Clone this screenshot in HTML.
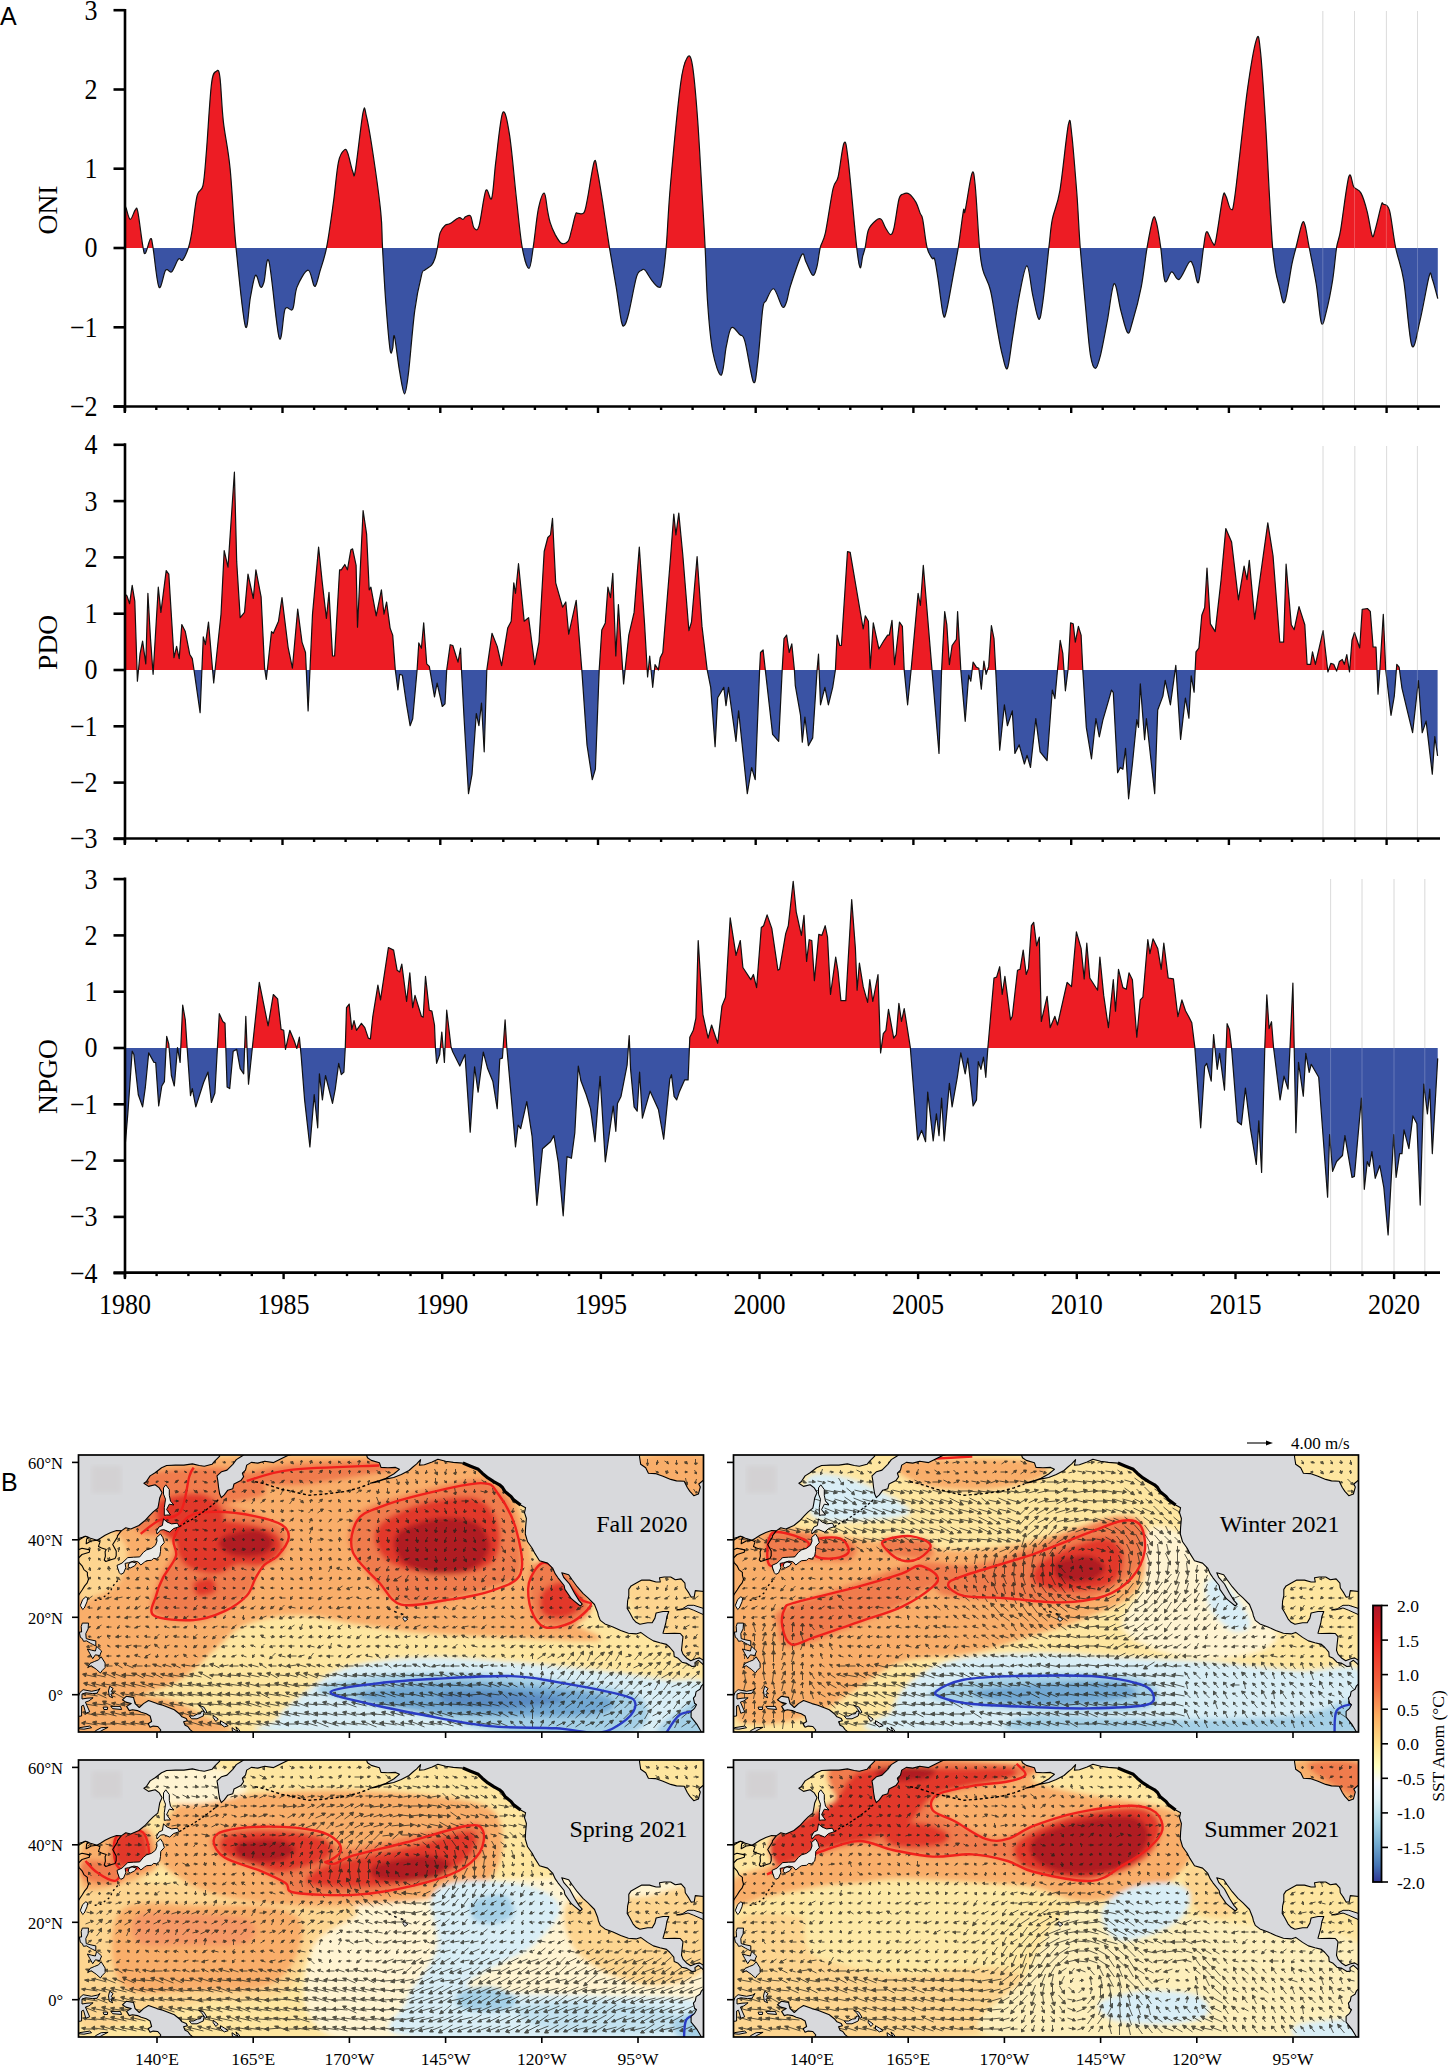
<!DOCTYPE html>
<html><head><meta charset="utf-8"><style>
html,body{margin:0;padding:0;background:#fff;}
body{width:1449px;height:2067px;position:relative;overflow:hidden;}
svg{position:absolute;left:0;top:0;}
.tk{font-family:"Liberation Serif",serif;font-size:26px;fill:#000;}
.lb{font-family:"Liberation Sans",sans-serif;font-size:25px;fill:#000;}
.mp{font-family:"Liberation Serif",serif;font-size:16.5px;fill:#000;}
.mpb{font-family:"Liberation Serif",serif;font-size:17.5px;fill:#000;}
.cb{font-family:"Liberation Serif",serif;font-size:17.5px;fill:#000;}
.pl{font-family:"Liberation Serif",serif;font-size:24px;fill:#000;}
</style></head><body>
<svg width="1449" height="2067" viewBox="0 0 1449 2067">
<text x="0" y="25" class="lb">A</text>
<text x="1" y="1491" class="lb">B</text>
<clipPath id="c_ONI_up"><rect x="0" y="0" width="1449" height="248"/></clipPath>
<clipPath id="c_ONI_dn"><rect x="0" y="248" width="1449" height="1000"/></clipPath>
<line x1="1322.8" y1="11" x2="1322.8" y2="406.5" stroke="#d4d4d4" stroke-width="1"/>
<line x1="1354.5" y1="11" x2="1354.5" y2="406.5" stroke="#d4d4d4" stroke-width="1"/>
<line x1="1386.4" y1="11" x2="1386.4" y2="406.5" stroke="#d4d4d4" stroke-width="1"/>
<line x1="1417.5" y1="11" x2="1417.5" y2="406.5" stroke="#d4d4d4" stroke-width="1"/>
<path d="M125,248 L125,207.5 C125.2,207.5 125.1,205.5 125.9,207.5 C126.8,209.5 128.6,218.9 130.2,219.4 C131.7,219.8 134,211.3 135.2,210 C136.5,208.8 136.5,205.7 137.8,211.7 C139.1,217.8 141.6,239.5 142.9,246.5 C144.1,253.4 144.1,254.5 145.4,253.2 C146.7,252 149.2,239.8 150.5,238.8 C151.8,237.9 151.6,239.3 153,247.3 C154.4,255.4 156.8,283.3 159,287.1 C161.1,290.9 163.6,272.7 165.7,270.2 C167.8,267.6 169.5,273.7 171.7,271.9 C173.8,270 176.6,261.1 178.4,259.2 C180.3,257.2 181,262 182.7,260 C184.4,258 187,252.1 188.6,247.3 C190.1,242.5 190.6,239.8 192,231.2 C193.4,222.6 195.2,203.3 197.1,195.7 C198.9,188 201.4,192.8 203,185.5 C204.5,178.2 205,168.6 206.4,151.6 C207.8,134.7 209.8,97.3 211.5,83.9 C213.1,70.5 215.1,72.3 216.5,71.2 C217.9,70 218.8,68.8 219.9,77.1 C221.1,85.4 221.6,105.9 223.3,121.1 C225,136.4 228,147.5 230.1,168.6 C232.2,189.6 233.5,221.1 236,247.3 C238.6,273.6 242.9,317.7 245.3,326.1 C247.7,334.4 248.7,305.7 250.4,297.3 C252.1,288.8 253.8,276.9 255.5,275.3 C257.2,273.6 259.2,286 260.6,287.1 C262,288.2 262.5,286.3 264,282 C265.4,277.8 266.5,252.4 269,261.7 C271.6,271 276.5,330 279.2,337.9 C281.9,345.8 282.9,313.9 285.1,309.1 C287.4,304.3 290.8,312.8 292.7,309.1 C294.7,305.5 294.4,293.6 297,287.1 C299.5,280.6 305.2,270.5 308,270.2 C310.8,269.9 312.5,283.2 313.9,285.4 C315.3,287.7 315.5,286 316.5,283.7 C317.4,281.5 318.2,277.9 319.8,271.9 C321.5,265.8 324.4,258.9 326.6,247.3 C328.9,235.7 331.4,216.7 333.4,202.4 C335.4,188.2 336.6,170.5 338.5,161.8 C340.3,153 342.8,151.3 344.4,149.9 C345.9,148.5 346.4,149.6 347.8,153.3 C349.2,157 351.6,169.1 352.9,171.9 C354.1,174.8 353.7,180.1 355.4,170.2 C357.1,160.4 361.2,121.7 363,112.7 C364.9,103.6 364.7,109 366.4,116.1 C368.1,123.1 370.8,138.9 373.2,155 C375.6,171.1 379.3,197.2 380.8,212.6 C382.4,228 381.7,232.1 382.5,247.3 C383.3,262.5 384.6,287 385.9,304 C387.2,321.1 389,342.4 390.1,349.8 C391.3,357.1 392,350.3 392.7,348.1 C393.4,345.8 393.2,332.6 394.4,336.2 C395.5,339.9 397.7,360.5 399.4,370.1 C401.1,379.7 403,393.8 404.5,393.8 C406.1,393.8 407.1,383.9 408.8,370.1 C410.4,356.3 412.6,326.6 414.7,310.8 C416.8,295 419.8,282 421.5,275.3 C423.1,268.5 423.1,271.9 424.8,270.2 C426.5,268.5 429.9,267.1 431.6,265.1 C433.3,263.1 434,261.3 435,258.3 C436,255.4 436.7,251.5 437.5,247.3 C438.4,243.1 438.8,236.6 440.1,232.9 C441.4,229.2 443.5,226.8 445.2,225.3 C446.9,223.7 448,224.9 450.2,223.6 C452.5,222.3 456.6,218.4 458.7,217.7 C460.8,217 461.8,219.5 462.9,219.4 C464.1,219.2 464.2,217.4 465.5,216.8 C466.8,216.3 469.2,214.1 470.6,216 C472,217.8 472.5,226.1 474,227.8 C475.4,229.5 477.1,232.3 479,226.1 C481,219.9 483.7,195.2 485.8,190.6 C487.9,185.9 490,203.3 491.7,198.2 C493.4,193.1 494.1,174.3 496,160.1 C497.8,145.8 500.5,116.9 502.7,112.7 C505,108.4 507.3,120.6 509.5,134.7 C511.8,148.8 514.2,178.6 516.3,197.3 C518.4,216.1 520.1,235.5 522.2,247.3 C524.3,259.2 527.2,268.5 529,268.5 C530.8,268.5 531.7,257.2 533.2,247.3 C534.8,237.4 536.5,218.2 538.3,209.2 C540.2,200.2 542.7,192.8 544.2,193.1 C545.8,193.4 546.6,206 547.6,210.9 C548.6,215.8 548.9,218.8 550.2,222.7 C551.4,226.7 553.4,231.2 555.2,234.6 C557.1,238 559.1,241.9 561.2,243.1 C563.3,244.2 566.3,243.4 567.9,241.4 C569.6,239.4 570.1,235.7 571.3,231.2 C572.6,226.7 574.4,217.2 575.6,214.3 C576.7,211.3 576.7,213.7 578.1,213.4 C579.5,213.2 582.5,215 584,212.6 C585.6,210.2 585.7,207.5 587.4,199 C589.1,190.6 592.5,166.3 594.2,161.8 C595.9,157.3 596.2,165.2 597.6,171.9 C599,178.7 600.7,189.9 602.7,202.4 C604.6,215 607.2,233.2 609.4,247.3 C611.7,261.4 614.2,274.8 616.2,287.1 C618.2,299.4 619.9,314.6 621.3,321 C622.7,327.3 623.4,326.6 624.7,325.2 C626,323.8 626.9,320.6 628.9,312.5 C630.9,304.5 634.4,284 636.5,276.9 C638.7,269.9 640.2,271.3 641.6,270.2 C643,269 643.3,268.5 645,270.2 C646.7,271.9 649.5,277.5 651.8,280.3 C654,283.2 656.9,286.8 658.6,287.1 C660.2,287.4 660.7,288.7 661.9,282 C663.2,275.4 664.8,263.4 666.2,247.3 C667.6,231.2 668,212.7 670.4,185.5 C672.8,158.3 677.7,105.2 680.6,83.9 C683.4,62.6 685.4,60.7 687.3,57.6 C689.3,54.5 690.7,55.2 692.4,65.2 C694.1,75.3 695.8,94.9 697.5,117.7 C699.2,140.6 701.3,180.8 702.6,202.4 C703.9,224 704.3,230.4 705.1,247.3 C706,264.2 706.4,286.7 707.7,304 C708.9,321.4 710.5,339.6 712.7,351.5 C715,363.3 719,376 721.2,375.2 C723.5,374.3 724.6,354.3 726.3,346.4 C728,338.5 729.1,329.7 731.4,327.8 C733.6,325.8 737.6,332.3 739.8,334.5 C742.1,336.8 742.7,333.4 744.9,341.3 C747.2,349.2 751.3,378.3 753.4,382 C755.5,385.6 756.1,375.5 757.6,363.3 C759.2,351.2 761.3,319.6 762.7,309.1 C764.1,298.7 764.3,304 766.1,300.7 C767.9,297.3 771,287.8 773.7,288.8 C776.4,289.8 780.1,304.3 782.2,306.6 C784.3,308.8 785,305.9 786.4,302.3 C787.8,298.8 788.1,293.3 790.6,285.4 C793.2,277.5 799.1,258.9 801.7,254.9 C804.2,251 804.1,258.3 805.9,261.7 C807.7,265.1 810.8,274.4 812.7,275.3 C814.5,276.1 815.6,271.4 816.9,266.8 C818.2,262.1 818.9,253 820.3,247.3 C821.7,241.7 823.2,242.6 825.4,232.9 C827.5,223.2 830.9,198.2 833,188.9 C835.1,179.6 836.2,184.6 838.1,177 C839.9,169.4 842.3,146 844,143.1 C845.7,140.3 846.1,142.7 848.2,160.1 C850.3,177.4 854.7,229.4 856.7,247.3 C858.7,265.2 859.1,266.1 860.1,267.6 C861.1,269.2 861.8,260 862.6,256.6 C863.5,253.2 864.2,251.8 865.2,247.3 C866.2,242.8 866.7,234 868.6,229.5 C870.4,225 874.1,221.9 876.2,220.2 C878.3,218.5 879.7,218.1 881.3,219.4 C882.8,220.6 883.9,225.3 885.5,227.8 C887,230.4 889.2,234.6 890.6,234.6 C892,234.6 892.5,233.8 894,227.8 C895.4,221.9 897.5,204.7 899,199 C900.6,193.4 901.6,194.8 903.3,194 C905,193.1 907.1,192.5 909.2,194 C911.3,195.4 914.1,199.2 916,202.4 C917.8,205.7 919.1,210.6 920.2,213.4 C921.3,216.3 921.6,213.7 922.7,219.4 C923.9,225 925.4,240.8 927,247.3 C928.5,253.8 930.8,256.3 932.1,258.3 C933.3,260.3 933.6,255.8 934.6,259.2 C935.6,262.5 936.6,269.5 938,278.6 C939.4,287.8 941.7,308.8 943.1,314.2 C944.5,319.6 944.8,317.3 946.5,310.8 C948.2,304.3 951.3,285.8 953.2,275.3 C955.2,264.7 956.6,258 958.3,247.3 C960,236.6 962.3,217 963.4,210.9 C964.5,204.8 963.7,217.1 965.1,210.9 C966.5,204.7 970.2,177.9 971.9,173.6 C973.5,169.4 974,173.2 975.2,185.5 C976.5,197.8 978.2,233.2 979.5,247.3 C980.7,261.4 981,263 982.9,270.2 C984.7,277.4 988.1,280.6 990.5,290.5 C992.9,300.4 995.3,318.7 997.3,329.4 C999.2,340.2 1000.6,348.4 1002.3,354.9 C1004,361.3 1005.7,371.2 1007.4,368.4 C1009.1,365.6 1010.5,350.1 1012.5,337.9 C1014.5,325.8 1016.9,307.6 1019.3,295.6 C1021.7,283.6 1024.6,265.9 1026.9,265.9 C1029.2,265.9 1030.8,286.7 1032.8,295.6 C1034.8,304.5 1037.1,318.4 1038.8,319.3 C1040.4,320.1 1041.3,312.7 1043,300.7 C1044.7,288.7 1047.4,260.9 1048.9,247.3 C1050.5,233.8 1050.5,228.8 1052.3,219.4 C1054.1,209.9 1057.2,206.4 1059.9,190.6 C1062.6,174.8 1066.4,133.8 1068.4,124.5 C1070.4,115.2 1070.4,123.1 1071.8,134.7 C1073.2,146.3 1075.4,175.2 1076.9,194 C1078.3,212.7 1078.8,229 1080.2,247.3 C1081.7,265.7 1083.6,286.1 1085.3,304 C1087,322 1088.7,344.1 1090.4,354.9 C1092.1,365.6 1093.8,368.4 1095.5,368.4 C1097.2,368.4 1098.6,362.8 1100.6,354.9 C1102.5,346.9 1105.1,332.8 1107.3,321 C1109.6,309.1 1111.9,285.4 1114.1,283.7 C1116.4,282 1118.6,302.6 1120.9,310.8 C1123.2,319 1125.7,331.1 1127.7,332.8 C1129.6,334.5 1130.5,328.6 1132.7,321 C1135,313.4 1138.8,299.4 1141.2,287.1 C1143.6,274.8 1145.2,258.7 1147.1,247.3 C1149.1,235.9 1151.5,222.6 1153.1,218.5 C1154.6,214.4 1155.2,218 1156.5,222.7 C1157.7,227.5 1159.3,237.6 1160.7,247.3 C1162.1,257 1163.1,277.1 1164.9,281.2 C1166.8,285.3 1169.3,272.2 1171.7,271.9 C1174.1,271.6 1176.2,281 1179.1,279.4 C1182.1,277.8 1186.9,264.3 1189.3,262.1 C1191.7,259.9 1191.8,262.8 1193.4,266.2 C1194.9,269.6 1196.8,285.6 1198.4,282.5 C1200.1,279.3 1202.2,256 1203.5,247.5 C1204.9,239 1205.1,232.4 1206.6,231.7 C1208.1,230.9 1211.2,241.3 1212.7,242.8 C1214.2,244.4 1214,248.4 1215.7,240.8 C1217.4,233.2 1221.1,204.6 1222.8,197.1 C1224.5,189.7 1224.5,194.1 1225.9,196.1 C1227.2,198.1 1229.4,209.5 1231,209.3 C1232.5,209.1 1232.3,214.7 1235,195.1 C1237.7,175.4 1243.7,117.4 1247.2,91.4 C1250.8,65.5 1254.2,46.4 1256.4,39.6 C1258.6,32.9 1258.9,37.1 1260.4,50.8 C1262,64.5 1263.5,89.1 1265.5,121.9 C1267.5,154.7 1270.3,219.7 1272.6,247.5 C1275,275.3 1277.7,279.5 1279.7,288.6 C1281.8,297.6 1282.8,305.8 1284.8,301.8 C1286.8,297.7 1290.1,273.2 1291.9,264.2 C1293.8,255.1 1294.3,254.3 1296,247.5 C1297.7,240.7 1300.6,227.2 1302.1,223.5 C1303.6,219.9 1303.9,221.6 1305.1,225.6 C1306.3,229.6 1307.3,237.7 1309.2,247.5 C1311.1,257.3 1314.3,271.9 1316.3,284.5 C1318.3,297.1 1319.7,318.7 1321.4,323.1 C1323.1,327.5 1324.6,318 1326.5,310.9 C1328.3,303.8 1330.9,291 1332.6,280.4 C1334.3,269.9 1335.3,256 1336.6,247.5 C1338,239 1338.7,241.4 1340.7,229.6 C1342.7,217.8 1346.6,183.9 1348.8,176.8 C1351,169.7 1351.9,184.2 1353.9,187 C1355.9,189.7 1358.8,189 1361,193.1 C1363.2,197.1 1365.3,204.2 1367.1,211.3 C1369,218.5 1370.8,232.7 1372.2,235.7 C1373.5,238.8 1373.7,234.7 1375.2,229.6 C1376.8,224.5 1380,209.5 1381.3,205.2 C1382.7,201 1382,203.4 1383.4,204.2 C1384.7,205.1 1387.4,203.1 1389.5,210.3 C1391.5,217.5 1393.2,235.8 1395.6,247.5 C1397.9,259.2 1401,264.1 1403.7,280.4 C1406.4,296.8 1409.1,338.7 1411.8,345.5 C1414.5,352.2 1417.1,332.6 1419.9,321.1 C1422.8,309.6 1427.1,283.5 1429.1,276.4 C1431.1,269.3 1430.7,274.7 1432.1,278.4 C1433.6,282.1 1436.9,295.3 1437.8,298.7 L1437.8,248 Z" fill="#ed1c24" clip-path="url(#c_ONI_up)"/>
<path d="M125,248 L125,207.5 C125.2,207.5 125.1,205.5 125.9,207.5 C126.8,209.5 128.6,218.9 130.2,219.4 C131.7,219.8 134,211.3 135.2,210 C136.5,208.8 136.5,205.7 137.8,211.7 C139.1,217.8 141.6,239.5 142.9,246.5 C144.1,253.4 144.1,254.5 145.4,253.2 C146.7,252 149.2,239.8 150.5,238.8 C151.8,237.9 151.6,239.3 153,247.3 C154.4,255.4 156.8,283.3 159,287.1 C161.1,290.9 163.6,272.7 165.7,270.2 C167.8,267.6 169.5,273.7 171.7,271.9 C173.8,270 176.6,261.1 178.4,259.2 C180.3,257.2 181,262 182.7,260 C184.4,258 187,252.1 188.6,247.3 C190.1,242.5 190.6,239.8 192,231.2 C193.4,222.6 195.2,203.3 197.1,195.7 C198.9,188 201.4,192.8 203,185.5 C204.5,178.2 205,168.6 206.4,151.6 C207.8,134.7 209.8,97.3 211.5,83.9 C213.1,70.5 215.1,72.3 216.5,71.2 C217.9,70 218.8,68.8 219.9,77.1 C221.1,85.4 221.6,105.9 223.3,121.1 C225,136.4 228,147.5 230.1,168.6 C232.2,189.6 233.5,221.1 236,247.3 C238.6,273.6 242.9,317.7 245.3,326.1 C247.7,334.4 248.7,305.7 250.4,297.3 C252.1,288.8 253.8,276.9 255.5,275.3 C257.2,273.6 259.2,286 260.6,287.1 C262,288.2 262.5,286.3 264,282 C265.4,277.8 266.5,252.4 269,261.7 C271.6,271 276.5,330 279.2,337.9 C281.9,345.8 282.9,313.9 285.1,309.1 C287.4,304.3 290.8,312.8 292.7,309.1 C294.7,305.5 294.4,293.6 297,287.1 C299.5,280.6 305.2,270.5 308,270.2 C310.8,269.9 312.5,283.2 313.9,285.4 C315.3,287.7 315.5,286 316.5,283.7 C317.4,281.5 318.2,277.9 319.8,271.9 C321.5,265.8 324.4,258.9 326.6,247.3 C328.9,235.7 331.4,216.7 333.4,202.4 C335.4,188.2 336.6,170.5 338.5,161.8 C340.3,153 342.8,151.3 344.4,149.9 C345.9,148.5 346.4,149.6 347.8,153.3 C349.2,157 351.6,169.1 352.9,171.9 C354.1,174.8 353.7,180.1 355.4,170.2 C357.1,160.4 361.2,121.7 363,112.7 C364.9,103.6 364.7,109 366.4,116.1 C368.1,123.1 370.8,138.9 373.2,155 C375.6,171.1 379.3,197.2 380.8,212.6 C382.4,228 381.7,232.1 382.5,247.3 C383.3,262.5 384.6,287 385.9,304 C387.2,321.1 389,342.4 390.1,349.8 C391.3,357.1 392,350.3 392.7,348.1 C393.4,345.8 393.2,332.6 394.4,336.2 C395.5,339.9 397.7,360.5 399.4,370.1 C401.1,379.7 403,393.8 404.5,393.8 C406.1,393.8 407.1,383.9 408.8,370.1 C410.4,356.3 412.6,326.6 414.7,310.8 C416.8,295 419.8,282 421.5,275.3 C423.1,268.5 423.1,271.9 424.8,270.2 C426.5,268.5 429.9,267.1 431.6,265.1 C433.3,263.1 434,261.3 435,258.3 C436,255.4 436.7,251.5 437.5,247.3 C438.4,243.1 438.8,236.6 440.1,232.9 C441.4,229.2 443.5,226.8 445.2,225.3 C446.9,223.7 448,224.9 450.2,223.6 C452.5,222.3 456.6,218.4 458.7,217.7 C460.8,217 461.8,219.5 462.9,219.4 C464.1,219.2 464.2,217.4 465.5,216.8 C466.8,216.3 469.2,214.1 470.6,216 C472,217.8 472.5,226.1 474,227.8 C475.4,229.5 477.1,232.3 479,226.1 C481,219.9 483.7,195.2 485.8,190.6 C487.9,185.9 490,203.3 491.7,198.2 C493.4,193.1 494.1,174.3 496,160.1 C497.8,145.8 500.5,116.9 502.7,112.7 C505,108.4 507.3,120.6 509.5,134.7 C511.8,148.8 514.2,178.6 516.3,197.3 C518.4,216.1 520.1,235.5 522.2,247.3 C524.3,259.2 527.2,268.5 529,268.5 C530.8,268.5 531.7,257.2 533.2,247.3 C534.8,237.4 536.5,218.2 538.3,209.2 C540.2,200.2 542.7,192.8 544.2,193.1 C545.8,193.4 546.6,206 547.6,210.9 C548.6,215.8 548.9,218.8 550.2,222.7 C551.4,226.7 553.4,231.2 555.2,234.6 C557.1,238 559.1,241.9 561.2,243.1 C563.3,244.2 566.3,243.4 567.9,241.4 C569.6,239.4 570.1,235.7 571.3,231.2 C572.6,226.7 574.4,217.2 575.6,214.3 C576.7,211.3 576.7,213.7 578.1,213.4 C579.5,213.2 582.5,215 584,212.6 C585.6,210.2 585.7,207.5 587.4,199 C589.1,190.6 592.5,166.3 594.2,161.8 C595.9,157.3 596.2,165.2 597.6,171.9 C599,178.7 600.7,189.9 602.7,202.4 C604.6,215 607.2,233.2 609.4,247.3 C611.7,261.4 614.2,274.8 616.2,287.1 C618.2,299.4 619.9,314.6 621.3,321 C622.7,327.3 623.4,326.6 624.7,325.2 C626,323.8 626.9,320.6 628.9,312.5 C630.9,304.5 634.4,284 636.5,276.9 C638.7,269.9 640.2,271.3 641.6,270.2 C643,269 643.3,268.5 645,270.2 C646.7,271.9 649.5,277.5 651.8,280.3 C654,283.2 656.9,286.8 658.6,287.1 C660.2,287.4 660.7,288.7 661.9,282 C663.2,275.4 664.8,263.4 666.2,247.3 C667.6,231.2 668,212.7 670.4,185.5 C672.8,158.3 677.7,105.2 680.6,83.9 C683.4,62.6 685.4,60.7 687.3,57.6 C689.3,54.5 690.7,55.2 692.4,65.2 C694.1,75.3 695.8,94.9 697.5,117.7 C699.2,140.6 701.3,180.8 702.6,202.4 C703.9,224 704.3,230.4 705.1,247.3 C706,264.2 706.4,286.7 707.7,304 C708.9,321.4 710.5,339.6 712.7,351.5 C715,363.3 719,376 721.2,375.2 C723.5,374.3 724.6,354.3 726.3,346.4 C728,338.5 729.1,329.7 731.4,327.8 C733.6,325.8 737.6,332.3 739.8,334.5 C742.1,336.8 742.7,333.4 744.9,341.3 C747.2,349.2 751.3,378.3 753.4,382 C755.5,385.6 756.1,375.5 757.6,363.3 C759.2,351.2 761.3,319.6 762.7,309.1 C764.1,298.7 764.3,304 766.1,300.7 C767.9,297.3 771,287.8 773.7,288.8 C776.4,289.8 780.1,304.3 782.2,306.6 C784.3,308.8 785,305.9 786.4,302.3 C787.8,298.8 788.1,293.3 790.6,285.4 C793.2,277.5 799.1,258.9 801.7,254.9 C804.2,251 804.1,258.3 805.9,261.7 C807.7,265.1 810.8,274.4 812.7,275.3 C814.5,276.1 815.6,271.4 816.9,266.8 C818.2,262.1 818.9,253 820.3,247.3 C821.7,241.7 823.2,242.6 825.4,232.9 C827.5,223.2 830.9,198.2 833,188.9 C835.1,179.6 836.2,184.6 838.1,177 C839.9,169.4 842.3,146 844,143.1 C845.7,140.3 846.1,142.7 848.2,160.1 C850.3,177.4 854.7,229.4 856.7,247.3 C858.7,265.2 859.1,266.1 860.1,267.6 C861.1,269.2 861.8,260 862.6,256.6 C863.5,253.2 864.2,251.8 865.2,247.3 C866.2,242.8 866.7,234 868.6,229.5 C870.4,225 874.1,221.9 876.2,220.2 C878.3,218.5 879.7,218.1 881.3,219.4 C882.8,220.6 883.9,225.3 885.5,227.8 C887,230.4 889.2,234.6 890.6,234.6 C892,234.6 892.5,233.8 894,227.8 C895.4,221.9 897.5,204.7 899,199 C900.6,193.4 901.6,194.8 903.3,194 C905,193.1 907.1,192.5 909.2,194 C911.3,195.4 914.1,199.2 916,202.4 C917.8,205.7 919.1,210.6 920.2,213.4 C921.3,216.3 921.6,213.7 922.7,219.4 C923.9,225 925.4,240.8 927,247.3 C928.5,253.8 930.8,256.3 932.1,258.3 C933.3,260.3 933.6,255.8 934.6,259.2 C935.6,262.5 936.6,269.5 938,278.6 C939.4,287.8 941.7,308.8 943.1,314.2 C944.5,319.6 944.8,317.3 946.5,310.8 C948.2,304.3 951.3,285.8 953.2,275.3 C955.2,264.7 956.6,258 958.3,247.3 C960,236.6 962.3,217 963.4,210.9 C964.5,204.8 963.7,217.1 965.1,210.9 C966.5,204.7 970.2,177.9 971.9,173.6 C973.5,169.4 974,173.2 975.2,185.5 C976.5,197.8 978.2,233.2 979.5,247.3 C980.7,261.4 981,263 982.9,270.2 C984.7,277.4 988.1,280.6 990.5,290.5 C992.9,300.4 995.3,318.7 997.3,329.4 C999.2,340.2 1000.6,348.4 1002.3,354.9 C1004,361.3 1005.7,371.2 1007.4,368.4 C1009.1,365.6 1010.5,350.1 1012.5,337.9 C1014.5,325.8 1016.9,307.6 1019.3,295.6 C1021.7,283.6 1024.6,265.9 1026.9,265.9 C1029.2,265.9 1030.8,286.7 1032.8,295.6 C1034.8,304.5 1037.1,318.4 1038.8,319.3 C1040.4,320.1 1041.3,312.7 1043,300.7 C1044.7,288.7 1047.4,260.9 1048.9,247.3 C1050.5,233.8 1050.5,228.8 1052.3,219.4 C1054.1,209.9 1057.2,206.4 1059.9,190.6 C1062.6,174.8 1066.4,133.8 1068.4,124.5 C1070.4,115.2 1070.4,123.1 1071.8,134.7 C1073.2,146.3 1075.4,175.2 1076.9,194 C1078.3,212.7 1078.8,229 1080.2,247.3 C1081.7,265.7 1083.6,286.1 1085.3,304 C1087,322 1088.7,344.1 1090.4,354.9 C1092.1,365.6 1093.8,368.4 1095.5,368.4 C1097.2,368.4 1098.6,362.8 1100.6,354.9 C1102.5,346.9 1105.1,332.8 1107.3,321 C1109.6,309.1 1111.9,285.4 1114.1,283.7 C1116.4,282 1118.6,302.6 1120.9,310.8 C1123.2,319 1125.7,331.1 1127.7,332.8 C1129.6,334.5 1130.5,328.6 1132.7,321 C1135,313.4 1138.8,299.4 1141.2,287.1 C1143.6,274.8 1145.2,258.7 1147.1,247.3 C1149.1,235.9 1151.5,222.6 1153.1,218.5 C1154.6,214.4 1155.2,218 1156.5,222.7 C1157.7,227.5 1159.3,237.6 1160.7,247.3 C1162.1,257 1163.1,277.1 1164.9,281.2 C1166.8,285.3 1169.3,272.2 1171.7,271.9 C1174.1,271.6 1176.2,281 1179.1,279.4 C1182.1,277.8 1186.9,264.3 1189.3,262.1 C1191.7,259.9 1191.8,262.8 1193.4,266.2 C1194.9,269.6 1196.8,285.6 1198.4,282.5 C1200.1,279.3 1202.2,256 1203.5,247.5 C1204.9,239 1205.1,232.4 1206.6,231.7 C1208.1,230.9 1211.2,241.3 1212.7,242.8 C1214.2,244.4 1214,248.4 1215.7,240.8 C1217.4,233.2 1221.1,204.6 1222.8,197.1 C1224.5,189.7 1224.5,194.1 1225.9,196.1 C1227.2,198.1 1229.4,209.5 1231,209.3 C1232.5,209.1 1232.3,214.7 1235,195.1 C1237.7,175.4 1243.7,117.4 1247.2,91.4 C1250.8,65.5 1254.2,46.4 1256.4,39.6 C1258.6,32.9 1258.9,37.1 1260.4,50.8 C1262,64.5 1263.5,89.1 1265.5,121.9 C1267.5,154.7 1270.3,219.7 1272.6,247.5 C1275,275.3 1277.7,279.5 1279.7,288.6 C1281.8,297.6 1282.8,305.8 1284.8,301.8 C1286.8,297.7 1290.1,273.2 1291.9,264.2 C1293.8,255.1 1294.3,254.3 1296,247.5 C1297.7,240.7 1300.6,227.2 1302.1,223.5 C1303.6,219.9 1303.9,221.6 1305.1,225.6 C1306.3,229.6 1307.3,237.7 1309.2,247.5 C1311.1,257.3 1314.3,271.9 1316.3,284.5 C1318.3,297.1 1319.7,318.7 1321.4,323.1 C1323.1,327.5 1324.6,318 1326.5,310.9 C1328.3,303.8 1330.9,291 1332.6,280.4 C1334.3,269.9 1335.3,256 1336.6,247.5 C1338,239 1338.7,241.4 1340.7,229.6 C1342.7,217.8 1346.6,183.9 1348.8,176.8 C1351,169.7 1351.9,184.2 1353.9,187 C1355.9,189.7 1358.8,189 1361,193.1 C1363.2,197.1 1365.3,204.2 1367.1,211.3 C1369,218.5 1370.8,232.7 1372.2,235.7 C1373.5,238.8 1373.7,234.7 1375.2,229.6 C1376.8,224.5 1380,209.5 1381.3,205.2 C1382.7,201 1382,203.4 1383.4,204.2 C1384.7,205.1 1387.4,203.1 1389.5,210.3 C1391.5,217.5 1393.2,235.8 1395.6,247.5 C1397.9,259.2 1401,264.1 1403.7,280.4 C1406.4,296.8 1409.1,338.7 1411.8,345.5 C1414.5,352.2 1417.1,332.6 1419.9,321.1 C1422.8,309.6 1427.1,283.5 1429.1,276.4 C1431.1,269.3 1430.7,274.7 1432.1,278.4 C1433.6,282.1 1436.9,295.3 1437.8,298.7 L1437.8,248 Z" fill="#3a53a4" clip-path="url(#c_ONI_dn)"/>
<path d="M125,207.5 C125.2,207.5 125.1,205.5 125.9,207.5 C126.8,209.5 128.6,218.9 130.2,219.4 C131.7,219.8 134,211.3 135.2,210 C136.5,208.8 136.5,205.7 137.8,211.7 C139.1,217.8 141.6,239.5 142.9,246.5 C144.1,253.4 144.1,254.5 145.4,253.2 C146.7,252 149.2,239.8 150.5,238.8 C151.8,237.9 151.6,239.3 153,247.3 C154.4,255.4 156.8,283.3 159,287.1 C161.1,290.9 163.6,272.7 165.7,270.2 C167.8,267.6 169.5,273.7 171.7,271.9 C173.8,270 176.6,261.1 178.4,259.2 C180.3,257.2 181,262 182.7,260 C184.4,258 187,252.1 188.6,247.3 C190.1,242.5 190.6,239.8 192,231.2 C193.4,222.6 195.2,203.3 197.1,195.7 C198.9,188 201.4,192.8 203,185.5 C204.5,178.2 205,168.6 206.4,151.6 C207.8,134.7 209.8,97.3 211.5,83.9 C213.1,70.5 215.1,72.3 216.5,71.2 C217.9,70 218.8,68.8 219.9,77.1 C221.1,85.4 221.6,105.9 223.3,121.1 C225,136.4 228,147.5 230.1,168.6 C232.2,189.6 233.5,221.1 236,247.3 C238.6,273.6 242.9,317.7 245.3,326.1 C247.7,334.4 248.7,305.7 250.4,297.3 C252.1,288.8 253.8,276.9 255.5,275.3 C257.2,273.6 259.2,286 260.6,287.1 C262,288.2 262.5,286.3 264,282 C265.4,277.8 266.5,252.4 269,261.7 C271.6,271 276.5,330 279.2,337.9 C281.9,345.8 282.9,313.9 285.1,309.1 C287.4,304.3 290.8,312.8 292.7,309.1 C294.7,305.5 294.4,293.6 297,287.1 C299.5,280.6 305.2,270.5 308,270.2 C310.8,269.9 312.5,283.2 313.9,285.4 C315.3,287.7 315.5,286 316.5,283.7 C317.4,281.5 318.2,277.9 319.8,271.9 C321.5,265.8 324.4,258.9 326.6,247.3 C328.9,235.7 331.4,216.7 333.4,202.4 C335.4,188.2 336.6,170.5 338.5,161.8 C340.3,153 342.8,151.3 344.4,149.9 C345.9,148.5 346.4,149.6 347.8,153.3 C349.2,157 351.6,169.1 352.9,171.9 C354.1,174.8 353.7,180.1 355.4,170.2 C357.1,160.4 361.2,121.7 363,112.7 C364.9,103.6 364.7,109 366.4,116.1 C368.1,123.1 370.8,138.9 373.2,155 C375.6,171.1 379.3,197.2 380.8,212.6 C382.4,228 381.7,232.1 382.5,247.3 C383.3,262.5 384.6,287 385.9,304 C387.2,321.1 389,342.4 390.1,349.8 C391.3,357.1 392,350.3 392.7,348.1 C393.4,345.8 393.2,332.6 394.4,336.2 C395.5,339.9 397.7,360.5 399.4,370.1 C401.1,379.7 403,393.8 404.5,393.8 C406.1,393.8 407.1,383.9 408.8,370.1 C410.4,356.3 412.6,326.6 414.7,310.8 C416.8,295 419.8,282 421.5,275.3 C423.1,268.5 423.1,271.9 424.8,270.2 C426.5,268.5 429.9,267.1 431.6,265.1 C433.3,263.1 434,261.3 435,258.3 C436,255.4 436.7,251.5 437.5,247.3 C438.4,243.1 438.8,236.6 440.1,232.9 C441.4,229.2 443.5,226.8 445.2,225.3 C446.9,223.7 448,224.9 450.2,223.6 C452.5,222.3 456.6,218.4 458.7,217.7 C460.8,217 461.8,219.5 462.9,219.4 C464.1,219.2 464.2,217.4 465.5,216.8 C466.8,216.3 469.2,214.1 470.6,216 C472,217.8 472.5,226.1 474,227.8 C475.4,229.5 477.1,232.3 479,226.1 C481,219.9 483.7,195.2 485.8,190.6 C487.9,185.9 490,203.3 491.7,198.2 C493.4,193.1 494.1,174.3 496,160.1 C497.8,145.8 500.5,116.9 502.7,112.7 C505,108.4 507.3,120.6 509.5,134.7 C511.8,148.8 514.2,178.6 516.3,197.3 C518.4,216.1 520.1,235.5 522.2,247.3 C524.3,259.2 527.2,268.5 529,268.5 C530.8,268.5 531.7,257.2 533.2,247.3 C534.8,237.4 536.5,218.2 538.3,209.2 C540.2,200.2 542.7,192.8 544.2,193.1 C545.8,193.4 546.6,206 547.6,210.9 C548.6,215.8 548.9,218.8 550.2,222.7 C551.4,226.7 553.4,231.2 555.2,234.6 C557.1,238 559.1,241.9 561.2,243.1 C563.3,244.2 566.3,243.4 567.9,241.4 C569.6,239.4 570.1,235.7 571.3,231.2 C572.6,226.7 574.4,217.2 575.6,214.3 C576.7,211.3 576.7,213.7 578.1,213.4 C579.5,213.2 582.5,215 584,212.6 C585.6,210.2 585.7,207.5 587.4,199 C589.1,190.6 592.5,166.3 594.2,161.8 C595.9,157.3 596.2,165.2 597.6,171.9 C599,178.7 600.7,189.9 602.7,202.4 C604.6,215 607.2,233.2 609.4,247.3 C611.7,261.4 614.2,274.8 616.2,287.1 C618.2,299.4 619.9,314.6 621.3,321 C622.7,327.3 623.4,326.6 624.7,325.2 C626,323.8 626.9,320.6 628.9,312.5 C630.9,304.5 634.4,284 636.5,276.9 C638.7,269.9 640.2,271.3 641.6,270.2 C643,269 643.3,268.5 645,270.2 C646.7,271.9 649.5,277.5 651.8,280.3 C654,283.2 656.9,286.8 658.6,287.1 C660.2,287.4 660.7,288.7 661.9,282 C663.2,275.4 664.8,263.4 666.2,247.3 C667.6,231.2 668,212.7 670.4,185.5 C672.8,158.3 677.7,105.2 680.6,83.9 C683.4,62.6 685.4,60.7 687.3,57.6 C689.3,54.5 690.7,55.2 692.4,65.2 C694.1,75.3 695.8,94.9 697.5,117.7 C699.2,140.6 701.3,180.8 702.6,202.4 C703.9,224 704.3,230.4 705.1,247.3 C706,264.2 706.4,286.7 707.7,304 C708.9,321.4 710.5,339.6 712.7,351.5 C715,363.3 719,376 721.2,375.2 C723.5,374.3 724.6,354.3 726.3,346.4 C728,338.5 729.1,329.7 731.4,327.8 C733.6,325.8 737.6,332.3 739.8,334.5 C742.1,336.8 742.7,333.4 744.9,341.3 C747.2,349.2 751.3,378.3 753.4,382 C755.5,385.6 756.1,375.5 757.6,363.3 C759.2,351.2 761.3,319.6 762.7,309.1 C764.1,298.7 764.3,304 766.1,300.7 C767.9,297.3 771,287.8 773.7,288.8 C776.4,289.8 780.1,304.3 782.2,306.6 C784.3,308.8 785,305.9 786.4,302.3 C787.8,298.8 788.1,293.3 790.6,285.4 C793.2,277.5 799.1,258.9 801.7,254.9 C804.2,251 804.1,258.3 805.9,261.7 C807.7,265.1 810.8,274.4 812.7,275.3 C814.5,276.1 815.6,271.4 816.9,266.8 C818.2,262.1 818.9,253 820.3,247.3 C821.7,241.7 823.2,242.6 825.4,232.9 C827.5,223.2 830.9,198.2 833,188.9 C835.1,179.6 836.2,184.6 838.1,177 C839.9,169.4 842.3,146 844,143.1 C845.7,140.3 846.1,142.7 848.2,160.1 C850.3,177.4 854.7,229.4 856.7,247.3 C858.7,265.2 859.1,266.1 860.1,267.6 C861.1,269.2 861.8,260 862.6,256.6 C863.5,253.2 864.2,251.8 865.2,247.3 C866.2,242.8 866.7,234 868.6,229.5 C870.4,225 874.1,221.9 876.2,220.2 C878.3,218.5 879.7,218.1 881.3,219.4 C882.8,220.6 883.9,225.3 885.5,227.8 C887,230.4 889.2,234.6 890.6,234.6 C892,234.6 892.5,233.8 894,227.8 C895.4,221.9 897.5,204.7 899,199 C900.6,193.4 901.6,194.8 903.3,194 C905,193.1 907.1,192.5 909.2,194 C911.3,195.4 914.1,199.2 916,202.4 C917.8,205.7 919.1,210.6 920.2,213.4 C921.3,216.3 921.6,213.7 922.7,219.4 C923.9,225 925.4,240.8 927,247.3 C928.5,253.8 930.8,256.3 932.1,258.3 C933.3,260.3 933.6,255.8 934.6,259.2 C935.6,262.5 936.6,269.5 938,278.6 C939.4,287.8 941.7,308.8 943.1,314.2 C944.5,319.6 944.8,317.3 946.5,310.8 C948.2,304.3 951.3,285.8 953.2,275.3 C955.2,264.7 956.6,258 958.3,247.3 C960,236.6 962.3,217 963.4,210.9 C964.5,204.8 963.7,217.1 965.1,210.9 C966.5,204.7 970.2,177.9 971.9,173.6 C973.5,169.4 974,173.2 975.2,185.5 C976.5,197.8 978.2,233.2 979.5,247.3 C980.7,261.4 981,263 982.9,270.2 C984.7,277.4 988.1,280.6 990.5,290.5 C992.9,300.4 995.3,318.7 997.3,329.4 C999.2,340.2 1000.6,348.4 1002.3,354.9 C1004,361.3 1005.7,371.2 1007.4,368.4 C1009.1,365.6 1010.5,350.1 1012.5,337.9 C1014.5,325.8 1016.9,307.6 1019.3,295.6 C1021.7,283.6 1024.6,265.9 1026.9,265.9 C1029.2,265.9 1030.8,286.7 1032.8,295.6 C1034.8,304.5 1037.1,318.4 1038.8,319.3 C1040.4,320.1 1041.3,312.7 1043,300.7 C1044.7,288.7 1047.4,260.9 1048.9,247.3 C1050.5,233.8 1050.5,228.8 1052.3,219.4 C1054.1,209.9 1057.2,206.4 1059.9,190.6 C1062.6,174.8 1066.4,133.8 1068.4,124.5 C1070.4,115.2 1070.4,123.1 1071.8,134.7 C1073.2,146.3 1075.4,175.2 1076.9,194 C1078.3,212.7 1078.8,229 1080.2,247.3 C1081.7,265.7 1083.6,286.1 1085.3,304 C1087,322 1088.7,344.1 1090.4,354.9 C1092.1,365.6 1093.8,368.4 1095.5,368.4 C1097.2,368.4 1098.6,362.8 1100.6,354.9 C1102.5,346.9 1105.1,332.8 1107.3,321 C1109.6,309.1 1111.9,285.4 1114.1,283.7 C1116.4,282 1118.6,302.6 1120.9,310.8 C1123.2,319 1125.7,331.1 1127.7,332.8 C1129.6,334.5 1130.5,328.6 1132.7,321 C1135,313.4 1138.8,299.4 1141.2,287.1 C1143.6,274.8 1145.2,258.7 1147.1,247.3 C1149.1,235.9 1151.5,222.6 1153.1,218.5 C1154.6,214.4 1155.2,218 1156.5,222.7 C1157.7,227.5 1159.3,237.6 1160.7,247.3 C1162.1,257 1163.1,277.1 1164.9,281.2 C1166.8,285.3 1169.3,272.2 1171.7,271.9 C1174.1,271.6 1176.2,281 1179.1,279.4 C1182.1,277.8 1186.9,264.3 1189.3,262.1 C1191.7,259.9 1191.8,262.8 1193.4,266.2 C1194.9,269.6 1196.8,285.6 1198.4,282.5 C1200.1,279.3 1202.2,256 1203.5,247.5 C1204.9,239 1205.1,232.4 1206.6,231.7 C1208.1,230.9 1211.2,241.3 1212.7,242.8 C1214.2,244.4 1214,248.4 1215.7,240.8 C1217.4,233.2 1221.1,204.6 1222.8,197.1 C1224.5,189.7 1224.5,194.1 1225.9,196.1 C1227.2,198.1 1229.4,209.5 1231,209.3 C1232.5,209.1 1232.3,214.7 1235,195.1 C1237.7,175.4 1243.7,117.4 1247.2,91.4 C1250.8,65.5 1254.2,46.4 1256.4,39.6 C1258.6,32.9 1258.9,37.1 1260.4,50.8 C1262,64.5 1263.5,89.1 1265.5,121.9 C1267.5,154.7 1270.3,219.7 1272.6,247.5 C1275,275.3 1277.7,279.5 1279.7,288.6 C1281.8,297.6 1282.8,305.8 1284.8,301.8 C1286.8,297.7 1290.1,273.2 1291.9,264.2 C1293.8,255.1 1294.3,254.3 1296,247.5 C1297.7,240.7 1300.6,227.2 1302.1,223.5 C1303.6,219.9 1303.9,221.6 1305.1,225.6 C1306.3,229.6 1307.3,237.7 1309.2,247.5 C1311.1,257.3 1314.3,271.9 1316.3,284.5 C1318.3,297.1 1319.7,318.7 1321.4,323.1 C1323.1,327.5 1324.6,318 1326.5,310.9 C1328.3,303.8 1330.9,291 1332.6,280.4 C1334.3,269.9 1335.3,256 1336.6,247.5 C1338,239 1338.7,241.4 1340.7,229.6 C1342.7,217.8 1346.6,183.9 1348.8,176.8 C1351,169.7 1351.9,184.2 1353.9,187 C1355.9,189.7 1358.8,189 1361,193.1 C1363.2,197.1 1365.3,204.2 1367.1,211.3 C1369,218.5 1370.8,232.7 1372.2,235.7 C1373.5,238.8 1373.7,234.7 1375.2,229.6 C1376.8,224.5 1380,209.5 1381.3,205.2 C1382.7,201 1382,203.4 1383.4,204.2 C1384.7,205.1 1387.4,203.1 1389.5,210.3 C1391.5,217.5 1393.2,235.8 1395.6,247.5 C1397.9,259.2 1401,264.1 1403.7,280.4 C1406.4,296.8 1409.1,338.7 1411.8,345.5 C1414.5,352.2 1417.1,332.6 1419.9,321.1 C1422.8,309.6 1427.1,283.5 1429.1,276.4 C1431.1,269.3 1430.7,274.7 1432.1,278.4 C1433.6,282.1 1436.9,295.3 1437.8,298.7" fill="none" stroke="#111" stroke-width="1.2" stroke-linejoin="round"/>
<line x1="1322.8" y1="11" x2="1322.8" y2="406.5" stroke="#ffffff" stroke-opacity="0.22" stroke-width="1"/>
<line x1="1354.5" y1="11" x2="1354.5" y2="406.5" stroke="#ffffff" stroke-opacity="0.22" stroke-width="1"/>
<line x1="1386.4" y1="11" x2="1386.4" y2="406.5" stroke="#ffffff" stroke-opacity="0.22" stroke-width="1"/>
<line x1="1417.5" y1="11" x2="1417.5" y2="406.5" stroke="#ffffff" stroke-opacity="0.22" stroke-width="1"/>
<line x1="125" y1="8.9" x2="125" y2="411.5" stroke="#000" stroke-width="2.6"/>
<line x1="113.5" y1="406.5" x2="1440" y2="406.5" stroke="#000" stroke-width="2.6"/>
<line x1="113.5" y1="10.2" x2="125" y2="10.2" stroke="#000" stroke-width="2.6"/>
<text transform="translate(97.5,10.2) scale(1,1.1)" y="8.55" text-anchor="end" class="tk">3</text>
<line x1="113.5" y1="89.5" x2="125" y2="89.5" stroke="#000" stroke-width="2.6"/>
<text transform="translate(97.5,89.5) scale(1,1.1)" y="8.55" text-anchor="end" class="tk">2</text>
<line x1="113.5" y1="168.7" x2="125" y2="168.7" stroke="#000" stroke-width="2.6"/>
<text transform="translate(97.5,168.7) scale(1,1.1)" y="8.55" text-anchor="end" class="tk">1</text>
<line x1="113.5" y1="248" x2="125" y2="248" stroke="#000" stroke-width="2.6"/>
<text transform="translate(97.5,248) scale(1,1.1)" y="8.55" text-anchor="end" class="tk">0</text>
<line x1="113.5" y1="327.3" x2="125" y2="327.3" stroke="#000" stroke-width="2.6"/>
<text transform="translate(97.5,327.3) scale(1,1.1)" y="8.55" text-anchor="end" class="tk">−1</text>
<line x1="113.5" y1="406.5" x2="125" y2="406.5" stroke="#000" stroke-width="2.6"/>
<text transform="translate(97.5,406.5) scale(1,1.1)" y="8.55" text-anchor="end" class="tk">−2</text>
<line x1="124.8" y1="406.5" x2="124.8" y2="413" stroke="#000" stroke-width="2.4"/>
<line x1="156.3" y1="406.5" x2="156.3" y2="410" stroke="#000" stroke-width="2.4"/>
<line x1="187.9" y1="406.5" x2="187.9" y2="410" stroke="#000" stroke-width="2.4"/>
<line x1="219.4" y1="406.5" x2="219.4" y2="410" stroke="#000" stroke-width="2.4"/>
<line x1="251" y1="406.5" x2="251" y2="410" stroke="#000" stroke-width="2.4"/>
<line x1="282.5" y1="406.5" x2="282.5" y2="413" stroke="#000" stroke-width="2.4"/>
<line x1="314.1" y1="406.5" x2="314.1" y2="410" stroke="#000" stroke-width="2.4"/>
<line x1="345.6" y1="406.5" x2="345.6" y2="410" stroke="#000" stroke-width="2.4"/>
<line x1="377.2" y1="406.5" x2="377.2" y2="410" stroke="#000" stroke-width="2.4"/>
<line x1="408.7" y1="406.5" x2="408.7" y2="410" stroke="#000" stroke-width="2.4"/>
<line x1="440.3" y1="406.5" x2="440.3" y2="413" stroke="#000" stroke-width="2.4"/>
<line x1="471.8" y1="406.5" x2="471.8" y2="410" stroke="#000" stroke-width="2.4"/>
<line x1="503.3" y1="406.5" x2="503.3" y2="410" stroke="#000" stroke-width="2.4"/>
<line x1="534.9" y1="406.5" x2="534.9" y2="410" stroke="#000" stroke-width="2.4"/>
<line x1="566.4" y1="406.5" x2="566.4" y2="410" stroke="#000" stroke-width="2.4"/>
<line x1="598" y1="406.5" x2="598" y2="413" stroke="#000" stroke-width="2.4"/>
<line x1="629.5" y1="406.5" x2="629.5" y2="410" stroke="#000" stroke-width="2.4"/>
<line x1="661.1" y1="406.5" x2="661.1" y2="410" stroke="#000" stroke-width="2.4"/>
<line x1="692.6" y1="406.5" x2="692.6" y2="410" stroke="#000" stroke-width="2.4"/>
<line x1="724.2" y1="406.5" x2="724.2" y2="410" stroke="#000" stroke-width="2.4"/>
<line x1="755.7" y1="406.5" x2="755.7" y2="413" stroke="#000" stroke-width="2.4"/>
<line x1="787.2" y1="406.5" x2="787.2" y2="410" stroke="#000" stroke-width="2.4"/>
<line x1="818.8" y1="406.5" x2="818.8" y2="410" stroke="#000" stroke-width="2.4"/>
<line x1="850.3" y1="406.5" x2="850.3" y2="410" stroke="#000" stroke-width="2.4"/>
<line x1="881.9" y1="406.5" x2="881.9" y2="410" stroke="#000" stroke-width="2.4"/>
<line x1="913.4" y1="406.5" x2="913.4" y2="413" stroke="#000" stroke-width="2.4"/>
<line x1="945" y1="406.5" x2="945" y2="410" stroke="#000" stroke-width="2.4"/>
<line x1="976.5" y1="406.5" x2="976.5" y2="410" stroke="#000" stroke-width="2.4"/>
<line x1="1008.1" y1="406.5" x2="1008.1" y2="410" stroke="#000" stroke-width="2.4"/>
<line x1="1039.6" y1="406.5" x2="1039.6" y2="410" stroke="#000" stroke-width="2.4"/>
<line x1="1071.2" y1="406.5" x2="1071.2" y2="413" stroke="#000" stroke-width="2.4"/>
<line x1="1102.7" y1="406.5" x2="1102.7" y2="410" stroke="#000" stroke-width="2.4"/>
<line x1="1134.2" y1="406.5" x2="1134.2" y2="410" stroke="#000" stroke-width="2.4"/>
<line x1="1165.8" y1="406.5" x2="1165.8" y2="410" stroke="#000" stroke-width="2.4"/>
<line x1="1197.3" y1="406.5" x2="1197.3" y2="410" stroke="#000" stroke-width="2.4"/>
<line x1="1228.9" y1="406.5" x2="1228.9" y2="413" stroke="#000" stroke-width="2.4"/>
<line x1="1260.4" y1="406.5" x2="1260.4" y2="410" stroke="#000" stroke-width="2.4"/>
<line x1="1292" y1="406.5" x2="1292" y2="410" stroke="#000" stroke-width="2.4"/>
<line x1="1323.5" y1="406.5" x2="1323.5" y2="410" stroke="#000" stroke-width="2.4"/>
<line x1="1355.1" y1="406.5" x2="1355.1" y2="410" stroke="#000" stroke-width="2.4"/>
<line x1="1386.6" y1="406.5" x2="1386.6" y2="413" stroke="#000" stroke-width="2.4"/>
<line x1="1418.1" y1="406.5" x2="1418.1" y2="410" stroke="#000" stroke-width="2.4"/>
<text transform="translate(57,210) rotate(-90)" text-anchor="middle" class="tk" style="font-size:27.5px">ONI</text>
<clipPath id="c_PDO_up"><rect x="0" y="0" width="1449" height="670"/></clipPath>
<clipPath id="c_PDO_dn"><rect x="0" y="670" width="1449" height="1000"/></clipPath>
<line x1="1323" y1="446" x2="1323" y2="838.5" stroke="#d4d4d4" stroke-width="1"/>
<line x1="1354.8" y1="446" x2="1354.8" y2="838.5" stroke="#d4d4d4" stroke-width="1"/>
<line x1="1386.6" y1="446" x2="1386.6" y2="838.5" stroke="#d4d4d4" stroke-width="1"/>
<line x1="1417.4" y1="446" x2="1417.4" y2="838.5" stroke="#d4d4d4" stroke-width="1"/>
<path d="M125,670 L125,595 L126.1,595 L127,595.9 L129.6,603.7 L132.2,585.4 L134.8,601.1 L137.4,681.2 L140,654.2 L142.6,641.2 L145.8,663.8 L147.9,593.3 L150.5,638.6 L153.1,674.3 L158.3,587.2 L160.9,612.4 L166.2,570.6 L168.8,574.1 L174,657.7 L176.6,646.4 L179.2,658.6 L181.8,624.6 L185.3,631.6 L189.7,654.2 L192.3,658.6 L194,669.9 L200.1,712.6 L201.9,669.9 L203.3,636.8 L205.4,644.7 L208.5,622 L213.7,683 L221,614.2 L224.2,550.6 L228,567.2 L234.4,472.2 L236.7,561.9 L240.2,617.7 L244.5,612.4 L248,574.1 L253.3,598.5 L255.9,569.8 L261.1,596.8 L264.6,668.2 L266.3,679.5 L271.5,631.6 L273.3,633.3 L278.5,621.2 L282,597.6 L288.1,647.3 L292.4,668.2 L297.7,609 L302,642.1 L305.5,652.5 L308.1,710.9 L312.5,614.2 L318.6,547.1 L322.1,581.1 L326.4,618.5 L329,592.4 L332.5,656 L334.6,656 L339.6,569.8 L341.3,569.8 L344.8,564.5 L347.4,569.8 L350.9,549.7 L352.6,548.9 L356.1,565.4 L357.5,627.2 L363.1,510.5 L366.6,534.1 L369.2,589.8 L370.9,587.2 L376.2,615.9 L381.4,589.8 L384,614.2 L386.6,602 L390.1,628.1 L392.7,635.1 L395.3,669.9 L397.9,690 L399.7,674.3 L402.3,675.2 L406.6,704.8 L410.1,725.7 L412.7,718.7 L417.1,669.9 L418.8,642.9 L421.4,648.2 L423.7,622.9 L426.7,663.8 L429.3,666.4 L434.5,696.9 L437.1,683 L442.3,706.5 L445,703.9 L446.7,669.9 L450.2,644.7 L452.8,645.5 L458,662.1 L460.6,648.2 L461.5,669.9 L464.1,718.7 L468.5,793.6 L472,774.4 L476.3,713.5 L478.9,725.7 L481.5,703 L484.2,751.8 L486.8,669.9 L492,633.3 L497.2,646.4 L501.6,665.6 L507.7,628.1 L511.2,621.2 L513.8,582.8 L515.5,593.3 L518.5,563.7 L524.2,621.2 L528.6,617.7 L534.7,664.7 L539,642.1 L544.2,551.5 L547.8,537.5 L550.5,534.9 L552.5,518.4 L555.7,582.8 L562.6,607.2 L565.8,602 L568.7,634.2 L576.2,600.3 L581.8,669.9 L587,744.8 L592.3,779.7 L595.4,769.2 L599.2,669.9 L601.8,629.9 L605.3,622.9 L607.9,587.2 L610.5,597.6 L612.8,573.3 L615.8,656 L618.4,604.6 L623.6,683.9 L628.8,635.1 L634.1,612.4 L639.3,547.1 L644.5,622.9 L647.6,676.9 L649.7,656 L652.7,687.3 L655,664.7 L658.4,669.9 L660.2,657.7 L662.8,652.5 L670.6,556.7 L673.8,514 L675.9,534.9 L678.8,513.2 L682.8,555 L688.9,630.7 L691.5,622 L697.1,556.7 L702,626.4 L707.2,669.9 L710.7,687.3 L715.1,746.6 L717.7,697.8 L723.8,687.3 L726,705.6 L728.5,687.3 L736,741.3 L738.6,710.9 L747.3,793.6 L751.6,767.5 L755.2,779.7 L759.6,669.9 L760.5,652.5 L763.1,649.9 L765.3,669.9 L772.6,734.4 L778.7,741.3 L782.2,669.9 L784,638.6 L786.6,635.1 L789.2,652.5 L791.8,643.8 L794.4,669.9 L795.3,685.6 L800.5,715.2 L802.3,742.2 L804.9,717 L808.4,745.7 L812.7,737.9 L817.1,669.9 L818.5,654.2 L820.5,704.8 L824.9,687.3 L828.4,704.8 L832.7,687.3 L835.4,669.9 L837.1,635.1 L839.7,645.5 L841.4,645.5 L847.5,551.5 L850.2,552.3 L863.2,629 L865.3,615.9 L868.4,621.2 L870.2,668.2 L873.3,622.9 L878.9,649 L884.1,640.3 L887.6,635.1 L889.3,635.1 L892,620.3 L894.6,664.7 L899.5,622 L902.4,626.4 L904.2,669.9 L907.6,704.8 L911.1,669.9 L918.1,593.3 L920.4,605.5 L923.3,565.4 L932,669.9 L939,753.5 L941.6,669.9 L944.7,611.6 L946.8,624.6 L949.4,664.7 L952.1,645.5 L956.4,639.4 L957.6,611.6 L960.8,669.9 L965.2,721.3 L968.7,675.2 L970.8,681.2 L973.1,662.1 L976.5,667.3 L978.8,668.2 L981.3,689.1 L983.9,661.2 L986.1,674.3 L988.7,666.4 L991.4,625.5 L994,638.6 L995.7,669.9 L999.7,750.1 L1004.4,704.8 L1007.4,725.7 L1012.3,710.9 L1014.9,753.5 L1019.2,744.8 L1024.4,764 L1027.1,755.3 L1030.5,767.5 L1035.8,718.7 L1040.1,751.8 L1047.1,760.5 L1052.3,690 L1054.9,698.7 L1060.2,640.3 L1062.8,653.4 L1065.4,690.8 L1068,669.9 L1070.6,622.9 L1073.2,623.8 L1075.3,642.1 L1078.4,626.4 L1081.1,635.1 L1082.8,669.9 L1086.3,727.4 L1091.5,758.8 L1095.9,718.7 L1099.3,737 L1102.8,720.4 L1108.1,702.1 L1111.5,690 L1113.3,692.6 L1117.6,772.7 L1120.3,767.5 L1122.9,769.2 L1125.5,748.3 L1128.6,798.8 L1132.4,764 L1136.8,719.6 L1138.5,727.4 L1140.3,683.9 L1144.6,739.6 L1146.4,718.7 L1154.7,793.6 L1157.7,710 L1162.9,696.1 L1165.2,680.4 L1170.4,704.8 L1175.8,665.3 L1180.6,739.4 L1185.4,698 L1188.9,718.2 L1191.2,675.9 L1194.1,692.2 L1196,651.8 L1198.9,648 L1201.8,615.2 L1204.7,607.5 L1207,568 L1210.4,623.9 L1215.2,631.6 L1221,580.6 L1225.8,528.6 L1231.6,542.1 L1238.4,599.8 L1244.1,566.1 L1247,579.6 L1249.3,560.3 L1254.7,619.1 L1259.5,582.5 L1267.8,522.8 L1273,555.5 L1279.8,642.2 L1283.6,642.2 L1286.1,564.2 L1291.3,624.8 L1294.2,629.7 L1299,606.6 L1304.8,624.8 L1307.1,664.3 L1310.6,664.3 L1312.5,651.8 L1315.4,664.3 L1323.1,630.6 L1327.9,672 L1330.8,663.4 L1333.7,664.3 L1336.6,671.1 L1339.4,661.4 L1342.3,659.5 L1344.3,664.3 L1346.8,654.7 L1349.5,672 L1352,640.3 L1354.5,632.5 L1359.7,648 L1362.2,609.4 L1367.4,608.5 L1370.3,611.4 L1373.1,647 L1376,647 L1378,694.2 L1379.9,669.1 L1383.3,614.3 L1385.7,669.7 L1391,715.3 L1394.3,696.1 L1396.8,664.3 L1399.1,667.2 L1402,688.4 L1406.8,708.6 L1412.6,732.7 L1418.4,680.7 L1422.2,732.7 L1426.1,721.1 L1432.3,774.1 L1434.8,736.5 L1437.6,755.8 L1437.6,670 Z" fill="#ed1c24" clip-path="url(#c_PDO_up)"/>
<path d="M125,670 L125,595 L126.1,595 L127,595.9 L129.6,603.7 L132.2,585.4 L134.8,601.1 L137.4,681.2 L140,654.2 L142.6,641.2 L145.8,663.8 L147.9,593.3 L150.5,638.6 L153.1,674.3 L158.3,587.2 L160.9,612.4 L166.2,570.6 L168.8,574.1 L174,657.7 L176.6,646.4 L179.2,658.6 L181.8,624.6 L185.3,631.6 L189.7,654.2 L192.3,658.6 L194,669.9 L200.1,712.6 L201.9,669.9 L203.3,636.8 L205.4,644.7 L208.5,622 L213.7,683 L221,614.2 L224.2,550.6 L228,567.2 L234.4,472.2 L236.7,561.9 L240.2,617.7 L244.5,612.4 L248,574.1 L253.3,598.5 L255.9,569.8 L261.1,596.8 L264.6,668.2 L266.3,679.5 L271.5,631.6 L273.3,633.3 L278.5,621.2 L282,597.6 L288.1,647.3 L292.4,668.2 L297.7,609 L302,642.1 L305.5,652.5 L308.1,710.9 L312.5,614.2 L318.6,547.1 L322.1,581.1 L326.4,618.5 L329,592.4 L332.5,656 L334.6,656 L339.6,569.8 L341.3,569.8 L344.8,564.5 L347.4,569.8 L350.9,549.7 L352.6,548.9 L356.1,565.4 L357.5,627.2 L363.1,510.5 L366.6,534.1 L369.2,589.8 L370.9,587.2 L376.2,615.9 L381.4,589.8 L384,614.2 L386.6,602 L390.1,628.1 L392.7,635.1 L395.3,669.9 L397.9,690 L399.7,674.3 L402.3,675.2 L406.6,704.8 L410.1,725.7 L412.7,718.7 L417.1,669.9 L418.8,642.9 L421.4,648.2 L423.7,622.9 L426.7,663.8 L429.3,666.4 L434.5,696.9 L437.1,683 L442.3,706.5 L445,703.9 L446.7,669.9 L450.2,644.7 L452.8,645.5 L458,662.1 L460.6,648.2 L461.5,669.9 L464.1,718.7 L468.5,793.6 L472,774.4 L476.3,713.5 L478.9,725.7 L481.5,703 L484.2,751.8 L486.8,669.9 L492,633.3 L497.2,646.4 L501.6,665.6 L507.7,628.1 L511.2,621.2 L513.8,582.8 L515.5,593.3 L518.5,563.7 L524.2,621.2 L528.6,617.7 L534.7,664.7 L539,642.1 L544.2,551.5 L547.8,537.5 L550.5,534.9 L552.5,518.4 L555.7,582.8 L562.6,607.2 L565.8,602 L568.7,634.2 L576.2,600.3 L581.8,669.9 L587,744.8 L592.3,779.7 L595.4,769.2 L599.2,669.9 L601.8,629.9 L605.3,622.9 L607.9,587.2 L610.5,597.6 L612.8,573.3 L615.8,656 L618.4,604.6 L623.6,683.9 L628.8,635.1 L634.1,612.4 L639.3,547.1 L644.5,622.9 L647.6,676.9 L649.7,656 L652.7,687.3 L655,664.7 L658.4,669.9 L660.2,657.7 L662.8,652.5 L670.6,556.7 L673.8,514 L675.9,534.9 L678.8,513.2 L682.8,555 L688.9,630.7 L691.5,622 L697.1,556.7 L702,626.4 L707.2,669.9 L710.7,687.3 L715.1,746.6 L717.7,697.8 L723.8,687.3 L726,705.6 L728.5,687.3 L736,741.3 L738.6,710.9 L747.3,793.6 L751.6,767.5 L755.2,779.7 L759.6,669.9 L760.5,652.5 L763.1,649.9 L765.3,669.9 L772.6,734.4 L778.7,741.3 L782.2,669.9 L784,638.6 L786.6,635.1 L789.2,652.5 L791.8,643.8 L794.4,669.9 L795.3,685.6 L800.5,715.2 L802.3,742.2 L804.9,717 L808.4,745.7 L812.7,737.9 L817.1,669.9 L818.5,654.2 L820.5,704.8 L824.9,687.3 L828.4,704.8 L832.7,687.3 L835.4,669.9 L837.1,635.1 L839.7,645.5 L841.4,645.5 L847.5,551.5 L850.2,552.3 L863.2,629 L865.3,615.9 L868.4,621.2 L870.2,668.2 L873.3,622.9 L878.9,649 L884.1,640.3 L887.6,635.1 L889.3,635.1 L892,620.3 L894.6,664.7 L899.5,622 L902.4,626.4 L904.2,669.9 L907.6,704.8 L911.1,669.9 L918.1,593.3 L920.4,605.5 L923.3,565.4 L932,669.9 L939,753.5 L941.6,669.9 L944.7,611.6 L946.8,624.6 L949.4,664.7 L952.1,645.5 L956.4,639.4 L957.6,611.6 L960.8,669.9 L965.2,721.3 L968.7,675.2 L970.8,681.2 L973.1,662.1 L976.5,667.3 L978.8,668.2 L981.3,689.1 L983.9,661.2 L986.1,674.3 L988.7,666.4 L991.4,625.5 L994,638.6 L995.7,669.9 L999.7,750.1 L1004.4,704.8 L1007.4,725.7 L1012.3,710.9 L1014.9,753.5 L1019.2,744.8 L1024.4,764 L1027.1,755.3 L1030.5,767.5 L1035.8,718.7 L1040.1,751.8 L1047.1,760.5 L1052.3,690 L1054.9,698.7 L1060.2,640.3 L1062.8,653.4 L1065.4,690.8 L1068,669.9 L1070.6,622.9 L1073.2,623.8 L1075.3,642.1 L1078.4,626.4 L1081.1,635.1 L1082.8,669.9 L1086.3,727.4 L1091.5,758.8 L1095.9,718.7 L1099.3,737 L1102.8,720.4 L1108.1,702.1 L1111.5,690 L1113.3,692.6 L1117.6,772.7 L1120.3,767.5 L1122.9,769.2 L1125.5,748.3 L1128.6,798.8 L1132.4,764 L1136.8,719.6 L1138.5,727.4 L1140.3,683.9 L1144.6,739.6 L1146.4,718.7 L1154.7,793.6 L1157.7,710 L1162.9,696.1 L1165.2,680.4 L1170.4,704.8 L1175.8,665.3 L1180.6,739.4 L1185.4,698 L1188.9,718.2 L1191.2,675.9 L1194.1,692.2 L1196,651.8 L1198.9,648 L1201.8,615.2 L1204.7,607.5 L1207,568 L1210.4,623.9 L1215.2,631.6 L1221,580.6 L1225.8,528.6 L1231.6,542.1 L1238.4,599.8 L1244.1,566.1 L1247,579.6 L1249.3,560.3 L1254.7,619.1 L1259.5,582.5 L1267.8,522.8 L1273,555.5 L1279.8,642.2 L1283.6,642.2 L1286.1,564.2 L1291.3,624.8 L1294.2,629.7 L1299,606.6 L1304.8,624.8 L1307.1,664.3 L1310.6,664.3 L1312.5,651.8 L1315.4,664.3 L1323.1,630.6 L1327.9,672 L1330.8,663.4 L1333.7,664.3 L1336.6,671.1 L1339.4,661.4 L1342.3,659.5 L1344.3,664.3 L1346.8,654.7 L1349.5,672 L1352,640.3 L1354.5,632.5 L1359.7,648 L1362.2,609.4 L1367.4,608.5 L1370.3,611.4 L1373.1,647 L1376,647 L1378,694.2 L1379.9,669.1 L1383.3,614.3 L1385.7,669.7 L1391,715.3 L1394.3,696.1 L1396.8,664.3 L1399.1,667.2 L1402,688.4 L1406.8,708.6 L1412.6,732.7 L1418.4,680.7 L1422.2,732.7 L1426.1,721.1 L1432.3,774.1 L1434.8,736.5 L1437.6,755.8 L1437.6,670 Z" fill="#3a53a4" clip-path="url(#c_PDO_dn)"/>
<path d="M125,595 L126.1,595 L127,595.9 L129.6,603.7 L132.2,585.4 L134.8,601.1 L137.4,681.2 L140,654.2 L142.6,641.2 L145.8,663.8 L147.9,593.3 L150.5,638.6 L153.1,674.3 L158.3,587.2 L160.9,612.4 L166.2,570.6 L168.8,574.1 L174,657.7 L176.6,646.4 L179.2,658.6 L181.8,624.6 L185.3,631.6 L189.7,654.2 L192.3,658.6 L194,669.9 L200.1,712.6 L201.9,669.9 L203.3,636.8 L205.4,644.7 L208.5,622 L213.7,683 L221,614.2 L224.2,550.6 L228,567.2 L234.4,472.2 L236.7,561.9 L240.2,617.7 L244.5,612.4 L248,574.1 L253.3,598.5 L255.9,569.8 L261.1,596.8 L264.6,668.2 L266.3,679.5 L271.5,631.6 L273.3,633.3 L278.5,621.2 L282,597.6 L288.1,647.3 L292.4,668.2 L297.7,609 L302,642.1 L305.5,652.5 L308.1,710.9 L312.5,614.2 L318.6,547.1 L322.1,581.1 L326.4,618.5 L329,592.4 L332.5,656 L334.6,656 L339.6,569.8 L341.3,569.8 L344.8,564.5 L347.4,569.8 L350.9,549.7 L352.6,548.9 L356.1,565.4 L357.5,627.2 L363.1,510.5 L366.6,534.1 L369.2,589.8 L370.9,587.2 L376.2,615.9 L381.4,589.8 L384,614.2 L386.6,602 L390.1,628.1 L392.7,635.1 L395.3,669.9 L397.9,690 L399.7,674.3 L402.3,675.2 L406.6,704.8 L410.1,725.7 L412.7,718.7 L417.1,669.9 L418.8,642.9 L421.4,648.2 L423.7,622.9 L426.7,663.8 L429.3,666.4 L434.5,696.9 L437.1,683 L442.3,706.5 L445,703.9 L446.7,669.9 L450.2,644.7 L452.8,645.5 L458,662.1 L460.6,648.2 L461.5,669.9 L464.1,718.7 L468.5,793.6 L472,774.4 L476.3,713.5 L478.9,725.7 L481.5,703 L484.2,751.8 L486.8,669.9 L492,633.3 L497.2,646.4 L501.6,665.6 L507.7,628.1 L511.2,621.2 L513.8,582.8 L515.5,593.3 L518.5,563.7 L524.2,621.2 L528.6,617.7 L534.7,664.7 L539,642.1 L544.2,551.5 L547.8,537.5 L550.5,534.9 L552.5,518.4 L555.7,582.8 L562.6,607.2 L565.8,602 L568.7,634.2 L576.2,600.3 L581.8,669.9 L587,744.8 L592.3,779.7 L595.4,769.2 L599.2,669.9 L601.8,629.9 L605.3,622.9 L607.9,587.2 L610.5,597.6 L612.8,573.3 L615.8,656 L618.4,604.6 L623.6,683.9 L628.8,635.1 L634.1,612.4 L639.3,547.1 L644.5,622.9 L647.6,676.9 L649.7,656 L652.7,687.3 L655,664.7 L658.4,669.9 L660.2,657.7 L662.8,652.5 L670.6,556.7 L673.8,514 L675.9,534.9 L678.8,513.2 L682.8,555 L688.9,630.7 L691.5,622 L697.1,556.7 L702,626.4 L707.2,669.9 L710.7,687.3 L715.1,746.6 L717.7,697.8 L723.8,687.3 L726,705.6 L728.5,687.3 L736,741.3 L738.6,710.9 L747.3,793.6 L751.6,767.5 L755.2,779.7 L759.6,669.9 L760.5,652.5 L763.1,649.9 L765.3,669.9 L772.6,734.4 L778.7,741.3 L782.2,669.9 L784,638.6 L786.6,635.1 L789.2,652.5 L791.8,643.8 L794.4,669.9 L795.3,685.6 L800.5,715.2 L802.3,742.2 L804.9,717 L808.4,745.7 L812.7,737.9 L817.1,669.9 L818.5,654.2 L820.5,704.8 L824.9,687.3 L828.4,704.8 L832.7,687.3 L835.4,669.9 L837.1,635.1 L839.7,645.5 L841.4,645.5 L847.5,551.5 L850.2,552.3 L863.2,629 L865.3,615.9 L868.4,621.2 L870.2,668.2 L873.3,622.9 L878.9,649 L884.1,640.3 L887.6,635.1 L889.3,635.1 L892,620.3 L894.6,664.7 L899.5,622 L902.4,626.4 L904.2,669.9 L907.6,704.8 L911.1,669.9 L918.1,593.3 L920.4,605.5 L923.3,565.4 L932,669.9 L939,753.5 L941.6,669.9 L944.7,611.6 L946.8,624.6 L949.4,664.7 L952.1,645.5 L956.4,639.4 L957.6,611.6 L960.8,669.9 L965.2,721.3 L968.7,675.2 L970.8,681.2 L973.1,662.1 L976.5,667.3 L978.8,668.2 L981.3,689.1 L983.9,661.2 L986.1,674.3 L988.7,666.4 L991.4,625.5 L994,638.6 L995.7,669.9 L999.7,750.1 L1004.4,704.8 L1007.4,725.7 L1012.3,710.9 L1014.9,753.5 L1019.2,744.8 L1024.4,764 L1027.1,755.3 L1030.5,767.5 L1035.8,718.7 L1040.1,751.8 L1047.1,760.5 L1052.3,690 L1054.9,698.7 L1060.2,640.3 L1062.8,653.4 L1065.4,690.8 L1068,669.9 L1070.6,622.9 L1073.2,623.8 L1075.3,642.1 L1078.4,626.4 L1081.1,635.1 L1082.8,669.9 L1086.3,727.4 L1091.5,758.8 L1095.9,718.7 L1099.3,737 L1102.8,720.4 L1108.1,702.1 L1111.5,690 L1113.3,692.6 L1117.6,772.7 L1120.3,767.5 L1122.9,769.2 L1125.5,748.3 L1128.6,798.8 L1132.4,764 L1136.8,719.6 L1138.5,727.4 L1140.3,683.9 L1144.6,739.6 L1146.4,718.7 L1154.7,793.6 L1157.7,710 L1162.9,696.1 L1165.2,680.4 L1170.4,704.8 L1175.8,665.3 L1180.6,739.4 L1185.4,698 L1188.9,718.2 L1191.2,675.9 L1194.1,692.2 L1196,651.8 L1198.9,648 L1201.8,615.2 L1204.7,607.5 L1207,568 L1210.4,623.9 L1215.2,631.6 L1221,580.6 L1225.8,528.6 L1231.6,542.1 L1238.4,599.8 L1244.1,566.1 L1247,579.6 L1249.3,560.3 L1254.7,619.1 L1259.5,582.5 L1267.8,522.8 L1273,555.5 L1279.8,642.2 L1283.6,642.2 L1286.1,564.2 L1291.3,624.8 L1294.2,629.7 L1299,606.6 L1304.8,624.8 L1307.1,664.3 L1310.6,664.3 L1312.5,651.8 L1315.4,664.3 L1323.1,630.6 L1327.9,672 L1330.8,663.4 L1333.7,664.3 L1336.6,671.1 L1339.4,661.4 L1342.3,659.5 L1344.3,664.3 L1346.8,654.7 L1349.5,672 L1352,640.3 L1354.5,632.5 L1359.7,648 L1362.2,609.4 L1367.4,608.5 L1370.3,611.4 L1373.1,647 L1376,647 L1378,694.2 L1379.9,669.1 L1383.3,614.3 L1385.7,669.7 L1391,715.3 L1394.3,696.1 L1396.8,664.3 L1399.1,667.2 L1402,688.4 L1406.8,708.6 L1412.6,732.7 L1418.4,680.7 L1422.2,732.7 L1426.1,721.1 L1432.3,774.1 L1434.8,736.5 L1437.6,755.8" fill="none" stroke="#111" stroke-width="1.2" stroke-linejoin="round"/>
<line x1="1323" y1="446" x2="1323" y2="838.5" stroke="#ffffff" stroke-opacity="0.22" stroke-width="1"/>
<line x1="1354.8" y1="446" x2="1354.8" y2="838.5" stroke="#ffffff" stroke-opacity="0.22" stroke-width="1"/>
<line x1="1386.6" y1="446" x2="1386.6" y2="838.5" stroke="#ffffff" stroke-opacity="0.22" stroke-width="1"/>
<line x1="1417.4" y1="446" x2="1417.4" y2="838.5" stroke="#ffffff" stroke-opacity="0.22" stroke-width="1"/>
<line x1="125" y1="443.3" x2="125" y2="843.5" stroke="#000" stroke-width="2.6"/>
<line x1="113.5" y1="838.5" x2="1440" y2="838.5" stroke="#000" stroke-width="2.6"/>
<line x1="113.5" y1="444.8" x2="125" y2="444.8" stroke="#000" stroke-width="2.6"/>
<text transform="translate(97.5,444.8) scale(1,1.1)" y="8.55" text-anchor="end" class="tk">4</text>
<line x1="113.5" y1="501.1" x2="125" y2="501.1" stroke="#000" stroke-width="2.6"/>
<text transform="translate(97.5,501.1) scale(1,1.1)" y="8.55" text-anchor="end" class="tk">3</text>
<line x1="113.5" y1="557.4" x2="125" y2="557.4" stroke="#000" stroke-width="2.6"/>
<text transform="translate(97.5,557.4) scale(1,1.1)" y="8.55" text-anchor="end" class="tk">2</text>
<line x1="113.5" y1="613.7" x2="125" y2="613.7" stroke="#000" stroke-width="2.6"/>
<text transform="translate(97.5,613.7) scale(1,1.1)" y="8.55" text-anchor="end" class="tk">1</text>
<line x1="113.5" y1="670" x2="125" y2="670" stroke="#000" stroke-width="2.6"/>
<text transform="translate(97.5,670) scale(1,1.1)" y="8.55" text-anchor="end" class="tk">0</text>
<line x1="113.5" y1="726.3" x2="125" y2="726.3" stroke="#000" stroke-width="2.6"/>
<text transform="translate(97.5,726.3) scale(1,1.1)" y="8.55" text-anchor="end" class="tk">−1</text>
<line x1="113.5" y1="782.6" x2="125" y2="782.6" stroke="#000" stroke-width="2.6"/>
<text transform="translate(97.5,782.6) scale(1,1.1)" y="8.55" text-anchor="end" class="tk">−2</text>
<line x1="113.5" y1="838.9" x2="125" y2="838.9" stroke="#000" stroke-width="2.6"/>
<text transform="translate(97.5,838.9) scale(1,1.1)" y="8.55" text-anchor="end" class="tk">−3</text>
<line x1="124.8" y1="838.5" x2="124.8" y2="845" stroke="#000" stroke-width="2.4"/>
<line x1="156.3" y1="838.5" x2="156.3" y2="842" stroke="#000" stroke-width="2.4"/>
<line x1="187.9" y1="838.5" x2="187.9" y2="842" stroke="#000" stroke-width="2.4"/>
<line x1="219.4" y1="838.5" x2="219.4" y2="842" stroke="#000" stroke-width="2.4"/>
<line x1="251" y1="838.5" x2="251" y2="842" stroke="#000" stroke-width="2.4"/>
<line x1="282.5" y1="838.5" x2="282.5" y2="845" stroke="#000" stroke-width="2.4"/>
<line x1="314.1" y1="838.5" x2="314.1" y2="842" stroke="#000" stroke-width="2.4"/>
<line x1="345.6" y1="838.5" x2="345.6" y2="842" stroke="#000" stroke-width="2.4"/>
<line x1="377.2" y1="838.5" x2="377.2" y2="842" stroke="#000" stroke-width="2.4"/>
<line x1="408.7" y1="838.5" x2="408.7" y2="842" stroke="#000" stroke-width="2.4"/>
<line x1="440.3" y1="838.5" x2="440.3" y2="845" stroke="#000" stroke-width="2.4"/>
<line x1="471.8" y1="838.5" x2="471.8" y2="842" stroke="#000" stroke-width="2.4"/>
<line x1="503.3" y1="838.5" x2="503.3" y2="842" stroke="#000" stroke-width="2.4"/>
<line x1="534.9" y1="838.5" x2="534.9" y2="842" stroke="#000" stroke-width="2.4"/>
<line x1="566.4" y1="838.5" x2="566.4" y2="842" stroke="#000" stroke-width="2.4"/>
<line x1="598" y1="838.5" x2="598" y2="845" stroke="#000" stroke-width="2.4"/>
<line x1="629.5" y1="838.5" x2="629.5" y2="842" stroke="#000" stroke-width="2.4"/>
<line x1="661.1" y1="838.5" x2="661.1" y2="842" stroke="#000" stroke-width="2.4"/>
<line x1="692.6" y1="838.5" x2="692.6" y2="842" stroke="#000" stroke-width="2.4"/>
<line x1="724.2" y1="838.5" x2="724.2" y2="842" stroke="#000" stroke-width="2.4"/>
<line x1="755.7" y1="838.5" x2="755.7" y2="845" stroke="#000" stroke-width="2.4"/>
<line x1="787.2" y1="838.5" x2="787.2" y2="842" stroke="#000" stroke-width="2.4"/>
<line x1="818.8" y1="838.5" x2="818.8" y2="842" stroke="#000" stroke-width="2.4"/>
<line x1="850.3" y1="838.5" x2="850.3" y2="842" stroke="#000" stroke-width="2.4"/>
<line x1="881.9" y1="838.5" x2="881.9" y2="842" stroke="#000" stroke-width="2.4"/>
<line x1="913.4" y1="838.5" x2="913.4" y2="845" stroke="#000" stroke-width="2.4"/>
<line x1="945" y1="838.5" x2="945" y2="842" stroke="#000" stroke-width="2.4"/>
<line x1="976.5" y1="838.5" x2="976.5" y2="842" stroke="#000" stroke-width="2.4"/>
<line x1="1008.1" y1="838.5" x2="1008.1" y2="842" stroke="#000" stroke-width="2.4"/>
<line x1="1039.6" y1="838.5" x2="1039.6" y2="842" stroke="#000" stroke-width="2.4"/>
<line x1="1071.2" y1="838.5" x2="1071.2" y2="845" stroke="#000" stroke-width="2.4"/>
<line x1="1102.7" y1="838.5" x2="1102.7" y2="842" stroke="#000" stroke-width="2.4"/>
<line x1="1134.2" y1="838.5" x2="1134.2" y2="842" stroke="#000" stroke-width="2.4"/>
<line x1="1165.8" y1="838.5" x2="1165.8" y2="842" stroke="#000" stroke-width="2.4"/>
<line x1="1197.3" y1="838.5" x2="1197.3" y2="842" stroke="#000" stroke-width="2.4"/>
<line x1="1228.9" y1="838.5" x2="1228.9" y2="845" stroke="#000" stroke-width="2.4"/>
<line x1="1260.4" y1="838.5" x2="1260.4" y2="842" stroke="#000" stroke-width="2.4"/>
<line x1="1292" y1="838.5" x2="1292" y2="842" stroke="#000" stroke-width="2.4"/>
<line x1="1323.5" y1="838.5" x2="1323.5" y2="842" stroke="#000" stroke-width="2.4"/>
<line x1="1355.1" y1="838.5" x2="1355.1" y2="842" stroke="#000" stroke-width="2.4"/>
<line x1="1386.6" y1="838.5" x2="1386.6" y2="845" stroke="#000" stroke-width="2.4"/>
<line x1="1418.1" y1="838.5" x2="1418.1" y2="842" stroke="#000" stroke-width="2.4"/>
<text transform="translate(57,642.4) rotate(-90)" text-anchor="middle" class="tk" style="font-size:27.5px">PDO</text>
<clipPath id="c_NPGO_up"><rect x="0" y="0" width="1449" height="1048"/></clipPath>
<clipPath id="c_NPGO_dn"><rect x="0" y="1048" width="1449" height="1000"/></clipPath>
<line x1="1330.6" y1="879" x2="1330.6" y2="1272.6" stroke="#d4d4d4" stroke-width="1"/>
<line x1="1362" y1="879" x2="1362" y2="1272.6" stroke="#d4d4d4" stroke-width="1"/>
<line x1="1394" y1="879" x2="1394" y2="1272.6" stroke="#d4d4d4" stroke-width="1"/>
<line x1="1424.8" y1="879" x2="1424.8" y2="1272.6" stroke="#d4d4d4" stroke-width="1"/>
<path d="M125,1048 L125,1145.2 L125.2,1145.2 L127.8,1113.9 L132.2,1051.2 L133.9,1054.6 L138.3,1094.7 L142.6,1106.9 L145.3,1087.7 L148.7,1052.9 L154,1062.5 L155.7,1062.5 L158.7,1106 L161.8,1086 L164.4,1081.6 L166.7,1036.3 L168.8,1044.2 L171.4,1075.5 L174.3,1086 L177.5,1047.7 L180.1,1062.5 L182.7,1005 L185.3,1019.8 L187.1,1047.3 L190.5,1095.6 L192.3,1088.6 L195.8,1106.9 L203.6,1082.5 L208,1072.1 L211.4,1102.5 L214.9,1093 L219.3,1013.7 L222.8,1021.5 L225,1023.3 L227.1,1086.9 L229.7,1088.6 L233.2,1051.2 L236.7,1049.4 L240.2,1068.6 L243.7,1073.8 L245.8,1016.3 L248.5,1084.2 L252.4,1047.3 L259.3,982.3 L263.7,1004.1 L268.1,1025.9 L273.3,994.5 L277.6,998.9 L281.1,1029.4 L283.7,1030.3 L285.5,1049.4 L289.8,1030.3 L294.2,1040.7 L296.8,1048.5 L299.4,1037.2 L301.2,1056.4 L304.6,1099.9 L309.9,1147 L314.2,1094.7 L317.7,1127.8 L319.4,1073.8 L322.4,1099.9 L325.5,1075.5 L332.5,1103.4 L335.2,1089.5 L338.7,1063.3 L341.3,1074.7 L343.9,1072.1 L345.3,1047.3 L346.5,1007.6 L349.2,1004.1 L351.8,1029.4 L354,1020.7 L356.5,1030.3 L361.4,1023.3 L364.8,1027.6 L368.3,1038.1 L370.4,1039 L372.7,1017.2 L377.9,985 L380.5,999.8 L388.4,947.5 L393.6,950.1 L397.1,970.2 L399.7,971.9 L401.8,964.1 L406.6,1001.5 L409.8,972.8 L412.7,1007.6 L415,995.4 L421.4,1016.3 L423.2,1017.2 L425.5,976.3 L429.3,1010.2 L431.9,1011.1 L434.5,1025 L435.4,1047.3 L436.6,1063.3 L439.7,1054.6 L441.8,1032 L444.4,1062.5 L446.7,1010.2 L451.1,1047.3 L452.8,1052 L459.8,1066 L465,1054.6 L470.2,1132.1 L474.6,1066.8 L478.1,1092.1 L483.3,1052 L487.6,1068.6 L492.9,1081.6 L497.2,1108.6 L499.8,1059 L502.4,1058.1 L505.1,1019.8 L506.8,1047.3 L511.2,1096.4 L515.5,1147 L518.1,1125.2 L520.7,1128.7 L526.8,1101.7 L532.1,1136.5 L536.9,1205.3 L542.5,1148.7 L550.5,1141.7 L553.9,1135.6 L558.3,1162.6 L563.2,1215.8 L567,1156.5 L571.4,1158.3 L574.8,1133 L578.3,1066 L580.9,1080.8 L586.2,1094.7 L590.5,1108.6 L595,1141.7 L600.1,1076.4 L605.3,1161.8 L613.2,1106 L615.8,1131.3 L617.5,1103.4 L621,1096.4 L627.1,1065.1 L629.2,1035.5 L630.6,1069.4 L634.1,1106.9 L637.2,1111.2 L639.6,1072.1 L642.4,1118.2 L650.1,1091.2 L658.4,1109.5 L663.7,1139.1 L669.8,1079 L671.5,1074.7 L674.1,1096.4 L676.7,1099.9 L679.3,1092.1 L684.6,1079.9 L688.1,1079.9 L689.8,1037.2 L693.3,1030.3 L695.9,1018.1 L698.2,940.5 L702.9,1014.6 L708.1,1038.1 L711.6,1025 L717.7,1043.3 L722,1005.9 L725.5,997.2 L730.2,917.9 L736,955.4 L740.3,940.5 L742.9,967.5 L750.8,979.7 L753.4,974.5 L756.6,987.6 L761.3,927.5 L763.6,925.7 L767.1,914.9 L771.8,928.4 L777.9,970.2 L779.6,969.3 L785.7,933.6 L788.3,925.7 L793.2,881.3 L796.2,911.8 L801.4,935.3 L804,915.3 L806.6,961.4 L809.2,939.7 L811.8,940.5 L814.4,980.6 L818.8,934.4 L821.9,935.3 L825.2,925.7 L827.5,937.1 L830.5,994.5 L835.7,957.1 L838,971 L840.9,1000.6 L845.8,1000.6 L851.7,899.6 L855.4,948.4 L857.1,990.2 L859.4,963.2 L863.2,986.7 L867.6,1002.4 L869.8,979.7 L872.8,1001.5 L878,974.5 L880.6,1052.9 L883.3,1033.7 L885.9,1030.3 L888.5,1009.3 L893.7,1038.1 L896.3,1034.6 L898.9,1003.3 L901.5,1021.5 L904.2,1008.5 L910.3,1047.3 L917.6,1140 L921.6,1130.4 L925.6,1141.7 L927.7,1092.1 L933.2,1140.9 L936.4,1113.9 L939,1135.6 L941.6,1098.2 L944.2,1140.9 L949.4,1083.4 L952.1,1106.9 L957.3,1077.3 L960.8,1052.9 L965.2,1073.8 L967.8,1058.1 L973.1,1106 L976.5,1099.9 L978.3,1061.6 L980.9,1069.4 L983.5,1057.2 L985.8,1077.3 L987.9,1047.3 L994,978 L996.6,977.1 L999.7,966.7 L1002.2,994.5 L1004.9,976.3 L1010.5,1019.8 L1012.3,1016.3 L1017.5,970.2 L1020.1,969.3 L1023.2,950.1 L1026.2,974.5 L1028.5,968.4 L1031.4,925.7 L1033.7,922.3 L1036.6,945.8 L1039.3,937.1 L1041.3,1021.5 L1047.1,996.3 L1050.2,1027.6 L1054.9,1016.3 L1057.5,1025 L1067.1,982.3 L1071.5,986.7 L1076.4,931.8 L1081.1,948.4 L1084.2,978.9 L1086.8,943.2 L1089.8,978 L1097.6,990.2 L1099.9,957.1 L1103.7,995.4 L1108.4,1027.6 L1113.3,979.7 L1115.5,1011.1 L1118.5,969.3 L1122.9,987.6 L1126.3,989.3 L1129,972.8 L1132.4,979.7 L1136.8,1037.2 L1140.3,999.8 L1142.9,997.2 L1147.8,939.7 L1149.9,953.6 L1153,938.8 L1157.7,948.4 L1161.2,969.3 L1163.8,943.2 L1168.2,978 L1173.4,978.9 L1177.9,1016.7 L1181.9,999.9 L1185.5,1010.8 L1188.8,1016.7 L1191.8,1022.7 L1194.8,1047.1 L1200.7,1127.8 L1204.7,1066.3 L1206.7,1063.3 L1211.2,1081.2 L1213.6,1034.6 L1217.2,1069.3 L1219.6,1053.4 L1224.5,1090.1 L1227.1,1023.7 L1229.5,1029.6 L1231.5,1047.1 L1237.4,1121.8 L1241.4,1124.8 L1245.4,1088.1 L1250.3,1127.8 L1256.3,1164.5 L1258.8,1120.8 L1261.6,1172.4 L1264.8,1047.1 L1266.8,994.9 L1269.1,1028.6 L1271.5,1021.7 L1273.5,1047.1 L1280.1,1100 L1284,1076.2 L1288,1089.1 L1290,1047.1 L1292.9,983 L1295.9,1132.7 L1298.5,1062.3 L1303.3,1096.1 L1305.8,1053.4 L1309.2,1072.3 L1311.2,1064.3 L1318.7,1077.2 L1327.6,1197.2 L1329.6,1134.7 L1332.6,1171.4 L1336.6,1161.5 L1342.5,1155.5 L1344.9,1135.7 L1352,1177.4 L1354.4,1176.4 L1361.4,1098 L1364.3,1189.3 L1367.3,1161.5 L1369.3,1166.5 L1371.9,1151.6 L1375.2,1178.3 L1379.8,1165.5 L1383.8,1187.3 L1388.1,1234.9 L1393.7,1134.7 L1396.1,1177.4 L1399.6,1153.6 L1402,1153.6 L1404,1129.8 L1408.9,1148.6 L1412.9,1115.9 L1416.9,1123.8 L1420.2,1205.1 L1423.8,1084.2 L1427.4,1113.9 L1429.8,1089.1 L1432.3,1153.6 L1437.7,1058.4 L1437.7,1048 Z" fill="#ed1c24" clip-path="url(#c_NPGO_up)"/>
<path d="M125,1048 L125,1145.2 L125.2,1145.2 L127.8,1113.9 L132.2,1051.2 L133.9,1054.6 L138.3,1094.7 L142.6,1106.9 L145.3,1087.7 L148.7,1052.9 L154,1062.5 L155.7,1062.5 L158.7,1106 L161.8,1086 L164.4,1081.6 L166.7,1036.3 L168.8,1044.2 L171.4,1075.5 L174.3,1086 L177.5,1047.7 L180.1,1062.5 L182.7,1005 L185.3,1019.8 L187.1,1047.3 L190.5,1095.6 L192.3,1088.6 L195.8,1106.9 L203.6,1082.5 L208,1072.1 L211.4,1102.5 L214.9,1093 L219.3,1013.7 L222.8,1021.5 L225,1023.3 L227.1,1086.9 L229.7,1088.6 L233.2,1051.2 L236.7,1049.4 L240.2,1068.6 L243.7,1073.8 L245.8,1016.3 L248.5,1084.2 L252.4,1047.3 L259.3,982.3 L263.7,1004.1 L268.1,1025.9 L273.3,994.5 L277.6,998.9 L281.1,1029.4 L283.7,1030.3 L285.5,1049.4 L289.8,1030.3 L294.2,1040.7 L296.8,1048.5 L299.4,1037.2 L301.2,1056.4 L304.6,1099.9 L309.9,1147 L314.2,1094.7 L317.7,1127.8 L319.4,1073.8 L322.4,1099.9 L325.5,1075.5 L332.5,1103.4 L335.2,1089.5 L338.7,1063.3 L341.3,1074.7 L343.9,1072.1 L345.3,1047.3 L346.5,1007.6 L349.2,1004.1 L351.8,1029.4 L354,1020.7 L356.5,1030.3 L361.4,1023.3 L364.8,1027.6 L368.3,1038.1 L370.4,1039 L372.7,1017.2 L377.9,985 L380.5,999.8 L388.4,947.5 L393.6,950.1 L397.1,970.2 L399.7,971.9 L401.8,964.1 L406.6,1001.5 L409.8,972.8 L412.7,1007.6 L415,995.4 L421.4,1016.3 L423.2,1017.2 L425.5,976.3 L429.3,1010.2 L431.9,1011.1 L434.5,1025 L435.4,1047.3 L436.6,1063.3 L439.7,1054.6 L441.8,1032 L444.4,1062.5 L446.7,1010.2 L451.1,1047.3 L452.8,1052 L459.8,1066 L465,1054.6 L470.2,1132.1 L474.6,1066.8 L478.1,1092.1 L483.3,1052 L487.6,1068.6 L492.9,1081.6 L497.2,1108.6 L499.8,1059 L502.4,1058.1 L505.1,1019.8 L506.8,1047.3 L511.2,1096.4 L515.5,1147 L518.1,1125.2 L520.7,1128.7 L526.8,1101.7 L532.1,1136.5 L536.9,1205.3 L542.5,1148.7 L550.5,1141.7 L553.9,1135.6 L558.3,1162.6 L563.2,1215.8 L567,1156.5 L571.4,1158.3 L574.8,1133 L578.3,1066 L580.9,1080.8 L586.2,1094.7 L590.5,1108.6 L595,1141.7 L600.1,1076.4 L605.3,1161.8 L613.2,1106 L615.8,1131.3 L617.5,1103.4 L621,1096.4 L627.1,1065.1 L629.2,1035.5 L630.6,1069.4 L634.1,1106.9 L637.2,1111.2 L639.6,1072.1 L642.4,1118.2 L650.1,1091.2 L658.4,1109.5 L663.7,1139.1 L669.8,1079 L671.5,1074.7 L674.1,1096.4 L676.7,1099.9 L679.3,1092.1 L684.6,1079.9 L688.1,1079.9 L689.8,1037.2 L693.3,1030.3 L695.9,1018.1 L698.2,940.5 L702.9,1014.6 L708.1,1038.1 L711.6,1025 L717.7,1043.3 L722,1005.9 L725.5,997.2 L730.2,917.9 L736,955.4 L740.3,940.5 L742.9,967.5 L750.8,979.7 L753.4,974.5 L756.6,987.6 L761.3,927.5 L763.6,925.7 L767.1,914.9 L771.8,928.4 L777.9,970.2 L779.6,969.3 L785.7,933.6 L788.3,925.7 L793.2,881.3 L796.2,911.8 L801.4,935.3 L804,915.3 L806.6,961.4 L809.2,939.7 L811.8,940.5 L814.4,980.6 L818.8,934.4 L821.9,935.3 L825.2,925.7 L827.5,937.1 L830.5,994.5 L835.7,957.1 L838,971 L840.9,1000.6 L845.8,1000.6 L851.7,899.6 L855.4,948.4 L857.1,990.2 L859.4,963.2 L863.2,986.7 L867.6,1002.4 L869.8,979.7 L872.8,1001.5 L878,974.5 L880.6,1052.9 L883.3,1033.7 L885.9,1030.3 L888.5,1009.3 L893.7,1038.1 L896.3,1034.6 L898.9,1003.3 L901.5,1021.5 L904.2,1008.5 L910.3,1047.3 L917.6,1140 L921.6,1130.4 L925.6,1141.7 L927.7,1092.1 L933.2,1140.9 L936.4,1113.9 L939,1135.6 L941.6,1098.2 L944.2,1140.9 L949.4,1083.4 L952.1,1106.9 L957.3,1077.3 L960.8,1052.9 L965.2,1073.8 L967.8,1058.1 L973.1,1106 L976.5,1099.9 L978.3,1061.6 L980.9,1069.4 L983.5,1057.2 L985.8,1077.3 L987.9,1047.3 L994,978 L996.6,977.1 L999.7,966.7 L1002.2,994.5 L1004.9,976.3 L1010.5,1019.8 L1012.3,1016.3 L1017.5,970.2 L1020.1,969.3 L1023.2,950.1 L1026.2,974.5 L1028.5,968.4 L1031.4,925.7 L1033.7,922.3 L1036.6,945.8 L1039.3,937.1 L1041.3,1021.5 L1047.1,996.3 L1050.2,1027.6 L1054.9,1016.3 L1057.5,1025 L1067.1,982.3 L1071.5,986.7 L1076.4,931.8 L1081.1,948.4 L1084.2,978.9 L1086.8,943.2 L1089.8,978 L1097.6,990.2 L1099.9,957.1 L1103.7,995.4 L1108.4,1027.6 L1113.3,979.7 L1115.5,1011.1 L1118.5,969.3 L1122.9,987.6 L1126.3,989.3 L1129,972.8 L1132.4,979.7 L1136.8,1037.2 L1140.3,999.8 L1142.9,997.2 L1147.8,939.7 L1149.9,953.6 L1153,938.8 L1157.7,948.4 L1161.2,969.3 L1163.8,943.2 L1168.2,978 L1173.4,978.9 L1177.9,1016.7 L1181.9,999.9 L1185.5,1010.8 L1188.8,1016.7 L1191.8,1022.7 L1194.8,1047.1 L1200.7,1127.8 L1204.7,1066.3 L1206.7,1063.3 L1211.2,1081.2 L1213.6,1034.6 L1217.2,1069.3 L1219.6,1053.4 L1224.5,1090.1 L1227.1,1023.7 L1229.5,1029.6 L1231.5,1047.1 L1237.4,1121.8 L1241.4,1124.8 L1245.4,1088.1 L1250.3,1127.8 L1256.3,1164.5 L1258.8,1120.8 L1261.6,1172.4 L1264.8,1047.1 L1266.8,994.9 L1269.1,1028.6 L1271.5,1021.7 L1273.5,1047.1 L1280.1,1100 L1284,1076.2 L1288,1089.1 L1290,1047.1 L1292.9,983 L1295.9,1132.7 L1298.5,1062.3 L1303.3,1096.1 L1305.8,1053.4 L1309.2,1072.3 L1311.2,1064.3 L1318.7,1077.2 L1327.6,1197.2 L1329.6,1134.7 L1332.6,1171.4 L1336.6,1161.5 L1342.5,1155.5 L1344.9,1135.7 L1352,1177.4 L1354.4,1176.4 L1361.4,1098 L1364.3,1189.3 L1367.3,1161.5 L1369.3,1166.5 L1371.9,1151.6 L1375.2,1178.3 L1379.8,1165.5 L1383.8,1187.3 L1388.1,1234.9 L1393.7,1134.7 L1396.1,1177.4 L1399.6,1153.6 L1402,1153.6 L1404,1129.8 L1408.9,1148.6 L1412.9,1115.9 L1416.9,1123.8 L1420.2,1205.1 L1423.8,1084.2 L1427.4,1113.9 L1429.8,1089.1 L1432.3,1153.6 L1437.7,1058.4 L1437.7,1048 Z" fill="#3a53a4" clip-path="url(#c_NPGO_dn)"/>
<path d="M125,1145.2 L125.2,1145.2 L127.8,1113.9 L132.2,1051.2 L133.9,1054.6 L138.3,1094.7 L142.6,1106.9 L145.3,1087.7 L148.7,1052.9 L154,1062.5 L155.7,1062.5 L158.7,1106 L161.8,1086 L164.4,1081.6 L166.7,1036.3 L168.8,1044.2 L171.4,1075.5 L174.3,1086 L177.5,1047.7 L180.1,1062.5 L182.7,1005 L185.3,1019.8 L187.1,1047.3 L190.5,1095.6 L192.3,1088.6 L195.8,1106.9 L203.6,1082.5 L208,1072.1 L211.4,1102.5 L214.9,1093 L219.3,1013.7 L222.8,1021.5 L225,1023.3 L227.1,1086.9 L229.7,1088.6 L233.2,1051.2 L236.7,1049.4 L240.2,1068.6 L243.7,1073.8 L245.8,1016.3 L248.5,1084.2 L252.4,1047.3 L259.3,982.3 L263.7,1004.1 L268.1,1025.9 L273.3,994.5 L277.6,998.9 L281.1,1029.4 L283.7,1030.3 L285.5,1049.4 L289.8,1030.3 L294.2,1040.7 L296.8,1048.5 L299.4,1037.2 L301.2,1056.4 L304.6,1099.9 L309.9,1147 L314.2,1094.7 L317.7,1127.8 L319.4,1073.8 L322.4,1099.9 L325.5,1075.5 L332.5,1103.4 L335.2,1089.5 L338.7,1063.3 L341.3,1074.7 L343.9,1072.1 L345.3,1047.3 L346.5,1007.6 L349.2,1004.1 L351.8,1029.4 L354,1020.7 L356.5,1030.3 L361.4,1023.3 L364.8,1027.6 L368.3,1038.1 L370.4,1039 L372.7,1017.2 L377.9,985 L380.5,999.8 L388.4,947.5 L393.6,950.1 L397.1,970.2 L399.7,971.9 L401.8,964.1 L406.6,1001.5 L409.8,972.8 L412.7,1007.6 L415,995.4 L421.4,1016.3 L423.2,1017.2 L425.5,976.3 L429.3,1010.2 L431.9,1011.1 L434.5,1025 L435.4,1047.3 L436.6,1063.3 L439.7,1054.6 L441.8,1032 L444.4,1062.5 L446.7,1010.2 L451.1,1047.3 L452.8,1052 L459.8,1066 L465,1054.6 L470.2,1132.1 L474.6,1066.8 L478.1,1092.1 L483.3,1052 L487.6,1068.6 L492.9,1081.6 L497.2,1108.6 L499.8,1059 L502.4,1058.1 L505.1,1019.8 L506.8,1047.3 L511.2,1096.4 L515.5,1147 L518.1,1125.2 L520.7,1128.7 L526.8,1101.7 L532.1,1136.5 L536.9,1205.3 L542.5,1148.7 L550.5,1141.7 L553.9,1135.6 L558.3,1162.6 L563.2,1215.8 L567,1156.5 L571.4,1158.3 L574.8,1133 L578.3,1066 L580.9,1080.8 L586.2,1094.7 L590.5,1108.6 L595,1141.7 L600.1,1076.4 L605.3,1161.8 L613.2,1106 L615.8,1131.3 L617.5,1103.4 L621,1096.4 L627.1,1065.1 L629.2,1035.5 L630.6,1069.4 L634.1,1106.9 L637.2,1111.2 L639.6,1072.1 L642.4,1118.2 L650.1,1091.2 L658.4,1109.5 L663.7,1139.1 L669.8,1079 L671.5,1074.7 L674.1,1096.4 L676.7,1099.9 L679.3,1092.1 L684.6,1079.9 L688.1,1079.9 L689.8,1037.2 L693.3,1030.3 L695.9,1018.1 L698.2,940.5 L702.9,1014.6 L708.1,1038.1 L711.6,1025 L717.7,1043.3 L722,1005.9 L725.5,997.2 L730.2,917.9 L736,955.4 L740.3,940.5 L742.9,967.5 L750.8,979.7 L753.4,974.5 L756.6,987.6 L761.3,927.5 L763.6,925.7 L767.1,914.9 L771.8,928.4 L777.9,970.2 L779.6,969.3 L785.7,933.6 L788.3,925.7 L793.2,881.3 L796.2,911.8 L801.4,935.3 L804,915.3 L806.6,961.4 L809.2,939.7 L811.8,940.5 L814.4,980.6 L818.8,934.4 L821.9,935.3 L825.2,925.7 L827.5,937.1 L830.5,994.5 L835.7,957.1 L838,971 L840.9,1000.6 L845.8,1000.6 L851.7,899.6 L855.4,948.4 L857.1,990.2 L859.4,963.2 L863.2,986.7 L867.6,1002.4 L869.8,979.7 L872.8,1001.5 L878,974.5 L880.6,1052.9 L883.3,1033.7 L885.9,1030.3 L888.5,1009.3 L893.7,1038.1 L896.3,1034.6 L898.9,1003.3 L901.5,1021.5 L904.2,1008.5 L910.3,1047.3 L917.6,1140 L921.6,1130.4 L925.6,1141.7 L927.7,1092.1 L933.2,1140.9 L936.4,1113.9 L939,1135.6 L941.6,1098.2 L944.2,1140.9 L949.4,1083.4 L952.1,1106.9 L957.3,1077.3 L960.8,1052.9 L965.2,1073.8 L967.8,1058.1 L973.1,1106 L976.5,1099.9 L978.3,1061.6 L980.9,1069.4 L983.5,1057.2 L985.8,1077.3 L987.9,1047.3 L994,978 L996.6,977.1 L999.7,966.7 L1002.2,994.5 L1004.9,976.3 L1010.5,1019.8 L1012.3,1016.3 L1017.5,970.2 L1020.1,969.3 L1023.2,950.1 L1026.2,974.5 L1028.5,968.4 L1031.4,925.7 L1033.7,922.3 L1036.6,945.8 L1039.3,937.1 L1041.3,1021.5 L1047.1,996.3 L1050.2,1027.6 L1054.9,1016.3 L1057.5,1025 L1067.1,982.3 L1071.5,986.7 L1076.4,931.8 L1081.1,948.4 L1084.2,978.9 L1086.8,943.2 L1089.8,978 L1097.6,990.2 L1099.9,957.1 L1103.7,995.4 L1108.4,1027.6 L1113.3,979.7 L1115.5,1011.1 L1118.5,969.3 L1122.9,987.6 L1126.3,989.3 L1129,972.8 L1132.4,979.7 L1136.8,1037.2 L1140.3,999.8 L1142.9,997.2 L1147.8,939.7 L1149.9,953.6 L1153,938.8 L1157.7,948.4 L1161.2,969.3 L1163.8,943.2 L1168.2,978 L1173.4,978.9 L1177.9,1016.7 L1181.9,999.9 L1185.5,1010.8 L1188.8,1016.7 L1191.8,1022.7 L1194.8,1047.1 L1200.7,1127.8 L1204.7,1066.3 L1206.7,1063.3 L1211.2,1081.2 L1213.6,1034.6 L1217.2,1069.3 L1219.6,1053.4 L1224.5,1090.1 L1227.1,1023.7 L1229.5,1029.6 L1231.5,1047.1 L1237.4,1121.8 L1241.4,1124.8 L1245.4,1088.1 L1250.3,1127.8 L1256.3,1164.5 L1258.8,1120.8 L1261.6,1172.4 L1264.8,1047.1 L1266.8,994.9 L1269.1,1028.6 L1271.5,1021.7 L1273.5,1047.1 L1280.1,1100 L1284,1076.2 L1288,1089.1 L1290,1047.1 L1292.9,983 L1295.9,1132.7 L1298.5,1062.3 L1303.3,1096.1 L1305.8,1053.4 L1309.2,1072.3 L1311.2,1064.3 L1318.7,1077.2 L1327.6,1197.2 L1329.6,1134.7 L1332.6,1171.4 L1336.6,1161.5 L1342.5,1155.5 L1344.9,1135.7 L1352,1177.4 L1354.4,1176.4 L1361.4,1098 L1364.3,1189.3 L1367.3,1161.5 L1369.3,1166.5 L1371.9,1151.6 L1375.2,1178.3 L1379.8,1165.5 L1383.8,1187.3 L1388.1,1234.9 L1393.7,1134.7 L1396.1,1177.4 L1399.6,1153.6 L1402,1153.6 L1404,1129.8 L1408.9,1148.6 L1412.9,1115.9 L1416.9,1123.8 L1420.2,1205.1 L1423.8,1084.2 L1427.4,1113.9 L1429.8,1089.1 L1432.3,1153.6 L1437.7,1058.4" fill="none" stroke="#111" stroke-width="1.2" stroke-linejoin="round"/>
<line x1="1330.6" y1="879" x2="1330.6" y2="1272.6" stroke="#ffffff" stroke-opacity="0.22" stroke-width="1"/>
<line x1="1362" y1="879" x2="1362" y2="1272.6" stroke="#ffffff" stroke-opacity="0.22" stroke-width="1"/>
<line x1="1394" y1="879" x2="1394" y2="1272.6" stroke="#ffffff" stroke-opacity="0.22" stroke-width="1"/>
<line x1="1424.8" y1="879" x2="1424.8" y2="1272.6" stroke="#ffffff" stroke-opacity="0.22" stroke-width="1"/>
<line x1="125" y1="877.4" x2="125" y2="1277.6" stroke="#000" stroke-width="2.6"/>
<line x1="113.5" y1="1272.6" x2="1440" y2="1272.6" stroke="#000" stroke-width="2.6"/>
<line x1="113.5" y1="879.1" x2="125" y2="879.1" stroke="#000" stroke-width="2.6"/>
<text transform="translate(97.5,879.1) scale(1,1.1)" y="8.55" text-anchor="end" class="tk">3</text>
<line x1="113.5" y1="935.4" x2="125" y2="935.4" stroke="#000" stroke-width="2.6"/>
<text transform="translate(97.5,935.4) scale(1,1.1)" y="8.55" text-anchor="end" class="tk">2</text>
<line x1="113.5" y1="991.7" x2="125" y2="991.7" stroke="#000" stroke-width="2.6"/>
<text transform="translate(97.5,991.7) scale(1,1.1)" y="8.55" text-anchor="end" class="tk">1</text>
<line x1="113.5" y1="1048" x2="125" y2="1048" stroke="#000" stroke-width="2.6"/>
<text transform="translate(97.5,1048) scale(1,1.1)" y="8.55" text-anchor="end" class="tk">0</text>
<line x1="113.5" y1="1104.3" x2="125" y2="1104.3" stroke="#000" stroke-width="2.6"/>
<text transform="translate(97.5,1104.3) scale(1,1.1)" y="8.55" text-anchor="end" class="tk">−1</text>
<line x1="113.5" y1="1160.6" x2="125" y2="1160.6" stroke="#000" stroke-width="2.6"/>
<text transform="translate(97.5,1160.6) scale(1,1.1)" y="8.55" text-anchor="end" class="tk">−2</text>
<line x1="113.5" y1="1216.9" x2="125" y2="1216.9" stroke="#000" stroke-width="2.6"/>
<text transform="translate(97.5,1216.9) scale(1,1.1)" y="8.55" text-anchor="end" class="tk">−3</text>
<line x1="113.5" y1="1273.2" x2="125" y2="1273.2" stroke="#000" stroke-width="2.6"/>
<text transform="translate(97.5,1273.2) scale(1,1.1)" y="8.55" text-anchor="end" class="tk">−4</text>
<line x1="124.9" y1="1272.6" x2="124.9" y2="1279.1" stroke="#000" stroke-width="2.4"/>
<line x1="156.6" y1="1272.6" x2="156.6" y2="1276.1" stroke="#000" stroke-width="2.4"/>
<line x1="188.4" y1="1272.6" x2="188.4" y2="1276.1" stroke="#000" stroke-width="2.4"/>
<line x1="220.1" y1="1272.6" x2="220.1" y2="1276.1" stroke="#000" stroke-width="2.4"/>
<line x1="251.8" y1="1272.6" x2="251.8" y2="1276.1" stroke="#000" stroke-width="2.4"/>
<line x1="283.6" y1="1272.6" x2="283.6" y2="1279.1" stroke="#000" stroke-width="2.4"/>
<line x1="315.3" y1="1272.6" x2="315.3" y2="1276.1" stroke="#000" stroke-width="2.4"/>
<line x1="347" y1="1272.6" x2="347" y2="1276.1" stroke="#000" stroke-width="2.4"/>
<line x1="378.7" y1="1272.6" x2="378.7" y2="1276.1" stroke="#000" stroke-width="2.4"/>
<line x1="410.5" y1="1272.6" x2="410.5" y2="1276.1" stroke="#000" stroke-width="2.4"/>
<line x1="442.2" y1="1272.6" x2="442.2" y2="1279.1" stroke="#000" stroke-width="2.4"/>
<line x1="473.9" y1="1272.6" x2="473.9" y2="1276.1" stroke="#000" stroke-width="2.4"/>
<line x1="505.7" y1="1272.6" x2="505.7" y2="1276.1" stroke="#000" stroke-width="2.4"/>
<line x1="537.4" y1="1272.6" x2="537.4" y2="1276.1" stroke="#000" stroke-width="2.4"/>
<line x1="569.1" y1="1272.6" x2="569.1" y2="1276.1" stroke="#000" stroke-width="2.4"/>
<line x1="600.9" y1="1272.6" x2="600.9" y2="1279.1" stroke="#000" stroke-width="2.4"/>
<line x1="632.6" y1="1272.6" x2="632.6" y2="1276.1" stroke="#000" stroke-width="2.4"/>
<line x1="664.3" y1="1272.6" x2="664.3" y2="1276.1" stroke="#000" stroke-width="2.4"/>
<line x1="696" y1="1272.6" x2="696" y2="1276.1" stroke="#000" stroke-width="2.4"/>
<line x1="727.8" y1="1272.6" x2="727.8" y2="1276.1" stroke="#000" stroke-width="2.4"/>
<line x1="759.5" y1="1272.6" x2="759.5" y2="1279.1" stroke="#000" stroke-width="2.4"/>
<line x1="791.2" y1="1272.6" x2="791.2" y2="1276.1" stroke="#000" stroke-width="2.4"/>
<line x1="823" y1="1272.6" x2="823" y2="1276.1" stroke="#000" stroke-width="2.4"/>
<line x1="854.7" y1="1272.6" x2="854.7" y2="1276.1" stroke="#000" stroke-width="2.4"/>
<line x1="886.4" y1="1272.6" x2="886.4" y2="1276.1" stroke="#000" stroke-width="2.4"/>
<line x1="918.1" y1="1272.6" x2="918.1" y2="1279.1" stroke="#000" stroke-width="2.4"/>
<line x1="949.9" y1="1272.6" x2="949.9" y2="1276.1" stroke="#000" stroke-width="2.4"/>
<line x1="981.6" y1="1272.6" x2="981.6" y2="1276.1" stroke="#000" stroke-width="2.4"/>
<line x1="1013.3" y1="1272.6" x2="1013.3" y2="1276.1" stroke="#000" stroke-width="2.4"/>
<line x1="1045.1" y1="1272.6" x2="1045.1" y2="1276.1" stroke="#000" stroke-width="2.4"/>
<line x1="1076.8" y1="1272.6" x2="1076.8" y2="1279.1" stroke="#000" stroke-width="2.4"/>
<line x1="1108.5" y1="1272.6" x2="1108.5" y2="1276.1" stroke="#000" stroke-width="2.4"/>
<line x1="1140.3" y1="1272.6" x2="1140.3" y2="1276.1" stroke="#000" stroke-width="2.4"/>
<line x1="1172" y1="1272.6" x2="1172" y2="1276.1" stroke="#000" stroke-width="2.4"/>
<line x1="1203.7" y1="1272.6" x2="1203.7" y2="1276.1" stroke="#000" stroke-width="2.4"/>
<line x1="1235.5" y1="1272.6" x2="1235.5" y2="1279.1" stroke="#000" stroke-width="2.4"/>
<line x1="1267.2" y1="1272.6" x2="1267.2" y2="1276.1" stroke="#000" stroke-width="2.4"/>
<line x1="1298.9" y1="1272.6" x2="1298.9" y2="1276.1" stroke="#000" stroke-width="2.4"/>
<line x1="1330.6" y1="1272.6" x2="1330.6" y2="1276.1" stroke="#000" stroke-width="2.4"/>
<line x1="1362.4" y1="1272.6" x2="1362.4" y2="1276.1" stroke="#000" stroke-width="2.4"/>
<line x1="1394.1" y1="1272.6" x2="1394.1" y2="1279.1" stroke="#000" stroke-width="2.4"/>
<line x1="1425.8" y1="1272.6" x2="1425.8" y2="1276.1" stroke="#000" stroke-width="2.4"/>
<text transform="translate(57,1076.5) rotate(-90)" text-anchor="middle" class="tk" style="font-size:27.5px">NPGO</text>
<text transform="translate(124.9,1304.2) scale(1,1.1)" y="8.55" text-anchor="middle" class="tk">1980</text>
<text transform="translate(283.6,1304.2) scale(1,1.1)" y="8.55" text-anchor="middle" class="tk">1985</text>
<text transform="translate(442.2,1304.2) scale(1,1.1)" y="8.55" text-anchor="middle" class="tk">1990</text>
<text transform="translate(600.9,1304.2) scale(1,1.1)" y="8.55" text-anchor="middle" class="tk">1995</text>
<text transform="translate(759.5,1304.2) scale(1,1.1)" y="8.55" text-anchor="middle" class="tk">2000</text>
<text transform="translate(918.1,1304.2) scale(1,1.1)" y="8.55" text-anchor="middle" class="tk">2005</text>
<text transform="translate(1076.8,1304.2) scale(1,1.1)" y="8.55" text-anchor="middle" class="tk">2010</text>
<text transform="translate(1235.5,1304.2) scale(1,1.1)" y="8.55" text-anchor="middle" class="tk">2015</text>
<text transform="translate(1394.1,1304.2) scale(1,1.1)" y="8.55" text-anchor="middle" class="tk">2020</text>
<defs><linearGradient id="cbg" x1="0" y1="0" x2="0" y2="1"><stop offset="0" stop-color="#a8172a"/><stop offset="0.08" stop-color="#d7191c"/><stop offset="0.14" stop-color="#ee2a24"/><stop offset="0.3" stop-color="#f46d43"/><stop offset="0.4" stop-color="#fdae61"/><stop offset="0.5" stop-color="#fee08b"/><stop offset="0.58" stop-color="#ffffbf"/><stop offset="0.64" stop-color="#f7fbff"/><stop offset="0.7" stop-color="#e0f3f8"/><stop offset="0.78" stop-color="#abd9e9"/><stop offset="0.86" stop-color="#74add1"/><stop offset="0.94" stop-color="#4575b4"/><stop offset="1" stop-color="#313695"/></linearGradient></defs>
<rect x="1373" y="1605.5" width="8.5" height="276.5" fill="url(#cbg)" stroke="#000" stroke-width="1.8"/>
<line x1="1381.5" y1="1605.5" x2="1388" y2="1605.5" stroke="#000" stroke-width="1.6"/>
<text x="1397" y="1612.0" class="cb">2.0</text>
<line x1="1381.5" y1="1640.1" x2="1388" y2="1640.1" stroke="#000" stroke-width="1.6"/>
<text x="1397" y="1646.6" class="cb">1.5</text>
<line x1="1381.5" y1="1674.6" x2="1388" y2="1674.6" stroke="#000" stroke-width="1.6"/>
<text x="1397" y="1681.1" class="cb">1.0</text>
<line x1="1381.5" y1="1709.2" x2="1388" y2="1709.2" stroke="#000" stroke-width="1.6"/>
<text x="1397" y="1715.7" class="cb">0.5</text>
<line x1="1381.5" y1="1743.8" x2="1388" y2="1743.8" stroke="#000" stroke-width="1.6"/>
<text x="1397" y="1750.2" class="cb">0.0</text>
<line x1="1381.5" y1="1778.3" x2="1388" y2="1778.3" stroke="#000" stroke-width="1.6"/>
<text x="1397" y="1784.8" class="cb">-0.5</text>
<line x1="1381.5" y1="1812.9" x2="1388" y2="1812.9" stroke="#000" stroke-width="1.6"/>
<text x="1397" y="1819.4" class="cb">-1.0</text>
<line x1="1381.5" y1="1847.4" x2="1388" y2="1847.4" stroke="#000" stroke-width="1.6"/>
<text x="1397" y="1853.9" class="cb">-1.5</text>
<line x1="1381.5" y1="1882.0" x2="1388" y2="1882.0" stroke="#000" stroke-width="1.6"/>
<text x="1397" y="1888.5" class="cb">-2.0</text>
<text transform="translate(1443.5,1746) rotate(-90)" text-anchor="middle" class="cb">SST Anom (°C)</text>
<line x1="1247" y1="1443" x2="1269" y2="1443" stroke="#000" stroke-width="1.1"/>
<path d="M1273,1443 L1266,1440.6 L1266,1445.4 Z" fill="#000"/>
<text x="1291" y="1448.5" class="mp" style="font-size:17px">4.00 m/s</text>
<defs><filter id="fblur" x="-5%" y="-5%" width="110%" height="110%"><feGaussianBlur stdDeviation="2.6"/></filter></defs>
<g transform="translate(78.5,1455)">
<clipPath id="pc0"><rect x="0" y="0" width="625" height="277"/></clipPath>
<g clip-path="url(#pc0)">
<g filter="url(#fblur)">
<rect x="-10" y="-10" width="645" height="297" fill="#fee6a0"/>
<path d="M-1.9,52.4 C8.1,14.5 34.6,25.6 57.8,17.1 C80.9,8.6 96.8,4.4 137.3,1.6 C177.7,-1.2 251.4,0.3 300.7,0.3 C350,0.3 410.4,-4.9 433.2,1.6 C456,8.1 434.7,25.6 437.6,39.2 C440.6,52.8 447.2,68.6 450.9,83.3 C454.5,98.1 453.8,114.3 459.7,127.5 C465.6,140.8 475.9,153.3 486.2,162.8 C496.5,172.4 530.4,181.6 521.5,184.9 C512.7,188.2 462.6,183.8 433.2,182.7 C403.7,181.6 370.6,180.5 344.9,178.3 C319.1,176.1 299.2,172.4 278.6,169.5 C258,166.5 239.6,160.6 221.2,160.6 C202.8,160.6 182.2,163.9 168.2,169.5 C154.2,175 148.3,184.6 137.3,193.8 C126.2,203 117.4,216.2 101.9,224.7 C86.5,233.1 61.8,241.2 44.5,244.6 C27.2,247.9 5.9,276.6 -1.9,244.6 C-9.6,212.5 -11.8,90.3 -1.9,52.4 Z" fill="#f9ae6a"/>
<path d="M561.3,1.6 C572.3,-1.7 616.5,-5.4 627.5,1.6 C638.6,8.6 634.2,38.1 627.5,43.6 C620.9,49.1 598.8,38.4 587.8,34.8 C576.7,31.1 565.7,27 561.3,21.5 C556.9,16 550.2,4.9 561.3,1.6 Z" fill="#f9ae6a"/>
<path d="M552.5,127.5 C562.8,117.2 615,97.3 627.5,109.8 C640.1,122.4 632,187.9 627.5,202.6 C623.1,217.3 611.3,203.3 601,198.2 C590.7,193 573.8,183.5 565.7,171.7 C557.6,159.9 542.1,137.8 552.5,127.5 Z" fill="#fdd590"/>
<path d="M-8.5,242.3 C6.2,236.5 57.8,239.4 79.8,242.3 C101.9,245.3 113,254.1 124,260 C135.1,265.9 168.2,274.7 146.1,277.7 C124,280.6 17.3,283.6 -8.5,277.7 C-34.3,271.8 -23.2,248.2 -8.5,242.3 Z" fill="#f9ae6a"/>
<path d="M0.3,78.9 C5.5,67.9 23.2,71.6 31.3,74.5 C39.4,77.4 47.4,87.8 48.9,96.6 C50.4,105.4 45.2,120.1 40.1,127.5 C34.9,134.9 24.6,138.6 18,140.8 C11.4,143 3.3,151.1 0.3,140.8 C-2.6,130.5 -4.8,90 0.3,78.9 Z" fill="#fdd590"/>
<path d="M75.4,158.4 C68.1,152.2 76.2,138.6 79.8,127.5 C83.5,116.5 95.3,101 97.5,92.2 C99.7,83.3 90.9,81.1 93.1,74.5 C95.3,67.9 103.4,56.8 110.8,52.4 C118.1,48 125.5,46.5 137.3,48 C149,49.5 169.7,56.5 181.4,61.3 C193.2,66 204.3,70.1 207.9,76.7 C211.6,83.3 207.9,94.7 203.5,101 C199.1,107.3 187.3,107.6 181.4,114.3 C175.5,120.9 177.7,132.3 168.2,140.8 C158.6,149.2 139.5,162.1 124,165.1 C108.5,168 82.8,164.7 75.4,158.4 Z" fill="#f07b4d"/>
<path d="M57.8,25.9 C67.3,15.6 96.8,14.1 115.2,12.7 C133.6,11.2 156.4,12.7 168.2,17.1 C180,21.5 191,33.3 185.8,39.2 C180.7,45.1 147.6,46.5 137.3,52.4 C127,58.3 129.9,70.1 124,74.5 C118.1,78.9 113,78.9 101.9,78.9 C90.9,78.9 65.1,83.3 57.8,74.5 C50.4,65.7 48.2,36.2 57.8,25.9 Z" fill="#f07b4d"/>
<path d="M163.8,23.7 C162.3,20.4 180.7,13.4 203.5,10.5 C226.3,7.5 281.5,5.7 300.7,6 C319.8,6.4 322,10.1 318.4,12.7 C314.7,15.2 296.3,18.6 278.6,21.5 C260.9,24.4 231.5,30 212.3,30.3 C193.2,30.7 165.2,27 163.8,23.7 Z" fill="#f07b4d"/>
<path d="M272,92.2 C266.8,78.9 273.8,68.6 278.6,61.3 C283.4,53.9 286,53.2 300.7,48 C315.4,42.9 349.3,34 366.9,30.3 C384.6,26.7 395.7,22.2 406.7,25.9 C417.7,29.6 427.3,37.7 433.2,52.4 C439.1,67.1 445,101 442,114.3 C439.1,127.5 431.7,126 415.5,131.9 C399.3,137.8 362.5,148.1 344.9,149.6 C327.2,151.1 321.7,150.3 309.5,140.8 C297.4,131.2 277.1,105.4 272,92.2 Z" fill="#f07b4d"/>
<path d="M450.9,140.8 C450.1,131.2 450.9,115.4 455.3,109.8 C459.7,104.3 467.8,101 477.4,107.6 C486.9,114.3 510.5,138.9 512.7,149.6 C514.9,160.3 499.5,168.7 490.6,171.7 C481.8,174.6 466.3,172.4 459.7,167.3 C453.1,162.1 451.6,150.3 450.9,140.8 Z" fill="#f07b4d"/>
<path d="M97.5,78.9 C102.7,71.6 121.8,66.4 137.3,65.7 C152.7,64.9 179.2,70.1 190.3,74.5 C201.3,78.9 204.3,86.3 203.5,92.2 C202.8,98.1 193.2,106.9 185.8,109.8 C178.5,112.8 167.4,108.4 159.3,109.8 C151.2,111.3 146.1,118.7 137.3,118.7 C128.4,118.7 113,116.5 106.3,109.8 C99.7,103.2 92.4,86.3 97.5,78.9 Z" fill="#e2392a"/>
<path d="M79.8,48 C85.7,40.6 113,37 124,39.2 C135.1,41.4 146.1,53.9 146.1,61.3 C146.1,68.6 133.6,79.7 124,83.3 C114.4,87 96,89.2 88.7,83.3 C81.3,77.4 73.9,55.4 79.8,48 Z" fill="#e2392a"/>
<path d="M115.2,127.5 C117.4,124.6 129.2,121.6 132.8,123.1 C136.5,124.6 139.5,133.4 137.3,136.3 C135.1,139.3 123.3,142.2 119.6,140.8 C115.9,139.3 113,130.5 115.2,127.5 Z" fill="#e2392a"/>
<path d="M300.7,70.1 C308,62 328.7,52.4 344.9,48 C361.1,43.6 385.3,39.9 397.9,43.6 C410.4,47.3 417,59.8 419.9,70.1 C422.9,80.4 422.2,97.3 415.5,105.4 C408.9,113.5 394.9,117.2 380.2,118.7 C365.5,120.1 340.4,117.9 327.2,114.3 C313.9,110.6 305.1,104 300.7,96.6 C296.3,89.2 293.3,78.2 300.7,70.1 Z" fill="#e2392a"/>
<path d="M464.1,136.3 C467.8,131.2 479.6,125.3 486.2,127.5 C492.8,129.7 503.9,143.7 503.9,149.6 C503.9,155.5 492.8,161.4 486.2,162.8 C479.6,164.3 467.8,162.8 464.1,158.4 C460.4,154 460.4,141.5 464.1,136.3 Z" fill="#e2392a"/>
<path d="M146.1,81.1 C152,78.2 168.9,73.8 177,74.5 C185.1,75.2 193.2,81.5 194.7,85.5 C196.2,89.6 191.7,96.2 185.8,98.8 C180,101.4 166.7,102.1 159.3,101 C152,99.9 143.9,95.5 141.7,92.2 C139.5,88.9 140.2,84.1 146.1,81.1 Z" fill="#b01c24"/>
<path d="M318.4,78.9 C324.2,71.9 344.9,65.3 358.1,63.5 C371.4,61.6 389,63.1 397.9,67.9 C406.7,72.7 411.8,84.4 411.1,92.2 C410.4,99.9 403,109.8 393.4,114.3 C383.9,118.7 365.5,120.1 353.7,118.7 C341.9,117.2 328.7,112 322.8,105.4 C316.9,98.8 312.5,85.9 318.4,78.9 Z" fill="#b01c24"/>
<path d="M221.2,242.3 C232.2,233.9 244.7,220.3 265.4,213.6 C286,207 316.9,203.7 344.9,202.6 C372.8,201.5 403.7,204.8 433.2,207 C462.6,209.2 495.8,212.9 521.5,215.8 C547.3,218.8 570.1,222.5 587.8,224.7 C605.5,226.9 620.9,220.3 627.5,229.1 C634.2,237.9 696.7,269.6 627.5,277.7 C558.3,285.8 283.8,279.9 212.3,277.7 C140.9,275.5 197.6,270.3 199.1,264.4 C200.6,258.5 210.1,250.8 221.2,242.3 Z" fill="#d9eef6"/>
<path d="M238.8,233.5 C243.3,229.1 275.7,222.8 300.7,220.3 C325.7,217.7 359.6,217.3 389,218.1 C418.5,218.8 448.7,220.6 477.4,224.7 C506.1,228.7 548.8,233.5 561.3,242.3 C573.8,251.2 573.8,271.8 552.5,277.7 C531.1,283.6 467.8,280.6 433.2,277.7 C398.6,274.7 371.4,265.2 344.9,260 C318.4,254.9 291.9,251.2 274.2,246.8 C256.5,242.3 234.4,237.9 238.8,233.5 Z" fill="#a5d0e7"/>
<path d="M579,277.7 C574.5,274 592.9,261.5 601,255.6 C609.1,249.7 623.1,238.7 627.5,242.3 C632,246 635.6,271.8 627.5,277.7 C619.4,283.6 583.4,281.4 579,277.7 Z" fill="#a5d0e7"/>
<path d="M283,237 C294.1,233.4 338.2,227.8 366.9,226.9 C395.7,225.9 428,228.7 455.3,231.3 C482.5,233.9 520.8,237.6 530.4,242.3 C539.9,247.1 536.3,257.1 512.7,260 C489.1,263 424.4,261.9 389,260 C353.7,258.2 318.4,252.8 300.7,249 C283,245.1 272,240.7 283,237 Z" fill="#72a8d3"/>
<path d="M366.9,237.9 C377.2,235.9 413.3,235.9 433.2,237 C453.1,238.2 486.2,241.8 486.2,244.6 C486.2,247.3 452.3,252.7 433.2,253.4 C414.1,254.1 382.4,251.6 371.4,249 C360.3,246.4 356.6,239.9 366.9,237.9 Z" fill="#5a8cc3"/>
</g>
<path d="M19 270l-12-2m0-2l-4 2 3 2zM28 270l-11-2m1-2l-4 1 3 3zM38 269l-11 0m0-2l-4 1 4 2zM48 270l-12-2m0-2l-4 2 4 2zM57 270l-11-2m1-2l-4 1 3 3zM67 270l-12-2m1-2l-4 2 3 2zM77 270l-13-2m1-2l-4 1 3 3zM114 269l-10 0m0-2l-3 2 3 2zM125 271l-13-4m1-1l-4 0 3 3zM133 271l-9-3m0-2l-4 1 3 3zM143 270l-10-2m0-2l-4 2 3 2zM154 269l-12-1m0-1l-4 1 4 2zM163 270l-11-2m0-2l-4 1 4 3zM173 270l-13-2m1-2l-4 2 3 2zM183 270l-13-2m1-2l-4 2 3 2zM191 271l-10-3m1-2l-4 0 3 3zM202 270l-13-2m1-2l-4 1 3 3zM210 271l-10-4m1-1l-4 0 3 3zM220 269l-10 0m0-2l-4 2 4 2zM230 270l-11-2m1-2l-4 1 3 3zM239 271l-10-3m1-2l-4 1 3 3zM250 272l-12-5m0-2l-4 1 3 3zM260 271l-13-4m1-1l-4 0 3 3zM268 270l-10-2m0-2l-4 2 3 2zM279 270l-13-2m0-2l-3 2 3 2zM289 270l-13-2m0-2l-3 1 3 3zM298 272l-12-5m1-1l-4 0 2 3zM307 271l-11-3m1-2l-4 0 2 3zM318 270l-13-2m0-2l-4 2 4 2zM326 271l-10-3m0-2l-4 0 3 3zM336 270l-11-2m0-2l-3 2 3 2zM346 272l-12-5m0-2l-4 1 3 3zM356 270l-12-2m0-2l-4 2 3 2zM364 270l-10-2m1-2l-4 1 3 3zM375 271l-12-3m0-2l-4 1 3 2zM384 271l-11-4m0-1l-4 0 3 3zM394 270l-12-2m1-2l-4 2 3 2zM402 271l-9-3m1-2l-4 0 3 3zM413 270l-11-2m0-2l-4 1 3 3zM422 270l-10-2m0-2l-4 2 3 2zM431 272l-9-4m1-2l-4 0 2 3zM437 271l-3-3m1-1l-3-1 1 3zM447 272l-4-4m1-1l-3-1 1 3zM454 272l0-4m1 0l-2-3-1 3zM462 272l2-4m1 0l0-3-3 2zM470 271l4-3m1 1l1-3-3 1zM478 271l6-3m1 2l2-3-3 0zM488 272l6-4m1 1l1-3-3 0zM497 272l6-4m2 1l1-3-4 0zM507 271l6-3m1 2l2-3-4 0zM517 272l5-4m1 1l2-3-4 1zM526 272l6-5m1 2l2-4-4 1zM536 272l6-4m1 1l1-3-3 0zM546 272l5-4m1 1l1-4-3 1zM555 273l6-6m2 2l1-4-4 1zM565 271l6-3m0 1l2-3-3 1zM575 273l5-6m1 1l1-3-3 1zM585 272l4-4m2 1l1-3-4 1zM596 273l3-6m1 1l0-4-3 3zM603 272l6-4m1 1l2-3-4 0zM613 273l6-6m1 2l1-4-4 1zM19 261l-12-3m1-2l-4 1 3 3zM28 260l-11-1m0-2l-4 2 4 2zM38 261l-12-3m0-2l-4 1 3 3zM48 261l-12-3m0-2l-4 1 3 3zM56 260l-10-1m1-2l-4 1 3 2zM67 260l-12-1m0-2l-4 1 4 2zM114 261l-10-3m1-1l-4 1 3 2zM125 261l-12-3m0-2l-4 1 3 3zM135 260l-13-1m0-2l-3 1 3 2zM144 261l-12-3m0-2l-4 2 4 2zM154 260l-13-1m0-2l-3 1 3 2zM163 260l-11-1m0-2l-4 1 3 3zM173 261l-12-3m0-2l-4 1 3 3zM183 260l-13-2m0-1l-3 1 3 2zM191 261l-10-3m0-2l-4 2 3 2zM200 261l-9-3m0-1l-3 1 3 2zM212 261l-13-3m0-2l-4 1 4 3zM221 261l-12-3m1-2l-4 1 3 3zM231 260l-13-2m0-1l-3 1 3 2zM239 261l-10-3m1-2l-4 1 3 3zM249 260l-10-1m0-2l-4 1 4 3zM259 261l-11-3m0-1l-4 1 4 2zM268 260l-10-1m0-2l-3 1 3 3zM278 261l-10-3m0-2l-4 1 3 3zM288 260l-11-1m0-2l-4 1 3 2zM298 259l-12 0m0-2l-4 2 4 2zM307 260l-11-1m0-2l-4 1 4 3zM316 261l-10-3m1-2l-4 1 3 3zM326 261l-11-3m1-2l-4 1 3 3zM336 261l-11-3m0-2l-4 1 3 3zM346 260l-12-1m0-2l-4 1 3 2zM355 261l-11-3m1-1l-4 1 3 2zM364 261l-10-3m1-1l-4 0 3 3zM375 262l-12-4m0-2l-4 1 3 2zM384 260l-11-2m0-1l-4 1 4 2zM394 260l-12-1m1-2l-4 1 3 2zM404 261l-12-3m0-2l-4 1 3 3zM413 260l-12-2m1-1l-4 1 3 2zM422 261l-10-3m0-2l-4 1 3 3zM430 262l-7-4m1-1l-4 0 2 3zM439 261l-6-2m1-2l-4 0 3 3zM446 263l-2-5m1-1l-3-1 0 3zM454 264l0-7m1 0l-1-3-2 3zM462 262l2-3m1 0l0-3-3 2zM471 263l3-5m1 1l0-4-3 2zM479 263l5-5m1 1l1-3-3 1zM489 263l4-5m1 1l1-3-3 1zM497 263l7-6m1 2l1-4-4 1zM507 263l6-6m2 2l1-4-4 1zM518 264l4-7m2 1l0-4-3 2zM525 261l8-3m0 2l3-3-4 0zM537 263l4-5m2 1l0-4-3 2zM545 264l7-7m1 2l1-4-3 1zM555 262l6-4m1 2l2-4-4 1zM566 264l4-7m2 1l1-4-4 2zM574 261l6-3m1 2l2-3-4 0zM584 263l6-5m1 1l1-4-3 1zM594 263l6-5m1 1l1-4-4 1zM603 263l6-5m1 1l2-3-4 0zM19 251l-12-2m0-2l-4 1 3 2zM28 250l-11-1m1-2l-4 1 3 3zM37 252l-10-4m1-2l-4 0 2 4zM47 251l-10-2m0-2l-4 1 3 2zM57 250l-11-1m0-2l-4 2 4 2zM66 251l-10-2m1-2l-4 1 3 3zM96 252l-12-4m0-2l-4 1 3 3zM105 251l-11-2m1-2l-4 1 3 3zM115 251l-11-3m0-1l-4 1 3 2zM124 249l-10 0m0-1l-4 1 4 2zM135 250l-13-1m0-2l-3 2 3 2zM144 250l-12-1m1-2l-4 1 3 3zM153 252l-11-4m1-2l-4 0 2 4zM163 250l-11-1m0-2l-4 2 4 2zM173 251l-12-3m1-1l-4 1 3 2zM183 252l-13-4m1-2l-4 1 3 3zM192 252l-12-4m1-1l-4 0 3 3zM201 251l-10-2m0-2l-4 1 3 2zM210 251l-10-3m1-1l-4 0 3 3zM221 251l-12-2m0-2l-4 1 3 2zM230 252l-11-4m0-2l-4 1 3 3zM239 250l-9-1m0-2l-4 2 3 2zM250 250l-12-1m0-2l-3 1 3 3zM259 252l-11-4m0-2l-4 1 3 3zM268 250l-10-1m0-2l-3 2 3 2zM278 252l-11-4m1-2l-4 1 2 3zM288 251l-12-3m1-2l-4 1 3 3zM297 252l-11-4m1-2l-4 1 3 3zM307 249l-11 1m0-2l-3 2 3 1zM317 251l-12-2m0-2l-4 1 3 2zM327 251l-12-2m0-2l-4 1 4 3zM335 250l-10-1m1-2l-4 2 3 2zM346 252l-12-4m1-2l-4 1 3 3zM356 251l-13-2m1-2l-4 1 3 2zM365 250l-12-1m1-2l-4 1 3 3zM373 250l-9-1m1-2l-4 1 3 3zM384 250l-11-1m0-2l-3 2 3 2zM394 251l-12-2m0-2l-4 1 3 2zM403 251l-10-2m0-2l-4 1 3 3zM413 251l-11-2m0-2l-4 1 4 3zM421 251l-8-2m1-2l-4 0 2 3zM430 252l-7-4m1-1l-4 0 2 3zM438 252l-5-3m1-2l-3 0 1 3zM447 252l-4-3m1-1l-3-2 1 4zM455 254l-2-6m2 0l-2-3-1 4zM462 253l2-5m1 1l-1-4-2 3zM471 253l3-5m1 1l0-3-3 1zM480 252l3-3m2 1l1-4-4 1zM487 253l7-5m1 1l2-3-4 0zM499 253l3-5m2 1l0-3-3 2zM507 252l6-4m1 2l1-3-3 0zM518 252l4-3m1 1l1-3-3 1zM525 252l8-4m1 2l2-4-4 1zM536 253l6-5m1 1l2-3-4 0zM546 253l5-5m1 1l1-3-3 1zM555 252l6-3m1 1l2-3-4 0zM565 253l6-5m1 2l1-4-3 1zM574 253l6-5m1 2l2-4-4 1zM585 253l5-5m1 1l1-3-3 1zM595 254l4-6m2 1l0-4-3 2zM603 253l6-5m1 2l2-4-4 1zM613 253l6-5m1 1l1-3-4 1zM19 241l-12-2m0-2l-3 2 3 2zM28 243l-11-5m1-1l-4 0 2 3zM37 242l-9-3m0-2l-4 1 3 3zM47 244l-11-6m1-2l-4 0 2 3zM57 241l-11-2m0-2l-4 1 3 3zM67 241l-12-2m0-2l-4 1 3 3zM77 241l-12-2m0-2l-4 2 3 2zM86 241l-11-2m0-2l-4 1 3 3zM96 241l-12-2m1-2l-4 1 3 3zM106 241l-13-2m1-2l-4 1 3 3zM115 241l-12-2m0-2l-4 1 4 3zM125 241l-13-2m1-2l-4 1 3 3zM134 241l-11-2m0-2l-4 1 4 3zM144 241l-12-2m0-2l-4 2 4 2zM152 241l-9-2m0-2l-4 2 3 2zM164 241l-13-2m0-2l-4 2 4 2zM173 241l-12-2m0-2l-3 2 3 2zM182 241l-11-2m0-2l-4 1 3 3zM191 243l-10-5m1-1l-4 0 2 3zM202 241l-12-2m0-2l-4 1 3 3zM211 242l-12-3m1-2l-4 1 3 2zM220 242l-10-3m1-2l-4 0 2 3zM230 241l-11-2m0-2l-4 1 3 3zM240 241l-12-2m0-2l-4 1 4 3zM249 241l-11-2m0-2l-3 2 3 2zM259 242l-11-4m0-1l-4 0 3 3zM269 241l-12-2m0-2l-3 1 3 3zM279 240l-12 0m0-2l-4 2 4 2zM288 240l-11-1m0-1l-4 1 4 2zM298 241l-12-2m0-2l-4 1 3 3zM307 242l-11-3m0-2l-4 1 3 3zM317 242l-11-4m0-1l-4 0 3 3zM326 242l-11-3m1-2l-4 0 3 3zM336 240l-11-1m0-1l-4 1 4 2zM346 242l-12-3m1-2l-4 1 3 3zM355 241l-11-2m0-2l-3 1 3 3zM365 242l-12-4m1-1l-4 0 3 3zM374 241l-11-2m1-2l-4 2 3 2zM383 242l-10-3m1-2l-4 1 3 3zM394 241l-12-2m1-2l-4 1 3 3zM404 239l-13 1m0-2l-3 2 3 2zM413 242l-12-4m1-1l-4 0 3 3zM421 240l-8-1m0-1l-4 1 3 2zM429 243l-6-5m1-1l-4-1 2 4zM439 241l-6-2m0-1l-3 0 2 3zM448 242l-5-3m1-1l-4 0 2 3zM456 242l-3-3m1-1l-3-1 1 3zM462 243l2-4m1 0l0-3-3 2zM470 244l4-6m1 1l1-3-3 1zM479 241l5-2m0 2l3-3-4 0zM488 243l6-5m1 2l1-4-3 1zM499 244l4-6m1 1l1-4-3 2zM508 244l5-6m1 2l1-4-4 1zM517 244l6-6m1 1l1-4-3 2zM528 242l3-3m1 1l1-3-3 1zM537 244l5-6m1 1l1-4-4 2zM545 243l7-5m1 2l2-3-4 0zM556 244l5-6m2 1l0-4-3 2zM565 243l6-5m1 2l1-4-4 1zM574 244l7-6m1 2l2-4-4 1zM584 244l6-6m1 1l1-3-3 1zM594 243l5-4m1 1l2-3-4 0zM604 244l5-6m1 1l1-3-4 1zM18 232l-10-3m1-2l-4 1 3 3zM28 232l-11-3m0-2l-4 1 3 3zM38 231l-12-2m0-2l-3 2 3 2zM47 232l-11-3m1-2l-4 1 3 3zM57 232l-11-3m1-2l-4 1 3 3zM67 232l-12-3m1-2l-4 1 3 3zM76 233l-11-4m1-2l-4 0 3 3zM87 231l-13-2m0-1l-4 1 4 2zM94 232l-9-3m1-1l-4 0 3 3zM104 232l-9-3m0-2l-4 1 3 3zM115 231l-12-1m0-2l-3 1 3 2zM125 232l-12-3m0-2l-4 1 3 3zM135 231l-13-1m0-2l-4 1 4 2zM143 232l-10-3m0-2l-4 1 3 3zM154 231l-12-2m0-1l-4 1 3 2zM163 231l-12-2m0-1l-4 1 4 2zM171 232l-9-3m1-2l-4 1 3 3zM182 232l-11-3m0-2l-4 1 3 3zM192 230l-12 0m0-2l-3 2 3 2zM201 230l-10 0m0-2l-4 2 4 2zM211 232l-12-3m1-2l-4 1 3 3zM221 232l-12-3m0-2l-4 1 3 3zM231 231l-13-1m1-2l-4 1 3 3zM240 231l-12-1m1-2l-4 1 3 2zM250 231l-12-2m0-1l-4 1 3 2zM259 231l-11-1m0-2l-3 1 3 2zM269 231l-12-2m0-1l-4 1 3 2zM279 230l-12 0m0-2l-4 2 4 2zM288 231l-11-2m0-1l-4 1 3 2zM297 232l-11-3m1-2l-4 2 3 2zM307 231l-11-1m0-2l-4 1 4 2zM316 232l-10-3m0-2l-4 1 3 3zM326 232l-11-3m1-2l-4 1 3 3zM335 231l-9-2m0-1l-4 1 3 2zM346 232l-12-3m0-2l-4 1 3 3zM356 231l-12-2m0-1l-4 1 3 2zM364 232l-10-3m0-2l-4 1 3 3zM374 230l-10 0m0-2l-4 2 4 2zM385 231l-13-1m0-2l-4 1 4 3zM394 232l-12-3m0-2l-4 1 3 3zM403 230l-10 0m0-2l-4 2 4 2zM413 232l-11-3m0-2l-4 1 3 3zM421 232l-8-3m1-2l-4 1 2 3zM431 232l-9-3m1-2l-4 1 3 3zM439 232l-6-3m1-1l-4 0 2 3zM446 233l-2-4m1 0l-3-2 0 3zM454 233l0-3m1 0l-2-3-1 3zM461 233l3-4m1 1l1-3-3 1zM470 234l4-5m1 0l0-3-3 2zM478 233l6-4m1 1l2-3-4 0zM488 233l6-4m1 2l1-4-3 1zM498 233l5-4m1 1l2-3-4 0zM507 233l6-4m1 1l1-3-3 1zM517 235l6-7m1 1l1-3-4 1zM527 233l5-4m1 1l1-3-3 1zM536 234l6-6m1 2l1-4-3 1zM546 234l5-5m2 1l1-4-4 1zM555 234l6-6m1 2l2-4-4 1zM565 232l6-3m0 2l2-3-3 0zM576 235l4-7m1 1l0-4-3 2zM585 235l5-7m1 1l1-4-4 2zM593 232l7-3m0 2l3-3-4 0zM603 233l7-4m0 2l3-4-4 0zM613 233l6-4m1 1l2-3-4 0zM18 222l-10-2m0-2l-4 1 3 3zM27 222l-9-2m0-2l-4 1 3 3zM37 223l-9-4m0-2l-4 1 3 3zM47 223l-10-4m0-2l-4 1 3 3zM56 221l-9-1m0-2l-4 2 4 2zM65 223l-8-4m1-1l-5 0 3 3zM75 222l-8-2m0-2l-4 1 3 3zM84 223l-8-4m1-1l-4 0 3 3zM95 222l-10-2m1-2l-4 1 3 2zM105 222l-11-2m0-2l-4 1 3 3zM114 222l-10-2m1-2l-4 1 3 3zM123 222l-8-2m0-2l-4 1 3 3zM133 224l-9-5m0-2l-4 0 3 3zM141 220l-7 0m1-1l-4 1 3 2zM152 222l-9-2m1-2l-4 1 3 3zM162 221l-10-1m0-2l-3 2 3 2zM172 222l-10-2m0-2l-4 1 3 3zM181 222l-9-2m1-2l-4 0 2 3zM190 222l-8-2m1-2l-4 0 3 3zM199 223l-7-4m0-2l-4 1 3 3zM210 221l-9-1m0-2l-4 1 3 3zM219 222l-8-2m0-2l-4 1 3 3zM229 223l-9-4m1-2l-4 1 2 3zM239 223l-10-4m0-2l-4 1 3 3zM248 222l-9-2m1-2l-4 1 3 3zM256 221l-6-1m0-1l-3 1 3 2zM268 222l-10-3m0-1l-4 1 3 2zM277 222l-9-2m0-2l-3 1 3 3zM287 221l-9-1m0-2l-4 2 4 2zM296 222l-9-2m1-2l-4 1 3 3zM306 222l-9-2m0-2l-4 1 3 2zM316 222l-9-2m0-2l-4 1 3 3zM325 222l-8-2m0-2l-4 1 3 3zM335 221l-9-1m0-2l-4 1 4 3zM345 221l-10-1m0-2l-3 2 3 2zM355 221l-10-1m0-2l-4 1 3 3zM364 221l-9-1m0-2l-4 1 3 3zM373 223l-9-4m1-2l-4 0 2 4zM383 222l-9-3m1-1l-4 0 2 3zM392 223l-8-4m1-1l-4 0 2 3zM402 222l-8-2m0-2l-4 1 3 3zM413 222l-11-2m0-2l-4 1 3 3zM420 223l-6-3m0-2l-3 0 2 3zM429 223l-6-4m1-1l-4-1 2 4zM436 222l-2-2m1 0l-2-2 0 3zM446 224l-2-4m1-1l-3-2 0 3zM456 223l-3-3m1-1l-3-1 1 3zM462 224l2-5m1 1l-1-4-2 3zM472 225l1-6m2 0l-1-3-2 3zM479 224l5-5m1 1l1-4-4 2zM489 225l4-6m1 1l1-4-3 2zM498 225l5-7m2 2l0-4-3 1zM508 225l5-6m1 1l1-4-4 1zM519 225l3-6m1 0l0-3-3 2zM526 224l6-5m1 2l2-4-4 1zM537 224l4-5m2 1l0-4-3 2zM547 224l4-5m1 1l1-3-3 1zM555 224l6-5m1 1l2-3-4 1zM566 224l4-5m1 1l1-3-3 1zM575 225l5-6m2 1l1-4-4 1zM583 223l7-4m1 2l3-4-4 1zM594 224l5-5m2 1l0-4-3 2zM605 223l3-3m1 1l2-3-3 1zM613 224l6-5m1 1l1-4-3 1zM16 213l-7-3m1-2l-4 0 3 3zM24 211l-4 0m0-2l-3 1 3 2zM34 211l-5 0m1-2l-3 1 2 2zM44 213l-5-3m1-2l-4 0 2 3zM55 213l-7-3m0-2l-3 0 2 3zM64 211l-6 0m0-2l-4 2 3 1zM72 211l-4 0m0-2l-2 2 2 1zM83 212l-6-2m1-1l-4 0 3 3zM93 212l-6-2m0-1l-3 1 2 2zM102 213l-6-3m1-1l-4 0 3 3zM112 211l-6-1m0-1l-3 1 3 2zM121 210l-5 1m0-2l-3 2 3 1zM130 211l-4 0m0-2l-3 2 3 1zM141 213l-6-3m0-2l-4 1 3 3zM150 210l-6 1m0-2l-3 2 4 1zM160 211l-6 0m0-2l-3 2 3 1zM169 212l-5-2m0-1l-3 1 3 2zM180 212l-7-2m0-1l-3 1 3 2zM188 213l-5-3m1-1l-3-1 1 3zM198 211l-5 0m0-2l-3 1 3 2zM208 212l-6-2m1-1l-3 1 2 2zM218 210l-7 1m0-2l-3 2 4 2zM228 212l-7-2m0-1l-3 0 2 3zM237 212l-6-2m1-1l-4 0 3 3zM246 212l-5-2m0-1l-3 1 3 2zM254 212l-3-1m1-2l-3 1 2 2zM265 212l-5-2m1-1l-4 1 3 2zM275 211l-6 0m0-2l-3 2 3 1zM285 211l-6 0m0-2l-3 1 3 2zM294 212l-5-2m1-1l-3 1 2 2zM304 211l-5 0m0-2l-3 1 3 2zM313 213l-4-3m0-1l-3 0 2 2zM323 210l-5 1m0-2l-3 2 3 1zM333 211l-6 0m0-2l-3 2 3 1zM342 212l-5-2m1-1l-4 0 3 3zM352 212l-6-2m1-1l-3 0 2 3zM362 210l-6 1m0-2l-3 3 4 0zM371 211l-5 0m0-2l-3 2 3 1zM381 211l-6 0m0-2l-3 2 3 1zM390 212l-5-2m1-1l-3 0 2 3zM399 211l-4 0m0-2l-2 1 2 2zM410 210l-6 1m0-2l-3 2 3 2zM419 211l-5 0m1-2l-3 1 2 2zM428 211l-4 0m0-2l-2 1 2 2zM436 213l-2-3m1 0l-2-2 0 3zM443 214l1-4m2 1l-1-3-2 2zM453 213l1-3m1 1l0-3-2 2zM463 215l0-5m2 0l-1-3-2 3zM469 213l5-3m1 1l2-2-4 0zM479 215l5-6m1 1l1-3-3 1zM488 214l6-5m1 2l1-4-3 1zM498 214l5-4m1 1l1-3-3 0zM507 214l6-5m1 2l2-4-4 1zM518 214l4-4m1 0l1-3-4 2zM528 214l3-4m2 1l0-4-3 2zM538 214l3-4m1 0l0-3-2 2zM548 213l2-3m1 1l1-3-3 1zM555 213l6-3m1 2l2-3-4-1zM565 214l6-4m1 1l2-3-4 0zM576 214l4-5m1 1l1-3-4 1zM585 215l5-6m1 1l1-4-4 2zM594 213l5-3m1 1l2-3-4 1zM604 214l5-5m1 2l2-4-4 1zM614 214l4-4m1 1l1-4-3 1zM13 200l-2 1m0-1l-2 2 3 0zM21 203l0-2m1 0l-2-2 0 3zM33 201l-3 0m0-1l-2 1 2 1zM42 201l-2 0m1-1l-3 1 2 1zM51 200l-1 1m-1-1l-1 2 3 0zM62 202l-3-1m0-2l-3 1 2 2zM72 199l-4 2m0-1l-2 3 3 0zM79 199l0 2m-2 0l1 2 2-2zM90 200l-2 1m0-1l-1 2 2 0zM100 200l-2 1m-1-1l-1 2 2 0zM109 203l-2-2m1-1l-3-1 1 3zM119 202l-2-1m0-1l-2 0 2 2zM129 201l-2 0m0-1l-3 1 3 1zM138 200l-2 1m0-1l-2 2 3 0zM147 200l-1 1m-1-1l-1 2 3 0zM158 200l-3 1m0-1l-2 2 3 0zM168 202l-3-1m0-1l-2 0 1 2zM176 199l-1 2m-1-1l0 3 2-2zM186 202l-2-1m1-1l-3 0 2 2zM197 198l-4 4m-1-1l-1 3 3-1zM207 202l-4-1m0-2l-3 1 2 2zM218 201l-6 0m0-2l-3 2 3 2zM226 200l-4 1m0-1l-2 2 3 0zM235 198l-3 4m-1-1l-1 3 3-1zM244 201l-2 0m1-1l-3 1 2 1zM255 201l-4 0m0-1l-3 1 3 2zM263 200l-2 1m0-1l-1 2 2 0zM274 199l-4 2m0-1l-2 3 3-1zM283 200l-3 1m0-1l-2 2 3 0zM294 202l-5-1m0-2l-2 1 2 2zM302 203l-3-2m1-1l-3-1 2 3zM311 199l-2 2m-1-1l-1 3 3-1zM321 201l-2 0m0-1l-2 1 2 1zM330 199l-1 2m-1-1l-1 3 3-1zM340 199l-2 2m-1-1l0 3 2-1zM350 200l-2 1m-1-1l-2 2 3 0zM359 202l-1-1m0-1l-2 0 1 2zM369 202l-2-1m1-1l-3 0 2 2zM379 201l-2 0m0-1l-3 1 3 1zM389 202l-3-1m1-1l-3 0 1 2zM397 199l-1 2m-1 0l0 2 2-2zM408 202l-2-1m0-1l-3 0 2 2zM417 200l-2 1m0-1l-2 2 3 0zM427 203l-2-2m1-1l-3-1 1 3zM433 203l1-2m1 1l1-2-3 1zM444 203l0-2m1 0l-1-2-1 2zM454 204l0-4m1 0l-1-2-2 3zM459 204l6-4m1 1l1-3-3 1zM469 203l5-3m1 2l1-3-3 0zM479 203l5-3m0 2l2-3-3 0zM489 205l4-5m2 1l0-4-3 2zM498 206l5-7m2 1l0-4-3 2zM509 206l3-7m2 1l0-4-3 2zM516 205l7-6m1 2l2-4-4 1zM527 206l5-7m1 1l1-4-4 2zM537 206l4-7m2 1l0-4-3 2zM547 202l4-1m0 1l2-2-3-1zM556 205l5-6m1 2l1-4-3 1zM565 204l6-4m1 1l2-3-4 1zM575 205l5-5m1 1l2-4-4 1zM585 204l4-4m2 1l1-3-4 1zM603 205l6-5m1 1l2-4-4 1zM614 205l4-6m2 1l0-3-3 1zM14 191l-3 0m-1-1l-2 2 3 1zM22 193l-1-1m1-1l-2-2 0 3zM32 192l-1 0m0-1l-2-1 1 2zM43 191l-3 0m0-1l-3 1 3 2zM53 190l-4 1m0-1l-2 2 3 1zM63 191l-5 0m0-1l-3 1 3 2zM72 190l-4 2m0-2l-2 3 3 0zM81 193l-3-2m1-1l-3-1 1 3zM91 190l-3 1m-1-1l-1 3 2 0zM99 190l-1 1m-1-1l-1 2 3 0zM107 190l0 1m-1 0l2 2 0-2zM119 190l-2 1m-1-1l-1 3 3-1zM128 190l-1 1m-1-1l-1 3 3-1zM138 191l-1 0m-1-1l-1 2 2 0zM149 191l-4 0m0-1l-2 2 3 1zM157 191l-1 0m-1-1l-1 2 2 0zM167 192l-2-1m0-1l-2 1 2 2zM177 192l-2-1m0-1l-3 0 2 2zM186 189l-2 2m-1 0l0 2 2-1zM197 191l-3 0m-1-1l-2 2 3 1zM206 191l-3 0m0-1l-2 1 2 2zM216 191l-3 0m0-1l-3 1 3 2zM224 190l-1 1m-1-1l0 2 2 0zM236 192l-4-1m0-1l-3 1 2 2zM245 190l-4 2m0-2l-2 3 3 0zM253 188l-1 4m-2-1l1 3 2-2zM264 192l-3-1m1-1l-3 0 2 2zM272 190l-1 1m-1-1l-1 3 3-1zM283 190l-2 1m-1-1l-2 2 3 0zM292 191l-2 0m0-1l-2 2 3 0zM302 191l-2 0m0-1l-3 1 3 2zM312 192l-3-1m1-1l-3 1 2 1zM322 190l-3 1m-1-1l-2 2 3 1zM328 189l1 2m-2 1l2 2 1-3zM339 190l-1 1m-1-1l0 3 2-2zM349 190l-1 1m-1-1l0 3 2-2zM359 190l-1 1m-1-1l-1 3 3-1zM369 191l-2 0m0-1l-2 2 3 0zM379 189l-3 3m0-1l-2 2 3 0zM387 193l0-1m0-1l-2-1 1 2zM399 192l-4-1m1-1l-3 0 2 2zM407 190l-1 1m-1-1l-1 2 3 0zM417 191l-2 0m0-1l-2 2 3 0zM427 193l-2-2m1-1l-3 0 1 2zM437 190l-3 1m0-1l-2 3 3-1zM447 191l-3 0m0-1l-3 1 3 2zM456 190l-2 1m-1-1l-2 2 3 1zM467 190l-4 2m-1-2l-2 2 3 1zM475 190l-2 1m-1-1l-1 2 2 1zM485 192l-2-1m0-1l-3 1 2 2zM495 191l-3 0m0-1l-3 1 3 2zM505 191l-4 0m0-1l-2 2 3 1zM515 192l-4-1m0-1l-3 1 3 2zM522 190l-1 1m-1-1l0 3 2-2zM533 191l-2 0m0-1l-3 2 3 1zM543 191l-3 0m0-1l-2 2 3 1zM552 191l-2 0m0-1l-2 1 2 2zM562 191l-2 0m-1-1l-2 2 3 1zM568 193l1-1m1 0l0-2-2 1zM581 191l-2 0m-1-1l-1 2 2 0zM589 189l-1 2m-1 0l0 2 2-1zM608 190l0 1m-1 0l0 2 2-2zM620 192l-3-1m1-1l-3 0 1 2zM13 182l-1 0m0-1l-2 0 1 2zM23 181l-2 1m-1-1l-1 2 2 0zM31 184l-1-2m2-1l-3-1 0 2zM43 181l-3 1m0-2l-3 2 3 1zM52 182l-3 0m0-2l-2 2 2 1zM60 180l-1 1m-1 0l1 2 1-1zM72 182l-4 0m0-2l-2 1 2 2zM81 179l-3 3m-1-1l-1 3 3-1zM90 180l-2 2m-1-1l0 2 2-1zM101 182l-4 0m1-2l-3 1 2 2zM110 182l-3 0m0-2l-2 2 2 1zM119 179l-3 3m-1-1l0 3 3-1zM129 181l-2 1m-1-1l-1 2 2 0zM138 180l-2 2m-1-1l-1 3 3-1zM148 180l-2 2m-1-1l-1 2 2 0zM159 181l-4 1m0-2l-3 2 3 1zM167 182l-2 0m1-1l-3 0 2 2zM176 182l-1 0m1-1l-3 0 2 2zM187 183l-3-1m1-2l-3 0 2 3zM192 181l1 1m0 1l3-1-2-2zM207 181l-4 1m0-2l-2 2 2 1zM215 181l-1 1m-1-2l-2 2 3 1zM225 180l-2 2m-1-1l-2 2 3 0zM235 182l-2 0m0-2l-3 2 3 1zM244 181l-2 1m0-2l-2 2 2 1zM255 181l-4 1m0-2l-2 3 3 0zM264 181l-3 1m0-2l-2 2 2 1zM273 180l-2 2m-1-1l-1 2 3 0zM283 180l-3 2m-1-1l-1 3 3-1zM291 180l-1 2m-1-1l0 2 2-1zM303 180l-4 2m0-1l-2 2 3 0zM312 182l-3 0m0-2l-2 2 2 1zM321 183l-2-1m1-1l-3-1 1 3zM332 181l-4 1m0-2l-2 2 2 1zM339 180l-1 1m-1 0l1 2 1-1zM351 180l-4 2m0-1l-2 2 3 0zM359 183l-1-1m0-1l-2 0 1 2zM369 183l-2-1m1-1l-3-1 1 3zM379 181l-3 1m0-2l-2 2 3 1zM390 183l-5-2m1-1l-3 0 2 3zM397 180l-1 2m-1-1l0 2 2-1zM408 182l-2 0m0-2l-3 1 2 2zM418 181l-3 1m0-2l-2 2 2 1zM428 181l-4 1m0-2l-2 3 3 0zM438 182l-4 0m0-2l-3 2 3 1zM447 182l-4 0m1-2l-3 1 2 2zM456 183l-2-1m0-1l-2-1 1 3zM466 181l-3 1m0-2l-3 2 3 1zM476 182l-3 0m0-2l-3 2 3 1zM485 181l-2 1m-1-2l-2 2 3 1zM495 182l-3 0m0-2l-3 1 3 2zM504 182l-2 0m0-1l-2 0 2 2zM514 182l-3 0m0-2l-2 2 2 1zM520 181l1 0m-1 1l2 1-1-3zM533 180l-2 2m-1-1l-2 2 3 0zM542 181l-1 1m-1-2l-2 2 3 1zM552 181l-2 1m0-2l-3 2 3 1zM561 181l-1 1m-1-2l-1 2 2 1zM608 180l0 2m-1-1l0 3 2-2zM619 179l-2 3m-1-1l-1 3 3-1zM12 171l-1 1m0-1l-1 2 2-1zM23 170l-3 2m0-1l-2 3 3-1zM33 172l-3 0m0-1l-2 1 2 1zM41 170l-1 2m-1 0l0 2 2-2zM52 172l-2 0m0-1l-3 0 2 2zM62 171l-3 1m0-1l-3 2 3 0zM71 173l-2-1m1-1l-3 0 2 2zM77 172l1 0m0 1l2-1-2-1zM91 173l-3-1m0-1l-2 0 1 2zM101 172l-4 0m0-1l-3 1 3 1zM109 171l-2 1m0-1l-2 2 3 0zM118 174l-1-2m1 0l-2-2 0 3zM128 171l-1 1m-1-1l-1 2 2 0zM139 171l-3 1m0-1l-2 2 2 0zM149 172l-4 0m0-1l-2 1 2 1zM158 170l-3 2m0-1l-2 3 3-1zM168 171l-3 1m-1-1l-2 2 3 0zM177 172l-2 0m0-1l-3 1 3 1zM187 173l-3-1m0-1l-3 0 2 2zM195 171l-1 1m-1-1l-1 2 3 0zM206 171l-2 1m-1-1l-1 2 2 0zM216 170l-3 2m-1-1l-2 3 3 0zM224 169l-1 3m-2 0l1 3 2-2zM233 170l-1 2m-1-1l1 3 2-2zM244 173l-2-1m1-1l-3 0 2 2zM253 170l-2 2m-1-1l0 3 2-1zM264 170l-3 2m-1-1l-1 3 3 0zM272 174l-1-2m1-1l-2-1 0 3zM282 171l-1 1m-1-1l-1 2 2 0zM293 173l-3-1m0-1l-3 0 2 2zM302 171l-2 1m-1-1l-2 2 3 0zM311 170l-2 2m0-1l-1 2 2 0zM322 170l-4 2m0-1l-2 3 3 0zM330 171l-1 1m-1-1l-1 2 3 0zM342 170l-5 2m0-1l-2 3 3 0zM350 171l-2 1m-1-1l-2 2 3 0zM360 173l-3-1m1-1l-3 0 2 2zM370 171l-3 1m-1-1l-2 2 3 0zM379 171l-2 1m-1-1l-2 2 3 0zM390 171l-5 1m0-1l-2 2 3 1zM399 172l-3 0m0-1l-3 1 3 1zM408 170l-3 2m0-1l-2 3 3-1zM417 172l-2 0m0-1l-2 1 2 1zM427 172l-2 0m0-1l-3 1 3 1zM436 172l-1 0m0-1l-3 1 3 1zM445 171l-1 1m0-1l-1 2 2 0zM455 171l-1 1m0-1l-2 2 3 0zM466 170l-3 2m-1-1l-1 3 3-1zM475 172l-2 0m0-1l-3 1 3 1zM485 171l-3 1m0-1l-2 2 3 0zM495 170l-3 2m-1-1l-1 3 3-1zM505 170l-4 2m0-1l-2 2 3 0zM514 171l-3 1m0-1l-2 2 3 0zM525 172l-5 0m0-2l-3 2 3 1zM532 173l-1-1m0-1l-2 0 1 2zM590 171l-1 1m-1-1l-2 1 3 1zM597 170l1 2m-1 0l1 2 1-3zM611 170l-4 2m-1-1l-1 3 3 0zM620 172l-3 0m0-1l-3 1 3 1zM12 161l0 1m-1-1l-1 2 2 0zM24 162l-4 0m0-1l-2 1 2 2zM32 162l-1 0m0-1l-2 1 2 1zM42 162l-2 0m1-1l-3 1 2 1zM53 162l-4 0m0-1l-3 2 3 1zM62 161l-3 1m0-1l-2 2 3 0zM71 162l-2 0m0-1l-2 1 2 1zM80 161l-1 1m-1-1l-1 3 2-1zM90 161l-2 1m-1-1l-1 3 3-1zM99 161l-1 1m-1-1l-1 3 3-1zM110 161l-3 2m-1-2l-1 3 3 0zM119 162l-2 0m0-1l-2 1 2 1zM128 163l-1-1m0-1l-2 0 1 2zM138 162l-1 0m0-1l-2 1 2 1zM147 160l-1 2m-1 0l0 2 2-2zM157 163l-1-1m0-1l-2 1 2 1zM165 160l0 2m-1 0l1 3 1-2zM176 161l-1 1m0-1l-2 2 3 0zM188 161l-5 2m0-2l-2 3 3 0zM196 162l-2 0m0-1l-2 1 2 1zM206 161l-3 2m-1-2l-1 3 3 0zM216 162l-3 0m-1-1l-2 2 3 1zM225 162l-2 0m0-1l-2 2 2 0zM235 162l-3 0m0-1l-2 2 3 0zM246 163l-5-1m0-1l-3 1 3 2zM253 161l-1 1m-1-1l-1 2 2 0zM264 163l-3-1m1-1l-3 0 2 2zM273 161l-2 1m-1-1l-1 3 2-1zM282 163l-1-1m0-1l-2 0 1 2zM292 161l-2 1m-1-1l-1 3 3-1zM302 161l-2 1m-1-1l-1 3 3-1zM311 162l-1 0m-1-1l-1 2 2 0zM322 162l-3 0m0-1l-3 1 3 2zM330 163l-1-1m0-1l-2 1 2 1zM342 163l-5-1m1-1l-3 1 2 2zM350 162l-2 0m-1-1l-1 2 2 0zM361 162l-4 0m0-1l-3 1 3 2zM369 163l-2 0m1-1l-2-1 1 2zM379 163l-2-1m0-1l-3 0 2 2zM389 162l-3 0m0-1l-2 2 3 0zM398 161l-2 1m-1-1l-1 2 2 0zM407 161l-1 1m-1-1l0 3 2-1zM417 162l-2 0m0-1l-2 2 3 0zM427 163l-2-1m0-1l-2 0 1 2zM437 164l-3-2m1-1l-3 0 2 2zM446 162l-2 0m0-1l-2 2 3 0zM455 163l-1 0m1-1l-3-1 1 2zM465 161l-2 1m0-1l-2 3 3-1zM476 162l-4 0m0-1l-2 1 2 2zM485 161l-2 1m-1-1l-1 2 2 0zM494 163l-2-1m1-1l-3 1 2 1zM503 161l-1 1m0-1l-2 2 3 0zM513 163l-1-1m0-1l-2 0 1 2zM563 162l-4 0m0-1l-3 1 3 2zM572 163l-3-1m0-1l-2 1 2 1zM588 161l0 1m-1 0l2 2 0-3zM600 161l-2 1m-1-1l-1 2 2 0zM611 162l-4 0m0-1l-2 2 2 1zM620 162l-3 0m-1-1l-2 2 3 1zM14 153l-3 0m0-2l-2 1 2 2zM22 151l-1 2m-1-1l-1 3 3-2zM32 151l-2 2m-1-1l-1 2 3 0zM41 151l-1 1m-1 0l0 2 2-1zM51 151l-1 2m-1-1l-1 2 3-1zM62 151l-3 2m-1-2l-2 3 3 0zM71 151l-2 2m-1-1l-1 2 3-1zM80 152l-1 0m-1-1l-1 3 3-1zM90 152l-1 1m-1-2l-2 2 3 1zM101 153l-4 0m0-2l-2 1 2 2zM109 153l-1 0m0-1l-2 0 1 2zM119 150l-2 3m-1-1l-1 3 3-1zM129 153l-3 0m1-2l-3 1 2 2zM138 151l-2 2m-1-1l-1 2 3 0zM148 152l-2 1m0-2l-3 2 3 1zM158 152l-3 1m0-2l-2 3 3 0zM168 152l-3 1m0-2l-3 2 3 1zM177 151l-3 2m0-1l-2 2 3 0zM187 152l-3 1m0-2l-2 3 3 0zM196 151l-2 1m-1-1l-1 3 3-1zM206 150l-3 3m-1-1l-1 3 3-1zM217 153l-5-1m1-1l-3 1 2 2zM224 151l-1 1m-1 0l0 2 2-1zM235 151l-3 2m-1-1l-1 2 3 0zM243 151l-1 1m0 0l-1 2 2-1zM254 153l-2 0m0-2l-2 1 2 2zM265 152l-5 1m0-2l-2 3 3 0zM273 152l-2 0m0-1l-2 2 3 1zM281 151l0 1m-1 0l0 2 2-1zM293 153l-3 0m0-2l-2 1 2 2zM301 154l-1-1m1-1l-3 0 1 2zM309 151l0 1m-1 0l2 3 1-3zM321 153l-2 0m0-2l-2 1 2 2zM330 154l-1-1m0-1l-2-1 1 3zM341 153l-3 0m0-2l-2 1 2 2zM349 154l-1-1m1-1l-2-1 0 3zM359 151l-1 1m-1 0l-1 2 3-1zM370 154l-3-2m0-1l-2 1 1 2zM379 150l-3 3m-1-1l-1 3 3-1zM388 154l-2-1m1-1l-3 0 2 2zM399 151l-3 2m-1-1l-2 2 3 0zM408 152l-3 1m0-2l-2 2 2 1zM417 154l-2-2m1-1l-3 0 1 2zM423 154l1-1m1 1l1-2-2 0zM436 154l-1-1m0-1l-2-1 1 3zM446 153l-2 0m0-2l-2 1 2 2zM454 154l0-1m1 0l-1-2-1 2zM462 153l1 0m0 1l2-2-3 0zM475 153l-2 0m0-2l-2 2 2 1zM484 153l-1 0m0-1l-2 0 1 2zM494 152l-1 0m-1-1l-1 2 2 0zM505 151l-4 2m-1-1l-2 3 4-1zM514 151l-3 2m-1-1l-1 2 3 0zM552 154l-2-1m1-1l-3 0 2 2zM563 152l-4 1m0-2l-3 2 3 1zM571 153l-2 0m0-2l-2 1 2 2zM578 154l1-1m1 0l-1-2-1 2zM591 152l-3 1m0-2l-2 3 3 0zM599 151l-1 1m-1 0l0 2 2-1zM610 151l-2 2m-1-1l-2 2 3 0zM619 152l-2 1m0-2l-2 2 2 1zM14 141l-3 2m-1-1l-2 3 3-1zM23 143l-2 0m0-1l-2 1 2 1zM33 142l-3 1m0-1l-3 2 3 0zM44 142l-5 1m0-1l-3 2 3 1zM52 142l-2 1m0-1l-2 1 2 1zM62 141l-3 2m-1-1l-1 3 3-1zM71 144l-2-1m1-1l-3 0 2 2zM81 142l-3 1m0-1l-2 2 3 0zM92 144l-5-1m1-2l-3 1 2 2zM99 143l-1 0m0-1l-2 1 2 1zM109 142l-2 1m0-1l-2 2 3 0zM118 141l-1 2m-1-1l0 3 2-1zM129 143l-2 0m0-1l-3 1 3 1zM138 142l-2 1m0-1l-2 2 3 0zM147 141l-1 2m-1-1l0 3 2-2zM158 142l-3 1m0-1l-2 2 3 0zM167 142l-2 1m-1-1l-1 2 3 0zM176 141l-1 2m-1-1l0 3 2-2zM186 143l-1 0m0-1l-2 1 2 1zM196 142l-2 1m0-1l-2 2 3 0zM207 143l-4 0m0-1l-2 0 2 2zM214 141l-1 2m-1-1l0 3 2-2zM225 143l-2 0m0-1l-2 1 2 1zM235 143l-3 0m0-1l-2 1 2 1zM244 141l-2 2m-1-1l-1 3 3-1zM254 142l-3 1m0-1l-2 2 3 0zM263 143l-1 0m0-1l-2 1 1 1zM274 142l-3 1m-1-1l-2 2 3 0zM283 144l-3-1m0-1l-2 0 2 2zM293 142l-3 1m0-1l-2 2 2 0zM301 143l-1 0m0-1l-2 1 2 1zM311 141l-2 2m-1-1l0 3 2-1zM321 140l-2 3m-1-1l-1 3 3-1zM331 145l-3-3m1-1l-3 0 1 2zM341 141l-3 2m-1-1l-1 2 3 0zM350 141l-2 2m-1-1l-2 3 3-1zM360 142l-2 1m-1-1l-2 2 3 0zM370 143l-3 0m0-1l-3 1 3 1zM378 141l-1 2m-1-1l-1 3 3-1zM389 142l-3 1m-1-1l-1 2 3 0zM397 145l-1-2m1-1l-2-1 0 3zM407 142l-1 1m0-1l-2 1 2 1zM417 142l-2 1m0-1l-2 2 3 0zM427 142l-2 1m0-1l-2 2 2 0zM436 143l-1 0m0-1l-2 1 2 1zM446 143l-1 0m0-1l-3 0 2 2zM456 143l-2 0m0-1l-2 1 2 1zM465 143l-1 0m0-1l-2 0 1 2zM474 141l-1 2m-1-1l0 3 2-1zM484 142l-1 1m-1-1l-1 1 2 1zM494 143l-2 0m1-1l-3 0 2 2zM504 143l-2 0m0-1l-2 1 2 1zM551 142l-1 1m-1-1l0 2 2-1zM562 142l-3 1m0-1l-2 2 3 0zM571 143l-1 0m0-1l-3 1 2 1zM582 142l-4 1m0-1l-2 2 3 0zM591 141l-3 2m0-1l-2 2 3 0zM598 141l0 2m-1 0l1 2 1-2zM611 142l-4 1m0-1l-2 1 2 1zM620 141l-3 2m-1-1l-2 2 3 0zM13 133l-1 0m-1-1l-2 2 3 0zM20 135l1-2m1 1l-1-3-1 2zM33 133l-3 0m0-1l-2 1 2 2zM41 132l-1 1m-1-1l0 3 2-1zM52 134l-2-1m0-1l-2 1 2 1zM57 133l2 0m0 1l3-1-3-1zM69 131l0 2m-1 0l1 2 1-2zM80 132l-1 1m-1-1l-1 2 3 0zM90 134l-2-1m1-1l-3 0 2 2zM99 135l-1-2m1-1l-3 0 1 2zM106 132l1 1m-1 1l3 0-1-2zM116 132l1 1m-1 1l2 1 0-3zM129 134l-2-1m0-1l-2 1 2 1zM135 131l1 2m-1 1l2 1 0-3zM144 132l1 1m0 1l2 0-1-2zM154 133l1 0m0 1l2-1-2-1zM164 132l1 1m-1 1l2 0 0-2zM176 133l-1 0m0-1l-2 2 3 0zM186 134l-2-1m1-1l-3 0 2 2zM196 133l-2 0m0-1l-2 1 2 1zM204 135l0-1m1 0l-2-2 0 2zM214 132l0 1m-1-1l-1 2 2 0zM225 133l-2 0m0-1l-2 1 2 1zM234 132l-1 1m-1-1l-1 2 3 0zM243 132l-1 1m0-1l-1 2 2 0zM254 133l-2 0m0-1l-2 2 2 0zM264 131l-3 2m-1-1l-1 3 3 0zM274 132l-3 1m-1-1l-2 2 3 1zM281 132l0 1m-1-1l0 3 2-2zM293 135l-3-2m0-1l-3 0 2 2zM300 130l0 4m-2-1l1 3 2-2zM308 132l1 1m-1 0l2 2 0-3zM318 131l1 3m-1 0l2 2 0-3zM329 131l0 2m-2 0l1 3 2-2zM337 131l1 3m-1 0l3 2 0-3zM347 132l1 1m-1 0l2 2 0-3zM358 132l0 1m-1-1l0 3 2-2zM368 131l-1 2m-1 0l0 2 2-1zM378 131l-1 2m-2 0l1 3 2-2zM386 131l0 2m-1 1l2 2 1-3zM395 131l1 2m-1 1l2 2 0-3zM407 131l-1 2m-2 0l0 2 3-1zM415 130l0 4m-1 0l1 3 2-3zM426 131l-1 3m-2-1l0 3 3-2zM435 131l-1 2m-1 0l1 3 2-2zM444 131l0 2m-1 1l2 2 0-3zM454 131l0 2m-1 0l0 2 2-2zM462 131l1 3m-1 0l2 2 1-3zM473 130l0 4m-1-1l1 3 1-2zM484 131l-2 2m-1 0l1 3 2-2zM560 131l0 2m-2 0l1 2 2-2zM568 131l1 2m-1 1l2 1 0-2zM580 132l-1 1m-1-1l0 3 2-2zM589 130l-1 4m-1-1l0 3 2-2zM599 131l-1 2m-1-1l-1 3 3-1zM10 125l1-1m1 0l0-2-2 1zM22 125l-1-1m1-1l-2-1 0 2zM32 124l-1 0m0-1l-2 0 1 2zM42 125l-2-1m1-1l-3-1 1 3zM49 125l1-1m1 0l-1-2-2 1zM61 122l-2 1m0-1l-2 3 3 0zM71 125l-2-1m1-1l-3 0 2 2zM80 125l-1-1m1-1l-3-1 1 2zM89 126l-1-2m1-1l-2-2 0 3zM97 125l0-1m1 1l1-3-2 1zM109 124l-1 0m0-2l-2 1 2 2zM118 126l-1-2m1-1l-2-2 0 3zM128 122l-1 2m-1-1l-1 2 3-1zM136 126l0-3m2 0l-2-2-1 2zM145 122l1 1m-1 1l2 1 0-2zM156 126l-1-2m2 0l-2-2-1 2zM167 122l-2 1m0-1l-2 3 3-1zM176 125l-1-1m1-1l-3-1 1 3zM185 125l0-1m0-1l-2-1 1 3zM196 123l-2 0m0-1l-2 2 3 1zM204 125l0-1m1 0l-2-2 0 2zM212 122l1 1m-1 1l3 1-1-2zM224 123l-1 0m0-1l-2 2 3 1zM232 126l0-2m2 0l-1-3-2 2zM240 124l2 0m0 1l2-2-3 0zM251 126l1-2m1 0l0-2-2 1zM260 124l1 0m0 1l2-2-2-1zM272 123l-1 0m0-1l-2 2 3 0zM282 122l-1 1m-1-1l-1 3 3-1zM291 125l-1-1m1-1l-2-1 0 3zM302 121l-2 3m-1-1l-1 3 3-1zM310 120l-1 4m-1 0l1 3 2-3zM323 121l-5 3m-1-1l-2 3 4 0zM330 120l-2 4m-1 0l0 3 3-2zM337 121l1 3m-1 0l2 2 0-3zM346 121l2 3m-1 1l3 1-1-3zM358 121l-1 2m-1 0l1 3 2-2zM366 121l1 3m-1 0l2 2 0-3zM376 122l0 1m0 1l2 1-1-2zM388 121l-2 3m-1-1l0 3 2-2zM395 121l1 3m-1 0l2 2 0-3zM408 120l-3 4m-1-1l-1 4 3-1zM414 122l1 1m-1 1l3 1-1-3zM426 120l-1 4m-2 0l1 3 2-3zM435 121l-1 3m-1 0l1 2 2-2zM444 121l0 3m-1 0l2 2 0-2zM453 121l1 3m-2 0l2 2 1-3zM464 121l-1 3m-1-1l0 3 2-2zM473 121l0 3m-1 0l1 2 1-2zM493 125l-1-1m1 0l-1-2-1 2zM589 122l-1 1m-1 0l1 3 2-2zM11 112l0 2m-1 0l2 2 0-3zM19 115l1-1m1 1l1-2-2 0zM31 116l-1-2m2 0l-2-3-1 3zM38 114l2 0m0 1l3-1-3-1zM49 115l0-1m1 1l1-3-3 2zM59 116l0-2m1 0l-1-2-1 2zM71 115l-2-1m1-1l-3-1 1 3zM80 114l-1 0m0-1l-2 1 2 1zM90 115l-2-1m1-1l-2 0 1 2zM99 116l-1-2m1-1l-2-1 0 2zM109 113l-1 1m-1-1l-1 2 2 0zM115 115l2-1m1 1l1-3-3 1zM126 115l0-1m1 1l1-2-3 1zM138 113l-1 1m-1-1l-1 1 2 1zM146 112l0 1m-1 0l1 3 1-2zM157 116l-2-2m1-1l-2-1 0 3zM168 115l-3-1m0-1l-2 0 1 2zM174 112l1 2m-2 0l2 2 1-2zM186 115l-1-1m0-1l-2-1 1 3zM196 114l-2 0m1-1l-3 0 2 2zM204 116l0-2m1 0l-2-2-1 2zM212 114l1 0m0 1l2-2-3 0zM222 112l1 1m-1 1l1 1 1-2zM233 116l-1-2m2 0l-2-2-1 2zM243 115l-1-1m1-1l-2-1 0 3zM250 117l2-4m1 1l0-3-2 1zM264 115l-3-1m0-2l-3 1 2 2zM273 115l-2-1m0-1l-2-1 1 3zM282 116l-1-2m1-1l-3-1 1 3zM291 116l-1-2m1 0l-1-2-1 2zM302 112l-3 2m-1-1l-1 3 3-1zM310 111l-1 3m-1 0l0 2 3-1zM321 113l-2 1m-1-1l-1 2 3 0zM328 111l1 3m-2 0l2 2 1-2zM337 112l1 2m-1 1l3 1-1-3zM347 113l0 1m0 0l2 1-1-2zM358 112l-1 2m-1-1l0 3 3-2zM368 112l-1 2m-1-1l0 3 2-1zM377 112l0 1m-1 0l0 3 2-2zM385 112l1 2m-1 0l2 2 1-3zM396 111l0 3m-1 1l1 2 1-3zM407 112l-1 2m-1-1l0 3 2-2zM414 113l1 1m-1 1l3 0-1-2zM425 112l0 2m-1-1l0 3 2-2zM433 111l2 4m-2 0l3 2 0-3zM446 113l-2 1m0-1l-2 2 3 0zM453 110l1 5m-2 0l2 2 1-3zM465 112l-2 2m0-1l-1 2 2 0zM473 111l0 3m-1 0l1 3 1-3zM11 106l0-2m1 0l-1-2-1 2zM22 106l-1-2m1 0l-2-1 0 2zM31 102l0 2m-2-1l1 3 2-2zM40 106l0-2m1 1l0-3-2 2zM50 106l0-1m1 0l-1-2-1 2zM57 103l2 1m0 1l2 0-1-2zM68 107l1-3m1 0l0-2-2 2zM78 102l0 2m-1 0l2 2 1-2zM89 106l-1-1m1-1l-1-1-1 2zM96 106l2-2m0 1l1-2-2 0zM107 106l0-1m1 0l0-2-2 1zM116 106l1-1m1 0l0-2-2 1zM125 105l1-1m1 1l1-1-2-1zM135 106l1-1m1 0l0-2-2 1zM145 103l1 1m-1 0l2 2 0-3zM155 103l0 1m-1 0l2 2 0-3zM165 106l0-1m1 0l-1-2-1 1zM174 106l0-2m1 1l1-2-2 1zM185 103l-1 1m-1-1l1 3 2-2zM191 105l3-1m1 1l2-2-3 0zM206 105l-2-1m0-1l-3 1 2 1zM214 106l-1-2m1 0l-2-2 0 3zM223 106l0-2m1 0l-2-2 0 3zM231 103l1 1m0 1l2 0-1-2zM241 106l1-2m1 1l0-3-2 2zM251 106l1-2m1 1l-1-3-2 2zM260 103l1 1m-1 1l3 0-2-2zM270 106l1-2m1 1l0-3-2 2zM279 107l2-3m1 1l0-3-3 2zM288 107l3-3m1 0l0-3-3 2zM301 103l-1 1m-1-1l0 3 2-2zM309 101l1 4m-2 0l2 2 1-3zM320 101l-1 4m-1-1l0 3 2-2zM331 103l-3 1m0-1l-2 2 3 0zM337 103l1 1m-1 1l3 1-1-3zM349 105l-1-1m1-1l-3 1 2 1zM357 101l1 4m-2 0l2 3 1-3zM367 102l0 2m-1 0l1 2 1-2zM378 102l-1 2m-2 0l0 3 3-2zM385 101l2 4m-2 0l3 2 0-3zM397 103l-1 1m-1-1l0 2 2 0zM404 103l2 1m-1 1l2 1-1-3zM415 101l0 3m-1 1l1 2 2-3zM424 102l1 2m-1 1l1 2 1-3zM432 101l3 4m-1 1l3 1-1-3zM445 103l-1 1m-1-1l0 3 2-1zM453 103l1 1m-1 0l1 2 1-2zM11 97l0-3m1 0l-1-2-1 2zM19 94l1 0m0 2l2-1-2-2zM30 97l0-2m2 0l-1-3-2 2zM40 97l0-2m1 0l0-3-2 2zM49 96l0-1m2 0l-1-2-2 1zM59 96l0-1m1 0l0-2-2 2zM67 96l2-2m1 1l1-2-3 0zM79 92l0 2m-2 0l1 3 2-2zM90 96l-2-1m1-1l-3-1 2 3zM97 96l1-1m1 0l-1-2-1 1zM109 96l-2-1m1-1l-2-1 0 2zM115 94l2 0m0 2l2-1-2-2zM128 96l-1-1m1-1l-3-1 1 2zM134 94l2 0m0 2l2-1-2-2zM147 95l-1 0m1-1l-3 0 2 2zM155 96l0-1m2 0l-1-2-2 2zM163 95l2 0m0 1l2-2-3-1zM173 96l2-1m1 0l0-2-2 1zM186 93l-1 1m-1-1l-1 3 2-1zM192 96l2-1m1 1l1-3-3 1zM202 95l1 0m1 1l1-2-2 0zM215 94l-1 0m-1-1l-1 2 2 0zM224 96l-1-1m1-1l-3-1 1 3zM232 93l0 1m-1 1l2 1 0-2zM240 94l2 0m0 2l2-1-2-2zM250 95l1 0m1 1l1-2-2 0zM262 96l0-1m0-1l-2-1 1 3zM269 94l1 0m0 1l2 0-1-2zM282 93l-1 1m-1-1l-1 3 3-1zM290 96l0-1m1 0l-1-2-1 2zM299 93l1 1m-1 1l1 1 1-2zM308 94l1 0m-1 1l3 0-1-2zM319 92l0 2m-1 1l1 2 1-3zM329 92l0 3m-2 0l2 2 1-2zM337 92l1 3m-1 0l2 2 1-3zM347 92l1 3m-1 0l2 2 0-3zM357 93l0 1m-1 1l2 1 0-2zM368 92l-1 3m-1-1l0 3 2-2zM377 93l0 1m-1 0l0 2 2-2zM387 92l-1 3m-1-1l0 3 2-2zM394 93l2 1m-1 1l3 1-2-3zM404 94l1 0m0 1l2 0-1-2zM414 93l1 1m-1 1l2 1 0-2zM423 91l2 4m-1 1l3 2 0-3zM434 92l0 2m-1 0l2 3 1-3zM445 93l-1 1m-1 0l0 2 2-1zM452 93l2 2m-1 1l3 0-1-2zM9 83l2 2m-1 1l3 1-1-3zM21 83l0 1m-1 0l1 3 1-2zM32 86l-2-1m1-1l-2 0 1 2zM39 87l1-2m1 1l0-3-2 1zM48 84l1 1m0 1l2 0-1-2zM60 86l-1-1m1 0l-1-2-1 3zM67 84l2 1m0 1l2-1-2-1zM79 87l0-2m1 0l-2-2-1 2zM87 83l1 1m-1 1l2 1 0-2zM96 84l2 1m-1 1l3-1-2-1zM107 86l0-1m1 1l0-3-2 2zM116 86l1-1m1 1l0-3-2 2zM125 86l1-1m1 1l1-3-2 1zM134 86l2-1m1 1l2-3-3 1zM146 83l0 2m-1-1l1 3 1-2zM157 86l-1-1m0-1l-2-1 1 3zM165 83l0 1m-1 0l1 2 1-2zM173 85l1 0m0 1l2-1-2-1zM186 86l-1-1m0-1l-2 0 1 2zM193 84l1 1m-1 0l2 1-1-2zM204 86l0-1m1 0l-2-2-1 2zM211 86l2-1m1 1l1-2-3 0zM222 83l1 1m-1 1l2 1-1-2zM232 88l0-4m2 0l-2-2-1 3zM239 85l3 0m1 1l2-2-3-1zM250 84l1 1m0 1l3 0-2-2zM261 87l0-2m2 0l-2-3-1 3zM270 86l1-1m1 1l0-3-2 2zM279 86l2-1m0 1l1-3-2 1zM289 86l1-1m1 1l0-3-2 2zM300 82l0 3m-2 0l1 3 2-2zM309 82l0 3m-1 0l2 3 1-3zM319 83l0 2m-1 0l1 2 1-2zM330 85l-1 0m0-1l-2 1 2 1zM338 82l0 3m-1 0l2 3 1-3zM349 82l-1 3m-1 0l0 2 2-1zM357 83l0 2m-1 0l2 2 1-3zM368 82l-1 3m-1 0l0 3 2-2zM377 82l0 3m-1 0l0 2 2-2zM385 83l1 2m-1 1l3 1-1-3zM395 82l1 3m-1 1l2 2 0-3zM408 84l-2 1m-1-1l-1 2 2 0zM414 82l1 3m-1 0l2 2 1-2zM426 84l-1 1m-1-1l-1 2 3 0zM433 82l2 3m-2 1l3 1 0-3zM441 84l3 1m0 1l3 0-2-2zM48 76l1-1m0 1l2-1-2-1zM59 77l0-2m1 0l-1-2-1 2zM67 76l1-1m1 1l1-1-2-1zM78 78l1-3m1 0l-1-2-2 2zM86 75l2 0m0 1l3 0-3-2zM98 73l0 2m-1 0l1 2 1-2zM107 77l0-1m1 0l0-2-2 1zM114 75l3 0m1 1l2-1-3-1zM124 74l3 1m-1 1l3 0-2-2zM136 77l0-1m1 0l0-2-2 1zM145 74l1 1m-1 0l1 2 1-3zM155 78l0-3m2 0l-1-2-2 2zM165 73l0 2m-1 0l1 2 1-2zM176 75l-1 0m0-1l-2 1 2 1zM182 75l3 0m0 1l2-1-3-1zM194 73l0 2m-1 0l1 2 1-2zM202 78l2-3m1 1l0-3-2 1zM211 76l2-1m1 1l2-1-3-1zM221 74l1 1m0 1l2 0-1-2zM231 79l2-5m1 1l0-3-3 2zM240 75l2 0m0 1l2-1-2-1zM250 75l1 0m0 1l2 0-1-2zM260 77l1-2m1 1l0-2-2 1zM269 75l1 0m0 1l2 0-1-2zM279 76l1-1m1 1l1-2-2 0zM288 75l2 0m0 1l2 0-2-2zM300 72l0 3m-2 0l1 3 2-2zM307 75l2 0m0 1l3 0-2-2zM318 73l1 2m-1 1l2 2 0-3zM326 73l3 3m-1 1l3 1-1-3zM336 73l2 2m0 1l2 1-1-3zM347 73l1 2m-1 0l1 2 1-2zM358 72l-1 4m-1-1l1 3 2-2zM368 72l-1 4m-1-1l0 3 2-2zM377 73l0 2m-2 0l1 3 2-3zM386 72l0 4m-1 0l2 2 1-3zM395 74l1 1m-1 1l2 0-1-2zM404 73l2 2m-1 1l2 1 0-3zM413 74l2 1m-1 1l3 0-1-2zM423 73l2 2m-1 1l3 2-1-3zM435 72l-1 4m-1-1l1 3 2-2zM444 73l0 2m-1 0l1 3 1-3zM67 67l2-2m1 2l1-3-3 0zM78 64l0 1m-1 0l2 2 1-2zM86 66l2-1m0 2l2-2-2-1zM96 65l2 0m-1 1l3 0-2-2zM106 67l1-2m1 1l1-2-3 1zM115 65l2 0m0 2l2-1-2-2zM125 66l1 0m1 1l1-2-2 0zM135 67l1-1m1 0l0-2-2 1zM144 67l2-1m1 0l0-2-2 1zM155 67l0-1m1 0l0-2-2 1zM165 67l0-1m1 0l0-2-2 1zM173 66l1 0m1 1l1-2-2 0zM183 68l1-3m1 1l0-3-2 2zM193 64l1 1m-1 1l2 0-1-2zM202 66l1 0m1 1l2-2-3-1zM211 67l2-2m1 1l1-3-3 2zM222 64l1 1m-1 1l2 1-1-3zM231 68l1-3m2 1l-1-3-2 2zM241 66l1 0m0 1l1-2-2 0zM250 67l2-1m0 0l1-2-2 1zM259 67l3-2m0 1l2-2-3 0zM268 65l3 0m0 2l3-1-3-2zM279 67l1-2m1 2l2-3-3 0zM289 66l1 0m0 1l2-2-3 0zM300 63l0 2m-1 0l0 3 2-2zM307 64l2 1m0 1l2 1-1-3zM318 63l1 2m-1 1l2 2 0-3zM328 63l1 3m-2 0l3 2 0-3zM338 64l0 1m-1 0l2 2 0-2zM347 63l1 2m-1 1l2 1 0-2zM357 63l1 3m-2 0l2 2 1-3zM365 65l2 0m-1 1l3 0-2-2zM376 63l1 2m-1 1l1 1 1-2zM385 62l2 4m-2 1l3 2 0-3zM395 63l1 2m-1 1l2 2 0-3zM405 63l1 3m-2 0l3 2 0-3zM415 62l0 4m-1 0l1 3 2-3zM423 63l2 3m-1 0l2 2 0-3zM434 62l0 4m-1 0l1 3 2-3zM442 63l2 3m-1 1l3 0-1-2zM78 54l0 1m-1 1l2 1 0-2zM86 55l2 1m-1 1l3 0-1-2zM96 57l2-1m1 1l1-3-3 1zM105 55l2 1m0 1l2-1-1-1zM115 57l2-1m0 1l2-2-3 0zM127 57l0-1m1 0l-2-2 0 3zM134 56l2 0m1 1l1-2-2 0zM147 55l-1 0m-1 0l0 2 2-1zM156 57l0-1m1 0l-2-2 0 3zM167 55l-1 1m-1-1l-1 1 2 1zM176 57l-1-1m1 0l-2-2 0 3zM182 55l3 1m-1 1l3 0-2-2zM193 54l1 2m-1 0l2 2 0-3zM203 54l0 1m-1 1l2 2 1-3zM211 56l2 0m0 1l2-1-2-1zM220 55l3 1m0 1l2-1-2-1zM230 58l3-3m1 1l0-2-2 1zM239 58l4-3m0 2l2-3-3 0zM250 55l1 1m0 0l2 1-1-2zM260 57l1-1m1 1l0-3-2 1zM268 57l3-1m1 1l2-2-3-1zM279 55l1 1m0 1l2-1-2-1zM288 55l2 1m0 1l2-1-2-1zM298 54l2 2m-1 1l2 1 0-3zM311 55l-1 1m-1-1l-1 2 2-1zM317 54l2 2m-1 1l3 0-1-2zM327 55l1 1m0 1l2 0-1-2zM338 53l0 3m-1 0l2 2 0-2zM346 54l2 2m-1 1l3 0-2-2zM355 54l3 2m-1 1l3 0-2-2zM366 53l1 3m-1 0l2 3 0-3zM376 53l1 3m-1 1l2 2 0-3zM386 54l0 2m-1 0l1 2 2-2zM395 54l1 2m-1 0l2 1 0-2zM405 53l1 3m-2 0l2 2 1-2zM416 54l-1 2m-1-1l0 3 2-2zM424 54l1 1m-1 1l2 1-1-2zM435 53l-1 3m-1 0l1 2 2-2zM442 54l2 2m-1 1l3 1-1-3zM87 47l1-1m1 1l0-2-2 1zM96 46l2 0m0 1l2-1-2-1zM108 48l-1-2m2 0l-2-2-1 2zM115 47l2-1m0 1l2-1-2-1zM126 48l1-2m1 0l-1-2-2 2zM134 45l3 1m-1 1l3 0-2-2zM144 49l2-4m2 1l0-3-3 2zM154 46l1 0m0 1l2-1-2-1zM163 47l2-1m0 1l2-2-2 0zM173 49l2-3m1 0l0-3-2 2zM182 48l3-2m0 1l2-3-3 1zM193 48l1-1m1 0l0-2-2 1zM202 47l1-1m1 1l1-2-3 1zM211 49l3-4m1 1l1-3-3 1zM221 44l2 2m-1 1l3 1-1-3zM232 48l0-2m2 0l-1-2-2 2zM240 48l2-2m1 1l1-3-3 1zM251 47l0-1m1 1l1-2-3 1zM262 48l-1-2m1 0l-2-2 0 3zM270 45l1 1m-1 0l2 1 0-2zM282 47l-1-1m1 0l-3-1 1 2zM289 47l1-1m1 1l0-2-2 1zM298 42l2 5m-1 1l2 2 1-3zM310 43l-1 3m-1 0l1 3 2-2zM319 43l0 3m-1 0l1 3 1-3zM328 45l0 1m-1 0l2 2 0-3zM336 44l2 2m-1 1l3 1-1-3zM349 43l-1 3m-2 0l1 3 2-2zM357 44l0 2m-1 0l2 2 1-2zM365 43l3 4m-2 1l3 1 0-3zM376 43l1 4m-2 0l2 2 1-3zM383 46l4 0m0 2l3-2-3-1zM393 44l3 2m0 1l3 1-2-3zM405 45l0 1m-1 0l2 2 0-3zM416 44l-1 2m-1-1l1 3 1-2zM423 43l2 4m-1 0l2 2 0-3zM433 44l1 2m0 1l2 1-1-3zM87 35l1 1m-1 1l3 1-1-3zM96 36l2 0m-1 2l3-1-2-2zM105 38l2-2m1 1l1-2-2 0zM115 35l2 1m-1 1l3 1-1-3zM125 35l2 1m-1 1l3 0-2-2zM136 38l0-1m1 0l0-2-2 2zM157 37l-1 0m0-1l-2 0 1 2zM163 37l2-1m1 2l2-3-3 0zM173 35l2 1m-1 1l2 1-1-3zM183 37l1 0m0 1l2-2-3 0zM192 38l2-2m1 1l1-2-3 0zM202 40l2-4m1 0l0-3-2 2zM211 38l2-2m1 1l1-2-3 1zM221 37l1 0m1 1l1-3-2 1zM231 36l1 0m0 2l2-2-2-1zM240 36l2 0m-1 1l3 0-2-2zM250 36l1 0m0 1l2 0-1-2zM263 38l-2-2m1-1l-3 0 2 3zM269 37l2-1m0 2l2-3-3 0zM278 38l3-2m1 1l1-2-3 0zM288 38l2-2m1 1l1-2-3 1zM300 34l0 3m-2-1l1 3 2-2zM309 33l0 4m-1 0l2 2 1-2zM320 34l-1 2m-1 0l0 2 2-2zM329 35l0 1m-1 0l0 2 2-2zM339 35l-1 1m-1 0l1 2 1-1zM347 34l1 2m-1 1l2 1 0-2zM357 35l0 1m-1 1l2 1 0-3zM365 36l2 0m-1 1l3 0-2-2zM376 32l1 6m-2 0l2 2 1-3zM386 34l0 2m-1 0l2 2 1-2zM396 34l0 2m-1 0l1 2 1-2zM402 36l4 1m0 1l3-1-2-2zM414 33l1 4m-1 0l2 3 1-3zM424 34l1 3m-1 0l1 2 1-3zM615 34l2 3m0 1l2 0-1-2zM69 25l0 1m-1 1l1 2 1-3zM77 27l1 0m0 1l2-2-2 0zM86 26l2 1m0 1l2-1-2-1zM96 28l2-1m0 1l2-3-3 1zM108 25l0 1m-1 0l-1 2 3-1zM118 25l-1 1m-1 0l0 2 2-1zM124 26l3 1m-1 1l3 0-2-2zM136 28l0-1m1 0l0-2-2 2zM163 27l2 0m0 1l2-1-2-1zM174 28l1-1m1 1l-1-3-2 2zM184 25l0 1m-1 1l2 1 0-2zM192 25l2 2m-1 1l3 0-1-2zM201 28l3-1m0 1l2-3-3 1zM212 25l1 1m-1 1l2 1 0-2zM225 28l-2-1m1-1l-3-1 1 3zM231 25l1 2m0 1l2 0-1-2zM241 28l1-1m0 1l1-2-2 0zM250 27l1 0m1 1l1-2-2 0zM263 26l-1 0m-1 0l-1 2 2-1zM270 28l1-1m1 1l0-3-2 2zM279 27l1 0m0 1l2-2-2 0zM290 29l0-2m1 0l0-2-2 2zM299 25l1 1m-1 1l2 1 0-2zM308 25l1 2m-1 0l3 1-1-2zM318 24l1 3m-1 1l2 2 1-3zM328 24l1 3m-2 0l2 3 1-3zM337 24l1 3m-1 0l2 2 0-3zM347 25l1 1m-1 1l1 1 1-2zM357 23l0 4m-1 0l2 3 1-3zM366 25l1 2m-1 0l2 1 0-2zM378 25l-1 1m-1 0l0 2 2-1zM387 24l-1 3m-1 0l1 2 2-2zM395 24l1 3m-1 0l2 2 0-3zM403 25l3 2m-1 1l3 1-1-3zM416 25l-1 2m-1-1l1 3 1-2zM607 23l1 5m-2 0l3 2 0-3zM618 24l-1 3m-1 0l1 2 1-2zM78 15l0 2m-1 0l2 2 0-3zM89 19l-1-2m1 0l-1-2-1 3zM99 18l-1-1m1-1l-3 0 1 2zM108 18l0-1m0 0l-2-1 1 2zM115 17l2 0m-1 1l3-1-2-1zM125 16l1 1m0 1l2 0-1-2zM137 19l-1-2m1 0l-2-1 0 2zM166 16l-1 1m0-1l-1 2 2 0zM176 18l-1-1m1 0l-2-1 0 2zM186 16l-1 1m-1-1l-1 2 2 0zM193 19l1-2m1 1l-1-3-1 2zM202 16l1 1m0 1l2 0-1-2zM214 18l0-1m0 0l-2-1 1 2zM225 17l-2 0m0-1l-2 1 2 1zM231 18l1-1m1 1l1-2-3 0zM240 19l2-2m1 1l1-3-3 1zM252 19l0-2m1 0l-2-2 0 3zM261 19l0-2m1 1l0-3-2 2zM271 19l0-2m1 0l-1-2-1 2zM279 18l1-1m1 1l1-2-2 0zM291 19l-1-2m1 0l-2-2 0 3zM298 15l2 2m-1 1l3 1-1-3zM307 16l2 1m0 1l3 0-2-2zM327 16l1 1m0 1l2 0-1-2zM337 15l1 2m-1 1l3 1-1-3zM348 15l0 2m-1 0l0 2 2-2zM356 14l2 4m-2 0l3 2 0-3zM368 14l-1 4m-1-1l1 3 1-2zM377 14l0 3m-2 1l2 2 1-3zM388 16l-1 1m-1-1l-1 2 2 0zM395 15l1 2m-1 1l2 1 0-3zM577 16l2 1m-1 1l2 0-1-2zM589 15l-1 2m-1-1l1 3 2-2zM597 15l1 2m-1 0l2 2 0-2zM606 17l1 0m0 1l2-1-2-1zM616 15l1 2m-1 1l2 1 0-2zM135 6l1 1m-1 1l2 0 0-2zM144 7l1 0m0 1l2 0-1-2zM153 7l2 0m0 1l2 0-2-2zM185 9l0-1m0-1l-2-1 1 2zM205 8l-1-1m0-1l-2 1 2 2zM212 6l1 1m-1 1l3 1-1-3zM222 10l1-3m1 0l-1-2-1 2zM232 9l0-1m2 0l-1-3-2 2zM242 9l0-1m1 0l-1-2-1 2zM253 7l-1 0m0-1l-2 1 2 2zM263 9l-2-2m1 0l-2-1 0 2zM273 8l-2-1m0-1l-2 1 2 2zM280 10l1-3m1 0l-1-2-2 2zM291 9l-1-1m1-1l-2-1 0 2zM356 5l1 2m-1 1l3 1 0-2zM369 8l-2 0m1-1l-2-1 1 3zM569 4l0 4m-1 0l1 3 1-3zM579 5l0 2m-1 0l0 3 2-3zM586 6l2 1m0 1l2 1-1-3zM598 5l0 3m-1 0l1 2 1-2zM606 6l1 1m-1 1l3 1-1-3zM617 4l0 4m-1 0l1 2 2-2zM145-4l1 1m-1 1l1 1 1-2zM154-1l1-1m1 1l1-3-2 1zM167-2l-1 0m0-1l-2 0 1 2zM224-4l-1 1m-1 0l0 2 2-1zM231 0l1-2m1 0l1-2-2 1zM244-3l-2 0m0-1l-1 2 2 0zM250-2l1 0m1 1l2-2-3 0zM261 0l0-2m1 0l-1-2-1 2zM269-3l2 1m-1 1l3 0-2-2zM281-1l0-1m1-1l-2-1 0 2zM568-3l1 0m-1 1l3 1-2-2zM579-4l0 1m-1 0l0 2 2-1zM587-5l2 3m-2 1l2 1 1-2zM596-4l2 2m-1 0l2 1 0-2zM608-5l0 3m-2 0l1 2 2-2zM619-3l-1 0m-1 0l-1 2 2-1z" fill="#23231a" stroke="#23231a" stroke-width="0.95" stroke-linejoin="round" opacity="0.78"/>
<path d="M75.4,160.6 C69.2,156.6 76.2,147 77.6,140.8 C79.1,134.5 80.9,129.7 84.3,123.1 C87.6,116.5 95.7,107.6 97.5,101 C99.3,94.4 93.1,90 95.3,83.3 C97.5,76.7 103.8,65.7 110.8,61.3 C117.8,56.8 126.2,56.8 137.3,56.8 C148.3,56.8 166,59 177,61.3 C188.1,63.5 198,66.4 203.5,70.1 C209,73.8 210.9,78.2 210.1,83.3 C209.4,88.5 203.1,96.6 199.1,101 C195,105.4 189.5,106.2 185.8,109.8 C182.2,113.5 180,117.9 177,123.1 C174.1,128.2 173.3,135.2 168.2,140.8 C163,146.3 154.9,152.2 146.1,156.2 C137.3,160.3 127,164.3 115.2,165.1 C103.4,165.8 81.7,164.7 75.4,160.6 Z" fill="none" stroke="#f0201c" stroke-width="2.4" stroke-linejoin="round"/>
<path d="M274.2,96.6 C270.5,86.3 274.2,73 278.6,65.7 C283,58.3 289.6,56.8 300.7,52.4 C311.7,48 327.9,43.2 344.9,39.2 C361.8,35.1 389.8,28.1 402.3,28.1 C414.8,28.1 414.1,31.4 419.9,39.2 C425.8,46.9 433.9,61.3 437.6,74.5 C441.3,87.8 446.4,108.4 442,118.7 C437.6,129 423.6,131.9 411.1,136.3 C398.6,140.8 381.7,143 366.9,145.2 C352.2,147.4 333.8,152.5 322.8,149.6 C311.7,146.6 308.8,136.3 300.7,127.5 C292.6,118.7 277.9,106.9 274.2,96.6 Z" fill="none" stroke="#f0201c" stroke-width="2.4" stroke-linejoin="round"/>
<path d="M463.7,108.1 C468.5,106.2 472.9,110.6 479.1,116.5 C485.4,122.4 495.7,137.8 501.2,143.4 C506.7,149 513.7,146 512.3,150 C510.8,154.1 500.1,164 492.4,167.7 C484.7,171.4 472.5,174.3 465.9,172.1 C459.3,169.9 455.2,161.8 452.6,154.5 C450.1,147.1 448.6,135.7 450.4,128 C452.3,120.2 458.9,110 463.7,108.1 Z" fill="none" stroke="#f0201c" stroke-width="2.4" stroke-linejoin="round"/>
<path d="M62.2,78.9 C65.1,76.7 73.2,69.4 79.8,65.7 C86.5,62 96.8,64.2 101.9,56.8 C107.1,49.5 108.5,28.9 110.8,21.5 C113,14.1 114.4,14.1 115.2,12.7" fill="none" stroke="#f0201c" stroke-width="2.4" stroke-linejoin="round"/>
<path d="M168.2,25.9 C175.5,24.1 190.3,17.5 212.3,14.9 C234.4,12.3 286,11.2 300.7,10.5" fill="none" stroke="#f0201c" stroke-width="2.4" stroke-linejoin="round"/>
<path d="M252.1,237 C253.6,233.6 283,230.4 300.7,228.2 C318.4,226 336,225 358.1,223.8 C380.2,222.6 413.3,220.6 433.2,221.1 C453.1,221.7 459,223.7 477.4,226.9 C495.8,230.1 530.4,236.5 543.6,240.1 C556.9,243.8 556.1,244.9 556.9,249 C557.6,253 553.9,259.6 548,264.4 C542.1,269.2 533.3,276.2 521.5,277.7 C509.8,279.2 495.8,274.4 477.4,273.3 C459,272.2 433.2,273.3 411.1,271.1 C389,268.9 364.7,263.7 344.9,260 C325,256.3 307.3,252.8 291.9,249 C276.4,245.1 250.6,240.5 252.1,237 Z" fill="none" stroke="#2a3cc4" stroke-width="2.4" stroke-linejoin="round"/>
<path d="M587.8,277.7 C590,274.7 595.9,263.7 601,260 C606.2,256.3 614.3,256.7 618.7,255.6 C623.1,254.5 626.1,253.8 627.5,253.4" fill="none" stroke="#2a3cc4" stroke-width="2.4" stroke-linejoin="round"/>
<path d="M287.1,-2.3 L289,2.7 L292.8,5.4 L300.9,7.7 L302.5,12.4 L309.4,12.8 L317.1,12.4 L320.9,14.3 L315.2,19 L307.5,23.2 L299.8,25.9 L291.7,28.3 L297.8,27.1 L305.5,24.4 L315.2,22.5 L322.8,19.4 L330.5,15.5 L334.4,12 L338.2,8.9 L342.1,4.6 L340.9,10.1 L345.9,9.7 L353.6,7 L359.4,4.3 L367.1,6.2 L374.8,7.4 L384.4,8.1 L392.1,11.2 L399.8,14.3 L403.7,18.2 L409.4,22.9 L415.2,26.7 L421,29.8 L424,32.5 L426.7,36.8 L432.5,41.4 L435.2,44.9 L442.1,50 L447.1,52.7 L446,57.7 L447.9,63.5 L447.1,72.4 L446.8,79 L449.1,86.8 L453.7,93.3 L456.4,98.4 L461,105.7 L469.1,108.1 L474.1,113.1 L476.8,118.9 L479.5,122.8 L485.6,130.5 L486.4,134.4 L492.9,143.7 L495.2,145.6 L501.8,151 L503.7,149.1 L500.6,145.6 L496,138.3 L491,129 L485.2,122.4 L483.3,117.7 L490.2,119.7 L493.3,124.3 L498.7,131.7 L504.5,138.3 L509.5,142.9 L516,149.5 L519.1,157.2 L519.9,160.7 L521.8,165.4 L526.4,168.9 L534.5,172 L542.2,175.4 L549.9,178.2 L557.6,178.9 L562.2,177.4 L569.1,182.4 L574.9,185.9 L581.4,187.8 L588,189.4 L591.4,192.5 L595.3,197.1 L595.7,201.4 L599.1,202.9 L603.4,207.2 L608.4,208.4 L613.4,211.5 L616.8,211.1 L616.4,207.6 L619.9,205.3 L623.4,208.4 L625.7,210.7 L627.6,224.2 L626.8,227.3 L623,230.8 L621.5,234.3 L617.6,236.6 L616.8,240.9 L614.9,243.2 L616.1,248.3 L618,249.8 L616.1,253.3 L612.6,256.4 L612.6,262.2 L615.3,265.3 L618.8,269.9 L622.2,275.8 L624.1,280.4 L655.7,280.4 L655.7,-4.3 L287.1,-4.3 Z M562.2,-4.3 L561,1.5 L562.2,9.3 L567.2,12.8 L569.9,18.2 L576.8,18.6 L584.5,21.3 L592.2,24.4 L598,25.9 L605.7,26.3 L608.8,32.5 L611.4,36.4 L615.3,40.7 L619.9,39.1 L621.8,32.1 L620.3,29 L626.5,24 L629.5,20.9 L630.7,-4.3 Z M630.7,137.1 L616.8,135.6 L615.7,141.8 L612.6,142.1 L610.3,137.9 L606.8,132.8 L606.4,128.2 L602.6,123.9 L596.8,124.7 L592.2,122 L585.7,122 L581,122.8 L581.8,127 L577.6,127 L571,125.1 L563.3,125.1 L558.3,127.8 L552.6,130.9 L550.3,134.4 L550.3,140.6 L549.1,146 L548.7,153.4 L551,157.2 L554.5,163.8 L557.6,167.3 L561.4,169.3 L569.1,167.7 L573.7,167.7 L576.4,163.1 L577.6,158 L584.5,156.5 L590.3,156.5 L588.4,161.5 L587.2,168.5 L585.7,173.9 L584.5,178.2 L588.4,178.5 L596.1,178.2 L601.8,178.5 L604.5,181.6 L603.8,187.5 L603,195.2 L604.5,199.1 L608.4,203.3 L612.2,205.7 L617.2,203.7 L621.1,202.9 L626.8,206.4 L630.7,206.4 Z" fill="#d8d9dc" fill-rule="evenodd" stroke="#000" stroke-width="1.1" stroke-linejoin="round"/>
<path d="M598,154.9 L603.8,153.8 L609.5,150.3 L615.3,150.3 L624.9,153.4 L630.7,156.5 L630.7,160.3 L624.9,159.6 L615.3,155.3 L609.5,153 L601.8,154.9 Z" fill="#d8d9dc" stroke="#000" stroke-width="1"/>
<path d="M-75.4,-4.3 L222.8,-4.3 L219,-1.9 L209.3,0.4 L201.6,4.3 L195.1,7.6 L186.2,6.2 L179.3,8.1 L172.8,7.4 L168.2,10.1 L167,15.1 L163.9,18.2 L165.1,21.7 L162.4,25.6 L155.5,29 L154.3,33.7 L149.3,35.2 L145.8,39.9 L142.8,42.6 L141.2,39.1 L140.1,32.5 L139.3,25.6 L138.5,20.9 L143.1,16.7 L148.5,15.1 L154.3,9.3 L157.8,4.6 L163.2,1.2 L168.2,-2.3 L168.9,-4.3 L140.1,-4.3 L141.2,1.2 L136.2,6.2 L133.5,9.3 L125.8,11.2 L120.8,10.5 L113.9,8.9 L105.4,10.1 L97,10.1 L88.1,10.5 L83.1,12.8 L76.6,17.8 L71.6,20.9 L67.7,26.7 L65.4,28.3 L70,31.4 L76.6,29.8 L80.8,32.9 L83.5,37.6 L81.2,43 L80,50 L79.3,53.1 L74.7,56.9 L71.2,60.4 L66.2,65.8 L60.4,70.5 L52.3,74 L47.3,72.8 L42.7,75.9 L38.1,75.5 L32.3,77.5 L26.6,80.2 L21.9,83.3 L18.5,85.2 L11.2,82.9 L7.3,81.3 L0.8,83.3 L-75.4,83.3 Z" fill="#d8d9dc" stroke="#000" stroke-width="1.1" stroke-linejoin="round"/>
<path d="M-10.4,212.6 L-6.9,214.2 L-1.2,218.8 L-5.4,222.7 L-6.5,232.8 L-2.3,236.3 L-5.4,237.8 L-8.1,241.7 L-11.9,247.5 L-75.4,247.5 L-75.4,212.6 Z" fill="#d8d9dc" stroke="#000" stroke-width="1.1" stroke-linejoin="round"/>
<path d="M43.9,244.8 L47.7,241.3 L55,242.4 L56.6,248.6 L60.8,252.5 L65,248.6 L70,245.5 L78.5,248.6 L84.3,250.2 L92,253.3 L95.8,254.8 L100.8,258.7 L103.5,261.8 L107.7,263.4 L108.9,265.7 L105.1,266.8 L106.6,270.3 L109.3,271.5 L111.6,274.6 L114.3,276.9 L120.1,279.6 L118.9,282.3 L78.5,282.3 L82.3,275 L79.3,271.5 L74.7,271.1 L71.6,272.3 L69.6,268.8 L73.1,266.5 L71.6,261 L67.7,258.7 L62.7,257.2 L58.9,255.6 L53.9,254.8 L50.8,255.6 L48.1,251.4 L52.7,248.6 L47.3,247.1 Z" fill="#d8d9dc" stroke="#000" stroke-width="1.1" stroke-linejoin="round"/>
<path d="M42.7,75.9 L38.9,80.9 L38.9,82.1 L34.2,89.5 L37.7,96.1 L37.7,100.7 L36.6,103.4 L33.1,104.6 L27.3,106.5 L25.8,105 L26.9,101.1 L26.6,96.8 L27.7,94.5 L23.1,93 L20,91.4 L21.5,86.8 L18.5,85.2 L12.7,86 L7.7,88.7 L8.1,84 L10.4,82.5 L6.5,81.3 L0.8,84.8 L-2.3,87.5 L-75.4,87.5" fill="none" stroke="#000" stroke-width="1.1" stroke-linejoin="round"/>
<path d="M-1.5,95.3 L3.5,93.3 L11.2,94.9 L10.8,97.2 L3.5,99.5 L-0.8,103.8 L0.4,107.3 L3.8,111.2 L5.4,114.6 L8.9,117.4 L8.9,120.1 L10,124.3 L8.5,128.2 L6.2,130.9 L3.8,134.8 L0.4,139.8 L-2.3,142.9" fill="none" stroke="#000" stroke-width="1.1" stroke-linejoin="round"/>
<path d="M1.9,150.3 L4.2,144.5 L7.3,141.8 L9.2,142.9 L8.5,146.8 L5.8,153 L4.2,154.5 L2.3,151.4 Z" fill="#ebeae6" stroke="#000" stroke-width="1" stroke-linejoin="round"/>
<path d="M87.3,29.8 L90.8,34.5 L90.8,40.3 L92,46.1 L95.4,50 L90.8,49.2 L88.1,54.6 L92,60 L88.1,60 L85.8,60.4 L85.8,52.7 L87,44.2 L85,39.1 L85,32.9 Z" fill="#ebeae6" stroke="#000" stroke-width="1" stroke-linejoin="round"/>
<path d="M85,63.9 L88.5,67 L93.1,68.9 L98.9,68.2 L100.8,71.7 L95,73.6 L91.2,77.1 L85.4,74.7 L82,75.1 L78.5,79 L78.1,76.3 L80.4,72 L83.9,70.5 Z" fill="#ebeae6" stroke="#000" stroke-width="1" stroke-linejoin="round"/>
<path d="M82,79 L84.3,82.5 L85.8,87.5 L82.3,91.4 L82,96.4 L81.2,101.1 L78.1,103.8 L75,103.4 L73.1,105.3 L68.1,105.7 L66.2,106.9 L62.3,110 L59.6,106.9 L55.4,106.1 L50,107.7 L46.6,108.4 L47.3,112.7 L45,118.1 L42.3,119.3 L40.8,117.7 L39.2,113.1 L38.5,110.4 L43.5,108.1 L49.3,102.6 L55,102.2 L61.2,101.9 L65,97.2 L68.1,94.9 L73.1,93.3 L77,90.2 L78.5,86 L78.1,82.5 Z" fill="#ebeae6" stroke="#000" stroke-width="1" stroke-linejoin="round"/>
<path d="M49.6,111.5 L51.6,113.1 L56.2,110.8 L58.1,108.1 L53.5,106.9 L50.4,108.4 Z" fill="#ebeae6" stroke="#000" stroke-width="1" stroke-linejoin="round"/>
<path d="M3.8,168.1 L10,168.1 L9.6,173.9 L7.3,178.5 L7.7,183.6 L11.5,184.7 L17.3,185.9 L17.3,190.9 L14.2,189.4 L11.9,188.2 L8.1,185.9 L5,186.3 L3.8,183.6 L1.9,182.4 L0.8,177 L3.1,177 L2.7,171.6 Z" fill="#d8d9dc" stroke="#000" stroke-width="1" stroke-linejoin="round"/>
<path d="M18.1,191.3 L23.1,196 L21.2,200.6 L16.9,199.8 L14.2,203.7 L11.2,198.3 L8.9,194 L13.1,195.2 L16.9,196 Z" fill="#d8d9dc" stroke="#000" stroke-width="1" stroke-linejoin="round"/>
<path d="M22.7,201.8 L26.6,208 L26.6,212.6 L23.9,215.3 L21.9,218 L17.7,214.2 L12.7,210.7 L9.2,212.6 L11.5,208.4 L16.2,206.4 L20,204.9 Z" fill="#d8d9dc" stroke="#000" stroke-width="1" stroke-linejoin="round"/>
<path d="M1.5,237.4 L4.6,234.7 L13.1,236.3 L18.9,235.1 L21.5,233.5 L18.5,238.2 L14.2,238.6 L7.3,237.8 L3.5,239 L3.5,244 L8.5,243.2 L14.6,242.8 L10.4,245.9 L6.9,247.1 L11.2,256.8 L7.3,258.3 L5,250.2 L3.1,251 L3.1,261 L-0.4,261.4 L-0.4,253.3 L-3.1,250.2 L-0.8,243.2 Z" fill="#d8d9dc" stroke="#000" stroke-width="1" stroke-linejoin="round"/>
<path d="M31.2,231.2 L34.6,233.5 L32.7,236.6 L35,238.6 L32.3,239 L34.2,242.8 L30.8,241.3 L30,235.9 Z" fill="#d8d9dc" stroke="#000" stroke-width="1" stroke-linejoin="round"/>
<path d="M32.3,251.4 L41.9,251.4 L43.1,254.5 L34.2,253.7 Z" fill="#d8d9dc" stroke="#000" stroke-width="1" stroke-linejoin="round"/>
<path d="M24.6,252.1 L29.2,252.1 L28.9,254.5 L25.4,254.5 Z" fill="#d8d9dc" stroke="#000" stroke-width="1" stroke-linejoin="round"/>
<path d="M16.9,275.8 L22.7,272.7 L29.6,272.3 L22.7,275.8 L18.1,279.2 L15,279.6 Z" fill="#d8d9dc" stroke="#000" stroke-width="1" stroke-linejoin="round"/>
<path d="M0.8,272.7 L11.2,271.1 L13.1,272.7 L5.4,274.2 L0.8,273.8 Z" fill="#d8d9dc" stroke="#000" stroke-width="1" stroke-linejoin="round"/>
<path d="M110.8,261 L115.1,261 L118.9,259.1 L122,258.7 L123.1,256 L125.8,256.4 L124.7,261 L118.5,263.8 L113.1,263.8 Z" fill="#d8d9dc" stroke="#000" stroke-width="1" stroke-linejoin="round"/>
<path d="M120.1,250.2 L125.4,252.1 L128.5,257.2 L127,258.3 L122.8,252.5 Z" fill="#d8d9dc" stroke="#000" stroke-width="1" stroke-linejoin="round"/>
<path d="M134.7,260.3 L139.7,264.1 L137.4,266.5 L134.7,262.6 Z" fill="#d8d9dc" stroke="#000" stroke-width="1" stroke-linejoin="round"/>
<path d="M142,265.7 L145.8,268 L149.7,270.7 L145.8,271.9 L142,268.8 Z" fill="#d8d9dc" stroke="#000" stroke-width="1" stroke-linejoin="round"/>
<path d="M153.5,272.7 L157.4,275.4 L160.5,276.9 L156.2,278.1 L153.9,276.1 Z" fill="#d8d9dc" stroke="#000" stroke-width="1" stroke-linejoin="round"/>
<path d="M157.4,271.9 L160.5,274.6 L163.2,280.4 L160.8,278.5 L158.5,274.6 Z" fill="#d8d9dc" stroke="#000" stroke-width="1" stroke-linejoin="round"/>
<path d="M325.2,161.5 L329.4,164.2 L326.3,166.5 L324.4,163.4 Z" fill="#d8d9dc" stroke="#000" stroke-width="0.9"/>
<path d="M322.5,158.4 L324.8,159.2 L322.8,160 Z" fill="#d8d9dc" stroke="#000" stroke-width="0.9"/>
<path d="M315.9,156.1 L318.2,157.2 L316.3,157.2 Z" fill="#d8d9dc" stroke="#000" stroke-width="0.9"/>
<path d="M310.1,153.8 L312.1,154.1 L310.9,154.9 Z" fill="#d8d9dc" stroke="#000" stroke-width="0.9"/>
<path d="M176.6,26.7 L184.3,28.3 L203.6,34.5 L208.6,35.2 L222.8,38.7 L230.5,40.3 L240.1,39.5 L245.9,39.1 L257.4,37.6 L267.1,36.4 L272.8,34.9 L280.5,32.9 L285.5,31 L290.9,29" fill="none" stroke="#000" stroke-width="1.4" stroke-dasharray="3 2.5"/>
<path d="M384.4,8.1 L392.1,11.2 L399.8,14.3 L403.7,18.2 L409.4,22.9 L415.2,26.7 L421,29.8 L424,32.5 L426.7,36.8 L432.5,41.4 L435.2,44.9 L442.1,50" fill="none" stroke="#000" stroke-width="3.2" stroke-linejoin="round"/>
<rect x="13" y="11" width="30" height="27" fill="#d3d1d3" filter="url(#fblur)"/>
<path d="M100.8,71.7 L107.4,67.4 L113.1,64.7 L118.9,60.8 L124.7,56.9 L130.4,52.7 L136.2,48 L140.8,43.8" fill="none" stroke="#000" stroke-width="1.3" stroke-dasharray="2.5 2"/>
<path d="M39.2,125.5 L34.2,131.3 L31.6,137.1 L22.7,144.1 L15,145.6" fill="none" stroke="#000" stroke-width="1.3" stroke-dasharray="2 3"/>
</g>
<rect x="0" y="0" width="625" height="277" fill="none" stroke="#000" stroke-width="1.7"/>
<line x1="-6.5" y1="7.4" x2="0" y2="7.4" stroke="#000" stroke-width="1.6"/>
<text x="-15.5" y="13.9" text-anchor="end" class="mp">60°N</text>
<line x1="-6.5" y1="84.8" x2="0" y2="84.8" stroke="#000" stroke-width="1.6"/>
<text x="-15.5" y="91.3" text-anchor="end" class="mp">40°N</text>
<line x1="-6.5" y1="162.3" x2="0" y2="162.3" stroke="#000" stroke-width="1.6"/>
<text x="-15.5" y="168.8" text-anchor="end" class="mp">20°N</text>
<line x1="-6.5" y1="239.7" x2="0" y2="239.7" stroke="#000" stroke-width="1.6"/>
<text x="-15.5" y="246.2" text-anchor="end" class="mp">0°</text>
<line x1="78.5" y1="277" x2="78.5" y2="283" stroke="#000" stroke-width="1.6"/>
<line x1="174.7" y1="277" x2="174.7" y2="283" stroke="#000" stroke-width="1.6"/>
<line x1="270.9" y1="277" x2="270.9" y2="283" stroke="#000" stroke-width="1.6"/>
<line x1="367.1" y1="277" x2="367.1" y2="283" stroke="#000" stroke-width="1.6"/>
<line x1="463.3" y1="277" x2="463.3" y2="283" stroke="#000" stroke-width="1.6"/>
<line x1="559.5" y1="277" x2="559.5" y2="283" stroke="#000" stroke-width="1.6"/>
<text x="609" y="77" text-anchor="end" class="pl">Fall 2020</text>
</g>
<g transform="translate(733.5,1455)">
<clipPath id="pc1"><rect x="0" y="0" width="625" height="277"/></clipPath>
<g clip-path="url(#pc1)">
<g filter="url(#fblur)">
<rect x="-10" y="-10" width="645" height="297" fill="#fee6a0"/>
<path d="M0.3,74.5 C6.2,45.8 15.1,68.6 35.7,70.1 C56.3,71.6 94.6,79.3 124,83.3 C153.5,87.4 186.6,93.3 212.3,94.4 C238.1,95.5 256.5,93.6 278.6,90 C300.7,86.3 326.5,77.1 344.9,72.3 C363.3,67.5 377.2,59.4 389,61.3 C400.8,63.1 413.3,70.8 415.5,83.3 C417.7,95.9 412.6,123.1 402.3,136.3 C392,149.6 370.6,155.5 353.7,162.8 C336.8,170.2 319.8,174.6 300.7,180.5 C281.5,186.4 260.9,193.8 238.8,198.2 C216.8,202.6 187.3,201.1 168.2,207 C149,212.9 138.7,224.7 124,233.5 C109.3,242.3 97.5,254.1 79.8,260 C62.2,265.9 31.3,271.8 18,268.9 C4.8,265.9 3.3,274.7 0.3,242.3 C-2.6,210 -5.6,103.2 0.3,74.5 Z" fill="#f9ae6a"/>
<path d="M159.3,8.3 C163,3.8 188.8,4.2 212.3,3.8 C235.9,3.5 284.5,3.1 300.7,6 C316.9,9 316.9,16.7 309.5,21.5 C302.2,26.3 276.4,33.3 256.5,34.8 C236.6,36.2 206.5,34.8 190.3,30.3 C174.1,25.9 155.7,12.7 159.3,8.3 Z" fill="#f9ae6a"/>
<path d="M48.9,154 C62.2,146.6 101.2,135.2 124,127.5 C146.8,119.8 166.7,110.6 185.8,107.6 C205,104.7 219.7,112.4 238.8,109.8 C258,107.3 279.3,99.5 300.7,92.2 C322,84.8 349.3,70.1 366.9,65.7 C384.6,61.3 399.3,59.8 406.7,65.7 C414.1,71.6 414.1,90.7 411.1,101 C408.2,111.3 400.1,119.8 389,127.5 C378,135.2 363.3,144.4 344.9,147.4 C326.5,150.3 300.7,146.3 278.6,145.2 C256.5,144.1 225.6,143 212.3,140.8 C199.1,138.6 206.5,130.5 199.1,131.9 C191.7,133.4 180.7,143.3 168.2,149.6 C155.7,155.9 142.4,162.5 124,169.5 C105.6,176.5 71,191.2 57.8,191.6 C44.5,191.9 46,177.9 44.5,171.7 C43,165.4 35.7,161.4 48.9,154 Z" fill="#f07b4d"/>
<path d="M35.7,78.9 C43,73.4 65.9,77.4 79.8,78.9 C93.8,80.4 113.7,83.3 119.6,87.8 C125.5,92.2 123.3,102.5 115.2,105.4 C107.1,108.4 84.3,104.3 71,105.4 C57.8,106.5 41.6,116.5 35.7,112 C29.8,107.6 28.3,84.4 35.7,78.9 Z" fill="#f07b4d"/>
<path d="M150.5,83.3 C157.1,81.1 187.3,82.2 194.7,85.5 C202,88.9 201.3,101 194.7,103.2 C188.1,105.4 162.3,102.1 154.9,98.8 C147.6,95.5 143.9,85.5 150.5,83.3 Z" fill="#f07b4d"/>
<path d="M309.5,105.4 C320.6,98.1 353.7,84.8 366.9,83.3 C380.2,81.9 386.8,89.2 389,96.6 C391.2,104 389,120.9 380.2,127.5 C371.4,134.1 349.3,136.3 336,136.3 C322.8,136.3 305.1,132.7 300.7,127.5 C296.3,122.4 298.5,112.8 309.5,105.4 Z" fill="#e2392a"/>
<path d="M322.8,107.6 C327.2,103.6 345.6,100.3 353.7,101 C361.8,101.7 370.6,108 371.4,112 C372.1,116.1 365.5,123.1 358.1,125.3 C350.7,127.5 333.1,128.2 327.2,125.3 C321.3,122.4 318.4,111.7 322.8,107.6 Z" fill="#b01c24"/>
<path d="M415.5,74.5 C422.9,67.1 441.3,74.5 455.3,83.3 C469.3,92.2 484.7,111.3 499.5,127.5 C514.2,143.7 543.6,168 543.6,180.5 C543.6,193 517.9,199.7 499.5,202.6 C481,205.5 451.6,203.3 433.2,198.2 C414.8,193 392.7,183.5 389,171.7 C385.3,159.9 406.7,143.7 411.1,127.5 C415.5,111.3 408.2,81.9 415.5,74.5 Z" fill="#fff4d2"/>
<path d="M177,226.9 C187.3,218.4 200.6,209.6 221.2,204.8 C241.8,200 272.7,198.5 300.7,198.2 C328.7,197.8 359.6,201.1 389,202.6 C418.5,204.1 447.9,204.8 477.4,207 C506.8,209.2 540.7,214.4 565.7,215.8 C590.7,217.3 617.2,205.5 627.5,215.8 C637.8,226.2 704.1,267.4 627.5,277.7 C551,288 246.2,281.4 168.2,277.7 C90.1,274 157.9,264.1 159.3,255.6 C160.8,247.1 166.7,235.4 177,226.9 Z" fill="#d9eef6"/>
<path d="M472.9,127.5 C475.2,123.1 483.3,120.9 490.6,127.5 C498,134.1 515.6,159.2 517.1,167.3 C518.6,175.4 506.1,178.3 499.5,176.1 C492.8,173.9 481.8,162.1 477.4,154 C472.9,145.9 470.7,131.9 472.9,127.5 Z" fill="#d9eef6"/>
<path d="M75.4,21.5 C82.8,15.6 107.1,20 124,25.9 C140.9,31.8 177,50.2 177,56.8 C177,63.5 140.2,64.9 124,65.7 C107.8,66.4 87.9,68.6 79.8,61.3 C71.7,53.9 68.1,27.4 75.4,21.5 Z" fill="#d9eef6"/>
<path d="M199.1,235.7 C206.5,231.7 232.2,225.4 256.5,222.5 C280.8,219.5 319.1,217.7 344.9,218.1 C370.6,218.4 397.9,220.6 411.1,224.7 C424.4,228.7 425.8,237.2 424.4,242.3 C422.9,247.5 422.9,253.4 402.3,255.6 C381.7,257.8 332.3,257.1 300.7,255.6 C269,254.1 229.3,250.1 212.3,246.8 C195.4,243.5 191.7,239.8 199.1,235.7 Z" fill="#a5d0e7"/>
<path d="M300.7,260 C322.8,257.8 389,264.4 433.2,264.4 C477.4,264.4 533.3,263.7 565.7,260 C598.1,256.3 617.2,239.4 627.5,242.3 C637.8,245.3 682,271.8 627.5,277.7 C573.1,283.6 355.2,280.6 300.7,277.7 C246.2,274.7 278.6,262.2 300.7,260 Z" fill="#a5d0e7"/>
<path d="M238.8,237 C242.5,233.7 277.1,230.8 300.7,229.1 C324.2,227.4 363.3,225.1 380.2,226.9 C397.1,228.7 406.7,236.5 402.3,240.1 C397.9,243.8 374.3,247.5 353.7,249 C333.1,250.4 297.7,251 278.6,249 C259.5,247 235.2,240.4 238.8,237 Z" fill="#72a8d3"/>
</g>
<path d="M10 274l2-7m1 0l-1-3-2 3zM21 274l0-7m1 0l-1-3-2 3zM31 273l-1-6m2 0l-2-3-1 4zM41 273l-1-6m1 0l-1-3-2 4zM49 274l1-7m1 0l-1-3-2 3zM59 273l0-5m2 0l-2-3-1 3zM71 272l-2-4m1 0l-3-2 0 3zM112 269l-6 0m0-2l-3 1 3 2zM123 271l-9-3m1-2l-4 1 2 3zM133 269l-9 0m0-2l-4 1 3 2zM142 271l-9-3m1-2l-4 0 3 3zM152 269l-8 0m0-2l-4 1 3 2zM162 271l-9-3m0-2l-4 1 3 3zM170 271l-7-3m1-1l-4 0 3 3zM181 272l-9-5m1-1l-5 0 3 3zM192 270l-11-2m0-2l-4 2 3 2zM202 270l-12-2m0-2l-4 2 4 2zM210 270l-10-2m0-2l-3 2 3 2zM219 271l-8-3m0-2l-4 1 3 3zM229 270l-9-2m0-2l-3 1 3 3zM239 269l-10 0m0-2l-3 1 3 2zM248 271l-9-3m1-2l-4 1 3 3zM258 270l-10-2m1-1l-4 1 3 2zM268 271l-10-3m0-2l-4 1 3 3zM277 271l-9-3m1-2l-4 0 3 4zM288 270l-11-2m0-2l-4 2 4 2zM297 271l-11-4m1-1l-4 0 3 3zM306 270l-9-2m0-1l-4 1 4 2zM316 271l-9-3m0-2l-4 1 3 3zM325 271l-9-3m1-2l-4 1 3 3zM336 270l-11-2m0-1l-3 1 3 2zM344 272l-9-5m1-1l-4 0 2 3zM355 269l-11 0m0-2l-3 1 3 2zM364 269l-9 0m0-2l-4 1 4 2zM375 270l-13-2m1-2l-4 2 3 2zM383 271l-9-3m1-2l-4 0 2 3zM392 270l-8-2m0-1l-4 1 3 2zM402 270l-9-2m0-2l-3 2 3 2zM413 271l-11-3m1-2l-4 1 3 3zM422 271l-11-3m1-2l-4 1 3 2zM431 271l-9-3m1-2l-4 1 2 3zM441 270l-9-2m0-1l-4 1 3 2zM449 272l-7-5m1-1l-4-1 2 4zM456 272l-3-4m1-1l-3-1 1 3zM466 272l-3-4m1-1l-3-1 1 3zM474 273l-2-5m2-1l-3-2 0 3zM485 271l-3-3m1-1l-3 0 1 2zM495 272l-4-4m1-1l-3-1 1 3zM504 272l-3-4m1-1l-3-1 1 3zM514 270l-3-1m1-1l-3-1 1 3zM524 272l-4-4m1-1l-3-2 1 4zM534 271l-4-3m1-1l-3-1 1 3zM544 272l-5-5m1-1l-3-1 1 4zM552 272l-3-4m2-1l-3-1 0 3zM561 273l-2-6m2 0l-3-2 0 3zM570 272l-1-4m1 0l-2-2 0 3zM581 272l-3-4m1-1l-3-1 1 3zM590 270l-2-1m1-1l-2-1 1 3zM600 270l-2-1m0-2l-2 0 1 3zM609 272l-2-4m2 0l-3-2 0 3zM619 272l-2-4m1 0l-2-2 0 3zM9 264l3-7m1 1l0-4-3 3zM21 262l0-3m1 0l-1-3-2 3zM29 264l2-7m1 1l-1-4-2 3zM40 263l0-5m2 0l-2-3-1 3zM50 264l0-7m1 0l-1-3-2 3zM58 263l2-5m1 1l0-4-3 2zM113 262l-8-4m0-2l-4 1 3 3zM124 260l-11-2m0-1l-3 1 3 2zM133 261l-9-3m0-1l-4 1 3 2zM142 260l-8-1m0-2l-3 1 3 2zM152 261l-9-3m1-1l-4 0 3 3zM162 261l-10-3m1-2l-4 1 3 3zM171 261l-9-3m1-2l-4 1 3 3zM182 260l-11-1m1-2l-4 1 3 3zM190 262l-8-4m1-2l-4 1 2 3zM200 260l-9-1m0-2l-3 1 3 2zM210 260l-9-1m0-2l-4 2 4 2zM220 261l-10-3m0-1l-4 1 4 2zM230 259l-10 0m0-2l-4 2 4 2zM238 259l-8 0m1-2l-4 2 3 2zM248 263l-8-5m1-2l-4 0 2 3zM258 261l-9-3m1-2l-4 1 2 3zM269 260l-12-2m1-1l-4 1 3 2zM279 260l-12-2m0-1l-4 1 3 2zM287 259l-9 0m0-2l-4 2 4 2zM297 260l-10-1m0-2l-4 1 4 3zM305 261l-8-3m1-1l-4 0 3 3zM316 261l-9-3m0-1l-4 1 3 2zM326 261l-10-3m0-1l-4 1 4 2zM336 261l-11-3m0-2l-4 1 3 3zM345 260l-10-1m0-2l-4 2 4 2zM355 261l-10-3m0-2l-4 1 3 3zM364 262l-9-4m0-2l-4 1 3 3zM373 261l-9-3m1-1l-4 1 3 2zM384 260l-11-1m1-2l-4 1 3 3zM392 261l-8-3m0-1l-4 0 3 3zM402 260l-9-1m1-2l-4 1 3 2zM412 261l-10-3m1-2l-4 1 3 3zM422 261l-10-3m0-1l-4 1 3 2zM431 261l-9-3m0-2l-4 1 3 3zM442 260l-11-1m0-2l-4 1 3 3zM451 261l-11-3m1-1l-4 1 3 2zM456 264l-3-7m1-1l-3-2 0 4zM466 264l-4-7m2 0l-3-2 0 3zM474 262l-1-4m1 0l-2-2-1 3zM484 262l-2-3m1-1l-2-1 0 3zM494 263l-2-5m1-1l-3-1 0 3zM501 262l1-3m1 0l-1-3-1 2zM514 263l-3-5m1-1l-3-2 0 4zM523 261l-2-2m1-1l-3-1 1 3zM532 262l-2-4m2 0l-3-2 0 3zM542 262l-2-4m1-1l-3-1 0 3zM553 261l-4-2m1-1l-3-1 1 3zM561 263l-2-5m1-1l-2-2-1 3zM572 263l-4-5m2-1l-3-1 0 3zM581 263l-3-5m1-1l-3-1 1 3zM590 262l-2-3m1-1l-3-1 1 3zM599 262l-1-3m1-1l-2-2 0 3zM612 262l-6-4m1-1l-3 0 1 3zM11 254l0-6m2 0l-2-3-1 3zM21 254l0-6m1 0l-1-3-2 3zM28 253l3-5m1 1l1-3-3 1zM40 254l0-6m2 0l-2-3-2 3zM49 254l1-6m1 1l0-4-3 3zM58 254l2-6m1 1l0-4-3 3zM90 252l-2-3m1-1l-3-1 1 3zM102 253l-6-5m1-1l-3-1 1 4zM113 252l-8-4m0-1l-4 0 3 3zM123 251l-9-2m1-2l-4 1 3 3zM133 251l-9-3m0-1l-4 0 3 3zM142 252l-8-4m1-1l-5 0 3 3zM152 252l-9-4m1-1l-4 0 2 3zM161 252l-8-4m1-1l-4 0 2 3zM171 249l-9 1m0-2l-3 2 3 1zM180 251l-8-2m1-2l-4 0 3 3zM191 250l-10-1m1-2l-4 2 3 2zM201 250l-10-1m0-2l-4 1 4 3zM211 250l-11-1m0-2l-4 2 3 2zM219 250l-9-1m1-2l-4 1 3 3zM229 253l-9-5m0-2l-4 0 3 3zM239 252l-10-4m1-1l-4 0 3 3zM249 251l-10-3m0-1l-4 0 3 3zM259 251l-11-2m1-2l-4 1 3 3zM269 251l-12-3m1-1l-4 1 3 2zM277 250l-9-1m0-2l-3 1 3 3zM287 252l-10-4m1-1l-4 0 3 3zM297 251l-10-3m1-1l-4 0 3 3zM307 252l-11-4m1-2l-4 1 3 3zM315 251l-8-2m0-2l-3 1 3 3zM325 251l-9-2m1-2l-4 1 3 3zM335 252l-9-4m0-2l-4 1 3 3zM346 249l-12 1m0-2l-3 2 4 2zM354 252l-9-4m0-2l-4 1 3 3zM364 251l-9-2m0-2l-4 1 3 3zM374 251l-10-2m0-2l-4 1 3 3zM384 251l-11-2m1-2l-4 1 3 3zM393 250l-10-1m0-2l-3 2 3 2zM402 250l-9-1m0-2l-3 2 3 2zM411 252l-8-3m1-2l-4 0 3 3zM422 249l-10 1m0-2l-4 2 4 1zM431 250l-9-1m1-2l-4 1 3 3zM441 250l-9-1m0-2l-4 1 3 3zM450 251l-8-2m0-2l-4 1 3 3zM456 252l-3-3m1-1l-2-1 0 3zM466 252l-3-3m1-1l-4-1 2 3zM475 252l-2-3m1-1l-3-1 1 3zM484 254l-2-6m1-1l-2-2-1 4zM495 252l-4-3m1-1l-3-1 1 3zM504 252l-3-3m1-1l-2-1 0 3zM514 251l-3-2m1-1l-3-1 1 3zM524 253l-4-5m1-1l-3-1 1 3zM533 252l-3-3m1-1l-3-1 1 3zM542 253l-2-5m1 0l-3-2 0 3zM552 252l-3-3m1-1l-3-1 1 3zM562 252l-3-3m1-1l-3-1 1 3zM571 252l-2-3m1-1l-3-2 0 4zM580 251l-1-2m1 0l-3-2 1 3zM590 252l-2-3m1-1l-3-1 1 3zM601 254l-4-6m2-1l-4-2 0 4zM610 254l-3-6m1-1l-2-2 0 4zM620 253l-3-4m1-1l-3-2 0 3zM11 244l0-6m2 0l-2-3-2 3zM20 244l1-5m1 0l-1-3-2 2zM30 244l1-5m1 0l-1-3-2 2zM39 245l2-7m1 1l-1-4-2 3zM48 244l2-5m2 0l-1-3-2 2zM58 245l2-7m2 0l-1-4-3 3zM70 244l-1-5m1-1l-2-2-1 3zM80 244l-2-6m2 0l-3-2 0 3zM92 242l-5-3m0-2l-3 0 2 3zM102 241l-6-2m1-1l-3 0 2 3zM112 242l-6-3m0-2l-4 1 3 3zM124 242l-11-4m1-1l-4 0 3 3zM133 241l-9-2m0-2l-3 2 3 2zM142 242l-8-3m0-2l-4 1 3 3zM152 243l-9-5m1-1l-4 0 2 3zM162 242l-10-3m1-2l-4 0 3 3zM172 241l-10-2m0-2l-4 1 4 3zM181 242l-9-3m1-2l-4 1 3 3zM191 242l-10-3m1-2l-4 1 3 3zM201 240l-10 0m0-2l-4 1 4 2zM210 241l-10-2m1-2l-4 1 3 3zM219 239l-8 1m0-2l-4 2 4 2zM229 242l-9-3m1-2l-4 0 3 3zM239 242l-9-3m0-2l-4 1 3 3zM249 243l-11-5m1-2l-4 0 2 4zM259 242l-11-3m0-2l-4 1 3 3zM267 241l-8-2m0-2l-4 2 3 2zM278 242l-10-3m0-2l-4 1 3 3zM287 242l-10-4m1-1l-4 0 3 3zM296 240l-8 0m0-2l-3 2 3 1zM306 243l-10-5m1-1l-4 0 3 3zM316 242l-10-4m0-1l-4 0 3 3zM324 242l-7-3m1-2l-4 1 2 3zM335 240l-9 0m0-2l-4 1 3 2zM345 241l-10-2m0-2l-4 2 3 2zM354 241l-9-2m0-1l-4 1 4 2zM365 241l-11-2m0-2l-4 2 4 2zM374 242l-10-4m1-1l-4 0 2 3zM384 241l-11-2m1-2l-4 1 3 3zM393 242l-10-3m0-2l-4 1 3 2zM403 242l-10-3m0-2l-4 1 3 3zM413 240l-11-1m0-1l-3 1 3 2zM423 241l-12-2m0-2l-3 1 3 3zM431 241l-9-2m1-2l-4 1 3 3zM441 241l-9-2m0-2l-4 1 3 3zM451 241l-10-2m0-2l-4 2 4 2zM457 243l-4-4m1-1l-3-2 1 4zM465 243l-2-4m1-1l-3-2 0 3zM476 243l-4-4m1-1l-3-2 1 3zM485 243l-3-4m1-1l-3-2 0 4zM494 244l-3-6m2 0l-3-2 0 3zM504 242l-3-3m1-1l-3 0 1 2zM514 244l-4-6m2-1l-4-1 1 3zM524 242l-4-3m1-1l-3-1 1 3zM533 244l-3-6m1-1l-3-2 0 4zM541 244l-1-6m2 0l-2-3-2 4zM553 244l-4-6m1-1l-3-2 0 4zM560 243l-1-4m2 0l-2-3-1 3zM572 243l-4-4m1-1l-3-1 1 3zM580 243l-2-4m2-1l-3-2 0 3zM591 243l-4-4m2-1l-4-2 1 4zM601 241l-3-1m0-2l-3 1 2 2zM610 243l-3-4m1-1l-3-2 1 4zM10 236l2-8m1 0l-1-4-2 3zM22 234l-1-5m1 0l-2-3-1 3zM28 234l3-5m2 0l-1-3-2 2zM41 234l-1-5m1 0l-2-3-1 3zM48 236l2-8m2 0l-1-3-3 3zM58 236l2-8m2 0l-2-4-2 3zM69 233l0-4m1 0l-1-2-2 3zM81 234l-3-5m1-1l-3-2 0 4zM92 233l-5-4m1-1l-4-1 2 3zM103 233l-7-4m1-2l-4 0 2 4zM112 233l-6-4m1-1l-4-1 2 3zM123 231l-9-1m0-2l-3 2 3 2zM134 231l-11-1m0-2l-4 2 4 2zM143 231l-10-1m0-2l-4 1 3 2zM152 232l-9-3m1-2l-4 1 3 3zM162 231l-10-1m0-2l-3 1 3 3zM172 233l-10-4m1-2l-5 0 3 3zM182 232l-11-3m0-2l-4 1 4 3zM190 231l-8-2m0-1l-4 1 3 2zM200 231l-9-1m1-2l-4 1 3 2zM211 231l-11-1m0-2l-3 2 3 2zM220 232l-11-3m1-2l-4 2 3 2zM229 231l-9-1m1-2l-4 1 3 3zM240 231l-11-1m0-2l-4 1 3 2zM249 233l-10-4m1-2l-5 0 3 3zM258 231l-9-1m0-2l-4 1 4 3zM268 232l-10-3m1-2l-4 1 3 3zM277 232l-9-3m0-2l-4 1 3 3zM286 231l-8-1m1-2l-4 1 3 2zM297 232l-10-3m0-2l-4 1 3 3zM307 233l-11-5m0-1l-4 0 3 3zM316 231l-10-1m1-2l-4 1 3 3zM325 231l-9-1m1-2l-4 1 3 2zM335 232l-10-3m1-2l-4 1 3 3zM345 231l-10-1m0-2l-3 2 3 2zM354 231l-9-1m0-2l-4 1 4 3zM365 232l-11-3m0-2l-4 2 4 2zM374 232l-11-3m1-2l-4 2 3 2zM383 231l-9-1m1-2l-4 1 3 2zM394 231l-12-1m1-2l-4 2 3 2zM404 231l-12-2m0-1l-4 1 4 2zM413 232l-11-3m1-2l-4 1 3 3zM421 230l-8 0m0-2l-4 2 3 2zM432 232l-11-3m1-2l-4 1 3 3zM442 232l-12-3m1-2l-4 1 3 3zM451 232l-11-3m1-2l-4 1 3 3zM454 234l-1-5m2-1l-2-2-1 3zM466 232l-3-2m1-2l-3 0 1 3zM476 233l-4-4m1-1l-4-1 2 3zM485 233l-3-4m1-1l-3-1 1 3zM494 233l-2-4m1-1l-3-1 0 3zM506 230l-6 0m1-2l-4 2 3 2zM512 234l-1-5m2 0l-3-3 0 3zM523 233l-2-3m1-1l-3-1 1 3zM533 233l-3-4m1-1l-3-1 1 3zM542 232l-2-2m1-1l-3-1 1 3zM552 232l-2-2m1-1l-3-1 1 3zM563 233l-5-4m2-1l-4-1 1 3zM571 232l-2-2m1-1l-3-1 1 3zM582 232l-4-2m1-2l-3 0 1 3zM590 234l-2-5m1-1l-3-2 0 4zM600 233l-3-4m2-1l-3-1 0 3zM610 232l-3-2m1-1l-2-1 0 3zM620 234l-4-5m2-1l-4-2 1 4zM12 225l-1-6m2-1l-3-3-1 4zM21 223l0-3m1 0l-1-2-2 2zM31 225l-1-6m2 0l-2-3-1 3zM39 226l1-8m2 1l-1-4-2 3zM48 225l2-6m2 1l0-4-3 2zM58 224l2-5m1 1l0-4-3 3zM69 225l0-6m1 0l-2-3-1 3zM81 224l-3-5m1 0l-3-2 1 3zM91 223l-4-4m1-1l-3-1 1 4zM102 223l-6-4m1-1l-3 0 1 3zM112 222l-6-2m1-2l-4 1 2 2zM124 222l-11-2m1-2l-4 1 3 2zM132 223l-8-4m1-1l-4 0 3 3zM142 223l-9-4m1-2l-4 1 3 3zM153 223l-11-4m1-2l-4 1 3 3zM162 222l-9-2m0-2l-4 1 3 2zM171 221l-8-1m0-2l-3 2 3 2zM181 222l-9-2m0-2l-4 1 3 2zM191 222l-10-2m0-2l-4 1 4 3zM201 223l-11-4m1-2l-4 1 3 3zM209 222l-8-2m1-2l-4 0 3 3zM220 221l-10-1m0-2l-4 2 4 2zM230 222l-11-3m1-1l-4 0 3 3zM238 223l-8-4m0-1l-4 0 3 3zM248 222l-8-2m0-2l-4 0 3 3zM258 222l-9-2m1-2l-4 0 3 3zM266 223l-6-4m1-1l-4 0 2 3zM277 222l-9-2m0-2l-4 1 3 2zM286 224l-8-5m1-2l-4 0 2 4zM296 222l-8-2m1-2l-4 1 3 3zM306 222l-9-2m1-2l-4 0 3 3zM315 222l-8-2m1-2l-4 1 3 2zM326 223l-11-4m1-2l-4 1 3 3zM337 222l-13-3m0-1l-4 1 4 2zM346 221l-12-1m1-2l-4 1 3 3zM355 221l-11-1m1-2l-4 2 3 2zM365 221l-11-1m0-2l-4 1 3 3zM375 222l-12-2m0-2l-4 1 4 2zM383 222l-9-2m0-2l-4 1 3 2zM393 221l-10-1m0-2l-4 2 4 2zM403 222l-10-3m0-1l-4 0 3 3zM413 221l-11-1m0-2l-3 1 3 3zM422 222l-10-2m0-2l-4 1 3 3zM431 221l-8-1m0-2l-4 2 3 2zM441 222l-9-2m0-2l-4 1 3 3zM450 221l-9-1m1-2l-4 2 3 2zM456 224l-3-5m1 0l-3-2 1 3zM467 224l-5-5m1-1l-3-1 1 3zM473 223l0-3m1 0l-1-3-1 3zM485 223l-3-3m1-1l-3-2 1 4zM495 222l-4-2m1-1l-3-1 2 3zM504 224l-3-4m1-1l-2-2 0 3zM514 223l-3-4m1-1l-4-1 1 4zM522 223l-1-3m1-1l-2-1 0 3zM534 224l-4-5m1-1l-4-1 1 3zM541 224l-1-4m1-1l-2-2 0 3zM552 224l-3-5m2-1l-3-1 0 3zM563 223l-5-3m1-2l-3 0 2 3zM570 223l-1-3m1-1l-2-2 0 3zM580 225l-2-6m2-1l-3-2 0 3zM590 222l-2-2m1-1l-2 0 0 2zM600 223l-3-3m2-1l-3-2 0 4zM610 223l-3-3m1-1l-3-1 1 3zM620 223l-4-4m2-1l-4-1 1 4zM11 214l0-4m2 0l-2-3-1 3zM19 214l2-4m2 0l0-3-3 2zM30 216l0-7m2 0l-1-3-2 3zM40 214l0-4m1 0l-1-2-1 2zM48 215l2-5m2 0l-1-3-2 2zM59 216l0-7m2 0l-1-3-2 3zM69 214l0-4m1 0l-1-3-2 3zM78 213l0-2m2 0l-1-2-2 2zM91 212l-3-2m0-1l-2 0 1 3zM99 213l-1-2m1-1l-3-1 1 2zM112 211l-6 0m0-2l-3 1 3 2zM122 211l-7 0m1-2l-4 1 3 2zM130 212l-4-2m0-1l-3 0 2 3zM140 212l-5-2m1-1l-3 1 2 2zM151 212l-7-2m1-2l-4 1 2 3zM160 210l-6 1m0-2l-3 3 3 1zM170 211l-7 0m0-2l-3 2 3 1zM179 212l-6-2m1-1l-3 0 2 3zM189 212l-6-2m0-1l-4 0 3 3zM199 212l-7-2m1-1l-4 1 3 2zM208 213l-6-3m1-2l-4 0 2 3zM218 211l-6 0m0-2l-3 1 3 2zM227 212l-6-2m1-1l-4 0 3 3zM236 212l-4-2m0-1l-3 0 2 3zM247 212l-7-2m0-1l-3 1 3 2zM256 211l-6 0m0-2l-3 2 3 1zM267 211l-8 0m0-2l-3 2 3 2zM276 212l-7-2m1-1l-4 1 3 2zM284 210l-4 1m0-2l-3 2 3 1zM295 212l-7-2m1-1l-4 1 3 2zM304 211l-6 0m0-2l-3 1 3 2zM316 213l-9-3m0-2l-4 1 3 3zM326 212l-10-2m0-2l-4 2 4 2zM335 211l-9 0m0-2l-3 2 3 2zM344 211l-8 0m0-2l-3 2 3 1zM353 211l-7-1m1-1l-4 1 3 2zM364 211l-9-1m0-1l-4 1 3 2zM373 210l-8 1m0-2l-3 3 3 1zM382 211l-7-1m0-1l-4 1 4 2zM391 212l-6-2m0-1l-3 0 2 3zM401 211l-7 0m0-2l-3 2 3 1zM410 210l-6 1m0-2l-3 2 3 1zM421 207l-8 5m-1-2l-2 4 4 0zM429 211l-5 0m0-2l-3 2 3 1zM440 212l-8-2m1-2l-4 2 3 2zM448 211l-5 0m0-2l-3 2 3 1zM457 212l-4-1m1-2l-3 1 2 2zM466 213l-3-3m1-1l-3-1 1 3zM476 214l-4-4m1-1l-3-2 1 4zM486 214l-4-4m1-1l-4-1 2 3zM495 212l-3-2m0-1l-3 0 2 3zM505 214l-4-4m1-2l-3-1 1 4zM513 213l-2-3m1-1l-2-1 0 3zM523 214l-2-4m1-1l-3-1 0 3zM533 215l-3-6m1-1l-3-1 0 3zM543 214l-4-4m1-1l-3-1 1 3zM553 214l-4-4m1-1l-3-1 1 3zM562 214l-3-4m1-1l-3-1 0 3zM570 214l-1-4m1-1l-2-2-1 3zM581 213l-3-3m1-1l-3-1 1 3zM590 214l-2-4m1-1l-2-2 0 4zM600 214l-3-4m2-1l-3-2 0 3zM611 213l-4-3m1-1l-3-1 1 3zM619 215l-2-6m1 0l-3-2 0 3zM11 204l0-4m2 1l-1-3-2 2zM20 204l1-4m1 1l0-3-2 2zM31 206l-1-7m2 0l-2-3-1 4zM40 207l0-8m2 0l-2-4-2 4zM48 205l2-6m2 1l-1-3-2 2zM58 207l2-8m1 0l-1-4-2 4zM68 203l1-2m1 1l0-3-2 1zM79 203l-1-2m2 0l-2-2-1 2zM89 204l-1-3m1-1l-2-2 0 3zM98 203l0-2m1 0l-2-2 0 3zM110 202l-3-1m0-1l-2 0 2 2zM119 202l-2-1m0-1l-2 0 1 2zM128 199l-1 2m-1-1l0 3 2-2zM139 201l-3 0m0-1l-2 1 2 1zM148 199l-2 2m-1-1l-1 3 2-1zM158 201l-3 0m0-1l-2 1 2 1zM169 199l-5 3m-1-2l-1 3 3 0zM175 203l0-2m1 0l-2-2 0 3zM187 201l-3 0m0-1l-2 1 2 1zM197 201l-3 0m0-1l-3 1 3 1zM205 202l-1-1m1 0l-3-1 1 2zM215 200l-2 1m0-1l-2 2 3 0zM226 202l-4-1m0-1l-2 0 2 2zM235 202l-3-1m0-1l-2 0 2 2zM244 203l-2-2m1-1l-3-1 1 3zM254 202l-3-1m1-1l-3 0 2 2zM265 202l-5-1m1-2l-4 1 3 2zM274 201l-4 0m0-1l-3 1 3 1zM284 202l-5-1m1-2l-3 1 2 2zM294 201l-5 0m0-1l-2 1 2 2zM303 202l-4-1m0-2l-3 1 2 2zM313 203l-5-3m1-1l-3 0 2 3zM323 202l-5-1m0-2l-3 1 2 2zM333 201l-6 0m0-2l-3 2 3 2zM342 201l-5 0m0-2l-3 2 3 1zM353 202l-7-1m0-2l-3 1 3 2zM361 201l-5 0m1-2l-3 2 2 1zM371 201l-5 0m0-1l-3 1 3 2zM381 201l-6 0m0-2l-3 2 3 2zM392 198l-8 4m0-2l-3 4 4 0zM401 199l-7 3m0-2l-3 3 4 0zM410 199l-6 3m0-2l-2 3 3 0zM420 199l-6 3m-1-2l-3 3 4 0zM429 200l-5 1m-1-1l-2 2 3 1zM438 199l-5 3m0-2l-2 3 3 0zM447 199l-4 3m-1-2l-1 3 3 0zM458 201l-6 0m0-2l-3 2 3 2zM467 200l-4 1m-1-1l-2 2 3 1zM476 200l-4 1m0-1l-2 2 3 0zM485 201l-2 0m0-1l-3 1 2 1zM494 200l-1 1m-1-1l-1 2 2 0zM503 200l-1 1m-1-1l0 2 2 0zM512 199l-1 2m-1-1l0 3 2-1zM523 200l-2 1m0-1l-2 2 2 0zM534 201l-4 0m0-1l-3 1 3 2zM544 202l-5-1m1-2l-3 1 2 2zM552 200l-2 1m-1-1l-2 2 3 0zM562 201l-3 0m0-1l-2 1 2 1zM571 199l-2 2m-1-1l-1 3 3-1zM580 200l-1 1m0-1l-2 2 3 0zM590 200l-1 1m-1-1l-1 2 2 0zM610 201l-2 0m0-1l-3 1 3 1zM619 199l-2 2m-1-1l0 3 2-1zM11 196l0-7m2 1l-1-4-2 3zM21 196l0-6m1 0l-2-3-1 3zM29 197l2-8m2 1l-1-4-3 3zM40 196l0-6m2 0l-2-4-2 3zM49 196l1-6m2 0l-1-3-3 2zM59 195l0-4m2 0l-1-3-2 2zM67 195l2-5m2 1l0-4-3 3zM80 194l-2-3m2 0l-3-2 0 3zM90 193l-2-2m1-1l-3-1 1 3zM99 195l-2-4m2-1l-3-2 0 3zM109 192l-1 0m0-1l-2-1 1 3zM120 191l-3 0m0-1l-3 1 3 2zM129 192l-2-1m0-1l-3 1 2 2zM139 190l-3 1m-1-1l-2 2 3 1zM148 190l-2 1m-1-1l-2 3 3 0zM157 193l-2-2m1-1l-2-1 0 3zM167 190l-2 1m-1-1l-1 3 3 0zM178 192l-4-1m1-1l-3 0 2 2zM187 190l-3 1m0-1l-2 3 3 0zM196 194l-2-3m1-1l-3-1 1 3zM205 190l-1 1m-1-1l-1 2 3 0zM216 190l-3 2m-1-2l-2 3 3 0zM224 189l-1 3m-1-1l-1 3 3-2zM236 192l-5-1m0-1l-3 1 3 2zM244 193l-2-2m1-1l-3-1 1 3zM255 192l-4-1m0-1l-2 1 2 2zM263 194l-2-3m1-1l-3-2 1 3zM275 191l-5 0m0-1l-3 2 3 1zM285 193l-6-2m1-2l-3 1 2 2zM295 193l-7-2m1-2l-4 1 3 3zM304 193l-6-2m1-2l-4 1 3 2zM312 193l-3-2m0-1l-3 0 2 2zM324 192l-7-1m0-2l-3 1 3 3zM334 192l-8-1m1-2l-4 2 3 2zM344 192l-8-1m0-2l-4 2 4 2zM354 190l-9 2m0-2l-4 2 4 2zM363 191l-8 0m0-1l-3 2 3 1zM373 192l-8-1m0-2l-4 2 3 2zM380 189l-4 3m-1-1l-2 2 4 0zM392 188l-9 5m0-2l-3 3 4 0zM401 190l-7 2m0-2l-3 2 3 1zM410 190l-6 2m-1-2l-2 3 4 0zM418 189l-4 3m-1-1l-1 3 3-1zM429 190l-5 2m-1-2l-2 3 3 0zM439 190l-6 2m0-2l-3 3 3 0zM448 189l-5 3m-1-1l-2 2 4 0zM457 189l-4 3m-1-1l-2 2 3 0zM465 188l-2 4m-1-1l-1 3 3-1zM477 191l-5 0m0-1l-3 2 3 1zM484 191l-1 0m-1-1l-1 2 2 0zM494 191l-2 0m0-1l-2 2 3 0zM505 191l-4 0m0-1l-3 2 3 1zM514 191l-3 0m0-1l-2 2 2 1zM524 191l-4 0m0-1l-2 2 3 1zM532 189l-1 3m-2-1l1 3 2-2zM542 190l-1 1m-1-1l-1 2 2 0zM552 191l-2 0m0-1l-2 1 2 1zM563 192l-4-1m0-1l-3 0 2 3zM571 191l-2 0m0-1l-2 2 2 0zM581 191l-2 0m0-1l-3 2 3 1zM591 193l-3-2m1-1l-3-1 1 3zM609 193l-1-2m1 0l-3-1 1 2zM619 190l-2 1m0-1l-2 3 3-1zM11 187l0-7m2 0l-2-3-1 3zM21 186l0-5m1-1l-2-2-1 3zM29 186l2-6m2 0l-1-3-3 3zM39 186l1-6m2 1l-1-4-2 3zM50 187l0-7m1 0l-2-4-1 4zM59 185l0-4m2 0l-1-3-2 3zM70 187l-2-7m2-1l-3-3 0 4zM80 185l-2-4m1-1l-2-1 0 3zM88 184l0-2m1 0l-1-3-1 3zM97 184l1-3m1 1l-1-3-2 2zM110 181l-3 1m0-2l-3 3 3 0zM120 181l-4 1m0-2l-2 2 3 1zM129 180l-3 2m-1-1l-1 3 3-1zM139 181l-3 1m0-2l-2 2 2 1zM149 182l-4 0m0-2l-2 2 2 1zM158 181l-3 1m0-2l-2 2 3 1zM166 180l-1 1m-1 0l0 2 2-1zM177 181l-3 1m0-2l-2 2 3 1zM187 181l-3 1m0-2l-2 2 2 1zM197 182l-3 0m0-2l-3 1 2 2zM207 181l-4 1m0-2l-3 2 3 1zM216 183l-3-2m0-1l-3 1 2 2zM225 182l-2 0m0-1l-2 0 1 2zM235 184l-3-3m1-1l-3 0 1 2zM245 183l-3-1m0-2l-2 1 1 2zM255 184l-4-3m1-1l-4 0 2 2zM265 184l-5-3m1-1l-3 0 2 2zM275 183l-6-2m1-1l-4 1 3 2zM284 185l-4-4m1-1l-4-1 1 3zM293 184l-4-3m1-1l-3-1 1 3zM305 184l-7-3m1-2l-4 0 2 3zM314 184l-7-3m1-2l-4 0 3 3zM323 182l-5-1m0-1l-3 1 2 2zM335 182l-9-1m0-1l-4 1 4 2zM344 183l-8-2m1-2l-4 1 2 3zM353 182l-7 0m0-2l-3 1 3 2zM362 181l-6 1m0-2l-3 2 3 1zM373 180l-8 2m-1-1l-2 2 3 1zM381 179l-6 4m-1-2l-2 3 4 0zM392 180l-8 2m-1-1l-3 3 4 0zM401 178l-7 5m-2-1l-2 3 5 0zM410 178l-6 5m-1-1l-2 3 4-1zM420 180l-7 2m0-1l-3 3 4 0zM429 179l-6 4m-1-2l-2 3 4 0zM439 179l-6 4m-1-2l-2 3 4 0zM447 180l-4 2m0-1l-2 2 3 0zM457 179l-4 4m-1-2l-1 4 3-1zM466 181l-3 1m0-2l-2 2 3 1zM474 179l-1 3m-1-1l0 3 2-1zM484 180l-1 1m-1 0l-1 2 2-1zM494 180l-2 2m-1-1l-1 3 3-1zM504 180l-2 2m-1-1l-2 2 3 0zM514 180l-3 2m0-1l-2 2 3 0zM524 181l-4 1m0-2l-2 2 3 1zM532 180l-1 1m-1 0l0 2 2-1zM542 181l-2 1m0-1l-2 2 3 0zM553 180l-4 2m0-1l-2 2 3 0zM561 182l-1 0m0-1l-2 0 2 2zM610 182l-3 0m1-2l-3 1 2 2zM619 180l-2 2m-1-1l-1 3 3-1zM11 176l0-5m2 0l-2-3-1 3zM22 177l-2-7m2 0l-2-3-1 3zM29 176l2-5m1 0l-1-3-2 2zM38 176l3-6m1 1l0-3-3 2zM50 176l0-5m1 0l-2-3-1 3zM59 177l0-7m2 1l-1-4-2 3zM69 176l0-5m2 0l-2-3-2 3zM81 175l-3-4m1-1l-3-1 1 3zM90 174l-2-2m1-1l-3-1 1 3zM99 173l-1-1m1 0l-2-2 0 3zM109 173l-2-1m1-1l-3 0 2 2zM119 172l-2 0m0-1l-2 0 2 2zM129 172l-2 0m-1-1l-2 1 3 1zM138 172l-1 0m0-1l-2 0 1 2zM147 171l-1 1m-1-1l-1 2 3 0zM158 171l-3 1m-1-1l-1 2 3 0zM168 173l-4-1m1-2l-3 1 2 2zM177 172l-2 0m0-1l-3 1 3 1zM187 173l-3-1m0-2l-3 1 2 2zM196 170l-2 2m-1-1l-1 3 3-1zM207 173l-4-1m0-2l-3 1 3 2zM217 172l-5 0m0-2l-3 1 3 2zM225 172l-2 0m-1-1l-2 1 3 1zM234 173l-1-1m0-1l-3 0 2 2zM245 173l-4-1m1-2l-3 1 2 2zM255 175l-4-4m1-1l-3-1 1 3zM264 173l-3-1m1-1l-3 0 2 2zM274 175l-4-4m1-1l-3-1 1 3zM283 176l-3-5m1-1l-3-2 0 3zM294 175l-5-4m1-1l-3-2 1 4zM303 174l-4-3m1-1l-4-1 2 4zM314 175l-6-4m1-1l-4-1 2 4zM322 174l-4-2m1-2l-3 0 2 3zM333 175l-6-4m1-2l-4 0 2 3zM342 173l-5-1m0-2l-3 1 3 2zM355 174l-10-3m0-2l-4 1 3 3zM364 171l-9 1m0-2l-4 3 4 1zM373 172l-8 0m0-2l-3 1 3 3zM382 169l-8 4m0-2l-3 4 4 0zM393 169l-10 4m-1-1l-2 3 4 0zM401 170l-7 3m0-2l-3 2 4 1zM411 168l-8 6m-1-1l-2 3 4 0zM420 169l-7 4m-1-1l-2 3 4 0zM429 169l-6 4m0-2l-2 4 3-1zM438 167l-5 7m-2-1l0 4 3-2zM447 169l-4 4m-1-1l-1 3 3-1zM456 169l-3 4m-1-1l-1 3 3-1zM466 169l-3 4m-2-1l0 3 3-1zM477 169l-5 4m-1-2l-2 4 4-1zM484 169l-2 3m-1 0l0 3 2-2zM495 171l-3 1m-1-1l-1 2 3 0zM505 171l-4 1m0-1l-3 2 3 1zM512 169l-1 3m-1 0l1 3 2-2zM523 171l-2 1m0-1l-2 2 3 0zM534 170l-4 2m-1-1l-1 3 3 0zM590 173l-1-1m0-1l-2 0 1 2zM600 172l-2 0m0-1l-2 1 2 1zM611 172l-4 0m0-1l-3 1 3 1zM620 172l-3 0m0-1l-2 1 2 1zM12 161l-1 1m-1-1l0 3 2-2zM24 162l-4 0m0-1l-2 2 2 1zM33 161l-3 1m0-1l-2 2 3 1zM42 164l-2-2m1-1l-3 0 1 2zM49 160l1 2m-2 0l2 2 1-2zM61 161l-2 1m0-1l-2 3 3-1zM71 162l-2 0m0-1l-2 2 3 0zM80 161l-1 1m-1-1l-1 3 3-1zM90 162l-2 0m0-1l-2 2 3 0zM100 160l-3 3m0-2l-2 3 3 0zM109 161l-2 1m-1-1l-1 3 3-1zM119 164l-2-2m1-1l-3-1 1 3zM129 162l-3 0m0-1l-2 2 3 1zM139 163l-3-1m0-1l-2 1 2 2zM149 162l-4 0m0-1l-2 2 2 1zM156 164l0-1m1-1l-3-1 1 2zM168 163l-3-1m0-1l-3 1 3 1zM175 165l0-3m1 0l-2-2 0 3zM186 163l-1 0m0-1l-2-1 1 2zM197 162l-3 0m0-1l-3 1 3 2zM207 162l-4 0m0-1l-3 1 3 2zM215 162l-1 0m0-1l-2 1 2 1zM225 164l-3-2m1-1l-3-1 2 3zM236 164l-5-2m1-2l-3 0 2 3zM245 164l-3-2m0-1l-3-1 2 3zM254 164l-3-2m1-1l-3-1 1 3zM265 165l-5-4m1-1l-3-1 1 4zM276 166l-7-5m1-2l-4 0 2 3zM285 164l-6-3m1-1l-4 0 2 3zM295 166l-7-6m1-1l-4-1 2 4zM305 167l-8-7m1-1l-4-1 2 3zM314 166l-6-5m1-2l-4-1 1 4zM325 165l-8-4m0-2l-4 1 3 3zM334 166l-8-5m1-2l-4 0 2 3zM345 163l-9-1m0-2l-4 1 3 3zM353 162l-7 0m0-2l-4 2 4 2zM364 161l-9 2m-1-2l-3 3 4 1zM373 161l-9 2m0-2l-3 2 4 2zM382 160l-8 3m0-1l-3 3 4 0zM392 159l-8 4m-1-1l-2 3 4 0zM401 159l-7 5m-1-2l-2 4 4-1zM410 159l-6 5m-1-2l-2 4 4-1zM419 159l-5 4m-1-1l-2 3 4 0zM428 159l-4 5m-2-2l-1 4 4-1zM438 159l-5 4m-1-1l-1 3 4-1zM448 160l-5 3m-1-1l-2 3 4-1zM457 160l-4 3m-1-1l-2 2 4 0zM466 158l-3 5m-2 0l0 3 3-2zM476 159l-4 4m-1-1l-1 3 3-1zM485 159l-3 4m-1-1l-1 3 3-1zM496 161l-5 2m0-2l-3 2 4 1zM504 161l-2 1m-1-1l-1 3 2-1zM514 160l-3 2m-1-1l-1 3 3-1zM562 160l-3 3m-1-2l-1 3 3 0zM572 161l-4 2m0-2l-2 3 3 0zM591 162l-3 0m0-1l-2 2 3 0zM600 164l-2-2m1-1l-3-1 1 3zM610 161l-3 1m0-1l-2 3 3-1zM620 161l-3 1m-1-1l-2 2 3 1zM14 151l-3 2m-1-1l-2 2 3 0zM24 151l-4 2m0-1l-2 2 3 0zM33 151l-3 2m-1-1l-1 2 3 0zM42 149l-2 4m-2 0l0 3 3-2zM52 151l-2 2m-1-1l-1 2 2 0zM61 152l-2 1m0-2l-2 2 3 1zM70 150l-1 3m-1-1l0 3 2-2zM80 152l-1 1m0-2l-2 2 2 1zM91 151l-3 2m-1-1l-2 2 3 0zM101 153l-4 0m0-2l-3 1 3 2zM110 154l-3-2m1-1l-3 0 2 3zM119 153l-2 0m1-1l-3 0 2 2zM124 153l3 0m0 1l2-2-3-1zM139 152l-3 1m0-2l-2 2 2 1zM150 153l-5-1m0-1l-3 1 2 2zM157 153l-1 0m0-1l-2 0 1 2zM168 152l-3 1m0-2l-3 2 3 1zM177 153l-2 0m0-2l-3 1 2 2zM187 152l-3 1m0-2l-2 2 3 1zM195 154l-1-1m1-1l-3-1 1 3zM207 155l-4-3m0-1l-3-1 2 3zM215 155l-2-3m1-1l-3-1 1 3zM225 154l-2-2m1 0l-3-1 1 2zM236 155l-4-3m0-1l-3 0 2 2zM245 155l-4-3m1-1l-3-1 1 3zM255 155l-4-3m1-1l-3-1 1 3zM266 158l-7-8m2-1l-4-1 1 4zM275 156l-6-5m2-1l-4-1 1 3zM284 156l-4-5m1-1l-4-1 1 4zM294 158l-5-7m1-1l-3-2 0 4zM304 158l-6-8m1-1l-4-2 1 4zM314 158l-7-8m2-1l-4-1 1 4zM324 156l-7-5m1-1l-4-1 2 4zM334 157l-8-6m1-2l-4 0 2 3zM344 155l-9-3m1-2l-4 0 3 3zM354 153l-9-1m1-2l-4 2 3 2zM363 153l-8 0m0-2l-4 2 4 1zM374 151l-10 2m0-1l-3 2 4 1zM382 150l-7 4m-1-2l-3 3 4 0zM392 149l-8 5m-1-1l-2 3 4 0zM400 147l-6 8m-2-1l0 4 3-2zM411 149l-8 5m-1-1l-1 3 4 0zM420 148l-7 7m-1-2l-2 4 4-1zM429 148l-6 7m-1-2l-2 4 4-1zM438 147l-5 8m-2-1l0 4 3-2zM448 148l-6 7m-1-1l-1 3 4-1zM457 149l-4 5m-2-1l0 3 3-1zM466 150l-3 3m-1-1l-1 3 3-1zM477 149l-5 5m-2-1l-1 3 4-1zM485 148l-3 6m-2-1l0 4 3-2zM494 150l-2 3m-1-1l-1 3 3-1zM504 151l-2 2m-1-1l-1 3 2-1zM513 151l-2 2m-1-1l-1 3 3-1zM551 155l-1-2m1-1l-2-2 0 3zM562 151l-3 2m-1-1l-1 2 3 0zM571 150l-2 3m-2-1l0 4 3-2zM581 151l-2 2m-1-1l-1 2 2 0zM591 151l-3 2m-1-1l-2 2 4 0zM600 153l-2 0m1-1l-3 1 2 1zM610 151l-3 2m0-1l-2 2 3 0zM619 153l-1 0m0-2l-3 2 3 1zM14 141l-3 2m-1-1l-1 3 3-1zM24 142l-4 1m0-1l-2 2 3 0zM32 142l-2 1m0-1l-2 2 3 0zM43 142l-3 1m-1-1l-2 2 3 0zM53 143l-4 0m0-1l-2 1 2 1zM62 141l-3 2m-1-1l-2 2 3 1zM72 143l-4 0m0-1l-3 1 3 1zM80 143l-1 0m0-1l-2 0 1 2zM92 142l-5 1m0-1l-3 2 4 1zM99 141l-1 2m-1-1l-1 3 3-1zM110 146l-3-4m1-1l-4-1 2 3zM119 143l-2 0m0-1l-2 1 2 1zM129 142l-3 1m0-1l-2 2 3 0zM139 143l-3 0m0-1l-3 1 3 1zM148 143l-2 0m0-1l-2 1 2 1zM158 143l-3 0m1-1l-3 0 2 2zM168 144l-3-1m0-2l-3 1 2 2zM177 141l-2 2m-1-1l-1 3 2-1zM187 144l-3-1m1-1l-3 0 2 2zM197 143l-4 0m0-2l-3 2 3 1zM206 142l-2 1m-1-1l-2 1 3 1zM216 143l-3 0m0-1l-2 1 2 1zM226 144l-4-1m1-2l-3 1 2 2zM236 146l-5-4m1-1l-3-1 1 3zM245 145l-4-3m1-1l-3 0 1 3zM254 147l-3-5m1-1l-3-2 0 4zM263 147l-2-5m1-1l-3-2 0 3zM274 147l-4-6m1-1l-3-2 0 4zM283 149l-4-9m2-1l-3-2 0 4zM294 148l-6-7m2-1l-4-2 1 4zM304 147l-6-6m1-1l-3-1 1 4zM315 147l-8-6m1-2l-4-1 2 4zM323 148l-6-8m2-1l-4-1 1 4zM334 147l-8-6m2-1l-4-1 1 4zM344 146l-8-4m1-2l-4 0 2 3zM353 144l-7-1m0-2l-3 1 3 2zM362 143l-6 0m0-2l-3 2 3 2zM372 141l-7 3m-1-2l-2 3 4 0zM382 140l-8 4m-1-2l-2 4 4 0zM390 139l-5 5m-1-1l-1 3 3-1zM400 139l-5 5m-2-1l-1 3 4-1zM410 137l-7 9m-1-2l-1 4 4-1zM420 137l-7 9m-2-1l0 4 3-2zM429 137l-6 9m-2-1l0 4 3-2zM438 138l-5 7m-2-1l-1 4 4-2zM447 138l-4 7m-2-1l0 4 3-2zM458 139l-6 5m-1-1l-2 4 4-1zM466 138l-4 7m-1-1l0 4 3-3zM476 140l-4 4m-1-1l-2 3 4-1zM486 141l-5 3m0-2l-2 3 3 0zM495 141l-3 2m-1-1l-1 3 3-1zM506 141l-5 2m-1-1l-2 2 3 1zM553 141l-4 2m0-1l-2 2 3 0zM562 143l-2 0m0-1l-3 1 3 1zM572 144l-3-1m0-2l-3 1 2 2zM580 143l-1 0m0-1l-2 1 2 1zM589 144l0-1m1 0l-2-2-1 3zM601 143l-3 0m0-1l-3 1 3 1zM610 143l-3 0m0-1l-2 1 2 1zM620 142l-3 1m-1-1l-1 2 3 0zM14 133l-3 0m0-1l-2 2 2 0zM23 133l-2 0m0-1l-2 1 2 1zM33 132l-3 1m0-1l-2 2 3 0zM42 133l-2 0m0-1l-2 1 2 1zM52 130l-3 4m-1-1l-1 3 3-1zM62 131l-3 3m-1-1l-1 3 3-1zM70 133l-1 0m0-1l-2 2 3 0zM82 133l-4 0m0-1l-3 2 3 1zM90 132l-2 1m0-1l-2 2 3 0zM100 135l-2-2m0-1l-3 0 2 2zM108 135l-1-2m1 0l-2-2 0 3zM119 132l-2 1m-1-1l-1 2 3 0zM128 134l-1-1m0-1l-2 0 1 2zM139 132l-3 1m-1-1l-1 3 2 0zM148 132l-2 1m-1-1l-2 2 3 1zM157 132l-1 1m-1-1l-1 2 2 0zM167 132l-2 1m-1-1l-1 3 2-1zM177 134l-2-1m0-1l-2 0 1 2zM187 132l-3 1m0-1l-2 2 3 1zM196 133l-2 0m0-1l-2 2 3 0zM206 135l-3-2m1-1l-3 0 1 2zM216 135l-3-2m0-1l-2 0 1 2zM225 136l-3-3m1-1l-2-2 0 4zM234 137l-2-5m2 0l-3-2 0 3zM244 137l-2-5m1 0l-3-2 0 3zM252 136l0-3m1-1l-2-2-1 3zM264 139l-4-9m2 0l-4-3 0 4zM272 139l-2-8m2 0l-2-3-1 3zM281 140l-1-10m2 0l-2-3-2 4zM292 139l-3-8m2-1l-3-2 0 4zM302 138l-3-6m2-1l-3-2 0 3zM313 138l-5-7m1-1l-3-2 0 4zM323 137l-5-5m1-1l-4-2 1 4zM332 138l-5-7m2-1l-4-2 1 4zM340 137l-2-5m1-1l-3-2 0 4zM353 135l-7-2m1-2l-4 1 3 2zM362 134l-6-1m1-2l-4 1 3 2zM371 131l-5 3m-1-2l-1 3 3 0zM381 130l-6 5m-1-2l-2 4 4-1zM389 128l-4 7m-1-1l0 4 3-2zM400 128l-6 8m-2-1l0 4 3-2zM409 127l-5 9m-2-1l0 4 4-2zM417 127l-3 9m-1-1l0 4 3-3zM429 127l-6 9m-2-1l0 4 4-2zM438 128l-5 8m-2-1l-1 4 4-2zM446 127l-3 9m-2 0l1 4 3-3zM455 128l-2 7m-2 0l1 4 3-3zM466 128l-4 7m-1-1l0 4 3-2zM474 129l-2 5m-1 0l0 3 3-2zM483 130l-1 4m-1-1l1 3 2-2zM562 132l-3 1m-1-1l-1 3 3 0zM573 133l-5 0m0-1l-2 1 2 2zM581 131l-3 3m-1-1l-1 2 3 0zM590 132l-1 1m-1-1l-1 2 2 0zM600 132l-2 1m0-1l-2 2 3 0zM11 122l0 1m-1 0l1 3 1-3zM23 122l-2 2m-1-1l-1 2 2 0zM32 122l-2 1m0 0l-1 2 2-1zM42 122l-2 1m-1 0l-1 2 3-1zM52 125l-2-1m0-1l-2-1 1 3zM60 125l0-1m0-1l-2-1 1 3zM69 122l0 1m-1 0l0 2 2-2zM82 124l-4-1m0-1l-3 1 2 2zM89 122l-1 1m-1 0l0 2 2-1zM99 125l-1-1m1-1l-3-1 1 2zM108 125l-1-1m2 0l-2-2-1 2zM119 123l-2 0m0-1l-2 2 3 1zM129 123l-2 1m-1-2l-2 2 3 1zM138 124l-2 0m1-2l-3 1 2 2zM148 122l-2 2m-1-1l-1 2 2 0zM158 123l-3 1m0-2l-2 2 3 1zM167 124l-2 0m1-1l-3 0 2 2zM177 126l-2-3m1-1l-3-1 1 3zM186 125l-2-1m1-2l-3 0 2 3zM195 125l-1-1m1-1l-2-1 0 2zM205 126l-2-3m2 0l-2-2-1 3zM215 125l-2-1m1-1l-3-1 1 3zM225 124l-2 0m0-2l-2 1 1 2zM234 127l-2-4m1-1l-2-1 0 3zM243 128l-1-6m1 0l-2-3-1 3zM255 128l-4-6m1-1l-3-2 0 4zM262 129l-1-7m2-1l-2-3-2 4zM273 129l-3-7m2-1l-3-2-1 3zM282 130l-2-10m2 0l-3-3-1 3zM292 130l-3-9m2-1l-3-2-1 4zM302 129l-3-8m2 0l-3-3-1 4zM310 130l-1-9m2 0l-2-4-2 4zM322 130l-5-10m2-1l-3-2 0 4zM332 129l-5-8m2-1l-4-2 1 4zM341 126l-3-3m1-1l-3-1 1 3zM350 123l-2 1m0-2l-2 2 2 1zM360 123l-2 1m-1-2l-2 2 3 1zM370 122l-3 2m-1-1l-2 2 3 0zM379 121l-3 3m-1-1l0 4 2-2zM387 119l-1 6m-2 0l1 3 3-3zM398 118l-3 8m-2-1l1 4 3-3zM407 117l-2 9m-2 0l1 4 3-3zM417 116l-3 12m-2-1l2 4 2-3zM426 117l-2 9m-2 0l1 4 3-3zM438 119l-5 6m-1-1l-1 4 4-2zM446 117l-3 9m-2 0l1 4 3-3zM455 119l-2 6m-1 0l0 4 3-3zM463 119l0 6m-1 0l1 3 2-3zM474 120l-2 5m-1-1l0 3 3-2zM494 121l-2 3m-1-1l-1 3 3-1zM591 123l-3 1m0-2l-2 2 2 1zM9 115l2-1m1 1l1-2-2 0zM20 112l1 1m-1 1l1 2 1-3zM32 116l-2-2m1-1l-2-1 0 2zM40 112l0 1m-1 0l1 3 1-2zM51 113l-1 1m-1-1l-1 2 3-1zM60 116l-1-2m1 0l-1-2-1 3zM67 114l1 0m0 1l3-1-2-1zM78 115l0-1m1 1l0-3-2 2zM89 115l-1-1m1-1l-2 0 1 2zM99 113l-1 1m-1-1l-1 2 3-1zM108 115l-1-1m2 0l-2-2-1 3zM115 115l2-1m0 1l2-2-3 0zM127 115l0-1m1 0l-2-2 0 3zM137 115l-1-1m1 0l-1-2-1 3zM144 113l2 1m-1 1l2 0-1-2zM156 116l-1-2m2 0l-2-2-1 2zM164 112l1 2m-1 0l2 1 0-2zM176 115l-1-1m1 0l-2-2 0 3zM186 115l-1-1m0-1l-2 0 1 2zM195 113l-1 1m0-1l-2 2 3 0zM201 115l3-1m0 1l2-2-3 0zM212 117l1-3m2 0l-1-3-2 2zM223 118l0-5m1 0l-2-3-1 3zM233 117l-1-4m2 0l-2-3-1 3zM242 118l0-5m2 0l-2-3-1 3zM251 117l1-3m1 0l-1-3-2 2zM260 119l2-7m1 1l0-4-3 3zM271 119l0-7m2 0l-2-3-2 3zM280 120l1-9m2 0l-2-4-2 4zM290 122l0-13m2 0l-1-3-2 3zM299 119l1-7m2 0l-2-3-2 3zM310 120l-1-8m2-1l-2-3-2 4zM319 120l0-9m2 0l-2-3-2 3zM332 118l-5-6m2-1l-4-1 1 3zM337 117l2-4m1 1l0-3-3 2zM349 117l-1-4m1 0l-2-3-1 3zM359 115l-1-1m1-1l-3 0 1 2zM366 112l1 1m-1 1l2 1 0-2zM376 110l1 5m-2 0l2 3 1-3zM386 108l0 8m-1 0l1 4 2-4zM397 108l-1 8m-2 0l1 4 2-3zM406 108l-1 9m-2-1l2 4 2-3zM416 107l-1 10m-2 0l1 4 3-3zM425 107l0 10m-2 0l2 3 2-3zM435 108l-1 8m-2 0l2 4 2-3zM445 109l-1 7m-2-1l1 4 2-3zM453 108l1 8m-2 0l2 4 2-4zM464 110l-1 5m-1 0l1 3 2-3zM473 110l0 5m-2 0l2 3 1-3zM9 106l3-2m0 1l2-2-3 0zM19 105l2-1m0 1l2-2-3 0zM30 106l0-1m1 0l0-2-2 1zM37 104l3 0m0 1l3-1-3-1zM52 106l-2-2m0-1l-2 0 1 2zM57 107l3-3m1 1l1-4-3 2zM67 103l1 1m0 1l2 0-1-2zM77 105l1-1m1 1l1-2-2 0zM89 103l-1 1m0-1l-1 2 2 0zM97 106l1-2m1 1l0-2-2 1zM105 104l2 0m0 1l3-1-2-1zM115 105l2-1m0 1l1-2-2 0zM126 106l0-1m1 0l0-2-2 1zM135 105l1-1m0 1l2-1-2-1zM143 104l3 0m0 2l3-2-3-1zM154 106l1-1m1 0l0-2-2 1zM163 105l2-1m0 1l2-1-2-1zM173 105l1-1m1 1l1-1-2-1zM182 105l2-1m1 1l1-2-2 0zM192 106l2-2m1 1l1-2-3 0zM202 106l1-2m1 1l1-2-2 0zM213 107l0-3m2 0l-1-3-2 3zM221 107l2-3m1 0l0-3-2 2zM233 107l-1-3m2 0l-2-3-1 3zM241 109l1-6m2 0l-1-4-2 3zM251 110l1-8m2 0l-2-3-2 3zM260 110l2-8m2 0l-1-4-3 3zM269 109l2-6m2 0l0-3-3 2zM279 111l2-10m2 1l-1-4-3 3zM289 111l2-10m1 0l-1-4-2 4zM298 111l2-10m2 0l-1-3-2 3zM308 111l2-10m2 0l-1-4-3 3zM319 111l0-10m2 0l-2-4-2 4zM327 107l2-3m1 0l1-3-3 2zM339 108l-1-5m2 0l-2-3-1 4zM345 105l3-1m1 1l1-2-2 0zM356 103l1 1m0 1l2 0-1-2zM365 102l3 3m-1 1l3 1-1-3zM377 101l0 4m-2 0l1 2 2-2zM385 100l2 5m-2 1l3 2 0-3zM395 99l1 7m-1 1l2 2 1-3zM404 98l2 9m-2 1l3 3 1-4zM413 98l3 9m-2 1l3 3 1-4zM425 98l0 9m-2 0l2 3 2-3zM432 98l4 9m-2 1l3 2 0-4zM444 98l0 9m-2 0l2 3 2-3zM451 99l4 7m-2 1l3 2 0-4zM7 94l5 1m0 1l3-1-2-2zM17 94l4 1m0 1l3-1-2-2zM26 93l6 2m-1 2l4-1-3-3zM37 93l4 2m-1 1l3 0-2-2zM46 94l4 1m0 1l3-1-3-2zM55 94l6 1m-1 1l4-1-3-2zM65 95l5-1m0 2l3-2-3-1zM75 93l4 2m0 1l3 0-3-3zM83 93l7 2m-1 2l4-1-3-3zM94 94l4 1m0 1l3-1-2-2zM104 94l4 1m0 1l3-1-2-2zM113 95l5-1m0 2l3-2-3-1zM123 92l5 3m-1 1l3 1-2-3zM133 93l4 2m-1 1l3 0-2-3zM143 92l4 3m-1 1l3 1-1-3zM152 93l4 2m0 1l3 0-2-2zM161 95l5-1m1 2l2-2-3-1zM172 93l3 2m-1 1l3 0-1-2zM180 94l6 1m0 1l3-1-3-2zM190 94l5 1m0 1l3-1-3-2zM200 93l5 2m-1 1l4 0-3-3zM210 97l4-3m1 1l1-3-3 1zM218 95l7-1m0 2l3-2-4-1zM230 97l3-3m1 1l1-3-3 1zM238 95l5-1m1 2l2-2-3-1zM248 96l5-2m0 2l3-3-4 0zM259 96l3-2m0 1l2-2-3 0zM266 97l7-3m1 1l2-3-4 0zM276 98l6-5m1 2l2-4-4 1zM289 101l2-9m2 0l-1-4-3 4zM298 101l3-10m2 1l-1-4-3 3zM306 101l5-10m2 1l-1-4-3 3zM316 99l4-6m2 1l0-4-4 2zM325 99l5-6m1 1l1-4-3 2zM335 97l4-3m1 1l1-3-3 1zM345 95l3-1m1 2l2-2-3-1zM354 94l4 1m0 1l2-1-2-2zM363 93l6 2m-1 2l4-1-3-2zM374 91l4 5m-2 1l4 1-1-3zM383 90l5 6m-2 1l4 2-1-4zM393 89l4 8m-1 1l3 2 0-4zM403 88l4 9m-2 1l3 3 0-4zM414 89l2 8m-2 0l3 3 1-4zM424 89l1 8m-2 0l3 3 1-3zM433 89l2 8m-2 0l2 3 2-4zM444 91l0 4m-1 0l1 3 2-3zM453 90l1 6m-2 0l3 3 1-3zM5 84l9 1m0 2l3-1-3-3zM15 82l8 4m0 2l4-1-3-3zM25 82l7 4m-1 2l4 0-2-4zM34 83l9 2m-1 2l4-1-3-2zM44 84l8 1m0 2l4-1-3-2zM53 83l9 3m-1 1l4 0-3-3zM63 83l8 3m-1 1l4 0-2-3zM74 84l6 1m0 2l3-1-2-2zM82 82l9 4m-1 2l4 0-2-4zM91 83l10 3m-1 1l4 0-3-3zM101 83l9 3m-1 2l4-1-2-3zM111 82l8 4m0 2l4-1-3-3zM120 83l9 3m0 2l4-1-3-3zM130 83l9 2m-1 2l4-1-3-2zM139 83l10 3m0 2l4-1-3-3zM148 83l11 3m0 1l4-1-3-2zM159 82l8 4m0 2l4-1-3-3zM170 82l7 4m-1 1l4 1-3-4zM178 84l9 1m0 2l4-1-3-3zM188 83l9 3m-1 2l4-1-3-3zM199 84l6 1m0 2l3-1-3-2zM207 83l9 3m0 2l4-1-3-3zM217 83l8 2m0 2l4-1-3-2zM226 84l10 1m-1 2l4-1-3-2zM237 84l7 1m0 2l3-1-3-3zM245 84l10 1m-1 2l4-1-3-2zM255 83l9 3m0 1l4 0-3-3zM264 83l10 3m-1 1l4 0-3-3zM274 83l10 3m-1 1l4-1-3-2zM288 92l3-10m2 0l-1-4-3 3zM296 90l6-7m1 1l1-4-4 1zM305 90l6-7m1 1l1-4-3 2zM315 89l6-6m1 1l1-3-4 1zM323 88l8-5m1 2l2-4-4 1zM335 88l4-4m1 1l1-4-3 2zM344 84l5 1m0 1l3-1-3-2zM353 85l6 0m0 1l3-2-3-1zM363 84l5 1m0 2l3-2-2-2zM372 82l7 4m-1 1l4 0-3-3zM383 81l4 5m-1 1l4 2-1-4zM392 80l5 7m-1 1l4 1-1-4zM402 79l5 9m-2 0l4 3 0-4zM411 79l6 9m-1 1l3 2 0-5zM421 80l6 7m-2 1l4 1-1-3zM431 81l5 5m-2 1l4 1-1-3zM441 82l4 4m-1 1l3 1-1-3zM43 74l10 2m0 2l3-1-3-3zM52 73l11 3m0 2l4-1-3-3zM62 73l11 3m-1 2l4-1-3-3zM73 74l8 2m-1 2l4-1-3-3zM81 72l11 5m-1 1l4 0-3-3zM91 73l10 3m-1 2l4-1-2-3zM100 72l11 5m-1 2l4-1-2-3zM111 72l9 5m-1 1l4 1-2-4zM120 73l10 3m-1 2l4-1-3-3zM130 73l9 3m0 2l4-1-3-3zM139 73l10 3m-1 2l4-1-3-3zM149 75l9 0m0 2l4-1-4-3zM159 73l9 3m-1 2l4 0-2-3zM168 73l10 3m-1 2l4-1-3-3zM179 73l8 3m-1 2l4 0-3-4zM188 73l9 3m-1 2l4 0-2-3zM196 73l11 3m0 2l4-1-3-3zM206 71l11 6m-1 2l4 0-2-3zM217 72l8 4m-1 2l4 0-2-3zM226 73l9 3m-1 2l4 0-2-3zM236 73l9 3m0 2l4-1-3-3zM245 72l10 5m-1 2l4 0-2-4zM255 72l10 5m-1 2l4-1-2-3zM265 73l9 3m-1 2l4 0-3-4zM274 73l10 3m-1 2l4-1-3-3zM286 79l6-6m1 2l1-4-3 1zM294 80l9-7m1 1l1-3-4 0zM305 80l6-7m2 1l1-4-4 2zM315 80l6-7m1 1l1-4-3 2zM323 78l8-4m1 2l2-4-4 0zM334 77l6-2m0 1l3-3-4 0zM342 77l8-3m1 2l3-2-4-1zM352 74l8 1m0 2l3-1-3-2zM362 74l7 2m-1 1l4-1-3-2zM371 72l8 4m-1 2l4 0-2-3zM381 72l7 5m-1 1l4 1-1-4zM391 71l7 6m-1 2l4 1-2-4zM401 70l7 8m-1 1l3 1-1-4zM411 70l6 8m-1 1l3 1 0-4zM420 72l7 5m-1 1l4 1-2-4zM432 71l3 6m-1 0l3 3 0-4zM441 71l4 6m-1 1l3 1 0-3zM63 63l9 3m-1 2l4-1-3-2zM73 63l8 4m-1 1l4 0-3-3zM82 64l9 2m-1 2l4-1-3-3zM91 63l10 4m-1 1l4 0-2-3zM101 63l9 4m-1 1l4 0-2-3zM110 65l10 1m0 2l4-2-4-2zM119 63l12 4m-1 2l4-1-2-3zM130 63l9 4m-1 1l4 0-2-3zM140 63l8 4m-1 1l4 0-2-3zM149 63l10 4m-1 1l4 0-3-3zM159 64l9 2m0 2l4-1-3-3zM169 62l9 5m-1 2l4 0-3-3zM178 63l9 4m0 1l4 0-3-3zM188 63l8 3m0 2l4 0-3-3zM197 64l9 2m0 2l4-1-3-3zM208 63l7 4m-1 1l4 0-2-3zM216 64l10 2m0 2l4-1-3-3zM226 64l9 2m0 2l4-1-3-3zM235 63l11 4m-1 1l4 0-3-3zM245 62l10 5m-1 2l5 0-3-3zM255 62l9 5m-1 2l4 0-2-3zM265 63l9 3m-1 2l4-1-3-2zM274 63l10 4m-1 2l4-1-2-3zM286 70l6-7m2 2l1-4-4 1zM295 70l7-6m1 1l2-4-4 1zM304 68l8-4m1 2l2-3-4 0zM315 69l6-5m1 2l1-4-3 1zM323 67l8-2m0 2l4-3-4-1zM332 67l9-2m1 1l3-2-4-1zM341 67l10-2m1 1l3-2-4-1zM351 65l9 0m0 2l4-1-4-2zM361 63l9 3m-1 2l4 0-3-3zM371 63l8 3m0 2l4 0-3-3zM380 63l9 4m0 2l4-1-3-3zM391 62l7 5m-1 2l4 0-2-3zM402 62l5 5m-1 1l3 1-1-3zM410 62l7 5m-1 1l4 1-2-4zM420 63l6 3m0 2l3 0-2-3zM430 62l6 5m-1 1l4 1-2-4zM440 62l6 5m-2 1l4 1-1-3zM72 53l9 4m0 2l4 0-3-4zM82 54l9 3m0 2l4-1-3-3zM91 53l10 4m0 2l4-1-3-3zM101 54l9 3m0 1l4 0-3-3zM110 54l10 2m0 2l3-1-3-2zM120 54l9 3m0 2l4-1-3-3zM129 53l11 4m0 2l4 0-3-3zM139 53l10 4m-1 2l4 0-2-3zM149 54l9 3m0 1l4 0-3-3zM159 54l9 3m0 1l4-1-3-2zM168 54l9 2m0 2l4-1-3-2zM178 54l9 3m0 1l4-1-3-2zM187 53l10 4m0 2l4 0-3-3zM198 54l8 2m0 2l4-1-3-2zM206 53l11 4m-1 2l4 0-3-3zM217 53l9 4m-1 2l4-1-3-3zM225 54l11 3m0 1l4-1-4-2zM236 53l9 4m-1 2l4 0-2-3zM245 54l10 3m-1 2l4-1-3-3zM255 53l9 4m0 2l4 0-3-4zM265 54l8 2m0 2l4-1-3-2zM274 53l9 4m0 2l4 0-3-3zM286 60l6-6m1 1l2-3-4 1zM295 59l7-5m1 2l2-3-4 0zM303 59l9-5m1 2l2-3-4 0zM313 59l9-5m0 2l3-3-4 0zM322 58l10-3m1 1l3-2-4-1zM332 58l9-3m0 2l3-4-4 0zM341 57l10-2m0 2l3-2-4-1zM352 54l8 2m-1 2l4-1-3-2zM361 56l8 0m0 2l4-2-4-2zM372 54l6 2m0 2l4-1-3-2zM380 54l10 3m-1 1l4 0-3-3zM391 54l7 3m-1 1l4 0-3-3zM400 53l8 4m-1 2l4-1-2-3zM409 53l9 4m-1 2l4 0-2-3zM420 51l7 7m-1 1l4 1-2-3zM430 52l6 5m-1 1l3 1-1-3zM439 53l7 4m-1 1l4 0-2-3zM81 44l11 3m-1 2l4 0-3-3zM92 44l8 3m-1 2l4-1-2-3zM101 44l10 3m-1 2l4-1-3-3zM111 42l9 6m-1 1l4 1-2-4zM120 43l10 4m-1 2l4 0-2-3zM129 44l11 3m0 2l4-1-3-3zM140 45l8 2m0 1l4-1-3-2zM149 44l10 3m-1 2l4-1-2-3zM158 44l10 3m0 2l4-1-3-3zM168 44l10 3m0 2l4-1-3-3zM178 44l9 3m-1 2l4-1-2-3zM188 43l9 5m-1 1l4 0-2-3zM197 44l10 3m-1 2l4-1-3-3zM207 44l9 3m-1 2l4-1-2-3zM216 43l10 5m0 2l4 0-3-4zM226 45l9 2m0 2l4-1-3-3zM236 43l8 4m0 2l4 0-3-3zM248 43l5 4m-1 2l4 0-2-3zM255 45l9 2m-1 2l4-1-3-3zM265 43l9 4m-1 2l4 0-3-3zM274 44l10 3m-1 2l4-1-3-3zM286 48l5-3m1 2l2-3-3 0zM295 48l6-3m1 2l2-3-3 0zM304 48l8-3m0 2l3-3-4-1zM312 47l10-1m1 1l3-2-4-1zM323 49l8-4m1 2l2-4-4 0zM332 48l9-3m0 2l3-3-4 0zM342 45l8 2m0 1l4-1-4-2zM352 45l8 1m0 2l3-1-3-3zM361 46l9 0m0 2l4-1-4-3zM371 45l8 1m0 2l4-1-4-3zM380 44l9 3m0 2l4-1-3-3zM389 44l11 3m-1 2l4-1-3-3zM401 44l6 3m0 2l3-1-2-3zM412 44l4 3m-1 1l4 0-2-3zM421 44l5 3m0 1l3 0-2-3zM430 43l6 4m-1 2l3 0-1-3zM81 35l10 2m0 2l4-1-3-3zM91 35l10 2m-1 2l4-1-3-3zM102 36l7 1m0 1l3-1-3-2zM113 33l6 5m-1 1l3 1-1-4zM121 35l8 2m0 2l4-1-3-3zM132 35l6 2m-1 1l3 0-2-2zM150 35l7 2m0 2l3-1-2-3zM159 35l8 2m0 2l4-1-3-3zM170 35l6 2m0 2l3-1-2-3zM179 35l7 2m0 2l4-1-3-3zM189 35l6 2m0 1l3-1-2-2zM199 35l6 2m0 2l3-1-2-3zM208 36l7 1m0 1l4-1-4-2zM218 36l7 1m-1 1l4-1-3-2zM226 36l9 0m0 2l4-2-4-1zM236 36l8 1m0 2l4-2-3-2zM246 36l8 1m-1 1l4-1-3-2zM255 36l9 1m0 1l4-1-4-2zM264 36l10 1m0 2l3-2-3-2zM277 36l5 1m-1 1l4-1-3-2zM284 38l9-2m0 2l3-3-4-1zM295 38l7-2m0 1l3-2-4-1zM304 38l8-2m0 1l3-2-4-1zM312 36l10 0m0 2l4-1-4-2zM323 39l8-4m1 2l2-4-4 1zM333 36l7 0m0 2l3-1-3-2zM341 38l10-2m0 2l3-3-4-1zM351 37l9-1m0 2l4-2-4-2zM361 36l8 0m0 2l4-1-4-2zM370 35l9 2m0 2l4-1-3-3zM380 36l9 1m0 2l4-2-3-2zM391 33l7 5m-1 1l4 1-2-4zM403 34l3 3m-1 1l3 1-1-3zM411 32l6 6m-2 1l4 2-1-4zM421 34l5 3m-1 2l4 0-2-3zM614 36l4 0m0 2l3-1-3-2zM65 26l5 1m0 1l3 0-3-3zM75 27l4 0m0 1l3-1-3-2zM84 26l5 1m0 2l3-1-2-2zM94 26l4 1m0 1l3 0-2-2zM105 23l3 5m-1 1l3 1 0-3zM114 25l4 2m-1 1l3 0-2-2zM124 27l3 0m0 1l3-2-3-1zM133 27l3 0m0 1l3-1-3-2zM162 26l4 1m-1 1l3 0-2-2zM171 26l4 1m0 1l3-1-2-2zM181 25l4 2m-1 1l4 0-2-2zM191 26l4 1m-1 1l3 0-2-2zM199 27l6 0m0 1l3-2-3-1zM210 25l4 2m0 1l3 0-2-2zM220 28l3-1m1 1l2-3-3 0zM229 26l4 1m0 1l2-1-2-2zM238 26l5 1m0 2l3-1-2-2zM247 26l6 1m0 2l4-2-3-2zM257 28l5-2m1 2l2-2-3-1zM266 26l6 1m0 1l3-1-3-2zM276 27l6 0m0 1l3-2-4-1zM286 26l5 1m0 1l3-1-3-2zM297 27l3 0m0 1l3-1-3-2zM307 28l3-1m0 1l2-2-3-1zM313 27l8 0m0 1l4-1-4-2zM323 29l8-3m0 2l3-3-4-1zM334 27l5 0m1 1l2-2-3-1zM342 26l8 1m0 2l3-1-3-3zM352 26l8 1m-1 2l4-2-3-2zM363 26l6 1m-1 1l4-1-3-2zM372 25l6 2m0 2l3-1-2-2zM383 26l4 1m0 1l3-1-2-2zM391 25l7 2m-1 2l4 0-2-3zM401 23l7 5m-1 2l4 0-2-4zM411 26l5 1m0 1l3 0-2-2zM606 26l1 1m0 1l2 0-1-2zM614 24l4 4m-1 1l3 1-1-3zM75 17l4 0m0 1l3-1-3-1zM89 14l-1 3m-1 0l0 3 2-2zM96 17l1 0m1 1l2-1-3-1zM107 15l0 2m-1 0l2 2 1-2zM114 18l3-1m0 1l3-1-3-1zM123 15l4 2m0 2l3 0-2-3zM134 16l2 1m0 1l2 0-1-2zM163 17l2 0m0 1l2-1-2-1zM176 18l-1-1m1-1l-3 0 1 2zM185 14l-1 3m-1 0l0 3 2-2zM192 16l2 1m-1 1l3 0-2-2zM201 15l3 2m-1 2l4 0-2-3zM210 17l4 0m0 1l2-1-2-1zM220 15l3 3m-1 1l3 0-1-2zM234 17l-1 0m0-1l-2 1 2 1zM240 15l2 2m-1 1l3 1-1-3zM251 18l0-1m1 1l1-2-3 1zM259 18l2-1m1 1l1-2-2 0zM267 17l5 0m0 1l2-1-2-1zM278 19l3-2m1 1l1-3-3 1zM287 19l4-3m1 2l1-3-3 0zM297 18l3-1m1 1l2-2-3 0zM306 16l4 1m0 2l3-1-2-2zM325 17l4 0m0 1l3-1-3-1zM335 18l4-1m1 1l2-2-3-1zM344 16l5 1m0 2l3-1-2-2zM352 16l7 1m0 2l3-1-2-2zM364 16l4 1m0 2l3-1-3-2zM372 16l7 1m-1 2l4-1-3-2zM384 15l3 2m-1 2l3 0-1-3zM394 16l2 1m-1 1l3 0-2-2zM580 17l-1 0m0-1l-2 1 2 1zM587 15l1 2m-1 1l3 1-1-3zM596 18l2-1m0 1l2-2-3 0zM607 15l0 2m-1 0l2 2 1-3zM617 19l0-1m1 0l-1-3-1 2zM135 6l1 1m-1 1l3 1-1-3zM146 9l0-1m1 0l-1-2-1 2zM156 6l0 1m-1 0l0 2 2-2zM183 6l1 1m-1 1l2 1 0-3zM201 5l3 3m-1 1l3 0-1-2zM211 8l2-1m0 2l2-2-2-1zM219 8l4-1m1 2l2-2-3-1zM231 6l1 1m0 1l2 0-1-2zM240 7l2 0m0 2l2-1-2-2zM253 8l-1 0m1-1l-3-1 1 3zM261 9l0-1m1 0l-1-2-1 2zM268 9l3-2m1 1l2-2-3 0zM279 7l1 0m0 1l2-1-2-1zM287 6l4 2m-1 1l3 0-2-3zM354 8l4-1m0 2l3-2-3-1zM364 8l3-1m1 2l2-2-3-1zM568 5l1 2m-1 1l2 1 0-2zM577 7l2 0m-1 1l3 0-2-2zM587 6l1 1m-1 1l3 1-1-3zM597 5l1 2m-1 1l2 1 0-2zM607 5l1 2m-2 0l2 2 1-2zM617 5l0 2m-1 1l2 2 0-3zM146-4l0 1m-1 0l0 3 2-2zM154-3l1 0m-1 1l3 1-1-3zM166-4l-1 1m-1 0l0 2 2-1zM223-4l0 1m-1 0l1 2 1-2zM231-1l1-1m1 1l1-3-3 1zM240-2l2 0m0 1l2-1-2-2zM251-1l0-1m1 1l1-3-2 1zM260-1l1-1m1 1l1-3-3 1zM269-3l2 1m0 1l2-1-2-2zM279-2l1 0m1 1l1-2-2 0zM567-3l2 1m0 1l3 0-2-2zM579-1l0-1m1 0l-2-2 0 2zM587-1l1-1m1 1l1-3-3 1zM597-5l1 3m-1 0l2 2 0-3zM606-4l2 2m-1 1l2 0-1-2zM615-5l3 3m-1 1l2 1 0-3z" fill="#23231a" stroke="#23231a" stroke-width="0.95" stroke-linejoin="round" opacity="0.78"/>
<path d="M214.6,129.7 C214.6,126.4 215.7,126 230,120.9 C244.4,115.7 279.3,106.2 300.7,98.8 C322,91.4 343.4,82.2 358.1,76.7 C372.8,71.2 380.9,66.8 389,65.7 C397.1,64.6 403,64.9 406.7,70.1 C410.4,75.2 412.6,87.8 411.1,96.6 C409.6,105.4 404.5,115.7 397.9,123.1 C391.2,130.5 383.1,136.7 371.4,140.8 C359.6,144.8 344.1,147 327.2,147.4 C310.3,147.8 286,144.1 269.8,143 C253.6,141.9 239.2,143 230,140.8 C220.8,138.6 214.6,133 214.6,129.7 Z" fill="none" stroke="#f0201c" stroke-width="2.4" stroke-linejoin="round"/>
<path d="M51.1,154 C53.3,150 50,151.1 62.2,147.4 C74.3,143.7 106.3,136.7 124,131.9 C141.7,127.1 157.9,122.2 168.2,118.7 C178.5,115.1 180,110.4 185.8,110.7 C191.7,111.1 201.3,117.3 203.5,120.9 C205.7,124.4 205,126.8 199.1,131.9 C193.2,137.1 180.7,145.9 168.2,151.8 C155.7,157.7 138.7,162.1 124,167.3 C109.3,172.4 90.9,179 79.8,182.7 C68.8,186.4 62.9,191.2 57.8,189.3 C52.6,187.5 50,177.6 48.9,171.7 C47.8,165.8 48.9,158.1 51.1,154 Z" fill="none" stroke="#f0201c" stroke-width="2.4" stroke-linejoin="round"/>
<path d="M150.5,85.5 C154.6,83.3 169.3,80.4 177,81.1 C184.7,81.9 195.4,86.3 196.9,90 C198.4,93.6 190.6,100.6 185.8,103.2 C181.1,105.8 173.7,106.9 168.2,105.4 C162.7,104 155.7,97.7 152.7,94.4 C149.8,91.1 146.5,87.8 150.5,85.5 Z" fill="none" stroke="#f0201c" stroke-width="2.4" stroke-linejoin="round"/>
<path d="M79.8,85.5 C83.9,82.6 100.5,81.5 106.3,83.3 C112.2,85.2 115.9,93.3 115.2,96.6 C114.4,99.9 107.4,102.5 101.9,103.2 C96.4,104 85.7,104 82,101 C78.4,98.1 75.8,88.5 79.8,85.5 Z" fill="none" stroke="#f0201c" stroke-width="2.4" stroke-linejoin="round"/>
<path d="M37.9,78.9 C42.3,74.1 55.9,79.3 62.2,81.1 C68.4,83 76.2,85.9 75.4,90 C74.7,94 64.4,102.1 57.8,105.4 C51.1,108.7 39,114.3 35.7,109.8 C32.4,105.4 33.5,83.7 37.9,78.9 Z" fill="none" stroke="#f0201c" stroke-width="2.4" stroke-linejoin="round"/>
<path d="M177,4.7 C182.9,4.4 202,3.5 212.3,3 C222.7,2.4 234.4,1.8 238.8,1.6" fill="none" stroke="#f0201c" stroke-width="2.4" stroke-linejoin="round"/>
<path d="M203.5,235.7 C207.2,232.8 217.5,227.1 230,224.7 C242.5,222.3 257.3,221.7 278.6,221.1 C300,220.6 336.8,219.8 358.1,221.1 C379.5,222.5 396.4,225.9 406.7,229.1 C417,232.3 419.2,236.6 419.9,240.1 C420.7,243.7 422.2,248.1 411.1,250.3 C400.1,252.5 372.1,253.1 353.7,253.4 C335.3,253.7 319.8,252.8 300.7,252.1 C281.5,251.3 254.3,250.6 238.8,249 C223.4,247.4 213.8,244.6 207.9,242.3 C202,240.1 199.8,238.7 203.5,235.7 Z" fill="none" stroke="#2a3cc4" stroke-width="2.4" stroke-linejoin="round"/>
<path d="M601,277.7 C601.4,274 600.3,260.4 603.2,255.6 C606.2,250.8 614.7,250.1 618.7,249 C622.8,247.9 626.1,249 627.5,249" fill="none" stroke="#2a3cc4" stroke-width="2.4" stroke-linejoin="round"/>
<path d="M287.1,-2.3 L289,2.7 L292.8,5.4 L300.9,7.7 L302.5,12.4 L309.4,12.8 L317.1,12.4 L320.9,14.3 L315.2,19 L307.5,23.2 L299.8,25.9 L291.7,28.3 L297.8,27.1 L305.5,24.4 L315.2,22.5 L322.8,19.4 L330.5,15.5 L334.4,12 L338.2,8.9 L342.1,4.6 L340.9,10.1 L345.9,9.7 L353.6,7 L359.4,4.3 L367.1,6.2 L374.8,7.4 L384.4,8.1 L392.1,11.2 L399.8,14.3 L403.7,18.2 L409.4,22.9 L415.2,26.7 L421,29.8 L424,32.5 L426.7,36.8 L432.5,41.4 L435.2,44.9 L442.1,50 L447.1,52.7 L446,57.7 L447.9,63.5 L447.1,72.4 L446.8,79 L449.1,86.8 L453.7,93.3 L456.4,98.4 L461,105.7 L469.1,108.1 L474.1,113.1 L476.8,118.9 L479.5,122.8 L485.6,130.5 L486.4,134.4 L492.9,143.7 L495.2,145.6 L501.8,151 L503.7,149.1 L500.6,145.6 L496,138.3 L491,129 L485.2,122.4 L483.3,117.7 L490.2,119.7 L493.3,124.3 L498.7,131.7 L504.5,138.3 L509.5,142.9 L516,149.5 L519.1,157.2 L519.9,160.7 L521.8,165.4 L526.4,168.9 L534.5,172 L542.2,175.4 L549.9,178.2 L557.6,178.9 L562.2,177.4 L569.1,182.4 L574.9,185.9 L581.4,187.8 L588,189.4 L591.4,192.5 L595.3,197.1 L595.7,201.4 L599.1,202.9 L603.4,207.2 L608.4,208.4 L613.4,211.5 L616.8,211.1 L616.4,207.6 L619.9,205.3 L623.4,208.4 L625.7,210.7 L627.6,224.2 L626.8,227.3 L623,230.8 L621.5,234.3 L617.6,236.6 L616.8,240.9 L614.9,243.2 L616.1,248.3 L618,249.8 L616.1,253.3 L612.6,256.4 L612.6,262.2 L615.3,265.3 L618.8,269.9 L622.2,275.8 L624.1,280.4 L655.7,280.4 L655.7,-4.3 L287.1,-4.3 Z M562.2,-4.3 L561,1.5 L562.2,9.3 L567.2,12.8 L569.9,18.2 L576.8,18.6 L584.5,21.3 L592.2,24.4 L598,25.9 L605.7,26.3 L608.8,32.5 L611.4,36.4 L615.3,40.7 L619.9,39.1 L621.8,32.1 L620.3,29 L626.5,24 L629.5,20.9 L630.7,-4.3 Z M630.7,137.1 L616.8,135.6 L615.7,141.8 L612.6,142.1 L610.3,137.9 L606.8,132.8 L606.4,128.2 L602.6,123.9 L596.8,124.7 L592.2,122 L585.7,122 L581,122.8 L581.8,127 L577.6,127 L571,125.1 L563.3,125.1 L558.3,127.8 L552.6,130.9 L550.3,134.4 L550.3,140.6 L549.1,146 L548.7,153.4 L551,157.2 L554.5,163.8 L557.6,167.3 L561.4,169.3 L569.1,167.7 L573.7,167.7 L576.4,163.1 L577.6,158 L584.5,156.5 L590.3,156.5 L588.4,161.5 L587.2,168.5 L585.7,173.9 L584.5,178.2 L588.4,178.5 L596.1,178.2 L601.8,178.5 L604.5,181.6 L603.8,187.5 L603,195.2 L604.5,199.1 L608.4,203.3 L612.2,205.7 L617.2,203.7 L621.1,202.9 L626.8,206.4 L630.7,206.4 Z" fill="#d8d9dc" fill-rule="evenodd" stroke="#000" stroke-width="1.1" stroke-linejoin="round"/>
<path d="M598,154.9 L603.8,153.8 L609.5,150.3 L615.3,150.3 L624.9,153.4 L630.7,156.5 L630.7,160.3 L624.9,159.6 L615.3,155.3 L609.5,153 L601.8,154.9 Z" fill="#d8d9dc" stroke="#000" stroke-width="1"/>
<path d="M-75.4,-4.3 L222.8,-4.3 L219,-1.9 L209.3,0.4 L201.6,4.3 L195.1,7.6 L186.2,6.2 L179.3,8.1 L172.8,7.4 L168.2,10.1 L167,15.1 L163.9,18.2 L165.1,21.7 L162.4,25.6 L155.5,29 L154.3,33.7 L149.3,35.2 L145.8,39.9 L142.8,42.6 L141.2,39.1 L140.1,32.5 L139.3,25.6 L138.5,20.9 L143.1,16.7 L148.5,15.1 L154.3,9.3 L157.8,4.6 L163.2,1.2 L168.2,-2.3 L168.9,-4.3 L140.1,-4.3 L141.2,1.2 L136.2,6.2 L133.5,9.3 L125.8,11.2 L120.8,10.5 L113.9,8.9 L105.4,10.1 L97,10.1 L88.1,10.5 L83.1,12.8 L76.6,17.8 L71.6,20.9 L67.7,26.7 L65.4,28.3 L70,31.4 L76.6,29.8 L80.8,32.9 L83.5,37.6 L81.2,43 L80,50 L79.3,53.1 L74.7,56.9 L71.2,60.4 L66.2,65.8 L60.4,70.5 L52.3,74 L47.3,72.8 L42.7,75.9 L38.1,75.5 L32.3,77.5 L26.6,80.2 L21.9,83.3 L18.5,85.2 L11.2,82.9 L7.3,81.3 L0.8,83.3 L-75.4,83.3 Z" fill="#d8d9dc" stroke="#000" stroke-width="1.1" stroke-linejoin="round"/>
<path d="M-10.4,212.6 L-6.9,214.2 L-1.2,218.8 L-5.4,222.7 L-6.5,232.8 L-2.3,236.3 L-5.4,237.8 L-8.1,241.7 L-11.9,247.5 L-75.4,247.5 L-75.4,212.6 Z" fill="#d8d9dc" stroke="#000" stroke-width="1.1" stroke-linejoin="round"/>
<path d="M43.9,244.8 L47.7,241.3 L55,242.4 L56.6,248.6 L60.8,252.5 L65,248.6 L70,245.5 L78.5,248.6 L84.3,250.2 L92,253.3 L95.8,254.8 L100.8,258.7 L103.5,261.8 L107.7,263.4 L108.9,265.7 L105.1,266.8 L106.6,270.3 L109.3,271.5 L111.6,274.6 L114.3,276.9 L120.1,279.6 L118.9,282.3 L78.5,282.3 L82.3,275 L79.3,271.5 L74.7,271.1 L71.6,272.3 L69.6,268.8 L73.1,266.5 L71.6,261 L67.7,258.7 L62.7,257.2 L58.9,255.6 L53.9,254.8 L50.8,255.6 L48.1,251.4 L52.7,248.6 L47.3,247.1 Z" fill="#d8d9dc" stroke="#000" stroke-width="1.1" stroke-linejoin="round"/>
<path d="M42.7,75.9 L38.9,80.9 L38.9,82.1 L34.2,89.5 L37.7,96.1 L37.7,100.7 L36.6,103.4 L33.1,104.6 L27.3,106.5 L25.8,105 L26.9,101.1 L26.6,96.8 L27.7,94.5 L23.1,93 L20,91.4 L21.5,86.8 L18.5,85.2 L12.7,86 L7.7,88.7 L8.1,84 L10.4,82.5 L6.5,81.3 L0.8,84.8 L-2.3,87.5 L-75.4,87.5" fill="none" stroke="#000" stroke-width="1.1" stroke-linejoin="round"/>
<path d="M-1.5,95.3 L3.5,93.3 L11.2,94.9 L10.8,97.2 L3.5,99.5 L-0.8,103.8 L0.4,107.3 L3.8,111.2 L5.4,114.6 L8.9,117.4 L8.9,120.1 L10,124.3 L8.5,128.2 L6.2,130.9 L3.8,134.8 L0.4,139.8 L-2.3,142.9" fill="none" stroke="#000" stroke-width="1.1" stroke-linejoin="round"/>
<path d="M1.9,150.3 L4.2,144.5 L7.3,141.8 L9.2,142.9 L8.5,146.8 L5.8,153 L4.2,154.5 L2.3,151.4 Z" fill="#ebeae6" stroke="#000" stroke-width="1" stroke-linejoin="round"/>
<path d="M87.3,29.8 L90.8,34.5 L90.8,40.3 L92,46.1 L95.4,50 L90.8,49.2 L88.1,54.6 L92,60 L88.1,60 L85.8,60.4 L85.8,52.7 L87,44.2 L85,39.1 L85,32.9 Z" fill="#ebeae6" stroke="#000" stroke-width="1" stroke-linejoin="round"/>
<path d="M85,63.9 L88.5,67 L93.1,68.9 L98.9,68.2 L100.8,71.7 L95,73.6 L91.2,77.1 L85.4,74.7 L82,75.1 L78.5,79 L78.1,76.3 L80.4,72 L83.9,70.5 Z" fill="#ebeae6" stroke="#000" stroke-width="1" stroke-linejoin="round"/>
<path d="M82,79 L84.3,82.5 L85.8,87.5 L82.3,91.4 L82,96.4 L81.2,101.1 L78.1,103.8 L75,103.4 L73.1,105.3 L68.1,105.7 L66.2,106.9 L62.3,110 L59.6,106.9 L55.4,106.1 L50,107.7 L46.6,108.4 L47.3,112.7 L45,118.1 L42.3,119.3 L40.8,117.7 L39.2,113.1 L38.5,110.4 L43.5,108.1 L49.3,102.6 L55,102.2 L61.2,101.9 L65,97.2 L68.1,94.9 L73.1,93.3 L77,90.2 L78.5,86 L78.1,82.5 Z" fill="#ebeae6" stroke="#000" stroke-width="1" stroke-linejoin="round"/>
<path d="M49.6,111.5 L51.6,113.1 L56.2,110.8 L58.1,108.1 L53.5,106.9 L50.4,108.4 Z" fill="#ebeae6" stroke="#000" stroke-width="1" stroke-linejoin="round"/>
<path d="M3.8,168.1 L10,168.1 L9.6,173.9 L7.3,178.5 L7.7,183.6 L11.5,184.7 L17.3,185.9 L17.3,190.9 L14.2,189.4 L11.9,188.2 L8.1,185.9 L5,186.3 L3.8,183.6 L1.9,182.4 L0.8,177 L3.1,177 L2.7,171.6 Z" fill="#d8d9dc" stroke="#000" stroke-width="1" stroke-linejoin="round"/>
<path d="M18.1,191.3 L23.1,196 L21.2,200.6 L16.9,199.8 L14.2,203.7 L11.2,198.3 L8.9,194 L13.1,195.2 L16.9,196 Z" fill="#d8d9dc" stroke="#000" stroke-width="1" stroke-linejoin="round"/>
<path d="M22.7,201.8 L26.6,208 L26.6,212.6 L23.9,215.3 L21.9,218 L17.7,214.2 L12.7,210.7 L9.2,212.6 L11.5,208.4 L16.2,206.4 L20,204.9 Z" fill="#d8d9dc" stroke="#000" stroke-width="1" stroke-linejoin="round"/>
<path d="M1.5,237.4 L4.6,234.7 L13.1,236.3 L18.9,235.1 L21.5,233.5 L18.5,238.2 L14.2,238.6 L7.3,237.8 L3.5,239 L3.5,244 L8.5,243.2 L14.6,242.8 L10.4,245.9 L6.9,247.1 L11.2,256.8 L7.3,258.3 L5,250.2 L3.1,251 L3.1,261 L-0.4,261.4 L-0.4,253.3 L-3.1,250.2 L-0.8,243.2 Z" fill="#d8d9dc" stroke="#000" stroke-width="1" stroke-linejoin="round"/>
<path d="M31.2,231.2 L34.6,233.5 L32.7,236.6 L35,238.6 L32.3,239 L34.2,242.8 L30.8,241.3 L30,235.9 Z" fill="#d8d9dc" stroke="#000" stroke-width="1" stroke-linejoin="round"/>
<path d="M32.3,251.4 L41.9,251.4 L43.1,254.5 L34.2,253.7 Z" fill="#d8d9dc" stroke="#000" stroke-width="1" stroke-linejoin="round"/>
<path d="M24.6,252.1 L29.2,252.1 L28.9,254.5 L25.4,254.5 Z" fill="#d8d9dc" stroke="#000" stroke-width="1" stroke-linejoin="round"/>
<path d="M16.9,275.8 L22.7,272.7 L29.6,272.3 L22.7,275.8 L18.1,279.2 L15,279.6 Z" fill="#d8d9dc" stroke="#000" stroke-width="1" stroke-linejoin="round"/>
<path d="M0.8,272.7 L11.2,271.1 L13.1,272.7 L5.4,274.2 L0.8,273.8 Z" fill="#d8d9dc" stroke="#000" stroke-width="1" stroke-linejoin="round"/>
<path d="M110.8,261 L115.1,261 L118.9,259.1 L122,258.7 L123.1,256 L125.8,256.4 L124.7,261 L118.5,263.8 L113.1,263.8 Z" fill="#d8d9dc" stroke="#000" stroke-width="1" stroke-linejoin="round"/>
<path d="M120.1,250.2 L125.4,252.1 L128.5,257.2 L127,258.3 L122.8,252.5 Z" fill="#d8d9dc" stroke="#000" stroke-width="1" stroke-linejoin="round"/>
<path d="M134.7,260.3 L139.7,264.1 L137.4,266.5 L134.7,262.6 Z" fill="#d8d9dc" stroke="#000" stroke-width="1" stroke-linejoin="round"/>
<path d="M142,265.7 L145.8,268 L149.7,270.7 L145.8,271.9 L142,268.8 Z" fill="#d8d9dc" stroke="#000" stroke-width="1" stroke-linejoin="round"/>
<path d="M153.5,272.7 L157.4,275.4 L160.5,276.9 L156.2,278.1 L153.9,276.1 Z" fill="#d8d9dc" stroke="#000" stroke-width="1" stroke-linejoin="round"/>
<path d="M157.4,271.9 L160.5,274.6 L163.2,280.4 L160.8,278.5 L158.5,274.6 Z" fill="#d8d9dc" stroke="#000" stroke-width="1" stroke-linejoin="round"/>
<path d="M325.2,161.5 L329.4,164.2 L326.3,166.5 L324.4,163.4 Z" fill="#d8d9dc" stroke="#000" stroke-width="0.9"/>
<path d="M322.5,158.4 L324.8,159.2 L322.8,160 Z" fill="#d8d9dc" stroke="#000" stroke-width="0.9"/>
<path d="M315.9,156.1 L318.2,157.2 L316.3,157.2 Z" fill="#d8d9dc" stroke="#000" stroke-width="0.9"/>
<path d="M310.1,153.8 L312.1,154.1 L310.9,154.9 Z" fill="#d8d9dc" stroke="#000" stroke-width="0.9"/>
<path d="M176.6,26.7 L184.3,28.3 L203.6,34.5 L208.6,35.2 L222.8,38.7 L230.5,40.3 L240.1,39.5 L245.9,39.1 L257.4,37.6 L267.1,36.4 L272.8,34.9 L280.5,32.9 L285.5,31 L290.9,29" fill="none" stroke="#000" stroke-width="1.4" stroke-dasharray="3 2.5"/>
<path d="M384.4,8.1 L392.1,11.2 L399.8,14.3 L403.7,18.2 L409.4,22.9 L415.2,26.7 L421,29.8 L424,32.5 L426.7,36.8 L432.5,41.4 L435.2,44.9 L442.1,50" fill="none" stroke="#000" stroke-width="3.2" stroke-linejoin="round"/>
<rect x="13" y="11" width="30" height="27" fill="#d3d1d3" filter="url(#fblur)"/>
<path d="M100.8,71.7 L107.4,67.4 L113.1,64.7 L118.9,60.8 L124.7,56.9 L130.4,52.7 L136.2,48 L140.8,43.8" fill="none" stroke="#000" stroke-width="1.3" stroke-dasharray="2.5 2"/>
<path d="M39.2,125.5 L34.2,131.3 L31.6,137.1 L22.7,144.1 L15,145.6" fill="none" stroke="#000" stroke-width="1.3" stroke-dasharray="2 3"/>
</g>
<rect x="0" y="0" width="625" height="277" fill="none" stroke="#000" stroke-width="1.7"/>
<line x1="-6.5" y1="7.4" x2="0" y2="7.4" stroke="#000" stroke-width="1.6"/>
<line x1="-6.5" y1="84.8" x2="0" y2="84.8" stroke="#000" stroke-width="1.6"/>
<line x1="-6.5" y1="162.3" x2="0" y2="162.3" stroke="#000" stroke-width="1.6"/>
<line x1="-6.5" y1="239.7" x2="0" y2="239.7" stroke="#000" stroke-width="1.6"/>
<line x1="78.5" y1="277" x2="78.5" y2="283" stroke="#000" stroke-width="1.6"/>
<line x1="174.7" y1="277" x2="174.7" y2="283" stroke="#000" stroke-width="1.6"/>
<line x1="270.9" y1="277" x2="270.9" y2="283" stroke="#000" stroke-width="1.6"/>
<line x1="367.1" y1="277" x2="367.1" y2="283" stroke="#000" stroke-width="1.6"/>
<line x1="463.3" y1="277" x2="463.3" y2="283" stroke="#000" stroke-width="1.6"/>
<line x1="559.5" y1="277" x2="559.5" y2="283" stroke="#000" stroke-width="1.6"/>
<text x="606" y="77" text-anchor="end" class="pl">Winter 2021</text>
</g>
<g transform="translate(78.5,1760)">
<clipPath id="pc2"><rect x="0" y="0" width="625" height="277"/></clipPath>
<g clip-path="url(#pc2)">
<g filter="url(#fblur)">
<rect x="-10" y="-10" width="645" height="297" fill="#fee6a0"/>
<path d="M256.5,140.8 C271.2,115.7 311.7,131.2 344.9,127.5 C378,123.8 408.2,118.7 455.3,118.7 C502.4,118.7 598.8,101 627.5,127.5 C656.3,154 689.4,252.7 627.5,277.7 C565.7,302.7 318.4,300.5 256.5,277.7 C194.7,254.9 241.8,165.8 256.5,140.8 Z" fill="#fff4d2"/>
<path d="M490.6,140.8 C501.7,131.2 542.9,138.6 565.7,136.3 C588.5,134.1 617.2,115.7 627.5,127.5 C637.8,139.3 637.8,190.8 627.5,207 C617.2,223.2 587.1,226.9 565.7,224.7 C544.4,222.5 512,207.8 499.5,193.8 C486.9,179.8 479.6,150.3 490.6,140.8 Z" fill="#fdd590"/>
<path d="M0.3,123.1 C13.6,100.3 51.9,122.4 79.8,123.1 C107.8,123.8 138.7,124.6 168.2,127.5 C197.6,130.5 238.1,136.3 256.5,140.8 C274.9,145.2 281.5,147.4 278.6,154 C275.7,160.6 251.4,167.3 238.8,180.5 C226.3,193.8 222.7,223.2 203.5,233.5 C184.4,243.8 148.3,237.9 124,242.3 C99.7,246.8 78.4,257.1 57.8,260 C37.1,263 9.9,282.8 0.3,260 C-9.2,237.2 -12.9,145.9 0.3,123.1 Z" fill="#fdd590"/>
<path d="M101.9,43.6 C116.6,34 142.4,37 168.2,34.8 C193.9,32.5 227.1,30.3 256.5,30.3 C286,30.3 319.1,31.8 344.9,34.8 C370.6,37.7 397.9,39.9 411.1,48 C424.4,56.1 424.4,71.6 424.4,83.3 C424.4,95.1 420.7,109.8 411.1,118.7 C401.5,127.5 389,131.9 366.9,136.3 C344.9,140.8 304.4,143.7 278.6,145.2 C252.8,146.6 234.4,146.6 212.3,145.2 C190.3,143.7 164.5,140.8 146.1,136.3 C127.7,131.9 113,126 101.9,118.7 C90.9,111.3 79.8,104.7 79.8,92.2 C79.8,79.7 87.2,53.2 101.9,43.6 Z" fill="#f9ae6a"/>
<path d="M42.3,150.5 C55.5,137 98.8,145.7 124,145.2 C149.2,144.7 176.8,144.4 193.4,147.4 C209.9,150.3 219.9,153.6 223.4,162.8 C226.9,172 220.8,191.9 214.6,202.6 C208.3,213.3 200.9,222.3 185.8,226.9 C170.8,231.5 147.6,230.1 124,230 C100.5,229.8 58.1,239.3 44.5,226 C30.9,212.8 29,163.9 42.3,150.5 Z" fill="#f9ae6a"/>
<path d="M4.8,83.3 C9.9,73.8 24.6,72.3 35.7,70.1 C46.7,67.9 63.6,64.2 71,70.1 C78.4,76 84.3,96.6 79.8,105.4 C75.4,114.3 57,119.4 44.5,123.1 C32,126.8 11.4,134.1 4.8,127.5 C-1.9,120.9 -0.4,92.9 4.8,83.3 Z" fill="#f9ae6a"/>
<path d="M62.2,12.7 C71.7,7.5 119.6,5.3 137.3,8.3 C154.9,11.2 170.4,24.4 168.2,30.3 C166,36.2 138.7,42.1 124,43.6 C109.3,45.1 90.1,44.3 79.8,39.2 C69.5,34 52.6,17.8 62.2,12.7 Z" fill="#fff4d2"/>
<path d="M132.8,78.9 C134.3,74.1 140.2,70.1 150.5,67.9 C160.8,65.7 180,64.9 194.7,65.7 C209.4,66.4 227.1,68.6 238.8,72.3 C250.6,76 255,85.9 265.4,87.8 C275.7,89.6 280.1,87.4 300.7,83.3 C321.3,79.3 371.4,65.3 389,63.5 C406.7,61.6 404.5,67.1 406.7,72.3 C408.9,77.4 406.7,87.8 402.3,94.4 C397.9,101 391.2,106.5 380.2,112 C369.2,117.6 353,123.5 336,127.5 C319.1,131.6 298.5,135.2 278.6,136.3 C258.7,137.4 229.3,136.3 216.8,134.1 C204.3,131.9 210.1,127.1 203.5,123.1 C196.9,119 187.3,114.3 177,109.8 C166.7,105.4 149,101.7 141.7,96.6 C134.3,91.4 131.4,83.7 132.8,78.9 Z" fill="#f07b4d"/>
<path d="M35.7,74.5 C40.8,67.9 60.7,64.9 66.6,70.1 C72.5,75.2 76.2,98.8 71,105.4 C65.9,112 41.6,115 35.7,109.8 C29.8,104.7 30.5,81.1 35.7,74.5 Z" fill="#f07b4d"/>
<path d="M4.8,101 C10.6,98.8 34.2,101.7 40.1,105.4 C46,109.1 46,120.9 40.1,123.1 C34.2,125.3 10.6,122.4 4.8,118.7 C-1.1,115 -1.1,103.2 4.8,101 Z" fill="#f07b4d"/>
<path d="M60,154.9 C70.6,150.1 105.4,153.1 124,154 C142.6,155 164.4,155.9 171.7,160.6 C179.1,165.4 179.8,178.7 168.2,182.7 C156.5,186.8 120,184.9 101.9,184.9 C83.9,184.9 67,187.7 60,182.7 C53,177.7 49.3,159.7 60,154.9 Z" fill="#f59866"/>
<path d="M141.7,81.1 C143.1,77.7 146.1,75.3 154.9,73.6 C163.8,71.9 180.7,70.5 194.7,71 C208.7,71.5 228.9,73.9 238.8,76.7 C248.8,79.5 253.6,83.7 254.3,87.8 C255,91.8 251.7,97 243.3,101 C234.8,105.1 214.6,111.3 203.5,112 C192.5,112.8 186.6,108.4 177,105.4 C167.4,102.5 152,98.4 146.1,94.4 C140.2,90.3 140.2,84.6 141.7,81.1 Z" fill="#e2392a"/>
<path d="M238.8,109 C246.2,104.8 258,102.7 274.2,98.8 C290.4,94.9 316.9,90.2 336,85.5 C355.2,80.9 378.7,71.3 389,71 C399.3,70.6 399.3,77.6 397.9,83.3 C396.4,89.1 390.5,99.2 380.2,105.4 C369.9,111.7 353,117.2 336,120.9 C319.1,124.6 296.3,127 278.6,127.5 C260.9,128 236.6,127.1 230,124 C223.4,120.9 231.5,113.2 238.8,109 Z" fill="#e2392a"/>
<path d="M37.9,76.7 C41.9,71.2 59.2,68.2 64.4,72.3 C69.5,76.3 72.8,95.5 68.8,101 C64.7,106.5 45.2,109.5 40.1,105.4 C34.9,101.4 33.8,82.2 37.9,76.7 Z" fill="#e2392a"/>
<path d="M159.3,83.3 C165.2,80.2 189.5,78.7 199.1,79.8 C208.7,80.9 216.8,86.4 216.8,90 C216.8,93.5 207.9,99.5 199.1,101 C190.3,102.5 170.4,101.7 163.8,98.8 C157.1,95.9 153.5,86.5 159.3,83.3 Z" fill="#b01c24"/>
<path d="M296.3,105.4 C303.6,101.4 332.3,96.1 344.9,95.7 C357.4,95.3 369.9,99.4 371.4,103.2 C372.8,107 365.5,116 353.7,118.7 C341.9,121.4 310.3,121.8 300.7,119.6 C291.1,117.3 288.9,109.4 296.3,105.4 Z" fill="#b01c24"/>
<path d="M353.7,136.3 C358.8,124.9 372.1,122.4 389,120.9 C406,119.4 439.8,122.7 455.3,127.5 C470.7,132.3 481.8,140 481.8,149.6 C481.8,159.2 464.9,176.1 455.3,184.9 C445.7,193.8 435.4,196 424.4,202.6 C413.3,209.2 387.6,219.5 389,224.7 C390.5,229.8 411.1,231.7 433.2,233.5 C455.3,235.4 489.1,234.3 521.5,235.7 C553.9,237.2 609.9,235.4 627.5,242.3 C645.2,249.3 676.1,271.8 627.5,277.7 C579,283.6 386.1,283.6 336,277.7 C286,271.8 323.5,257.1 327.2,242.3 C330.9,227.6 353.7,207 358.1,189.3 C362.5,171.7 348.5,147.8 353.7,136.3 Z" fill="#d9eef6"/>
<path d="M395.7,140.8 C401,136.9 419.9,133.3 426.6,135.5 C433.2,137.7 437.2,149.3 435.4,154 C433.6,158.7 422.4,163 415.5,163.7 C408.7,164.5 397.6,162.3 394.3,158.4 C391,154.6 390.3,144.6 395.7,140.8 Z" fill="#a5d0e7"/>
<path d="M380.2,233.5 C384.6,229.8 401.5,226.2 411.1,226.9 C420.7,227.6 435,234 437.6,237.9 C440.2,241.8 435.4,248.5 426.6,250.3 C417.7,252.1 392.3,251.8 384.6,249 C376.9,246.2 375.8,237.2 380.2,233.5 Z" fill="#a5d0e7"/>
<path d="M437.6,246.8 C445,242 495.8,241.6 521.5,242.3 C547.3,243.1 580.4,246.4 592.2,251.2 C604,256 611.3,267.7 592.2,271.1 C573.1,274.4 503.1,275.1 477.4,271.1 C451.6,267 430.3,251.6 437.6,246.8 Z" fill="#c3e2f0"/>
<path d="M596.6,260 C601,255.6 622.4,248.2 627.5,251.2 C632.7,254.1 632,273.3 627.5,277.7 C623.1,282.1 606.2,280.6 601,277.7 C595.9,274.7 592.2,264.4 596.6,260 Z" fill="#a5d0e7"/>
</g>
<path d="M19 269l-13 0m1-2l-4 1 3 2zM29 270l-13-2m0-2l-3 2 3 2zM38 271l-12-4m0-1l-4 0 3 3zM48 271l-12-3m0-2l-4 1 3 3zM58 271l-13-3m1-2l-4 1 3 2zM67 271l-12-3m0-2l-4 1 3 3zM76 271l-11-3m0-2l-4 1 3 3zM115 271l-12-3m0-2l-4 1 3 2zM125 271l-12-3m0-2l-4 1 3 3zM134 271l-12-4m1-1l-4 0 3 3zM144 271l-12-3m0-2l-4 1 3 2zM154 270l-12-2m0-1l-4 1 3 2zM163 271l-11-3m0-2l-4 1 3 2zM173 270l-12-2m0-1l-4 1 4 2zM183 270l-13-2m0-2l-4 2 4 2zM191 270l-10-2m0-1l-4 1 4 2zM202 268l-12 1m0-2l-4 2 4 2zM211 271l-12-4m1-1l-4 0 3 3zM221 269l-12 0m0-2l-4 2 4 2zM231 270l-13-2m1-2l-4 1 3 3zM241 270l-13-2m0-2l-4 2 4 2zM250 270l-12-2m0-2l-4 1 3 3zM260 270l-13-2m0-2l-3 1 3 3zM269 271l-12-3m1-2l-4 1 3 2zM279 270l-13-2m1-2l-4 1 3 3zM288 269l-11-1m0-1l-4 1 4 2zM298 270l-12-2m0-2l-3 2 3 2zM307 270l-11-2m0-2l-4 2 4 2zM316 270l-10-2m0-1l-4 1 4 2zM327 268l-12 1m0-2l-4 2 4 2zM336 268l-11 1m-1-2l-3 3 4 1zM346 266l-12 5m-1-2l-2 3 4 0zM355 267l-11 3m-1-2l-3 3 4 1zM364 266l-10 4m-1-1l-2 3 4 0zM374 265l-11 6m-1-2l-2 4 4 0zM384 266l-11 4m-1-1l-2 3 4 0zM394 266l-12 4m-1-1l-2 3 4 0zM403 266l-10 4m-1-1l-3 3 4 0zM413 266l-11 4m-1-1l-3 3 4 0zM422 266l-10 4m-1-2l-3 3 4 1zM432 266l-11 4m-1-1l-3 3 4 0zM442 265l-12 6m-1-2l-2 3 4 1zM451 265l-11 6m-1-2l-2 3 4 0zM461 265l-12 6m0-2l-3 4 4 0zM470 266l-10 4m-1-1l-2 3 4 0zM480 265l-11 6m-1-2l-2 4 4 0zM489 265l-10 6m-1-2l-2 3 4 0zM500 265l-12 6m-1-2l-2 3 4 0zM509 267l-11 3m0-2l-3 3 4 1zM518 266l-10 4m0-2l-3 4 4 0zM528 265l-11 6m-1-2l-2 3 4 0zM538 267l-11 3m-1-2l-2 3 4 1zM547 265l-11 6m0-2l-3 3 4 0zM557 267l-11 3m-1-2l-3 3 4 1zM567 267l-11 3m-1-2l-3 2 4 1zM576 264l-11 7m-1-1l-2 3 4 0zM586 265l-11 6m-1-2l-3 3 4 1zM596 267l-12 3m0-2l-3 3 4 1zM606 266l-12 4m-1-1l-3 2 4 1zM614 266l-9 4m-1-2l-3 3 4 1zM624 266l-10 4m-1-2l-3 3 4 1zM18 260l-11-1m1-2l-4 1 3 2zM28 260l-11-1m0-2l-4 1 3 2zM39 261l-13-3m0-2l-4 2 3 2zM48 261l-13-3m1-2l-4 1 3 3zM58 261l-13-3m0-2l-3 1 3 3zM67 261l-12-3m0-2l-3 2 3 2zM116 260l-13-1m0-2l-4 1 4 3zM125 261l-13-3m1-2l-4 2 3 2zM135 261l-13-3m0-2l-3 1 3 3zM144 261l-12-3m0-2l-4 1 3 3zM154 261l-13-3m1-2l-4 1 3 3zM163 262l-12-5m1-1l-4 0 2 3zM173 261l-12-3m0-2l-4 1 3 3zM182 262l-11-4m0-2l-4 1 3 3zM193 260l-13-1m0-2l-4 1 3 2zM202 260l-13-2m1-1l-4 1 3 2zM212 260l-13-2m0-1l-4 1 4 2zM221 260l-13-1m1-2l-4 2 3 2zM231 262l-13-4m1-2l-4 0 3 3zM240 260l-12-1m0-2l-3 1 3 2zM250 261l-12-3m0-2l-4 1 3 3zM260 260l-13-1m0-2l-4 1 4 2zM269 261l-12-3m1-2l-4 1 3 3zM279 260l-13-2m0-1l-3 1 3 2zM289 261l-13-3m1-2l-4 1 2 3zM298 260l-12-1m0-2l-4 1 3 2zM308 261l-13-3m1-2l-4 1 3 3zM317 260l-12-1m0-2l-3 1 3 3zM327 259l-12 0m0-2l-4 2 4 2zM336 257l-11 3m-1-2l-3 3 4 1zM346 257l-12 3m0-2l-3 3 4 1zM355 257l-11 3m0-1l-3 3 4 0zM365 257l-12 4m-1-2l-2 3 4 0zM375 256l-12 5m-1-2l-3 3 4 0zM384 256l-11 5m-1-2l-2 3 4 0zM394 257l-12 3m0-1l-3 3 4 0zM403 255l-11 6m-1-1l-2 3 4 0zM412 257l-10 3m0-1l-3 3 4 0zM422 256l-10 5m-1-2l-3 3 4 0zM432 256l-11 5m-1-2l-3 3 4 1zM442 255l-12 6m0-1l-3 3 4 0zM450 256l-9 4m-1-1l-2 3 4 0zM460 256l-9 5m-1-2l-3 4 5-1zM470 255l-10 7m-1-2l-2 4 4-1zM480 257l-11 3m-1-1l-2 2 4 1zM490 255l-11 6m-1-1l-3 3 4 0zM499 256l-10 5m-1-2l-2 3 4 0zM509 256l-11 5m-1-2l-2 3 4 0zM519 256l-12 5m0-2l-3 3 4 0zM528 255l-11 6m-1-1l-2 3 4 0zM536 255l-8 6m-1-1l-2 3 4 0zM548 256l-12 5m0-2l-3 3 4 0zM556 257l-9 3m-1-2l-2 4 4 0zM566 256l-10 5m-1-2l-2 3 4 0zM576 255l-11 6m-1-1l-2 3 4 0zM586 256l-11 5m-1-2l-3 3 4 1zM595 256l-10 4m0-1l-3 3 4 0zM605 255l-11 6m-1-2l-2 4 4 0zM614 256l-10 5m-1-2l-2 3 4 0zM18 252l-10-4m0-2l-4 0 3 4zM28 251l-11-2m0-2l-4 1 3 2zM38 252l-12-4m1-2l-4 1 3 3zM48 251l-13-2m1-2l-4 1 3 2zM58 251l-13-2m0-2l-4 1 4 3zM66 251l-10-2m0-2l-4 1 3 3zM96 252l-12-4m0-2l-4 1 3 3zM106 252l-13-4m1-2l-4 1 3 3zM115 251l-12-3m0-1l-4 1 3 2zM125 251l-13-2m1-2l-4 1 3 2zM134 251l-11-2m1-2l-4 1 3 3zM144 252l-12-4m0-2l-4 1 3 3zM154 251l-12-3m0-1l-4 1 3 2zM164 251l-13-3m0-2l-4 1 3 3zM172 252l-10-4m0-1l-4 0 3 3zM183 251l-13-3m1-1l-4 1 3 2zM193 251l-13-2m0-2l-4 1 3 2zM202 251l-13-3m1-1l-4 1 3 2zM211 251l-11-2m0-2l-4 1 3 3zM221 251l-12-3m0-1l-4 1 3 2zM231 251l-13-2m0-2l-3 1 3 3zM241 251l-13-2m0-2l-4 1 3 3zM248 251l-9-2m1-2l-4 1 3 2zM260 250l-13-1m0-2l-4 2 4 2zM269 250l-12-1m0-2l-3 2 3 2zM278 253l-11-5m1-2l-4 0 2 3zM288 251l-12-2m1-2l-4 1 3 3zM298 250l-13-1m1-2l-4 2 3 2zM307 250l-11-1m0-2l-3 2 3 2zM318 249l-13 1m0-2l-4 2 4 2zM327 250l-12-1m0-2l-4 2 4 2zM336 247l-12 4m0-2l-3 2 4 1zM345 246l-11 6m-1-2l-2 3 4 0zM356 247l-13 4m0-2l-3 3 4 1zM364 247l-10 4m-1-2l-2 3 4 1zM373 245l-9 7m-1-2l-2 4 4-1zM384 246l-11 5m-1-2l-2 4 4 0zM394 246l-12 6m-1-2l-2 3 4 0zM403 248l-11 2m0-2l-3 3 4 1zM413 246l-11 5m-1-2l-2 3 4 1zM423 247l-12 4m-1-2l-2 3 4 1zM433 247l-13 4m0-2l-3 3 4 1zM442 247l-12 4m-1-2l-2 3 4 1zM452 246l-12 5m-1-2l-2 3 4 1zM461 246l-11 5m-1-2l-3 4 4 0zM471 246l-12 5m-1-1l-2 3 4 0zM481 246l-12 5m-1-2l-3 3 4 1zM489 246l-10 5m-1-2l-2 4 4 0zM500 247l-12 4m0-2l-3 3 4 1zM509 246l-12 5m0-2l-3 4 4 0zM517 246l-8 5m-1-2l-2 4 4 0zM527 246l-9 5m-1-1l-2 3 4 0zM538 245l-11 7m-1-2l-2 3 4 0zM547 247l-11 4m0-2l-3 3 4 1zM557 247l-11 3m0-1l-3 2 4 1zM567 246l-11 5m-1-2l-3 4 4 0zM576 247l-11 4m0-2l-3 3 4 1zM586 246l-12 5m0-2l-3 4 4 0zM596 246l-12 5m-1-2l-2 3 4 1zM606 247l-12 4m-1-2l-3 3 4 1zM615 246l-11 5m-1-1l-3 3 5 0zM624 245l-11 7m-1-2l-2 3 4 0zM19 241l-12-2m0-2l-4 2 4 2zM29 243l-13-5m1-2l-4 1 3 3zM38 241l-12-2m1-2l-4 1 3 3zM48 242l-13-3m1-2l-4 1 3 3zM57 242l-12-4m1-2l-4 1 3 3zM67 241l-12-2m0-2l-4 1 3 3zM76 241l-11-2m0-2l-3 2 3 2zM86 241l-11-2m0-2l-4 2 4 2zM96 241l-12-2m0-2l-4 1 3 3zM106 241l-13-2m0-2l-3 1 3 3zM116 240l-13-1m0-1l-4 1 4 2zM125 242l-13-3m1-2l-4 1 3 2zM134 240l-11 0m0-2l-4 2 4 2zM144 241l-12-2m0-2l-4 2 4 2zM153 240l-11-1m0-1l-4 1 4 2zM163 242l-12-4m0-1l-4 1 3 2zM173 240l-12 0m0-2l-4 2 4 2zM183 242l-13-4m1-1l-4 0 3 3zM192 241l-12-2m0-2l-4 2 4 2zM202 240l-12 0m0-2l-4 2 4 2zM212 240l-13-1m0-1l-4 1 4 2zM221 242l-12-3m0-2l-4 1 3 2zM230 241l-11-2m1-2l-4 1 3 3zM240 241l-11-2m0-2l-4 1 3 3zM250 242l-12-4m0-1l-4 0 3 3zM259 241l-11-2m0-2l-4 1 3 3zM270 240l-13 0m0-2l-4 2 4 2zM278 242l-11-3m0-2l-4 1 3 2zM288 241l-11-2m0-2l-4 1 3 3zM298 241l-13-2m1-2l-4 2 3 2zM308 242l-13-3m1-2l-4 1 3 3zM318 239l-13 1m0-2l-4 2 4 2zM327 239l-13 1m0-2l-3 3 3 1zM336 237l-11 4m-1-2l-3 3 4 1zM345 237l-11 4m0-1l-3 3 4 0zM355 237l-11 4m-1-1l-3 3 4 0zM365 237l-12 4m0-1l-3 3 4 0zM374 236l-11 6m0-2l-3 3 4 0zM385 238l-13 3m0-2l-3 3 4 1zM394 236l-12 6m-1-2l-2 4 4 0zM403 236l-11 6m0-2l-3 4 4-1zM412 236l-10 6m-1-2l-2 3 4 0zM422 235l-11 7m-1-1l-2 4 4-1zM433 237l-13 4m0-2l-3 3 4 1zM441 236l-10 5m-1-1l-2 3 4 0zM451 236l-11 6m-1-2l-2 3 4 0zM460 237l-9 4m-1-2l-3 3 4 1zM470 236l-11 6m0-2l-3 3 4 0zM480 236l-11 6m-1-2l-2 3 4 0zM489 235l-10 7m-1-1l-2 3 4 0zM500 237l-12 5m-1-2l-3 3 5 0zM509 235l-11 7m-1-1l-2 3 4 0zM518 237l-10 4m-1-2l-2 3 4 1zM528 236l-11 6m-1-2l-2 4 4 0zM537 237l-9 4m-1-1l-3 3 5 0zM548 236l-12 6m-1-2l-2 3 4 1zM557 237l-11 4m0-2l-3 3 4 1zM567 236l-12 6m-1-2l-2 3 4 1zM577 238l-12 3m-1-2l-3 3 4 1zM586 237l-12 4m0-1l-3 3 4 0zM595 237l-10 4m-1-1l-3 3 4 0zM605 237l-11 4m0-2l-3 3 4 1zM615 237l-12 4m0-1l-3 3 4 0zM19 231l-13-2m1-1l-4 1 3 2zM28 232l-11-3m0-2l-4 1 3 3zM38 232l-12-3m1-2l-4 2 3 2zM48 232l-12-3m0-2l-4 1 3 3zM57 233l-11-4m0-2l-4 0 3 3zM67 232l-12-3m0-2l-4 2 3 2zM77 232l-13-3m1-2l-4 2 3 2zM87 231l-13-2m0-1l-4 1 4 2zM96 231l-12-2m0-2l-4 2 4 2zM105 232l-11-3m0-2l-4 1 3 3zM115 231l-12-1m1-2l-4 1 3 2zM125 231l-13-1m1-2l-4 1 3 2zM135 232l-13-3m0-2l-3 1 3 3zM144 232l-12-3m1-2l-4 1 2 3zM154 233l-13-5m1-1l-4 0 3 3zM163 231l-12-1m0-2l-3 1 3 2zM173 231l-12-2m0-2l-4 2 4 2zM182 231l-11-2m0-1l-4 1 4 2zM192 231l-12-1m0-2l-3 1 3 3zM202 232l-13-3m1-2l-4 1 3 3zM212 231l-13-2m0-1l-4 1 4 2zM221 232l-12-3m1-2l-4 1 3 3zM231 231l-13-2m0-2l-3 2 3 2zM240 232l-12-3m1-2l-4 1 3 3zM250 232l-12-3m1-2l-4 1 3 3zM260 232l-13-3m0-2l-3 1 3 3zM268 232l-10-3m0-2l-4 1 3 3zM278 232l-11-3m1-2l-4 1 3 3zM288 232l-12-3m1-2l-4 1 3 3zM298 232l-12-3m0-2l-4 1 3 3zM307 231l-11-2m0-1l-4 1 3 2zM316 231l-10-1m0-2l-4 1 4 3zM326 229l-10 1m0-1l-4 2 4 1zM336 229l-11 2m-1-2l-3 2 4 2zM345 227l-10 5m-1-2l-3 3 4 1zM355 227l-11 4m0-1l-3 3 4 0zM365 226l-11 6m-1-2l-3 4 4 0zM374 226l-11 6m-1-1l-2 3 4 0zM384 227l-12 5m0-2l-3 3 4 1zM394 227l-12 5m-1-2l-2 3 4 0zM403 227l-10 4m-1-1l-3 3 4 0zM413 227l-11 5m-1-2l-3 3 4 0zM423 227l-12 4m0-1l-3 3 4 0zM432 226l-11 6m-1-1l-3 3 5 0zM442 227l-12 5m-1-2l-2 4 4 0zM451 226l-11 6m-1-1l-2 3 4 0zM461 227l-11 5m-1-2l-3 3 4 1zM470 228l-10 3m-1-2l-3 3 4 1zM480 228l-11 3m0-2l-3 3 4 1zM489 227l-10 5m-1-2l-2 3 4 1zM500 227l-12 5m-1-2l-3 3 4 0zM509 227l-12 5m0-2l-3 3 4 1zM518 229l-10 2m0-2l-4 2 4 2zM529 228l-13 3m0-2l-3 3 4 1zM538 227l-12 5m0-2l-3 3 4 0zM547 228l-10 3m-1-1l-3 2 4 1zM556 227l-9 5m-1-2l-3 3 4 0zM566 227l-10 4m-1-1l-2 3 4 0zM577 228l-12 3m-1-1l-3 3 4 0zM586 227l-11 4m-1-1l-2 3 4 0zM595 227l-10 4m-1-1l-2 3 4 0zM606 227l-12 5m-1-2l-3 3 4 0zM615 227l-11 5m-1-2l-2 3 4 0zM624 227l-10 4m-1-1l-3 3 4 0zM16 221l-6-1m0-1l-4 1 4 2zM28 222l-11-3m0-1l-4 1 3 2zM37 223l-10-4m1-1l-4 0 3 3zM46 223l-9-4m1-1l-4 0 3 3zM56 223l-9-4m1-2l-4 0 2 4zM65 221l-8-1m0-2l-4 2 4 2zM75 221l-9-1m0-2l-4 1 4 3zM85 223l-10-4m1-2l-4 1 3 3zM95 223l-10-4m0-1l-4 0 3 3zM104 223l-9-4m1-1l-4 0 2 3zM113 221l-8-1m0-2l-3 2 3 2zM123 222l-9-3m1-1l-4 0 2 3zM133 222l-9-3m0-1l-4 0 3 3zM142 222l-8-2m0-2l-4 1 3 3zM152 221l-9-1m0-2l-4 1 3 3zM163 221l-11-1m0-2l-4 1 4 3zM172 222l-10-2m0-2l-4 1 4 2zM181 221l-9-1m0-2l-4 1 3 3zM191 221l-10-1m0-2l-4 1 3 3zM200 223l-9-4m0-1l-4 0 3 3zM210 221l-10-1m0-2l-3 1 3 3zM220 222l-10-3m1-1l-4 0 3 3zM229 222l-9-2m1-2l-4 1 3 3zM239 222l-9-2m0-2l-4 1 3 3zM248 222l-8-2m0-2l-4 1 3 3zM258 221l-9-1m0-2l-4 2 3 2zM268 221l-10-1m0-2l-4 2 4 2zM277 223l-9-4m0-1l-4 0 3 3zM286 221l-8-1m1-2l-4 1 3 3zM296 223l-8-4m1-1l-4 0 2 3zM306 221l-9-1m0-2l-4 2 4 2zM317 220l-11 1m-1-2l-3 2 4 1zM326 219l-10 2m0-2l-4 3 4 1zM335 219l-9 2m-1-2l-3 3 4 1zM344 218l-8 3m-1-1l-3 3 4 0zM354 217l-10 5m0-2l-3 4 4 0zM364 218l-10 4m0-2l-3 3 4 0zM373 220l-8 1m0-2l-3 2 3 1zM382 218l-8 3m0-1l-3 3 4 0zM392 217l-9 5m0-2l-3 4 4 0zM402 217l-9 5m0-2l-3 4 4-1zM411 217l-8 5m-1-2l-2 4 4 0zM422 217l-11 5m0-2l-3 3 4 1zM431 217l-9 5m-1-1l-2 3 4 0zM440 217l-8 5m-1-2l-2 4 4 0zM450 218l-8 3m-1-1l-3 3 4 0zM460 217l-9 5m-1-1l-2 3 4 0zM470 217l-10 5m-1-2l-2 4 4 0zM479 218l-9 3m0-1l-3 3 4 0zM488 219l-8 2m0-2l-3 3 4 1zM498 217l-9 5m-1-2l-2 4 4 0zM508 217l-9 5m-1-2l-3 3 5 1zM518 215l-10 8m-1-1l-2 4 4-1zM527 218l-9 3m0-1l-3 3 4 0zM537 218l-9 3m-1-1l-2 3 4 0zM547 217l-10 5m-1-2l-2 4 4 0zM556 217l-9 5m-1-2l-3 4 4 0zM566 217l-10 5m-1-1l-2 3 4 0zM575 217l-8 5m-1-2l-2 4 4 0zM586 217l-11 5m-1-2l-2 4 4 0zM594 217l-8 5m-1-2l-2 4 4-1zM604 218l-9 3m0-1l-3 2 4 1zM613 217l-8 5m-1-2l-2 4 4 0zM623 218l-9 3m0-1l-3 3 4 0zM15 212l-5-2m1-1l-4 0 3 3zM25 212l-6-2m1-1l-4 0 3 3zM35 211l-6 0m0-2l-3 1 3 2zM44 213l-5-3m1-1l-4 0 2 2zM55 211l-7-1m0-1l-4 1 3 2zM62 213l-3-3m1-1l-3 0 1 3zM74 212l-7-2m0-1l-3 1 3 2zM84 211l-8 0m0-2l-3 2 3 1zM91 211l-4 0m1-2l-3 1 2 2zM102 211l-6-1m1-1l-3 1 2 2zM111 212l-5-2m1-1l-3 1 2 2zM121 211l-5 0m0-2l-3 2 3 1zM130 212l-4-2m0-1l-3 0 2 3zM140 212l-5-2m1-1l-4 1 3 2zM151 212l-7-2m0-2l-4 1 3 3zM160 212l-6-2m0-1l-3 0 2 3zM169 211l-5 0m0-2l-3 1 3 2zM179 212l-6-2m1-1l-4 1 3 2zM188 212l-5-2m1-1l-4 0 3 3zM199 212l-7-2m1-1l-4 1 3 2zM208 212l-6-2m0-1l-3 1 3 2zM217 212l-5-2m0-1l-3 1 3 2zM227 211l-5 0m0-2l-3 2 3 1zM236 212l-5-2m1-1l-4 0 3 3zM245 212l-3-1m0-2l-3 1 2 2zM256 211l-5 0m0-2l-3 2 3 1zM266 212l-6-2m0-1l-3 1 2 2zM275 211l-5 0m0-2l-3 1 3 2zM286 212l-8-2m1-2l-4 1 3 3zM294 211l-5 0m0-2l-3 1 3 2zM305 212l-7-2m0-1l-3 0 2 3zM314 209l-6 2m-1-1l-3 2 4 1zM325 209l-8 2m-1-1l-3 2 4 1zM333 207l-6 5m-1-1l-2 3 4-1zM343 207l-7 5m-1-1l-1 3 3-1zM354 207l-9 6m-1-2l-2 4 4-1zM363 208l-8 4m0-2l-3 3 4 0zM374 208l-10 4m-1-1l-2 3 4 0zM383 208l-9 4m-1-2l-2 3 4 1zM393 208l-10 4m-1-2l-3 3 4 1zM401 207l-7 5m-1-1l-2 3 4 0zM412 207l-10 6m-1-2l-2 3 4 0zM422 210l-10 1m0-2l-4 2 4 2zM431 207l-9 5m-1-1l-2 3 4 0zM441 208l-10 4m0-2l-3 3 4 1zM449 207l-7 5m-1-1l-2 3 4 0zM460 208l-9 4m-1-2l-3 3 4 1zM469 207l-8 5m-1-1l-3 3 5 0zM479 207l-9 5m-1-1l-2 3 4 0zM488 206l-8 7m-2-1l-1 3 4-1zM498 207l-9 5m0-1l-3 3 4 0zM508 207l-9 5m-1-1l-2 3 4 0zM517 208l-8 4m-1-2l-2 4 4 0zM527 208l-9 4m-1-2l-2 4 4 0zM536 208l-8 4m0-2l-3 3 4 0zM546 207l-9 6m-1-2l-2 3 4 0zM556 207l-9 6m-1-2l-2 3 4 0zM565 206l-8 7m-1-2l-2 4 4-1zM576 208l-10 4m-1-1l-2 3 4 0zM585 208l-9 4m-1-2l-2 3 4 1zM593 207l-7 5m-1-2l-2 4 4 0zM604 207l-9 6m-1-2l-2 4 4-1zM615 208l-11 4m-1-1l-3 3 4 0zM623 208l-9 4m0-2l-3 3 4 1zM12 199l-1 2m-1-1l0 3 2-2zM23 201l-2 0m0-1l-2 1 2 1zM33 200l-3 1m0-1l-2 2 2 0zM42 199l-2 2m-1 0l-1 2 3-1zM51 201l-1 0m0-1l-2 1 2 1zM61 200l-1 1m-1-1l-1 2 2 0zM70 200l-1 1m0-1l-1 2 2 0zM81 201l-2 0m-1-1l-2 1 3 1zM90 200l-2 1m0-1l-2 2 3 0zM100 201l-2 0m0-1l-3 1 3 1zM110 200l-3 1m0-1l-2 2 2 0zM120 201l-4 0m1-1l-3 1 2 1zM130 200l-4 1m0-1l-3 2 3 1zM138 200l-2 1m0-1l-2 2 3 0zM148 201l-2 0m0-1l-3 1 3 1zM157 199l-2 2m-1-1l0 3 2-1zM167 201l-2 0m0-1l-2 1 2 1zM176 201l-1 0m0-1l-2 1 2 1zM187 202l-3-1m1-1l-3 0 2 2zM197 200l-4 1m0-1l-2 2 3 1zM207 200l-4 1m0-1l-3 2 3 0zM216 202l-3-1m1-1l-3 0 1 2zM225 201l-2 0m0-1l-2 1 2 1zM236 204l-4-4m1-1l-4-1 2 3zM244 203l-2-2m1-1l-3-1 1 3zM252 199l0 2m-1-1l0 3 2-2zM263 200l-1 1m-1-1l-1 2 2 0zM273 201l-2 0m0-1l-3 1 3 1zM283 199l-3 2m-1-1l-1 3 3-1zM294 201l-5 0m0-1l-2 1 3 1zM303 200l-4 1m0-1l-2 2 3 0zM315 199l-8 3m0-2l-3 3 4 0zM324 200l-7 1m0-1l-3 2 3 1zM334 200l-7 1m-1-1l-3 2 4 1zM343 198l-7 4m0-2l-3 4 4 0zM355 199l-11 3m0-2l-3 3 4 1zM362 198l-6 4m-1-1l-2 3 4 0zM372 198l-7 4m-1-2l-2 4 4 0zM381 198l-6 4m-1-1l-2 3 4 0zM391 200l-6 1m0-1l-3 2 3 1zM401 198l-7 4m-1-2l-2 4 4 0zM411 198l-8 4m0-1l-3 3 4 0zM421 198l-9 4m0-1l-3 3 4 0zM430 197l-7 6m-2-2l-1 4 4-1zM440 198l-8 4m-1-1l-2 3 4 0zM449 199l-7 3m0-2l-3 3 4 0zM460 199l-9 3m0-2l-3 3 4 1zM469 198l-9 5m0-2l-3 3 4 0zM478 198l-7 4m-1-1l-2 3 4 0zM487 197l-6 6m-2-2l-1 4 4-1zM498 198l-8 4m-1-1l-2 3 4 0zM505 199l-4 3m-1-2l-2 3 3 0zM517 198l-8 4m-1-1l-2 3 4 0zM525 198l-6 4m-1-1l-1 3 4 0zM536 199l-7 3m-1-2l-3 3 4 0zM545 198l-7 4m0-1l-2 3 3 0zM555 199l-7 3m-1-2l-3 3 4 0zM565 199l-8 3m-1-2l-2 4 4 0zM575 198l-8 4m-1-1l-2 3 4 0zM583 198l-6 4m-1-1l-2 3 4-1zM593 197l-7 6m-1-1l-2 3 4-1zM613 198l-7 4m-1-2l-2 4 4 0zM622 199l-7 3m-1-2l-2 3 4 1zM13 192l-1-1m0-1l-2 1 1 2zM23 193l-2-2m1-1l-3 0 1 2zM31 193l0-1m1-1l-3-1 1 2zM42 191l-2 0m0-1l-2 2 3 0zM51 193l-1-1m1-1l-2-1 0 2zM61 190l-2 1m0-1l-1 3 2-1zM70 193l-1-2m1 0l-3-1 1 2zM81 192l-2-1m0-1l-3 1 2 1zM91 191l-3 0m0-1l-2 2 2 1zM100 192l-2-1m0-1l-3 1 2 2zM106 190l1 1m0 1l2 1-1-3zM119 191l-2 0m0-1l-2 1 2 2zM129 190l-3 1m0-1l-2 3 3-1zM140 192l-4-1m0-1l-3 1 2 2zM146 193l0-1m1 0l-1-2-1 2zM156 189l-1 2m-1 0l1 3 2-2zM166 190l-1 1m-1 0l0 2 2-1zM177 192l-2-1m0-1l-3 1 2 2zM186 192l-1-1m0-1l-3 1 2 2zM196 193l-2-2m0-1l-3 0 2 2zM205 190l-1 1m-1-1l-1 3 3-1zM215 192l-2-1m1-1l-3 1 2 2zM227 192l-5-1m0-1l-3 1 2 2zM234 192l-1-1m0-1l-2 0 1 2zM243 193l-1-1m1-1l-2-1 0 2zM255 191l-4 0m0-1l-2 2 2 1zM263 192l-1 0m0-1l-2-1 1 3zM273 190l-2 1m-1-1l-1 2 2 1zM283 190l-3 1m0-1l-2 3 3 0zM293 191l-3 0m0-1l-3 1 3 2zM303 190l-4 2m0-2l-2 3 3 0zM312 190l-3 2m-1-2l-2 3 3 0zM320 189l-1 2m-1 0l0 3 2-2zM332 190l-4 2m-1-2l-2 3 3 0zM343 190l-7 2m0-2l-3 3 4 0zM351 189l-4 3m-1-1l-1 2 3 0zM362 190l-6 2m-1-2l-3 3 4 1zM372 190l-7 2m0-2l-3 2 4 1zM379 189l-3 3m-1-1l-1 2 3 0zM390 188l-5 4m-1-1l-1 3 3-1zM401 189l-7 3m-1-1l-2 3 4 0zM409 189l-4 3m-1-1l-1 3 3-1zM418 190l-3 2m-1-2l-2 3 3 0zM428 189l-4 3m-1-1l-2 3 4-1zM438 189l-5 3m-1-1l-1 3 3-1zM448 191l-5 0m0-1l-2 2 3 1zM456 190l-2 1m-1-1l-2 2 3 1zM467 188l-5 4m-1-1l-2 3 4 0zM476 189l-4 3m-1-1l-1 3 3-1zM485 191l-3 0m0-1l-2 2 2 1zM496 192l-5-1m1-1l-3 1 2 2zM506 190l-6 2m0-2l-3 3 4 0zM515 189l-5 3m-1-1l-1 3 3 0zM525 189l-5 3m-1-2l-2 3 4 0zM534 191l-4 0m0-1l-3 2 3 1zM544 189l-5 3m-1-1l-2 2 4 0zM553 191l-4 0m0-1l-2 2 3 1zM563 189l-5 3m-1-1l-1 3 3-1zM574 191l-7 0m0-1l-3 2 3 1zM582 191l-4 0m0-1l-3 2 3 1zM592 189l-5 3m0-1l-2 3 3-1zM612 192l-6-1m0-1l-3 1 3 2zM622 190l-6 2m0-2l-3 2 3 1zM9 183l2-1m1 0l1-2-3 1zM18 184l3-3m1 1l1-3-3 1zM27 182l4 0m0 1l3-2-3-1zM38 182l2 0m0 1l2-2-2-1zM47 182l3 0m0 1l2-2-3-1zM57 183l2-1m1 1l1-3-3 1zM67 182l2 0m0 1l2-2-3 0zM77 183l1-1m1 1l1-2-3 0zM86 183l2-1m1 0l1-2-3 1zM95 184l3-3m1 1l1-3-3 1zM106 184l1-2m1 0l1-2-3 1zM116 184l1-3m1 1l0-3-2 2zM126 185l1-4m1 0l-1-3-2 3zM138 182l-1 0m0-1l-2 0 1 2zM144 182l2 0m0 1l2-2-3-1zM155 185l0-4m2 0l-2-2-1 2zM163 182l2 0m0 1l2-1-2-2zM173 184l2-3m1 1l0-3-2 2zM182 183l2-1m1 0l1-2-2 1zM193 184l1-2m1 0l0-2-2 1zM202 183l2-1m0 1l2-3-3 1zM211 183l3-2m0 2l2-3-3 0zM221 182l2 0m0 1l2-2-3 0zM231 181l1 0m0 2l2-1-2-2zM241 185l1-4m2 0l-1-2-2 2zM252 183l0-1m1 0l-1-2-1 2zM260 185l2-4m1 0l-1-3-2 2zM275 184l-5-3m1-1l-4 0 2 2zM285 181l-6 1m0-2l-3 2 3 1zM294 184l-5-3m1-1l-3-1 1 3zM303 182l-4 0m0-2l-2 2 2 1zM313 180l-5 2m0-1l-3 2 4 0zM324 181l-7 1m0-2l-3 2 4 1zM333 181l-6 1m0-2l-3 3 3 1zM342 181l-5 1m0-2l-3 3 3 0zM351 183l-4-2m1-1l-3 0 2 3zM363 180l-7 2m-1-2l-3 3 4 1zM371 180l-5 2m-1-1l-2 3 3 0zM381 181l-6 1m0-2l-3 2 3 1zM391 181l-6 1m0-2l-3 3 3 1zM400 181l-5 1m-1-2l-2 3 3 0zM409 179l-4 3m-1-1l-1 3 3-1zM418 180l-3 2m-1-1l-2 2 3 0zM428 181l-4 1m0-2l-3 2 3 1zM436 180l-2 2m-1-1l-1 2 3 0zM445 179l-1 3m-1-1l0 3 2-2zM456 181l-2 1m-1-2l-2 2 3 1zM467 182l-5-1m1-1l-4 1 3 2zM476 181l-4 1m0-1l-2 2 3 0zM486 180l-4 2m-1-1l-2 3 3-1zM494 181l-2 1m0-2l-2 2 3 1zM504 180l-2 2m-1-1l-1 2 3 0zM513 182l-1 0m0-1l-2 1 2 1zM523 180l-2 2m-1-1l-1 2 3 0zM534 182l-4 0m0-2l-2 1 2 2zM542 183l-1-1m0-1l-2 0 1 2zM553 181l-4 1m0-2l-3 2 3 1zM559 180l0 1m-1 0l2 2 0-2zM609 182l-1 0m0-2l-2 2 2 1zM620 180l-3 2m-1-1l-2 2 3 0zM7 174l5-3m1 2l2-3-3 0zM18 176l4-5m1 1l0-4-3 2zM29 174l2-2m1 0l0-3-3 2zM37 174l4-3m1 2l1-3-3 0zM48 176l2-5m1 1l0-4-2 2zM57 175l3-4m1 1l1-3-3 1zM67 174l2-3m1 1l1-3-3 2zM77 175l2-3m1 0l0-3-3 2zM85 174l4-3m1 2l1-3-3 0zM97 175l1-4m1 1l0-3-2 2zM104 175l4-4m1 1l2-3-3 1zM114 173l4-1m0 1l2-2-3-1zM122 174l6-3m1 2l2-3-4 0zM133 174l4-3m1 2l2-3-4 0zM145 174l1-2m1 0l0-2-2 1zM153 174l3-2m1 1l1-3-3 1zM162 175l4-4m1 1l1-3-3 1zM173 173l1-1m1 1l1-2-2 0zM182 172l2 0m1 1l2-2-3 0zM191 173l3-1m1 1l2-2-3-1zM200 174l4-3m1 2l2-3-3 0zM213 174l0-2m1 0l0-2-2 2zM220 174l4-3m0 2l2-3-3 0zM229 174l4-3m1 2l2-3-3 0zM241 174l1-2m1 1l0-3-2 1zM249 173l3-1m1 1l1-2-3 0zM258 174l4-2m1 1l1-3-3 0zM274 172l-3 0m0-1l-3 1 3 1zM284 173l-4-1m0-2l-3 1 2 2zM294 173l-5-1m1-2l-4 1 3 2zM304 173l-5-1m0-2l-3 1 2 2zM312 170l-3 3m-1-2l-2 3 3 0zM323 172l-5 0m0-2l-3 2 3 2zM333 171l-6 1m0-1l-3 2 3 1zM342 170l-5 3m-1-2l-2 3 4 0zM352 170l-5 3m-1-2l-2 3 4 0zM361 170l-4 2m-1-1l-2 3 3 0zM371 171l-5 1m0-1l-3 2 4 1zM381 170l-6 3m0-2l-3 3 4 0zM391 170l-6 3m-1-2l-2 3 3 0zM399 171l-3 1m-1-1l-2 2 3 0zM409 169l-5 4m-1-1l-1 3 3-1zM417 171l-2 1m0-1l-2 1 3 1zM428 170l-4 2m0-1l-2 3 3-1zM436 170l-2 2m-1 0l0 2 3-1zM445 170l-1 2m-1-1l0 3 2-2zM456 172l-2 0m0-1l-2 1 2 1zM465 172l-1 0m0-1l-2 1 2 1zM476 171l-4 1m0-1l-2 2 3 0zM485 172l-2 0m0-1l-3 1 3 1zM494 172l-2 0m0-1l-2 1 2 1zM504 172l-2 0m0-1l-2 1 2 1zM512 173l0-1m1 0l-2-2 0 3zM522 170l-1 2m-1-1l0 2 2-1zM532 170l-1 2m-1-1l0 3 2-2zM590 171l-1 1m-1-1l-1 2 2 0zM597 171l1 1m-1 0l2 1 0-2zM609 173l-1-1m1-1l-3 0 1 2zM620 171l-3 1m-1-1l-1 2 3 0zM7 164l5-2m1 1l2-2-3-1zM18 165l4-4m1 2l1-4-4 1zM27 164l4-2m1 1l1-3-3 1zM37 165l4-3m1 1l1-3-3 1zM46 165l5-3m0 1l2-3-3 0zM57 164l3-2m0 1l2-2-3 0zM67 164l2-2m1 1l1-2-3 0zM75 164l4-2m1 1l2-3-3 1zM84 164l5-2m1 1l2-2-3-1zM96 164l2-2m1 1l1-2-3 0zM104 164l4-2m1 1l2-2-4 0zM114 163l3-1m1 1l2-2-3 0zM125 162l1 0m0 1l2 0-1-2zM133 164l4-2m0 1l2-2-3 0zM143 165l4-3m1 1l1-3-3 0zM153 163l2-1m1 1l2-2-3 0zM162 164l4-2m0 1l2-2-3 0zM172 163l3-1m0 1l2-2-2 0zM182 164l3-2m1 1l1-3-3 1zM193 165l1-3m1 0l0-3-2 2zM202 165l2-3m1 0l0-3-2 2zM210 165l4-3m1 1l1-3-3 1zM219 163l4-1m1 2l2-2-3-1zM229 165l4-3m1 1l2-3-4 0zM239 164l4-2m0 1l2-2-3 0zM249 162l3 0m0 2l3-1-3-2zM259 164l3-2m0 1l2-2-3 0zM273 164l-2-2m1-1l-3-1 1 3zM285 164l-6-2m1-2l-4 1 2 2zM294 164l-5-2m1-2l-3 0 1 3zM304 163l-5-1m0-1l-3 1 2 2zM314 163l-6-1m0-2l-3 1 3 3zM325 162l-8 0m0-1l-4 1 4 2zM333 164l-6-2m0-2l-3 1 2 2zM341 161l-3 2m-1-2l-2 2 3 1zM352 160l-6 3m0-1l-2 3 3 0zM362 160l-6 3m-1-1l-2 3 4 0zM371 159l-5 4m-1-1l-2 4 4-1zM380 161l-4 2m-1-2l-2 3 3 0zM389 159l-3 4m-2-1l0 3 3-1zM398 161l-2 1m-1-1l-1 3 3-1zM408 160l-3 3m-1-2l-1 3 3 0zM418 159l-3 4m-2-1l0 3 3-1zM427 161l-2 1m-1-1l-1 2 2 0zM436 160l-2 2m-1 0l0 2 2-1zM445 160l-1 2m-1 0l1 3 1-2zM456 162l-2 0m-1-1l-2 1 3 2zM466 162l-3 0m-1-1l-2 2 3 1zM476 163l-4-1m0-1l-3 1 3 2zM486 161l-4 2m-1-2l-2 3 3 0zM495 161l-3 1m-1-1l-1 2 2 1zM504 163l-2-1m0-1l-2 0 1 2zM514 161l-3 1m-1-1l-1 3 3 0zM562 163l-3-1m1-1l-3 0 2 2zM572 161l-3 1m-1-1l-2 2 3 1zM591 162l-3 0m0-1l-2 2 2 1zM602 162l-5 0m0-1l-3 2 3 1zM610 161l-3 1m0-1l-2 2 3 1zM619 161l-2 1m-1-1l0 3 2-1zM8 152l4 1m0 1l3-1-3-2zM18 154l3-2m1 2l2-3-3 0zM28 155l3-3m1 1l1-3-3 1zM38 154l2-2m1 2l1-3-3 0zM46 154l4-2m1 2l2-3-3 0zM57 154l2-1m1 1l1-3-2 1zM65 156l5-4m1 1l1-4-3 1zM75 155l4-3m1 1l2-3-3 1zM85 154l4-2m0 2l2-3-3 0zM93 154l6-2m0 2l3-2-3-1zM104 154l4-2m1 2l2-3-3 0zM113 154l5-2m1 2l2-3-3 0zM124 155l3-3m1 1l1-3-3 1zM133 155l4-3m1 1l1-3-3 1zM142 155l5-3m1 1l2-2-4 0zM153 154l3-2m0 2l2-3-3 0zM163 155l2-3m1 1l1-3-3 1zM173 156l2-4m1 1l1-4-3 2zM181 153l4 0m0 1l3-2-3-1zM191 155l4-3m1 1l1-3-3 1zM202 155l2-3m1 1l0-3-2 2zM211 155l3-3m1 1l1-3-3 1zM220 156l4-5m1 1l0-3-3 2zM230 155l3-3m1 1l1-2-3 0zM238 154l5-2m0 2l3-2-3-1zM248 153l4-1m1 2l2-2-3-1zM258 155l4-3m1 1l2-3-4 1zM274 156l-4-4m1-1l-3-2 1 4zM284 155l-5-3m1-2l-3 0 1 3zM294 155l-5-3m1-1l-3-1 1 3zM304 154l-5-2m0-1l-3 1 2 2zM313 155l-5-3m1-1l-3 0 2 2zM324 154l-7-2m1-1l-4 1 3 2zM335 153l-9-1m0-1l-4 1 4 2zM344 151l-8 2m0-2l-3 3 4 1zM352 150l-5 3m-1-1l-2 3 4 0zM363 151l-8 2m0-2l-3 3 4 1zM372 151l-7 2m0-1l-3 2 4 1zM381 150l-6 4m-1-2l-1 3 3 0zM391 150l-6 3m-1-1l-2 3 3 0zM399 151l-4 2m0-1l-2 2 3 0zM409 150l-4 3m-1-1l-2 3 4-1zM418 151l-4 2m0-1l-2 3 3-1zM427 151l-3 2m0-1l-2 2 3 0zM438 151l-4 2m-1-1l-2 3 3-1zM445 150l-1 3m-1-1l0 3 2-2zM456 152l-2 1m-1-2l-2 3 3 0zM466 151l-3 2m-1-1l-1 2 3 0zM475 152l-2 1m0-2l-2 2 3 1zM485 152l-3 1m0-2l-2 2 3 1zM495 152l-3 1m0-2l-2 2 2 1zM504 152l-2 1m-1-2l-2 2 3 1zM513 153l-1 0m0-2l-3 2 3 1zM553 151l-4 2m-1-1l-1 2 3 0zM562 153l-2 0m0-2l-3 1 3 2zM571 154l-2-1m1-2l-3 0 1 3zM581 154l-2-1m0-2l-2 1 1 2zM591 152l-3 1m0-1l-2 2 3 0zM601 152l-3 1m0-2l-3 2 3 1zM609 152l-1 0m0-1l-2 2 2 0zM621 152l-5 1m0-2l-2 2 3 1zM9 145l2-2m1 1l1-3-3 1zM19 144l2-1m1 1l1-2-3 0zM28 143l3 0m0 1l2-2-3 0zM37 144l3-1m1 1l2-2-3 0zM49 145l1-2m1 0l0-2-2 1zM56 144l4-1m0 1l2-2-3-1zM67 145l2-2m1 1l1-3-3 1zM77 145l2-2m1 1l0-3-2 1zM87 145l1-2m1 1l1-3-3 1zM97 144l1-1m1 1l-1-3-1 2zM106 145l1-2m1 1l0-3-2 1zM115 144l2-1m1 1l1-2-2 0zM126 145l1-2m1 0l-1-2-2 2zM135 146l2-4m1 1l0-3-3 2zM145 145l1-2m1 0l0-2-2 1zM153 144l2-1m1 1l2-2-3 0zM163 143l2 0m0 1l2-1-2-1zM175 145l0-2m1 0l-2-2 0 2zM182 146l3-4m1 1l1-3-3 1zM193 145l1-2m1 1l0-3-2 1zM202 144l1-1m1 1l1-3-3 1zM212 145l1-2m1 0l0-2-2 1zM220 145l4-3m0 2l2-3-3 0zM232 145l0-2m2 0l-1-2-2 2zM239 145l4-2m0 1l2-3-3 0zM251 145l1-2m1 0l-1-2-2 2zM259 145l2-2m1 1l1-3-3 1zM274 146l-4-4m1-1l-3-2 1 4zM284 145l-4-3m0-1l-3 0 2 3zM295 147l-7-6m1-1l-4-1 2 4zM304 145l-6-3m1-1l-4 0 2 3zM314 146l-6-4m0-2l-3 0 2 3zM322 143l-4 0m1-2l-3 1 2 2zM333 144l-6-1m0-2l-3 1 3 2zM343 143l-6 0m-1-2l-3 2 4 2zM352 142l-5 1m0-1l-3 2 3 1zM363 141l-8 3m0-2l-3 3 4 0zM371 140l-5 4m-1-2l-2 3 3 0zM380 139l-4 5m-1-1l-1 3 3-1zM390 138l-5 7m-2-1l0 4 3-2zM399 139l-4 6m-2-2l0 4 3-1zM407 140l-2 3m-1 0l0 2 3-1zM418 141l-4 2m0-1l-2 3 3 0zM427 140l-3 3m-1 0l0 3 3-2zM436 141l-2 2m0-1l-1 2 2 0zM447 141l-3 2m-1-1l-2 3 3-1zM456 141l-3 2m-1-1l-1 3 3-1zM465 141l-2 2m-1-1l0 3 2-1zM474 144l-1-1m1 0l-2-1 0 2zM484 141l-2 2m-1-1l0 3 2-1zM492 141l0 2m-1 0l1 2 1-2zM504 142l-2 1m-1-1l-1 2 3 0zM553 142l-4 1m0-1l-2 1 3 1zM561 141l-1 2m-1-1l-1 2 2 0zM572 144l-3-1m0-1l-2 0 1 2zM581 144l-2-1m0-1l-2 0 1 2zM591 144l-3-1m1-1l-3 0 2 2zM600 142l-2 1m0-1l-2 2 2 0zM610 142l-2 1m-1-1l-2 2 3 0zM619 141l-2 2m-1-1l-1 3 3-1zM14 131l-3 3m-1-1l-2 2 3 0zM21 132l0 1m-1 0l1 2 1-2zM33 133l-3 0m0-1l-2 2 3 0zM42 131l-2 3m-1-1l-1 3 3-1zM51 134l-1 0m1-1l-2-1 0 2zM61 133l-2 0m0-1l-2 2 3 0zM70 132l-1 1m-1-1l-1 2 3 0zM81 131l-3 3m-1-2l-1 3 3 0zM87 134l1-1m0 1l2-1-3-1zM96 133l1 0m0 1l2 0-2-2zM109 133l-1 0m0-1l-2 1 2 1zM117 131l0 2m-1 0l1 2 1-2zM127 130l0 4m-2-1l1 3 2-2zM138 133l-2 0m0-1l-2 2 3 0zM147 133l-1 0m0-1l-2 2 3 0zM158 134l-3-1m0-1l-2 1 2 1zM164 132l1 1m-1 1l2 0 0-2zM176 134l-1-1m1 0l-3-1 1 2zM186 133l-2 0m1-1l-3 1 2 1zM197 134l-3-1m0-1l-3 0 2 2zM206 134l-3-1m1-1l-3 0 2 2zM214 136l-1-3m1-1l-2-1 0 2zM225 135l-2-2m1-1l-3-1 1 3zM234 136l-2-3m1-1l-2-2 0 3zM246 138l-5-7m1-1l-4-2 1 4zM252 136l0-3m1 0l-2-3-1 3zM265 137l-5-5m1-1l-3-2 1 4zM273 137l-3-5m2-1l-3-2 0 4zM285 137l-6-5m1-2l-4-1 2 4zM294 136l-5-3m1-2l-3 0 1 3zM303 136l-4-4m1-1l-3-1 1 3zM312 137l-3-5m1-1l-3-1 0 3zM323 135l-5-2m0-2l-3 1 2 2zM334 134l-7-1m0-2l-4 2 4 2zM342 132l-4 1m-1-1l-2 2 3 1zM352 131l-6 3m0-1l-2 3 3 0zM362 130l-6 4m-1-1l-2 3 4 0zM371 128l-6 8m-1-1l0 4 3-2zM380 128l-5 7m-1-1l-1 4 4-2zM389 129l-3 5m-2 0l0 3 3-2zM398 129l-3 6m-1-1l0 4 3-3zM409 129l-5 6m-1-1l-1 3 4-1zM418 129l-4 6m-1-1l0 3 3-2zM428 129l-4 6m-2-1l0 3 3-1zM437 131l-3 3m-1-2l-1 3 3 0zM446 130l-2 4m-2-1l0 4 3-2zM456 132l-3 1m0-1l-2 3 3 0zM465 132l-2 1m0-1l-2 2 3 0zM474 131l-1 2m-1 0l0 3 2-2zM483 132l0 1m-1-1l0 3 2-1zM562 132l-3 1m0-1l-2 3 3 0zM571 132l-2 1m-1-1l0 3 2-1zM582 132l-4 1m0-1l-2 2 3 1zM590 132l-2 1m0-1l-1 3 2-1zM598 131l0 2m-1 0l1 3 1-3zM12 125l-1-1m1 0l-1-2-1 2zM22 125l-1-1m1-1l-3-1 1 3zM33 124l-3 0m0-2l-2 1 2 2zM41 126l-1-3m1 0l-2-2 0 3zM52 123l-2 0m-1-1l-1 2 2 1zM61 125l-1-1m0-1l-2 0 1 2zM72 123l-4 1m0-2l-2 2 3 1zM81 123l-3 1m0-2l-2 2 2 1zM92 123l-5 1m0-2l-2 2 3 1zM100 125l-3-2m1-1l-3 0 1 2zM107 121l0 3m-1 0l2 2 1-3zM119 123l-2 1m0-2l-2 2 2 1zM126 122l1 1m-2 0l2 3 1-3zM138 124l-1 0m0-1l-3 0 2 2zM148 122l-2 1m-1 0l-1 2 3-1zM158 125l-3-2m1-1l-3 1 2 2zM167 125l-2-1m1-2l-3 0 1 3zM175 125l0-1m1-1l-2-1 0 2zM185 125l-1-1m1-1l-2-1 0 2zM197 124l-3 0m0-2l-3 1 3 2zM205 125l-1-1m1-1l-3-1 1 2zM215 126l-2-3m1 0l-2-2 0 3zM224 127l-1-4m1-1l-2-2-1 3zM235 128l-4-6m2-1l-3-1 0 3zM243 127l-1-5m1 0l-2-2-1 3zM254 127l-3-4m1-1l-3-2 1 3zM264 127l-4-5m2-1l-3-1 0 3zM273 129l-3-8m2-1l-4-2 0 4zM282 129l-2-8m2 0l-3-3-1 4zM291 127l-1-4m1-1l-2-2-1 3zM302 127l-3-5m1 0l-3-2 1 3zM312 126l-3-3m1-1l-4-1 2 3zM321 126l-2-3m1-1l-3-1 1 3zM332 125l-4-2m0-1l-3 0 2 3zM341 121l-4 3m-1-1l-1 3 3-1zM351 121l-4 3m-1-1l-1 3 3 0zM360 120l-3 4m-1 0l-1 3 3-2zM370 120l-4 5m-1-2l-1 4 3-1zM379 117l-3 9m-2 0l0 4 3-3zM389 119l-4 6m-1 0l0 3 3-2zM398 120l-3 5m-1-1l0 3 3-2zM407 120l-2 5m-1-1l0 4 3-3zM417 120l-2 4m-1 0l0 3 2-2zM427 120l-3 5m-1-1l-1 3 3-1zM436 121l-2 3m-1-1l0 3 2-1zM445 120l-1 4m-1 0l0 3 2-3zM455 121l-1 3m-1-1l0 3 2-2zM463 121l0 3m-1 0l2 2 1-3zM475 124l-2 0m0-2l-2 1 2 2zM492 121l0 3m-1 0l1 2 1-2zM590 123l-1 0m-1-1l-1 2 2 0zM13 116l-2-2m1-1l-2-1 0 3zM20 116l1-2m1 0l-1-2-1 2zM31 112l0 1m-1 0l0 2 2-1zM41 117l-1-3m1-1l-2-2 0 3zM51 113l-1 1m-1-1l-1 2 3-1zM60 115l0-1m0-1l-2 0 1 2zM68 116l1-2m1 1l-1-3-1 2zM79 112l0 2m-2 0l1 2 2-2zM89 112l-1 1m-1 0l0 2 2-1zM100 115l-2-1m0-1l-2 0 2 2zM109 115l-1-1m0-1l-2 0 1 2zM119 114l-2 0m0-1l-2 1 2 1zM125 114l1 0m0 1l2-1-2-1zM138 113l-1 1m-1-1l-1 2 2 0zM147 114l-1 0m0-1l-2 1 2 1zM158 113l-3 1m0-1l-2 2 3 0zM165 116l0-2m1 1l-1-3-1 2zM175 116l0-2m1 0l-1-2-2 2zM183 113l1 1m-1 0l2 1 0-2zM196 114l-2 0m0-1l-2 0 2 2zM204 116l0-2m1 0l-2-2 0 3zM214 117l-1-3m1-1l-2-2 0 3zM224 117l-1-4m1 0l-2-2-1 3zM233 117l-1-4m2 0l-2-2-1 2zM243 117l-1-4m1 0l-2-2 0 3zM251 119l1-7m2 0l-2-3-2 3zM260 119l2-7m2 0l-1-3-3 2zM272 119l-1-7m1 0l-2-3-1 3zM281 119l-1-7m2 0l-2-4-1 4zM290 119l0-7m2 0l-1-3-2 3zM301 117l-1-4m1 0l-3-2 0 3zM310 117l-1-4m2 0l-3-3 0 3zM321 117l-2-4m1 0l-3-2 0 3zM330 113l-1 1m-1-1l-1 2 3 0zM339 112l-1 2m-1-1l0 3 2-1zM349 110l-1 5m-2 0l1 3 2-3zM357 110l0 5m-1 0l1 3 2-3zM366 110l1 5m-1 0l2 3 1-3zM378 109l-2 7m-1 0l1 3 2-3zM389 108l-4 8m-1-1l0 4 3-2zM396 109l0 7m-2 0l2 3 2-3zM406 109l-1 6m-1 0l1 3 2-2zM416 109l-1 7m-2-1l1 4 2-3zM424 111l1 3m-1 1l1 2 1-3zM434 112l0 2m-1 0l2 2 1-3zM445 111l-1 3m-1 0l0 3 2-2zM453 110l1 5m-2 0l2 2 1-3zM462 112l1 2m-1 0l2 2 0-3zM475 114l-2 0m0-1l-2 1 2 1zM9 102l2 2m-1 1l3 1-1-3zM19 103l2 1m-1 1l3 0-2-2zM29 103l1 1m0 1l2 0-1-2zM42 105l-2-1m1-1l-3 1 2 1zM48 104l1 0m0 1l2-1-2-1zM62 106l-3-2m1-1l-3 0 1 2zM69 106l0-1m1 0l-1-3-1 2zM78 106l0-2m2 1l-1-3-2 2zM86 104l2 0m0 1l2-1-2-1zM97 106l0-1m1 0l1-2-2 1zM104 103l4 2m-1 1l4 0-2-3zM115 104l2 0m0 1l2-1-3-1zM126 102l0 2m-1 0l2 2 1-3zM137 106l-1-2m1 0l-2-2 0 3zM146 106l0-1m1-1l-1-1-1 2zM154 103l1 1m-1 1l3 0-1-2zM166 106l-1-2m1 0l-2-1 0 2zM173 103l1 1m0 1l2 0-1-2zM185 106l-1-2m2 0l-2-2-1 3zM192 106l2-2m1 1l1-3-3 1zM202 107l2-3m1 1l0-3-3 1zM211 107l3-3m1 0l0-3-3 2zM222 108l1-5m1 1l-1-3-1 2zM232 109l0-6m2 0l-1-3-2 3zM241 109l1-7m2 1l-1-4-2 3zM251 109l1-6m2 0l-2-4-2 3zM261 110l1-8m1 0l-1-4-2 4zM271 111l0-10m2 0l-2-3-2 3zM280 109l1-6m1 0l-1-4-2 3zM290 109l0-7m2 1l-1-4-2 3zM298 109l2-6m2 0l-1-3-2 2zM310 107l-1-3m2 0l-2-3-1 3zM318 105l1 0m0 0l1-2-2 1zM325 105l4-1m0 1l3-1-3-1zM339 102l-1 2m-1 0l1 2 1-2zM347 101l1 4m-1 0l2 3 1-3zM356 100l2 6m-2 0l3 3 1-4zM367 100l0 6m-1 0l1 3 2-3zM375 99l2 7m-2 1l3 2 1-3zM388 99l-2 7m-2-1l1 4 3-3zM396 98l0 9m-2 0l2 4 2-4zM406 99l-1 7m-1 0l1 3 2-3zM415 101l0 4m-1 0l2 2 1-3zM424 101l1 4m-1 0l1 3 1-3zM434 102l0 2m-1 1l2 1 1-2zM443 103l1 1m-1 0l2 2 0-3zM453 101l1 4m-1 0l2 2 0-3zM9 95l2 0m0 1l2-2-2-1zM20 96l1-1m1 0l0-2-2 1zM29 95l1 0m0 1l2-2-2-1zM39 94l1 0m-1 1l2 0-1-2zM48 95l1 0m1 1l2-2-3-1zM57 95l2 0m0 1l2-2-2-1zM67 95l1 0m1 1l1-2-2 0zM75 96l4-2m1 1l2-2-4 0zM88 92l0 2m-1 0l1 3 1-3zM96 94l1 0m0 2l3-1-2-2zM106 94l1 0m0 2l2-1-2-2zM115 96l2-1m1 1l1-3-3 1zM125 95l1 0m0 1l2-2-2-1zM133 95l4-1m0 2l2-2-3-1zM143 95l3-1m0 2l2-2-2-1zM155 96l0-1m1 0l0-2-2 1zM164 96l1-1m1 1l0-3-2 1zM174 98l1-4m1 0l-1-3-2 3zM185 96l0-1m1-1l-2-1 0 2zM192 97l2-3m1 1l1-3-3 1zM202 95l1 0m1 1l2-2-3-1zM213 98l0-4m2 0l-1-3-2 2zM221 97l2-3m1 1l0-3-2 2zM231 98l2-4m1 0l0-3-3 2zM241 99l2-6m1 0l-1-3-2 2zM251 100l1-8m2 0l-1-3-3 3zM260 100l2-8m2 1l-2-4-2 3zM270 99l1-6m2 0l-1-3-2 3zM278 99l3-6m2 0l0-3-3 2zM287 99l4-6m2 0l0-3-3 2zM297 97l4-3m0 1l2-3-3 1zM306 96l4-2m1 1l1-2-3 0zM316 97l4-3m0 1l2-3-3 1zM327 93l1 1m-1 1l3 1-1-3zM335 94l4 1m-1 1l3-1-2-2zM347 91l1 5m-1 0l2 2 1-3zM357 90l1 6m-2 0l2 3 1-3zM365 91l3 4m-2 1l3 2 0-3zM376 90l1 6m-2 0l2 3 1-3zM384 90l3 6m-1 1l3 2 0-3zM395 90l1 6m-1 0l2 3 1-3zM404 90l2 6m-2 1l3 2 1-3zM415 91l0 4m-1 0l1 3 2-3zM423 92l2 3m-1 0l2 2 0-3zM433 90l2 6m-2 0l3 3 0-4zM443 92l1 3m-1 0l2 2 0-3zM452 94l2 0m-1 2l3-1-2-2zM9 86l2-1m1 1l1-2-2 0zM17 84l4 1m0 1l3-1-2-1zM27 84l4 1m0 1l3 0-3-2zM38 85l2 0m0 1l2-1-2-1zM47 85l3 0m0 1l3-1-3-2zM56 85l4 0m0 1l3-1-3-2zM67 85l2 0m0 1l2-2-3 0zM77 84l1 1m0 1l2 0-1-2zM86 84l2 1m0 1l2-1-2-1zM97 83l0 1m0 1l2 1-1-2zM106 86l1-1m1 1l1-3-3 1zM115 87l2-3m1 1l1-2-3 0zM125 84l1 1m0 1l2 0-1-2zM134 84l2 1m0 1l3-1-3-1zM144 85l1 0m1 1l2-1-3-1zM152 86l4-1m1 1l2-2-3-1zM162 85l3 0m0 1l3-1-3-2zM172 85l3 0m0 1l2-2-2-1zM181 86l4-1m1 1l2-2-3-1zM191 87l4-3m1 1l1-3-3 1zM201 87l3-2m1 1l1-3-3 0zM210 86l4-2m1 2l1-3-3 0zM222 88l1-4m1 0l0-3-2 3zM232 89l1-5m1 0l-1-3-2 3zM239 89l4-6m2 1l0-3-3 1zM250 89l2-6m2 1l0-3-3 2zM259 90l3-7m2 0l0-4-3 3zM268 89l4-6m1 1l1-4-4 2zM277 90l5-7m1 1l1-4-4 2zM287 89l5-6m1 1l1-3-4 1zM296 88l5-4m1 1l1-3-3 1zM306 86l4-1m1 1l2-2-3-1zM315 85l5 0m0 1l3-1-3-2zM325 84l4 1m0 1l3 0-2-2zM335 84l4 1m0 1l2-1-2-1zM344 82l5 4m-1 1l3 1-1-4zM354 81l5 5m-2 1l4 2-1-4zM365 80l3 7m-2 0l3 3 0-4zM373 80l5 7m-1 1l3 2 0-4zM384 82l3 4m-1 1l3 1-1-3zM394 81l3 5m-2 1l3 2 0-3zM404 83l2 2m-1 1l3 1-1-3zM413 81l3 5m-2 1l3 2 0-4zM422 82l4 3m-1 2l3 0-1-3zM433 83l1 2m0 1l2 0-1-2zM443 82l1 3m-1 1l3 1-1-2zM47 77l3-2m0 1l2-2-3 0zM56 74l4 1m0 2l3-1-3-2zM66 74l3 1m0 1l3 0-2-2zM77 76l1-1m1 1l1-2-2 0zM87 77l1-2m1 1l1-3-3 1zM95 77l3-2m1 1l1-3-3 1zM105 75l3 0m0 1l2-1-2-1zM115 75l2 0m0 1l2-1-2-1zM123 74l5 1m-1 2l4-1-3-2zM134 75l2 0m1 1l2-1-3-1zM143 75l3 0m0 2l3-1-3-2zM153 75l2 0m0 1l3 0-2-2zM162 74l4 1m-1 2l3 0-2-3zM173 74l2 1m-1 1l2 0-1-2zM182 76l2-1m1 1l1-2-2 0zM191 75l3 0m0 1l3-1-3-1zM200 76l5-1m0 1l2-2-3-1zM210 76l4-1m0 1l2-2-3 0zM220 77l3-2m1 1l1-2-3 0zM230 78l3-4m1 1l1-3-3 1zM238 76l5-1m0 1l3-2-3-1zM248 79l5-5m1 1l1-3-3 1zM258 79l5-6m1 2l1-4-4 1zM266 79l7-5m1 1l1-4-4 1zM277 78l5-4m1 1l1-3-3 1zM286 79l6-5m1 1l2-4-4 1zM295 80l7-7m1 1l1-3-3 1zM304 76l8-1m0 2l3-3-4-1zM314 79l7-6m2 2l1-4-4 1zM323 75l7 0m1 2l3-2-4-2zM334 74l6 1m-1 2l4-1-3-2zM342 73l8 3m-1 2l4-1-3-3zM353 73l6 3m-1 1l4 0-2-3zM362 72l7 5m-1 1l4 1-2-4zM374 71l4 6m-2 1l4 1-1-3zM383 71l5 6m-2 1l4 2-1-4zM392 73l5 3m-1 1l4 1-2-3zM402 72l5 4m-2 1l4 2-1-4zM412 74l4 1m-1 2l3-1-2-2zM420 73l7 3m-1 2l4 0-3-3zM431 72l4 4m-1 1l4 1-1-3zM441 73l4 3m-1 1l4 0-2-3zM66 67l3-2m1 1l2-2-3 0zM76 65l2 0m0 2l3-1-2-2zM85 68l4-3m1 1l1-3-3 1zM93 66l6-1m0 2l3-2-3-1zM105 65l3 0m-1 2l3-1-2-2zM114 66l3-1m1 2l2-2-3-1zM124 65l3 0m-1 2l3-1-2-2zM133 67l4-2m1 1l2-2-3 0zM142 64l5 2m-1 1l4-1-3-2zM153 67l3-2m0 2l2-3-3 0zM162 65l4 1m0 1l2-1-2-2zM171 67l5-2m0 1l2-2-3 0zM182 66l2-1m1 2l2-2-3-1zM191 64l4 2m-1 1l3 0-2-3zM202 68l2-3m1 1l0-3-2 2zM210 67l4-2m1 1l2-2-4 0zM220 66l3-1m1 2l2-3-3 0zM227 68l7-3m1 1l3-3-4 0zM238 69l5-5m2 1l1-3-4 1zM248 69l5-5m1 2l1-4-3 1zM257 67l6-2m0 1l2-2-3 0zM267 69l5-5m1 2l2-4-4 1zM276 68l6-3m1 1l2-3-3 0zM285 67l7-2m1 1l2-3-4 0zM295 67l7-2m0 1l3-2-4-1zM306 68l5-3m1 1l1-3-3 0zM313 66l8-1m0 2l4-2-4-2zM322 66l10-1m0 2l3-2-3-2zM334 64l5 2m0 1l3-1-2-2zM343 64l6 2m0 2l4-1-3-2zM351 64l9 2m0 2l4-1-3-3zM361 62l9 5m-1 2l4 0-2-4zM372 63l7 3m-1 2l4 0-3-3zM381 64l7 2m0 2l4-1-3-3zM392 62l5 4m-1 2l3 1-1-4zM401 65l6 1m0 1l3-1-3-2zM411 65l5 1m0 1l3-1-3-2zM421 65l5 1m-1 1l3-1-2-2zM430 65l6 1m-1 1l3-1-2-2zM440 64l6 2m-1 2l3-1-2-2zM76 54l3 2m-1 1l3 1-1-3zM86 56l2 0m1 1l1-2-2 0zM94 55l5 1m-1 1l3-1-2-2zM105 56l2 0m1 1l2-2-3 0zM114 56l3 0m0 1l3-1-3-2zM123 56l4 0m0 1l3-1-3-2zM132 57l5-2m1 2l2-2-3-1zM144 58l2-3m1 1l1-2-3 0zM153 55l3 1m0 1l2 0-2-2zM162 57l4-1m0 1l3-2-3-1zM171 56l4 0m0 1l3-1-3-2zM180 57l6-2m0 2l3-3-4 0zM191 56l3 0m0 1l2-1-2-1zM201 55l3 1m0 1l2 0-2-2zM209 58l5-3m1 2l2-3-3 0zM220 58l3-3m1 2l2-3-3 0zM230 59l3-4m1 1l1-3-3 1zM237 58l7-3m1 1l2-3-4 0zM248 58l5-3m1 1l2-2-4 0zM257 59l6-4m1 1l1-3-3 0zM266 59l7-5m1 2l1-4-4 1zM276 58l6-3m1 2l2-3-4-1zM285 57l7-2m0 2l3-3-3 0zM295 57l6-2m1 2l2-2-3-1zM304 57l7-2m1 2l2-2-3-1zM314 57l7-2m0 2l3-2-4-1zM323 55l8 1m0 2l4-1-4-3zM332 56l9-1m0 2l4-2-4-1zM343 55l7 1m0 2l3-1-3-3zM351 55l9 1m0 2l4-1-4-3zM362 55l7 1m0 2l3-2-3-2zM372 52l7 5m-1 2l4 0-2-3zM382 54l6 2m0 2l3-1-2-2zM392 55l5 1m0 2l3-1-2-3zM401 54l6 2m0 2l3 0-2-3zM411 55l5 1m0 2l3-1-2-2zM421 56l5 0m0 1l3-2-3-1zM431 55l4 1m0 1l2-1-2-2zM441 56l3 0m0 1l3-1-3-2zM85 47l4-1m0 1l2-2-3 0zM94 46l4 0m0 2l3-2-2-1zM104 45l4 1m0 2l3-1-2-2zM115 49l2-3m1 1l1-3-3 1zM123 47l5-1m0 1l2-2-3-1zM132 46l5 0m0 2l3-2-3-2zM142 47l5-1m0 1l3-2-3-1zM152 45l4 1m0 2l3-1-3-2zM162 46l4 0m0 1l2-1-2-1zM172 46l3 0m0 1l3-1-3-1zM181 47l4-1m0 1l3-1-3-1zM192 47l2-1m0 1l2-2-3 0zM199 46l6 0m0 2l3-2-3-2zM208 47l7-1m0 2l3-2-3-2zM219 47l5-1m0 1l2-2-3-1zM229 48l4-2m1 1l2-2-3-1zM238 48l5-3m1 2l2-3-3 0zM248 47l5-1m0 1l3-2-4-1zM258 47l4-1m1 1l2-2-3-1zM266 48l6-3m1 2l2-3-3 0zM276 48l6-3m1 2l2-3-3 0zM286 46l6 0m0 2l3-2-4-2zM294 47l8-1m0 2l3-3-3-1zM305 48l6-2m0 1l2-2-3-1zM314 47l7-1m0 1l3-2-4-1zM325 46l5 0m0 2l3-1-3-2zM332 46l9 0m0 2l3-2-4-2zM343 46l6 0m0 2l4-2-3-2zM352 45l7 1m0 2l4-1-3-2zM362 44l7 3m-1 2l4-1-2-3zM372 45l6 1m0 2l4-1-3-2zM382 45l6 1m-1 2l4-1-3-2zM392 44l5 3m0 1l3 0-2-3zM402 46l4 0m0 2l3-2-2-1zM413 44l3 2m-1 2l3 0-1-3zM420 45l6 1m0 2l4-1-3-2zM431 46l4 0m0 2l3-2-3-1zM86 36l2 0m0 2l3-1-2-2zM94 34l5 3m-1 1l3 0-2-2zM104 35l4 2m0 1l3 0-2-3zM113 36l5 1m0 1l3-1-3-2zM124 36l3 0m0 2l2-1-2-2zM134 34l3 3m-1 1l3 1-1-3zM152 37l4-1m0 2l3-2-3-1zM162 35l4 2m-1 1l3 0-2-3zM171 37l5-1m0 2l3-2-3-1zM181 38l4-2m1 1l2-2-3 0zM190 36l5 1m0 1l2-1-2-2zM201 38l3-2m0 1l2-2-3 0zM210 37l4-1m0 2l3-2-3-1zM219 35l5 2m-1 1l3 0-2-3zM229 37l4-1m0 2l3-2-3-1zM239 36l4 1m-1 1l3-1-2-2zM248 38l5-2m0 1l3-2-4 0zM258 36l4 0m0 2l3-2-3-1zM267 38l5-2m1 1l2-2-4-1zM277 37l4-1m1 2l2-2-3-1zM287 36l4 0m0 2l3-2-3-1zM295 37l6-1m0 2l3-2-3-1zM305 37l6-1m0 2l3-3-4 0zM314 36l7 1m-1 1l4-1-3-2zM325 37l5-1m0 2l3-2-3-1zM335 37l4-1m0 2l3-2-3-1zM343 35l6 2m0 1l4 0-3-3zM353 37l6-1m0 2l3-2-3-1zM364 33l4 4m-1 1l3 2-1-4zM373 34l5 3m-1 2l4-1-2-2zM382 35l6 2m-1 1l4 0-3-3zM392 35l5 2m0 1l3 0-2-3zM402 35l4 2m0 1l3 0-2-3zM413 35l3 2m-1 1l3 0-2-3zM421 33l5 4m-1 2l3 0-1-3zM614 35l4 2m-1 1l3 0-2-3zM67 26l2 1m-1 1l3 0-2-2zM77 28l1-1m1 1l1-2-2 0zM85 26l4 1m-1 1l3 0-2-2zM96 27l1 0m0 1l2-1-2-1zM106 26l1 1m-1 0l3 1-1-2zM114 27l3 0m0 1l3-1-3-2zM123 27l4 0m1 1l2-2-3-1zM133 26l4 1m-1 1l3 0-2-2zM162 27l3 0m1 1l2-2-3-1zM172 25l3 2m-1 1l3 0-1-2zM183 28l1-1m1 1l1-2-2 0zM191 28l3-1m1 1l2-2-3-1zM202 28l2-1m0 1l1-3-2 1zM210 27l4 0m0 1l2-2-3-1zM220 25l3 2m0 1l3 0-2-2zM228 26l5 1m0 1l3-1-2-2zM239 27l4 0m0 1l2-2-2-1zM248 27l5 0m0 1l3-2-3-1zM258 28l4-1m0 1l3-2-3-1zM269 29l2-2m1 0l1-2-3 1zM276 27l6 0m0 1l3-1-3-2zM287 26l4 1m0 1l2-1-2-2zM297 27l3 0m0 1l3-2-3-1zM305 27l5 0m0 1l3-1-2-2zM315 25l5 2m0 2l3-1-2-2zM325 26l5 1m-1 2l4-1-3-2zM334 26l5 1m0 1l3 0-2-2zM344 26l5 1m-1 1l3-1-2-2zM354 26l4 1m0 1l3-1-3-2zM364 27l4 0m0 1l3-1-3-2zM374 25l3 2m0 1l3 0-2-2zM382 25l6 2m-1 2l3 0-2-3zM393 26l3 1m0 1l3 0-2-2zM403 26l3 1m0 1l3 0-2-2zM413 26l2 1m0 1l2 0-1-2zM604 27l4 0m0 1l3-2-3-1zM614 26l4 1m0 1l3-1-3-2zM77 15l2 2m-1 1l2 1 0-3zM86 16l2 1m-1 1l3 0-1-2zM96 16l2 1m-1 1l3 0-2-2zM106 17l1 0m0 1l2-1-2-1zM116 16l1 1m-1 0l2 1 0-2zM126 19l0-2m1 1l0-3-2 2zM135 18l1-1m1 1l0-2-2 1zM163 16l2 1m-1 1l3 0-1-2zM172 16l3 1m-1 1l3 0-2-2zM181 15l4 2m-1 2l4 0-2-3zM193 18l1-1m0 1l1-2-2 0zM201 17l3 0m0 1l2-1-2-1zM212 16l1 1m-1 1l2 0 0-2zM221 16l2 1m-1 1l3 0-1-2zM232 15l0 2m-1 0l2 2 0-3zM239 18l4-1m0 1l2-1-3-1zM250 17l2 0m-1 1l3 0-2-2zM260 19l1-2m1 1l1-3-3 1zM270 18l1-1m0 1l1-2-2 0zM276 17l6 0m0 2l3-2-3-1zM289 18l1-1m0 1l2-2-3 0zM298 16l2 1m-1 1l3 0-2-2zM307 15l3 2m-1 1l3 1-1-3zM325 15l4 2m0 2l3 0-2-3zM336 18l2-1m1 1l2-2-3 0zM345 17l3 0m0 1l2-1-2-1zM356 15l2 2m-1 1l2 1 0-3zM365 16l2 1m0 1l3 0-2-2zM374 16l3 1m-1 1l3 0-2-2zM385 16l1 1m0 1l2 0-1-2zM393 16l3 1m0 2l3-1-2-2zM577 15l2 2m-1 1l3 1-1-3zM587 15l1 2m-1 1l3 1-1-3zM597 16l1 1m-1 0l2 2 0-3zM606 15l2 2m-1 1l2 1-1-3zM615 17l2 0m1 1l2-1-3-1zM135 6l1 1m-1 1l3 1-1-3zM144 8l1-1m1 2l2-2-3-1zM154 6l1 1m-1 1l3 1-1-3zM182 5l3 3m-1 1l2 1 0-3zM203 6l0 1m-1 0l2 2 0-3zM211 6l2 1m0 2l3-1-2-2zM221 7l2 0m-1 1l3 0-2-2zM232 5l0 2m-1 0l1 2 2-2zM243 6l-1 1m-1-1l0 3 2-2zM253 7l-1 0m0-1l-2 2 3 0zM263 6l-1 1m-1-1l-1 2 2 0zM269 7l1 0m0 1l2 0-1-2zM278 8l3-1m0 2l2-2-3-1zM288 8l2-1m0 2l2-2-2-1zM356 6l1 1m0 1l2 1-1-3zM365 6l2 1m-1 1l3 0-1-2zM567 6l2 1m-1 1l3 0-1-2zM578 5l1 3m-1 0l1 2 1-3zM586 7l2 0m0 1l2 0-2-2zM595 6l4 2m-1 1l3 0-2-2zM607 5l1 2m-2 1l2 2 1-3zM617 9l0-1m1 0l0-3-2 2zM147-3l-1 1m0-2l-2 2 3 1zM154-1l1-1m1 1l1-2-2 0zM163-2l2 0m0 1l2-2-2 0zM223 0l0-2m1 0l-2-2 0 2zM232-4l0 1m-1 0l2 2 0-2zM240-2l2 0m0 1l2-2-2 0zM249-3l3 1m-1 1l3-1-2-2zM260-4l1 1m-1 1l2 1 0-2zM271-4l0 1m-1 0l1 2 1-2zM280-1l0-1m1 1l0-3-2 1zM567-1l2-1m1 1l1-2-2 0zM577-4l2 2m-1 1l3 1-1-3zM587-4l1 1m-1 1l2 1 0-2zM596-4l2 2m-1 1l3 1-1-3zM608-5l0 3m-2-1l1 3 2-2zM615-3l2 1m0 1l3-1-3-2z" fill="#23231a" stroke="#23231a" stroke-width="0.95" stroke-linejoin="round" opacity="0.78"/>
<path d="M135.1,81.1 C135.1,76.7 136.9,73.4 146.1,71 C155.3,68.5 174.8,66.6 190.3,66.6 C205.7,66.6 227.4,68.5 238.8,71 C250.3,73.4 254.9,77.6 258.7,81.1 C262.6,84.7 262.9,89 261.8,92.2 C260.7,95.3 254.6,98.4 252.1,100.1 C249.6,101.8 246.1,101.7 246.8,102.3 C247.5,102.9 252,104.8 256.5,103.7 C261.1,102.6 262.4,99.2 274.2,95.7 C286,92.2 308,87.5 327.2,82.5 C346.3,77.4 376.1,67.6 389,65.7 C401.9,63.8 402.4,66.6 404.5,71 C406.5,75.4 405.4,85.5 401.4,92.2 C397.3,98.8 391.1,105.2 380.2,110.7 C369.3,116.2 353,121.3 336,125.3 C319.1,129.3 298.5,133.3 278.6,134.6 C258.7,135.8 228.7,134.7 216.8,132.8 C204.8,130.9 212.9,126.8 207,123.1 C201.2,119.4 191.6,115 181.4,110.7 C171.3,106.5 153.8,102.4 146.1,97.5 C138.4,92.5 135.1,85.5 135.1,81.1 Z" fill="none" stroke="#f0201c" stroke-width="2.4" stroke-linejoin="round"/>
<path d="M7,101 C8.8,102.8 13.2,108.7 18,112 C22.8,115.4 31.6,120.5 35.7,120.9 C39.7,121.3 41.2,115.4 42.3,114.3" fill="none" stroke="#f0201c" stroke-width="2.4" stroke-linejoin="round"/>
<path d="M37.9,76.7 C41.9,70.8 59.2,67.9 64.4,72.3 C69.5,76.7 72.8,97.3 68.8,103.2 C64.7,109.1 45.2,112 40.1,107.6 C34.9,103.2 33.8,82.6 37.9,76.7 Z" fill="none" stroke="#f0201c" stroke-width="2.4" stroke-linejoin="round"/>
<path d="M605.5,277.7 C605.8,274.7 605.5,264.1 607.7,260 C609.9,256 616.9,254.5 618.7,253.4" fill="none" stroke="#2a3cc4" stroke-width="2.4" stroke-linejoin="round"/>
<path d="M287.1,-2.3 L289,2.7 L292.8,5.4 L300.9,7.7 L302.5,12.4 L309.4,12.8 L317.1,12.4 L320.9,14.3 L315.2,19 L307.5,23.2 L299.8,25.9 L291.7,28.3 L297.8,27.1 L305.5,24.4 L315.2,22.5 L322.8,19.4 L330.5,15.5 L334.4,12 L338.2,8.9 L342.1,4.6 L340.9,10.1 L345.9,9.7 L353.6,7 L359.4,4.3 L367.1,6.2 L374.8,7.4 L384.4,8.1 L392.1,11.2 L399.8,14.3 L403.7,18.2 L409.4,22.9 L415.2,26.7 L421,29.8 L424,32.5 L426.7,36.8 L432.5,41.4 L435.2,44.9 L442.1,50 L447.1,52.7 L446,57.7 L447.9,63.5 L447.1,72.4 L446.8,79 L449.1,86.8 L453.7,93.3 L456.4,98.4 L461,105.7 L469.1,108.1 L474.1,113.1 L476.8,118.9 L479.5,122.8 L485.6,130.5 L486.4,134.4 L492.9,143.7 L495.2,145.6 L501.8,151 L503.7,149.1 L500.6,145.6 L496,138.3 L491,129 L485.2,122.4 L483.3,117.7 L490.2,119.7 L493.3,124.3 L498.7,131.7 L504.5,138.3 L509.5,142.9 L516,149.5 L519.1,157.2 L519.9,160.7 L521.8,165.4 L526.4,168.9 L534.5,172 L542.2,175.4 L549.9,178.2 L557.6,178.9 L562.2,177.4 L569.1,182.4 L574.9,185.9 L581.4,187.8 L588,189.4 L591.4,192.5 L595.3,197.1 L595.7,201.4 L599.1,202.9 L603.4,207.2 L608.4,208.4 L613.4,211.5 L616.8,211.1 L616.4,207.6 L619.9,205.3 L623.4,208.4 L625.7,210.7 L627.6,224.2 L626.8,227.3 L623,230.8 L621.5,234.3 L617.6,236.6 L616.8,240.9 L614.9,243.2 L616.1,248.3 L618,249.8 L616.1,253.3 L612.6,256.4 L612.6,262.2 L615.3,265.3 L618.8,269.9 L622.2,275.8 L624.1,280.4 L655.7,280.4 L655.7,-4.3 L287.1,-4.3 Z M562.2,-4.3 L561,1.5 L562.2,9.3 L567.2,12.8 L569.9,18.2 L576.8,18.6 L584.5,21.3 L592.2,24.4 L598,25.9 L605.7,26.3 L608.8,32.5 L611.4,36.4 L615.3,40.7 L619.9,39.1 L621.8,32.1 L620.3,29 L626.5,24 L629.5,20.9 L630.7,-4.3 Z M630.7,137.1 L616.8,135.6 L615.7,141.8 L612.6,142.1 L610.3,137.9 L606.8,132.8 L606.4,128.2 L602.6,123.9 L596.8,124.7 L592.2,122 L585.7,122 L581,122.8 L581.8,127 L577.6,127 L571,125.1 L563.3,125.1 L558.3,127.8 L552.6,130.9 L550.3,134.4 L550.3,140.6 L549.1,146 L548.7,153.4 L551,157.2 L554.5,163.8 L557.6,167.3 L561.4,169.3 L569.1,167.7 L573.7,167.7 L576.4,163.1 L577.6,158 L584.5,156.5 L590.3,156.5 L588.4,161.5 L587.2,168.5 L585.7,173.9 L584.5,178.2 L588.4,178.5 L596.1,178.2 L601.8,178.5 L604.5,181.6 L603.8,187.5 L603,195.2 L604.5,199.1 L608.4,203.3 L612.2,205.7 L617.2,203.7 L621.1,202.9 L626.8,206.4 L630.7,206.4 Z" fill="#d8d9dc" fill-rule="evenodd" stroke="#000" stroke-width="1.1" stroke-linejoin="round"/>
<path d="M598,154.9 L603.8,153.8 L609.5,150.3 L615.3,150.3 L624.9,153.4 L630.7,156.5 L630.7,160.3 L624.9,159.6 L615.3,155.3 L609.5,153 L601.8,154.9 Z" fill="#d8d9dc" stroke="#000" stroke-width="1"/>
<path d="M-75.4,-4.3 L222.8,-4.3 L219,-1.9 L209.3,0.4 L201.6,4.3 L195.1,7.6 L186.2,6.2 L179.3,8.1 L172.8,7.4 L168.2,10.1 L167,15.1 L163.9,18.2 L165.1,21.7 L162.4,25.6 L155.5,29 L154.3,33.7 L149.3,35.2 L145.8,39.9 L142.8,42.6 L141.2,39.1 L140.1,32.5 L139.3,25.6 L138.5,20.9 L143.1,16.7 L148.5,15.1 L154.3,9.3 L157.8,4.6 L163.2,1.2 L168.2,-2.3 L168.9,-4.3 L140.1,-4.3 L141.2,1.2 L136.2,6.2 L133.5,9.3 L125.8,11.2 L120.8,10.5 L113.9,8.9 L105.4,10.1 L97,10.1 L88.1,10.5 L83.1,12.8 L76.6,17.8 L71.6,20.9 L67.7,26.7 L65.4,28.3 L70,31.4 L76.6,29.8 L80.8,32.9 L83.5,37.6 L81.2,43 L80,50 L79.3,53.1 L74.7,56.9 L71.2,60.4 L66.2,65.8 L60.4,70.5 L52.3,74 L47.3,72.8 L42.7,75.9 L38.1,75.5 L32.3,77.5 L26.6,80.2 L21.9,83.3 L18.5,85.2 L11.2,82.9 L7.3,81.3 L0.8,83.3 L-75.4,83.3 Z" fill="#d8d9dc" stroke="#000" stroke-width="1.1" stroke-linejoin="round"/>
<path d="M-10.4,212.6 L-6.9,214.2 L-1.2,218.8 L-5.4,222.7 L-6.5,232.8 L-2.3,236.3 L-5.4,237.8 L-8.1,241.7 L-11.9,247.5 L-75.4,247.5 L-75.4,212.6 Z" fill="#d8d9dc" stroke="#000" stroke-width="1.1" stroke-linejoin="round"/>
<path d="M43.9,244.8 L47.7,241.3 L55,242.4 L56.6,248.6 L60.8,252.5 L65,248.6 L70,245.5 L78.5,248.6 L84.3,250.2 L92,253.3 L95.8,254.8 L100.8,258.7 L103.5,261.8 L107.7,263.4 L108.9,265.7 L105.1,266.8 L106.6,270.3 L109.3,271.5 L111.6,274.6 L114.3,276.9 L120.1,279.6 L118.9,282.3 L78.5,282.3 L82.3,275 L79.3,271.5 L74.7,271.1 L71.6,272.3 L69.6,268.8 L73.1,266.5 L71.6,261 L67.7,258.7 L62.7,257.2 L58.9,255.6 L53.9,254.8 L50.8,255.6 L48.1,251.4 L52.7,248.6 L47.3,247.1 Z" fill="#d8d9dc" stroke="#000" stroke-width="1.1" stroke-linejoin="round"/>
<path d="M42.7,75.9 L38.9,80.9 L38.9,82.1 L34.2,89.5 L37.7,96.1 L37.7,100.7 L36.6,103.4 L33.1,104.6 L27.3,106.5 L25.8,105 L26.9,101.1 L26.6,96.8 L27.7,94.5 L23.1,93 L20,91.4 L21.5,86.8 L18.5,85.2 L12.7,86 L7.7,88.7 L8.1,84 L10.4,82.5 L6.5,81.3 L0.8,84.8 L-2.3,87.5 L-75.4,87.5" fill="none" stroke="#000" stroke-width="1.1" stroke-linejoin="round"/>
<path d="M-1.5,95.3 L3.5,93.3 L11.2,94.9 L10.8,97.2 L3.5,99.5 L-0.8,103.8 L0.4,107.3 L3.8,111.2 L5.4,114.6 L8.9,117.4 L8.9,120.1 L10,124.3 L8.5,128.2 L6.2,130.9 L3.8,134.8 L0.4,139.8 L-2.3,142.9" fill="none" stroke="#000" stroke-width="1.1" stroke-linejoin="round"/>
<path d="M1.9,150.3 L4.2,144.5 L7.3,141.8 L9.2,142.9 L8.5,146.8 L5.8,153 L4.2,154.5 L2.3,151.4 Z" fill="#ebeae6" stroke="#000" stroke-width="1" stroke-linejoin="round"/>
<path d="M87.3,29.8 L90.8,34.5 L90.8,40.3 L92,46.1 L95.4,50 L90.8,49.2 L88.1,54.6 L92,60 L88.1,60 L85.8,60.4 L85.8,52.7 L87,44.2 L85,39.1 L85,32.9 Z" fill="#ebeae6" stroke="#000" stroke-width="1" stroke-linejoin="round"/>
<path d="M85,63.9 L88.5,67 L93.1,68.9 L98.9,68.2 L100.8,71.7 L95,73.6 L91.2,77.1 L85.4,74.7 L82,75.1 L78.5,79 L78.1,76.3 L80.4,72 L83.9,70.5 Z" fill="#ebeae6" stroke="#000" stroke-width="1" stroke-linejoin="round"/>
<path d="M82,79 L84.3,82.5 L85.8,87.5 L82.3,91.4 L82,96.4 L81.2,101.1 L78.1,103.8 L75,103.4 L73.1,105.3 L68.1,105.7 L66.2,106.9 L62.3,110 L59.6,106.9 L55.4,106.1 L50,107.7 L46.6,108.4 L47.3,112.7 L45,118.1 L42.3,119.3 L40.8,117.7 L39.2,113.1 L38.5,110.4 L43.5,108.1 L49.3,102.6 L55,102.2 L61.2,101.9 L65,97.2 L68.1,94.9 L73.1,93.3 L77,90.2 L78.5,86 L78.1,82.5 Z" fill="#ebeae6" stroke="#000" stroke-width="1" stroke-linejoin="round"/>
<path d="M49.6,111.5 L51.6,113.1 L56.2,110.8 L58.1,108.1 L53.5,106.9 L50.4,108.4 Z" fill="#ebeae6" stroke="#000" stroke-width="1" stroke-linejoin="round"/>
<path d="M3.8,168.1 L10,168.1 L9.6,173.9 L7.3,178.5 L7.7,183.6 L11.5,184.7 L17.3,185.9 L17.3,190.9 L14.2,189.4 L11.9,188.2 L8.1,185.9 L5,186.3 L3.8,183.6 L1.9,182.4 L0.8,177 L3.1,177 L2.7,171.6 Z" fill="#d8d9dc" stroke="#000" stroke-width="1" stroke-linejoin="round"/>
<path d="M18.1,191.3 L23.1,196 L21.2,200.6 L16.9,199.8 L14.2,203.7 L11.2,198.3 L8.9,194 L13.1,195.2 L16.9,196 Z" fill="#d8d9dc" stroke="#000" stroke-width="1" stroke-linejoin="round"/>
<path d="M22.7,201.8 L26.6,208 L26.6,212.6 L23.9,215.3 L21.9,218 L17.7,214.2 L12.7,210.7 L9.2,212.6 L11.5,208.4 L16.2,206.4 L20,204.9 Z" fill="#d8d9dc" stroke="#000" stroke-width="1" stroke-linejoin="round"/>
<path d="M1.5,237.4 L4.6,234.7 L13.1,236.3 L18.9,235.1 L21.5,233.5 L18.5,238.2 L14.2,238.6 L7.3,237.8 L3.5,239 L3.5,244 L8.5,243.2 L14.6,242.8 L10.4,245.9 L6.9,247.1 L11.2,256.8 L7.3,258.3 L5,250.2 L3.1,251 L3.1,261 L-0.4,261.4 L-0.4,253.3 L-3.1,250.2 L-0.8,243.2 Z" fill="#d8d9dc" stroke="#000" stroke-width="1" stroke-linejoin="round"/>
<path d="M31.2,231.2 L34.6,233.5 L32.7,236.6 L35,238.6 L32.3,239 L34.2,242.8 L30.8,241.3 L30,235.9 Z" fill="#d8d9dc" stroke="#000" stroke-width="1" stroke-linejoin="round"/>
<path d="M32.3,251.4 L41.9,251.4 L43.1,254.5 L34.2,253.7 Z" fill="#d8d9dc" stroke="#000" stroke-width="1" stroke-linejoin="round"/>
<path d="M24.6,252.1 L29.2,252.1 L28.9,254.5 L25.4,254.5 Z" fill="#d8d9dc" stroke="#000" stroke-width="1" stroke-linejoin="round"/>
<path d="M16.9,275.8 L22.7,272.7 L29.6,272.3 L22.7,275.8 L18.1,279.2 L15,279.6 Z" fill="#d8d9dc" stroke="#000" stroke-width="1" stroke-linejoin="round"/>
<path d="M0.8,272.7 L11.2,271.1 L13.1,272.7 L5.4,274.2 L0.8,273.8 Z" fill="#d8d9dc" stroke="#000" stroke-width="1" stroke-linejoin="round"/>
<path d="M110.8,261 L115.1,261 L118.9,259.1 L122,258.7 L123.1,256 L125.8,256.4 L124.7,261 L118.5,263.8 L113.1,263.8 Z" fill="#d8d9dc" stroke="#000" stroke-width="1" stroke-linejoin="round"/>
<path d="M120.1,250.2 L125.4,252.1 L128.5,257.2 L127,258.3 L122.8,252.5 Z" fill="#d8d9dc" stroke="#000" stroke-width="1" stroke-linejoin="round"/>
<path d="M134.7,260.3 L139.7,264.1 L137.4,266.5 L134.7,262.6 Z" fill="#d8d9dc" stroke="#000" stroke-width="1" stroke-linejoin="round"/>
<path d="M142,265.7 L145.8,268 L149.7,270.7 L145.8,271.9 L142,268.8 Z" fill="#d8d9dc" stroke="#000" stroke-width="1" stroke-linejoin="round"/>
<path d="M153.5,272.7 L157.4,275.4 L160.5,276.9 L156.2,278.1 L153.9,276.1 Z" fill="#d8d9dc" stroke="#000" stroke-width="1" stroke-linejoin="round"/>
<path d="M157.4,271.9 L160.5,274.6 L163.2,280.4 L160.8,278.5 L158.5,274.6 Z" fill="#d8d9dc" stroke="#000" stroke-width="1" stroke-linejoin="round"/>
<path d="M325.2,161.5 L329.4,164.2 L326.3,166.5 L324.4,163.4 Z" fill="#d8d9dc" stroke="#000" stroke-width="0.9"/>
<path d="M322.5,158.4 L324.8,159.2 L322.8,160 Z" fill="#d8d9dc" stroke="#000" stroke-width="0.9"/>
<path d="M315.9,156.1 L318.2,157.2 L316.3,157.2 Z" fill="#d8d9dc" stroke="#000" stroke-width="0.9"/>
<path d="M310.1,153.8 L312.1,154.1 L310.9,154.9 Z" fill="#d8d9dc" stroke="#000" stroke-width="0.9"/>
<path d="M176.6,26.7 L184.3,28.3 L203.6,34.5 L208.6,35.2 L222.8,38.7 L230.5,40.3 L240.1,39.5 L245.9,39.1 L257.4,37.6 L267.1,36.4 L272.8,34.9 L280.5,32.9 L285.5,31 L290.9,29" fill="none" stroke="#000" stroke-width="1.4" stroke-dasharray="3 2.5"/>
<path d="M384.4,8.1 L392.1,11.2 L399.8,14.3 L403.7,18.2 L409.4,22.9 L415.2,26.7 L421,29.8 L424,32.5 L426.7,36.8 L432.5,41.4 L435.2,44.9 L442.1,50" fill="none" stroke="#000" stroke-width="3.2" stroke-linejoin="round"/>
<rect x="13" y="11" width="30" height="27" fill="#d3d1d3" filter="url(#fblur)"/>
<path d="M100.8,71.7 L107.4,67.4 L113.1,64.7 L118.9,60.8 L124.7,56.9 L130.4,52.7 L136.2,48 L140.8,43.8" fill="none" stroke="#000" stroke-width="1.3" stroke-dasharray="2.5 2"/>
<path d="M39.2,125.5 L34.2,131.3 L31.6,137.1 L22.7,144.1 L15,145.6" fill="none" stroke="#000" stroke-width="1.3" stroke-dasharray="2 3"/>
</g>
<rect x="0" y="0" width="625" height="277" fill="none" stroke="#000" stroke-width="1.7"/>
<line x1="-6.5" y1="7.4" x2="0" y2="7.4" stroke="#000" stroke-width="1.6"/>
<text x="-15.5" y="13.9" text-anchor="end" class="mp">60°N</text>
<line x1="-6.5" y1="84.8" x2="0" y2="84.8" stroke="#000" stroke-width="1.6"/>
<text x="-15.5" y="91.3" text-anchor="end" class="mp">40°N</text>
<line x1="-6.5" y1="162.3" x2="0" y2="162.3" stroke="#000" stroke-width="1.6"/>
<text x="-15.5" y="168.8" text-anchor="end" class="mp">20°N</text>
<line x1="-6.5" y1="239.7" x2="0" y2="239.7" stroke="#000" stroke-width="1.6"/>
<text x="-15.5" y="246.2" text-anchor="end" class="mp">0°</text>
<line x1="78.5" y1="277" x2="78.5" y2="283" stroke="#000" stroke-width="1.6"/>
<text x="78.5" y="305" text-anchor="middle" class="mpb">140°E</text>
<line x1="174.7" y1="277" x2="174.7" y2="283" stroke="#000" stroke-width="1.6"/>
<text x="174.7" y="305" text-anchor="middle" class="mpb">165°E</text>
<line x1="270.9" y1="277" x2="270.9" y2="283" stroke="#000" stroke-width="1.6"/>
<text x="270.9" y="305" text-anchor="middle" class="mpb">170°W</text>
<line x1="367.1" y1="277" x2="367.1" y2="283" stroke="#000" stroke-width="1.6"/>
<text x="367.1" y="305" text-anchor="middle" class="mpb">145°W</text>
<line x1="463.3" y1="277" x2="463.3" y2="283" stroke="#000" stroke-width="1.6"/>
<text x="463.3" y="305" text-anchor="middle" class="mpb">120°W</text>
<line x1="559.5" y1="277" x2="559.5" y2="283" stroke="#000" stroke-width="1.6"/>
<text x="559.5" y="305" text-anchor="middle" class="mpb">95°W</text>
<text x="609" y="77" text-anchor="end" class="pl">Spring 2021</text>
</g>
<g transform="translate(733.5,1760)">
<clipPath id="pc3"><rect x="0" y="0" width="625" height="277"/></clipPath>
<g clip-path="url(#pc3)">
<g filter="url(#fblur)">
<rect x="-10" y="-10" width="645" height="297" fill="#fee6a0"/>
<path d="M0.3,162.8 C14.3,143.7 66.6,156.2 84.3,162.8 C101.9,169.5 92.4,193.8 106.3,202.6 C120.3,211.4 143.1,215.1 168.2,215.8 C193.2,216.6 234.4,205.5 256.5,207 C278.6,208.5 297,215.8 300.7,224.7 C304.4,233.5 293.3,251.2 278.6,260 C263.9,268.9 258.7,274.7 212.3,277.7 C166,280.6 35.7,296.8 0.3,277.7 C-35,258.5 -13.7,182 0.3,162.8 Z" fill="#fdd590"/>
<path d="M0.3,118.7 C6.2,112 22.4,110.6 35.7,105.4 C48.9,100.3 65.1,92.9 79.8,87.8 C94.6,82.6 120.3,88.5 124,74.5 C127.7,60.5 73.9,15.6 101.9,3.8 C129.9,-7.9 258.7,0.9 291.9,3.8 C325,6.8 290.4,16.3 300.7,21.5 C311,26.7 335.3,31.1 353.7,34.8 C372.1,38.4 394.9,39.9 411.1,43.6 C427.3,47.3 442.8,48.7 450.9,56.8 C459,64.9 462.6,81.1 459.7,92.2 C456.8,103.2 445,115.7 433.2,123.1 C421.4,130.5 403.7,133.4 389,136.3 C374.3,139.3 359.6,142.2 344.9,140.8 C330.1,139.3 315.4,130.5 300.7,127.5 C286,124.6 278.6,124.6 256.5,123.1 C234.4,121.6 190.3,118.7 168.2,118.7 C146.1,118.7 138.7,121.6 124,123.1 C109.3,124.6 94.6,125.3 79.8,127.5 C65.1,129.7 48.9,133.4 35.7,136.3 C22.4,139.3 6.2,148.1 0.3,145.2 C-5.6,142.2 -5.6,125.3 0.3,118.7 Z" fill="#f9ae6a"/>
<path d="M459.7,105.4 C465.6,105.4 479.6,119.4 486.2,127.5 C492.8,135.6 502.4,149.6 499.5,154 C496.5,158.4 476.6,158.4 468.5,154 C460.4,149.6 452.3,135.6 450.9,127.5 C449.4,119.4 453.8,105.4 459.7,105.4 Z" fill="#fdd590"/>
<path d="M561.3,1.6 C568.6,-3.2 616.5,-5.4 627.5,1.6 C638.6,8.6 634.9,38.8 627.5,43.6 C620.2,48.4 594.4,37.3 583.4,30.3 C572.3,23.3 553.9,6.4 561.3,1.6 Z" fill="#f9ae6a"/>
<path d="M33.5,114.3 C33.5,112.8 41.2,105.1 48.9,101 C56.7,97 67.3,94 79.8,90 C92.4,85.9 120.3,91.1 124,76.7 C127.7,62.4 73.9,16 101.9,3.8 C129.9,-8.3 260.9,1.6 291.9,3.8 C322.8,6 296.3,13.4 287.4,17.1 C278.6,20.8 252.8,22.6 238.8,25.9 C224.9,29.2 210.1,32.9 203.5,37 C196.9,41 196.2,46.2 199.1,50.2 C202,54.3 212.3,56.8 221.2,61.3 C230,65.7 243.3,74.1 252.1,76.7 C260.9,79.3 266.1,78.6 274.2,76.7 C282.3,74.9 288.9,69.7 300.7,65.7 C312.5,61.6 328.7,55.7 344.9,52.4 C361.1,49.1 385,45.8 397.9,45.8 C410.7,45.8 417,48.4 422.2,52.4 C427.3,56.5 429.9,63.8 428.8,70.1 C427.7,76.3 422.2,84.1 415.5,90 C408.9,95.9 398.6,100.3 389,105.4 C379.5,110.6 367.7,118.7 358.1,120.9 C348.5,123.1 342.6,120.5 331.6,118.7 C320.6,116.8 301.4,112.8 291.9,109.8 C282.3,106.9 283,103.6 274.2,101 C265.4,98.4 251.4,95.1 238.8,94.4 C226.3,93.6 212.3,97.3 199.1,96.6 C185.8,95.9 171.9,92.2 159.3,90 C146.8,87.8 137.3,82.2 124,83.3 C110.8,84.4 92.4,92.2 79.8,96.6 C67.3,101 56.7,106.9 48.9,109.8 C41.2,112.8 33.5,115.7 33.5,114.3 Z" fill="#f07b4d"/>
<path d="M574.5,3.8 C579,0.2 618.7,-1.3 627.5,3.8 C636.4,9 632,31.1 627.5,34.8 C623.1,38.4 609.9,31.1 601,25.9 C592.2,20.8 570.1,7.5 574.5,3.8 Z" fill="#f07b4d"/>
<path d="M38.3,78.9 C45.2,69.6 75,56 85.6,49.3 C96.2,42.7 95.5,45.3 101.9,39.2 C108.3,33.1 113,17.8 124,12.7 C135.1,7.5 149.8,9 168.2,8.3 C186.6,7.5 216,8.3 234.4,8.3 C252.8,8.3 272,6.4 278.6,8.3 C285.2,10.1 286.7,14.9 274.2,19.3 C261.7,23.7 219.7,27.8 203.5,34.8 C187.3,41.7 188.1,53.9 177,61.3 C166,68.6 153.5,73.8 137.3,78.9 C121.1,84.1 95.3,87.8 79.8,92.2 C64.4,96.6 51.4,107.6 44.5,105.4 C37.6,103.2 31.5,88.3 38.3,78.9 Z" fill="#e2392a"/>
<path d="M150.1,65.7 C155.2,62 179.4,62 190.3,63.5 C201.1,64.9 212.8,70.8 215,74.5 C217.2,78.2 212.8,83.7 203.5,85.5 C194.2,87.4 168.3,88.9 159.3,85.5 C150.4,82.2 144.9,69.4 150.1,65.7 Z" fill="#e2392a"/>
<path d="M283,83.3 C290.4,74.9 316.1,62.7 336,56.8 C355.9,50.9 387.2,46.5 402.3,48 C417.4,49.5 424.4,57.9 426.6,65.7 C428.8,73.4 423.3,86.3 415.5,94.4 C407.8,102.5 393.4,110.2 380.2,114.3 C366.9,118.3 350.7,119.8 336,118.7 C321.3,117.6 300.7,113.5 291.9,107.6 C283,101.7 275.7,91.8 283,83.3 Z" fill="#e2392a"/>
<path d="M300.7,78.9 C308,72.7 328.7,64.9 344.9,61.3 C361.1,57.6 386.1,54.6 397.9,56.8 C409.6,59 414.8,67.5 415.5,74.5 C416.3,81.5 409.6,92.5 402.3,98.8 C394.9,105.1 383.9,109.8 371.4,112 C358.8,114.3 339,114.3 327.2,112 C315.4,109.8 305.1,104.3 300.7,98.8 C296.3,93.3 293.3,85.2 300.7,78.9 Z" fill="#b01c24"/>
<path d="M146.1,8.3 C154.2,6.4 191.7,6.4 199.1,8.3 C206.5,10.1 198.4,17.5 190.3,19.3 C182.2,21.1 157.9,21.1 150.5,19.3 C143.1,17.5 138,10.1 146.1,8.3 Z" fill="#b01c24"/>
<path d="M85.6,127.5 C101.8,121.3 139.7,125.3 168.2,125.3 C196.7,125.3 234.4,122.7 256.5,127.5 C278.6,132.3 297,141.5 300.7,154 C304.4,166.5 300.7,193.8 278.6,202.6 C256.5,211.4 200.3,207.8 168.2,207 C136,206.3 101.8,205.5 85.6,198.2 C69.4,190.8 71,174.6 71,162.8 C71,151.1 69.4,133.8 85.6,127.5 Z" fill="#fde9a6"/>
<path d="M327.2,158.4 C339.7,146.6 338.2,144.4 366.9,145.2 C395.7,145.9 456,156.2 499.5,162.8 C542.9,169.5 606.2,165.8 627.5,184.9 C648.9,204.1 687.9,262.2 627.5,277.7 C567.2,293.1 321.3,288 265.4,277.7 C209.4,267.4 281.5,235.7 291.9,215.8 C302.2,196 314.7,170.2 327.2,158.4 Z" fill="#fdefbc"/>
<path d="M371.4,145.2 C375.8,138.6 387.6,131.2 397.9,127.5 C408.2,123.8 423.6,122.4 433.2,123.1 C442.8,123.8 452.3,126.8 455.3,131.9 C458.2,137.1 456,147.4 450.9,154 C445.7,160.6 434.7,167.3 424.4,171.7 C414.1,176.1 397.9,181.2 389,180.5 C380.2,179.8 374.3,173.2 371.4,167.3 C368.4,161.4 366.9,151.8 371.4,145.2 Z" fill="#d9eef6"/>
<path d="M366.9,242.3 C372.1,237.6 394.9,232.4 411.1,231.3 C427.3,230.2 453.8,231.7 464.1,235.7 C474.4,239.8 478.1,250.8 472.9,255.6 C467.8,260.4 448.7,263.7 433.2,264.4 C417.7,265.2 391.2,263.7 380.2,260 C369.2,256.3 361.8,247.1 366.9,242.3 Z" fill="#d9eef6"/>
<path d="M565.7,264.4 C576,261.5 617.2,257.8 627.5,260 C637.8,262.2 637.8,274.7 627.5,277.7 C617.2,280.6 576,279.9 565.7,277.7 C555.4,275.5 555.4,267.4 565.7,264.4 Z" fill="#d9eef6"/>
</g>
<path d="M17 270l-8-2m0-1l-4 1 4 2zM27 269l-9 0m0-2l-4 2 4 2zM37 271l-10-3m1-2l-4 0 3 3zM46 269l-8 0m0-2l-3 1 3 2zM56 270l-10-2m1-2l-4 1 3 3zM67 271l-12-4m0-1l-4 0 3 3zM75 271l-9-3m1-2l-4 1 3 3zM113 270l-8-2m0-2l-4 1 4 3zM123 271l-9-3m1-2l-4 1 2 3zM133 270l-9-2m0-2l-3 2 3 2zM143 271l-11-3m1-2l-4 1 3 3zM152 270l-9-2m0-1l-3 1 3 2zM161 271l-8-3m1-2l-4 1 2 3zM171 270l-9-2m1-2l-4 1 3 3zM181 271l-9-3m1-2l-4 0 2 3zM191 271l-10-4m1-1l-4 0 2 3zM200 271l-9-3m1-2l-4 1 3 3zM209 271l-8-3m1-2l-4 1 3 3zM219 270l-8-2m0-1l-4 1 3 2zM229 270l-9-2m0-2l-4 1 3 3zM239 269l-10 0m0-2l-3 1 3 2zM248 270l-8-2m0-2l-4 1 3 3zM258 269l-9 0m0-2l-4 2 4 2zM266 269l-7 0m1-2l-4 1 3 2zM277 267l-8 2m-1-1l-3 2 4 1zM284 269l-4 0m0-2l-3 2 3 1zM293 265l-4 5m-1-1l0 3 3-1zM301 265l-1 4m-2 0l1 3 2-2zM310 266l-1 3m-1 0l1 3 2-2zM319 265l0 5m-1 0l1 2 1-3zM329 267l0 1m-1 0l0 2 2-1zM335 268l4 1m0 1l3-1-3-2zM344 270l5-2m0 2l2-3-3 0zM355 272l3-4m1 1l1-3-3 1zM365 272l2-4m2 1l0-3-3 1zM378 274l-2-7m2 0l-2-3-1 3zM386 275l0-9m2 0l-1-3-2 3zM397 275l-2-9m2 0l-3-3-1 4zM409 274l-5-7m2-1l-4-2 1 4zM419 273l-5-6m1-1l-4-1 1 4zM429 273l-6-6m1-1l-4-1 2 4zM440 271l-8-3m1-2l-4 0 3 3zM449 272l-7-4m1-2l-4 0 2 3zM459 272l-7-5m1-1l-4-1 2 4zM469 271l-8-3m1-2l-4 0 2 4zM479 270l-9-2m1-2l-4 1 3 3zM488 271l-8-3m1-2l-4 0 2 3zM494 272l-2-4m1-1l-3-2 0 4zM504 272l-3-4m1-1l-3-2 1 4zM513 272l-2-4m1-1l-3-2 0 4zM524 273l-4-5m2-1l-3-2 0 3zM532 271l-2-2m2-1l-3-2 0 3zM543 272l-3-4m1-1l-3-1 0 3zM552 273l-3-5m2-1l-3-2 0 3zM563 273l-5-6m2-1l-4-1 1 4zM571 272l-2-4m1 0l-3-2 1 3zM581 272l-3-4m1-1l-3-2 1 4zM591 271l-3-3m1-1l-3-1 1 3zM600 273l-3-6m2-1l-3-2 0 4zM611 273l-5-6m2-1l-4-2 1 4zM621 273l-5-6m1-1l-3-1 1 4zM18 261l-10-3m0-1l-4 0 3 3zM28 260l-11-2m1-1l-4 1 3 2zM36 260l-8-1m0-2l-3 1 3 3zM48 260l-12-2m0-1l-4 1 4 2zM58 260l-13-1m0-2l-3 1 3 2zM66 260l-10-1m1-2l-4 1 3 2zM114 262l-10-4m1-2l-4 0 2 3zM122 262l-7-4m1-2l-4 0 2 3zM132 261l-8-3m1-1l-4 0 3 3zM143 260l-10-1m0-2l-4 1 4 2zM153 260l-11-1m1-2l-4 1 3 2zM162 261l-10-3m1-2l-4 1 3 3zM171 261l-8-3m0-1l-4 0 3 3zM181 260l-9-1m0-2l-3 1 3 3zM190 260l-8-1m0-2l-4 1 3 3zM200 262l-9-4m1-2l-4 0 2 3zM210 260l-9-1m0-2l-4 1 3 2zM219 260l-8-1m0-2l-4 1 3 3zM229 260l-9-1m0-2l-4 2 4 2zM238 260l-8-1m0-2l-3 1 3 3zM248 260l-9-1m1-2l-4 1 3 3zM258 259l-9 0m0-2l-3 2 3 2zM267 258l-8 1m0-1l-3 2 3 1zM276 258l-7 2m0-2l-3 2 4 1zM284 257l-4 3m-1-2l-2 3 3 0zM292 255l-2 5m-2 0l0 3 3-2zM302 255l-3 5m-1 0l0 3 3-2zM309 256l0 4m-1 0l2 3 1-3zM317 256l3 4m-2 1l3 1 0-3zM326 257l3 3m-1 1l3 0-1-3zM334 258l6 2m-1 1l3 0-2-3zM344 260l5-1m0 1l3-1-3-1zM354 264l5-7m1 1l1-4-4 2zM364 264l5-7m1 1l1-4-4 2zM376 265l1-9m2 1l-1-4-3 3zM388 265l-2-8m2 0l-3-3-1 3zM398 265l-3-9m2 0l-3-3-1 4zM406 264l-1-6m2-1l-2-2-1 3zM419 263l-5-5m1-2l-4-1 1 4zM429 262l-6-4m1-1l-4-1 2 4zM439 261l-6-3m1-1l-4 0 2 3zM448 261l-5-2m1-2l-4 1 2 2zM458 261l-6-3m1-1l-4 0 2 3zM468 262l-7-4m1-2l-3 0 1 3zM479 262l-9-4m1-2l-4 0 3 4zM489 262l-9-4m0-2l-4 1 3 3zM494 262l-2-3m1-1l-3-2 1 3zM503 262l-1-3m1-1l-3-1 0 3zM512 262l-1-3m2 0l-2-2-1 2zM523 263l-3-5m2-1l-3-1 0 3zM532 262l-2-3m2-1l-2-2-1 3zM542 263l-2-5m1 0l-2-2 0 3zM552 263l-3-5m2 0l-3-2 0 3zM562 262l-3-4m1 0l-3-2 1 3zM570 262l-1-4m1 0l-2-2-1 3zM581 261l-3-2m1-1l-3-1 1 3zM591 261l-3-2m0-2l-3 0 2 3zM599 263l-1-5m1-1l-2-2-1 3zM611 262l-4-4m1-1l-4-1 2 3zM17 251l-8-2m0-2l-4 1 3 3zM28 250l-11-1m1-2l-4 2 3 2zM37 251l-10-2m0-2l-3 1 3 2zM46 252l-9-4m1-1l-4 0 3 3zM56 252l-9-4m0-1l-4 0 3 3zM65 252l-8-3m1-2l-4 0 2 3zM95 250l-10-1m0-2l-3 2 3 2zM104 251l-9-2m1-2l-4 0 2 3zM113 250l-8-1m0-2l-3 2 3 2zM124 249l-10 0m0-1l-4 1 4 2zM133 252l-9-4m0-1l-4 0 3 3zM143 251l-10-3m0-1l-4 1 3 2zM153 251l-10-3m0-1l-4 0 3 3zM162 251l-9-2m0-2l-4 1 3 3zM173 250l-12-1m0-2l-3 2 3 2zM181 252l-9-4m1-1l-4 0 2 3zM191 251l-10-3m0-1l-3 0 2 3zM199 250l-7-1m0-2l-3 2 3 2zM210 251l-9-2m0-2l-4 1 3 2zM220 250l-10-1m0-2l-4 2 3 2zM228 251l-7-2m0-2l-3 1 2 3zM238 250l-8-1m0-1l-3 1 3 2zM248 250l-8-1m0-2l-4 2 3 2zM257 248l-8 2m0-2l-3 3 4 1zM268 249l-10 1m0-2l-4 2 4 2zM275 247l-5 3m-1-1l-2 3 3 0zM284 245l-5 6m-1-1l-1 4 4-2zM292 245l-3 6m-1-1l0 3 3-2zM302 244l-3 8m-2-1l0 4 3-3zM308 246l2 5m-2 0l3 2 0-3zM317 245l3 6m-2 1l3 2 0-4zM326 246l3 5m-1 1l3 1 0-3zM334 248l5 2m0 1l3 0-2-3zM343 252l7-3m0 1l3-3-4 0zM354 253l5-5m1 1l1-3-4 1zM365 255l3-8m2 1l-1-4-3 3zM374 255l4-8m1 1l0-5-3 3zM387 257l-1-12m2 0l-2-3-2 4zM399 256l-4-10m1-1l-3-2 0 4zM407 255l-2-7m2-1l-3-3-1 4zM417 255l-2-8m1 0l-2-3-1 4zM427 253l-3-5m2 0l-3-2 0 3zM437 252l-3-3m1-1l-3-1 1 3zM446 253l-2-4m1-1l-3-2 0 3zM457 253l-4-5m1-1l-4-1 1 3zM465 253l-2-5m1 0l-2-2-1 3zM478 254l-8-7m2-1l-4-1 1 4zM488 252l-8-4m1-2l-4 1 2 3zM495 254l-4-6m2-1l-3-2 0 4zM505 253l-4-5m1-1l-4-1 2 4zM515 251l-4-2m0-1l-3 0 2 2zM523 253l-3-5m2 0l-3-2 0 3zM532 253l-2-5m2 0l-3-3 0 4zM542 253l-2-4m1-1l-3-2 0 3zM553 253l-4-5m1-1l-3-1 1 3zM561 253l-2-5m1 0l-2-2 0 3zM570 254l-1-6m2 0l-2-3-2 3zM579 252l0-2m1 0l-1-3-1 3zM591 252l-3-3m1-1l-4-1 2 3zM600 253l-3-5m2-1l-3-1 0 3zM610 252l-3-3m1-1l-3-1 1 3zM618 254l-1-6m1 0l-2-3-1 3zM18 241l-10-2m1-2l-4 1 3 3zM27 242l-9-3m1-2l-4 1 3 3zM38 241l-12-2m1-2l-4 1 3 3zM46 243l-9-5m1-2l-4 0 2 4zM56 242l-10-3m1-2l-4 1 3 3zM65 241l-8-2m1-2l-4 1 3 3zM75 241l-9-2m0-2l-4 2 4 2zM85 241l-9-2m0-2l-4 1 4 3zM96 242l-12-3m0-2l-4 1 4 3zM104 241l-9-2m0-2l-4 1 3 3zM114 241l-10-2m0-2l-4 2 4 2zM122 241l-7-2m1-1l-4 1 3 2zM134 242l-11-4m1-1l-4 0 2 3zM142 242l-8-3m1-2l-4 1 2 3zM153 241l-11-2m1-2l-4 1 3 3zM162 242l-10-3m1-2l-4 0 3 3zM172 241l-10-2m0-2l-4 1 3 3zM181 241l-9-2m0-2l-4 1 3 3zM190 242l-8-3m1-2l-4 1 3 3zM201 242l-11-3m1-2l-4 1 3 3zM210 241l-9-2m0-2l-4 1 3 3zM219 240l-8 0m0-2l-4 2 4 2zM230 241l-11-2m0-2l-3 1 3 3zM238 241l-8-2m0-1l-3 1 3 2zM247 240l-7 0m0-2l-3 1 3 2zM256 239l-6 1m0-2l-3 3 3 1zM268 238l-10 3m-1-2l-3 3 4 0zM276 237l-7 4m-1-2l-3 4 5 0zM285 236l-6 5m-2-1l-1 4 4-1zM294 235l-6 7m-1-1l-1 4 4-2zM302 234l-3 8m-2 0l1 4 3-3zM309 234l1 8m-2 0l2 3 1-3zM317 233l3 10m-2 0l3 3 1-4zM325 235l5 6m-2 2l4 1-1-4zM334 239l5 1m0 2l3-1-2-2zM343 241l7-2m0 2l3-3-4 0zM354 244l5-6m1 2l1-4-3 1zM364 245l4-7m2 0l0-4-4 3zM377 247l0-11m1 0l-1-4-2 4zM387 247l-1-11m2 0l-2-4-2 4zM397 246l-2-9m2 0l-2-3-1 3zM409 245l-5-7m2-1l-3-2 0 4zM418 244l-4-6m2-1l-4-2 1 4zM428 242l-4-3m1-1l-3 0 1 2zM437 239l-3 1m0-1l-2 2 2 0zM442 242l2-2m1 1l1-3-3 1zM453 243l1-4m1 0l-1-3-2 3zM463 243l0-4m2 0l-1-3-2 3zM476 243l-4-4m1-1l-3-2 1 4zM489 243l-9-5m0-1l-4 0 3 3zM495 244l-4-5m2-1l-3-2 0 3zM503 242l-1-3m1 0l-3-2 0 3zM514 243l-3-4m1-1l-3-2 0 4zM523 244l-3-6m2-1l-3-2 0 4zM534 242l-4-3m1-1l-4 0 2 2zM542 242l-2-2m1-1l-2-1 0 2zM552 243l-3-4m1-1l-3-1 1 3zM562 242l-3-3m1-1l-3-1 1 3zM571 243l-2-4m1-1l-3-1 0 3zM582 243l-4-4m1-1l-4-1 2 3zM590 243l-2-4m1-1l-3-2 1 4zM601 243l-4-4m1-1l-3-1 1 3zM609 244l-2-6m2-1l-3-2-1 4zM18 232l-10-3m0-2l-4 1 3 3zM27 230l-9 0m0-2l-3 2 3 2zM37 232l-10-3m1-2l-4 1 3 3zM47 232l-10-3m0-2l-4 1 3 3zM56 231l-9-1m0-2l-4 1 4 2zM65 233l-9-4m1-2l-4 0 3 3zM76 232l-11-3m0-2l-3 1 3 3zM84 233l-8-4m1-2l-4 1 2 3zM93 231l-7-1m1-2l-4 1 3 2zM104 232l-9-3m1-1l-4 0 3 3zM114 233l-10-4m1-2l-4 0 3 4zM124 232l-11-3m1-2l-4 2 3 2zM133 232l-9-3m0-2l-4 1 3 3zM143 232l-10-3m0-2l-4 1 3 3zM153 230l-11 0m0-2l-4 2 4 2zM161 233l-8-4m1-2l-4 0 2 4zM171 231l-8-1m0-2l-4 1 3 2zM181 232l-9-3m1-1l-4 0 3 3zM191 233l-10-4m1-2l-4 0 2 3zM199 231l-7-1m1-2l-4 1 3 2zM210 232l-9-3m0-2l-4 1 3 3zM220 232l-10-3m0-2l-4 2 3 2zM230 230l-11 0m0-2l-3 2 3 2zM238 231l-8-1m0-2l-4 1 4 3zM249 230l-10 0m0-2l-4 2 4 2zM258 229l-9 2m0-2l-4 2 4 1zM267 229l-8 2m0-2l-3 3 4 0zM277 227l-9 4m0-1l-3 3 4 0zM285 225l-6 7m-2-1l-1 4 4-2zM293 225l-4 7m-2-1l0 4 3-2zM302 225l-3 7m-2 0l1 4 3-3zM311 224l-2 9m-2-1l1 4 3-3zM319 224l0 9m-2 0l2 3 2-4zM326 226l3 5m-1 1l3 2 0-4zM335 227l4 4m-1 1l3 1-1-3zM345 233l4-4m1 2l1-3-3 0zM357 234l1-5m1 1l-1-3-2 2zM367 236l0-9m2 1l-1-4-3 3zM378 238l-2-12m2 0l-3-3-1 3zM388 238l-2-13m1 0l-2-3-1 4zM399 236l-5-9m2-1l-3-2 0 4zM410 235l-6-7m1-1l-4-1 1 3zM418 232l-4-3m1-1l-3 0 1 3zM428 232l-4-2m1-2l-3 0 1 3zM433 228l2 2m-1 1l2 2 0-3zM442 230l2 0m0 1l3-1-3-1zM451 232l3-2m1 1l2-3-3 0zM464 235l-1-7m2 0l-3-3-1 3zM476 234l-4-5m1-1l-3-2 1 4zM488 235l-8-7m1-2l-3-1 1 4zM494 234l-2-5m1-1l-3-2 0 4zM505 232l-4-2m1-2l-3 0 1 3zM513 233l-2-4m1-1l-3-1 1 3zM524 232l-4-3m1-1l-3 0 1 3zM535 233l-6-4m1-1l-3-1 1 3zM541 233l-1-4m1 0l-2-2 0 3zM553 234l-4-5m1-1l-3-2 1 4zM561 234l-2-5m1-1l-2-2-1 3zM572 234l-4-5m1-1l-3-1 1 3zM582 232l-4-3m1-1l-3 0 1 3zM590 234l-2-5m1-1l-2-2 0 4zM600 234l-2-5m1-1l-3-2 0 4zM611 231l-4-1m1-2l-4 1 2 2zM620 233l-4-4m1-1l-3-1 1 3zM18 222l-10-2m0-2l-4 1 3 3zM27 223l-9-4m1-1l-4 0 2 3zM36 222l-8-2m0-2l-4 1 3 2zM46 221l-9-1m1-2l-4 1 3 3zM54 223l-6-3m1-2l-4 0 2 3zM65 222l-8-2m0-2l-4 1 3 2zM75 223l-8-4m0-1l-4 0 3 3zM85 222l-10-2m1-2l-4 1 3 3zM94 220l-8 0m0-2l-4 2 4 2zM104 222l-9-2m0-2l-4 1 3 2zM113 223l-8-4m1-1l-4 0 2 3zM123 223l-9-4m1-2l-4 0 3 4zM134 223l-11-4m1-2l-4 0 2 4zM143 223l-10-4m1-2l-4 1 2 3zM152 222l-8-2m0-2l-4 1 3 2zM162 220l-9 0m0-1l-4 2 4 1zM170 221l-7-1m0-1l-3 1 3 2zM180 222l-7-2m0-2l-4 1 3 3zM191 222l-10-2m1-2l-4 1 3 2zM201 221l-10-1m0-2l-4 2 3 2zM210 221l-10-1m1-2l-4 1 3 3zM220 221l-10-1m0-2l-4 2 4 2zM229 221l-9-1m0-2l-4 1 3 3zM239 220l-9 0m0-2l-4 2 4 2zM247 221l-7-1m0-1l-3 1 3 2zM259 219l-11 2m-1-1l-3 2 4 1zM268 219l-10 2m0-2l-3 3 4 1zM276 216l-8 6m-1-1l-1 4 4-1zM285 215l-7 8m-1-1l-1 4 4-2zM295 214l-8 10m-1-2l-1 4 4-1zM306 214l-10 10m-1-2l-1 4 4-1zM312 214l-4 10m-1-1l0 4 3-3zM320 214l-2 10m-1-1l1 4 2-3zM331 216l-3 6m-2-1l0 4 3-2zM340 218l-2 3m-1-1l0 3 2-2zM346 221l2-1m0 2l2-2-2-1zM358 225l-1-6m2 0l-2-3-1 3zM369 226l-2-8m1 0l-2-3-1 4zM380 227l-5-10m2-1l-3-3-1 4zM388 228l-3-12m2 0l-3-3-1 4zM401 226l-8-8m1-2l-3-1 1 4zM410 226l-6-8m1-1l-3-2 0 4zM419 224l-5-5m1-1l-3-1 1 3zM430 219l-7 2m0-2l-3 3 4 0zM436 218l-2 3m-1-1l0 3 2-2zM442 220l2 0m-1 1l3 0-2-2zM453 222l1-1m1 0l-1-2-2 1zM464 224l-1-5m1 0l-2-3 0 4zM476 226l-4-8m1-1l-3-2 0 4zM488 225l-8-7m1-1l-4-1 2 3zM495 224l-4-5m1-1l-3-2 1 4zM504 224l-3-5m1-1l-3-1 1 3zM514 223l-3-3m1-1l-3-2 1 3zM523 224l-3-5m2 0l-3-2 0 3zM533 223l-3-4m1-1l-3-1 1 4zM542 223l-2-3m1-1l-3-1 1 3zM552 223l-3-3m1-1l-3-1 1 3zM564 222l-6-2m1-2l-4 1 2 2zM571 223l-2-3m1-1l-2-1 0 3zM582 222l-4-2m1-1l-3-1 1 3zM590 225l-2-6m2 0l-3-3-1 3zM600 224l-3-5m2-1l-3-1 0 3zM609 224l-2-5m2 0l-2-2-1 3zM621 221l-5-1m1-1l-3 0 2 3zM15 212l-5-2m0-1l-3 1 2 2zM25 211l-5-1m0-1l-3 1 2 2zM34 211l-5 0m0-2l-3 2 3 1zM44 212l-5-2m1-1l-4 0 2 3zM54 213l-6-3m1-2l-4 0 2 3zM62 212l-3-1m0-2l-3 1 2 2zM74 210l-7 1m0-2l-3 3 4 1zM83 213l-6-3m1-1l-4 0 3 3zM91 212l-3-2m0-1l-3 1 2 2zM102 212l-5-2m0-1l-3 1 2 2zM113 211l-8 0m0-2l-3 2 3 1zM121 210l-5 1m-1-2l-2 3 3 1zM131 210l-6 1m0-2l-3 2 3 1zM140 211l-5 0m0-2l-3 1 3 2zM150 212l-5-2m0-1l-3 1 2 2zM158 212l-3-2m1-1l-3 0 1 3zM167 212l-2-2m1-1l-3 0 1 3zM179 212l-6-2m1-1l-4 0 3 3zM189 212l-6-2m0-1l-3 0 2 3zM198 212l-6-2m1-1l-4 1 3 2zM206 212l-3-2m1-1l-3 0 2 3zM216 211l-3 0m0-2l-3 1 2 2zM227 211l-5 0m0-2l-3 2 3 1zM236 211l-4 0m0-2l-3 2 3 1zM246 209l-5 2m-1-1l-2 2 3 1zM255 210l-4 1m-1-1l-2 2 3 0zM265 207l-5 5m-1-1l-2 3 4-1zM275 206l-6 6m-1-1l-1 4 4-1zM286 206l-8 7m-1-1l-1 4 3-1zM293 203l-5 12m-1-1l0 4 3-2zM305 204l-8 10m-2-1l0 4 3-1zM314 204l-7 11m-2-1l0 4 4-3zM323 204l-6 10m-1-1l-1 4 4-2zM333 208l-6 4m-1-2l-1 4 3-1zM341 208l-3 4m-2-1l0 3 3-1zM352 212l-5-2m0-1l-4 1 3 2zM361 215l-5-6m1-1l-3-1 1 3zM370 216l-4-8m1-1l-3-2 0 4zM381 217l-7-10m2-1l-4-2 1 4zM389 217l-4-10m2 0l-3-3-1 4zM400 217l-6-10m1-1l-4-2 1 4zM411 214l-8-5m1-1l-4-1 2 4zM420 213l-6-3m0-2l-3 1 2 3zM428 209l-4 2m-1-1l-1 2 3 0zM439 209l-6 2m0-1l-3 2 4 1zM446 210l-2 1m-1-1l-1 2 3 0zM456 213l-3-3m1 0l-2-1 1 2zM467 214l-5-4m1-2l-3-1 1 4zM477 215l-6-6m2-1l-4-2 1 4zM487 216l-7-8m2-1l-4-1 1 4zM495 213l-3-3m1-1l-3 0 1 2zM503 214l-2-4m2-1l-3-2 0 4zM515 214l-5-4m1-1l-3-1 1 3zM524 214l-4-4m1-1l-3-2 1 4zM533 213l-3-2m1-1l-2-1 1 2zM543 214l-3-4m1-1l-3-2 0 4zM552 213l-2-3m1-1l-3 0 1 2zM561 214l-2-4m2-1l-3-2 0 4zM573 212l-5-2m0-1l-3 1 3 2zM581 214l-3-4m1-1l-3-2 1 4zM591 214l-3-4m1-1l-3-1 0 3zM600 213l-2-3m1-1l-3-1 0 3zM610 214l-3-4m1-1l-3-1 1 3zM621 212l-5-2m0-1l-3 1 3 2zM13 201l-2 0m0-1l-2 1 2 1zM22 202l-1-1m1-1l-3 0 2 2zM33 200l-3 1m0-1l-2 2 3 0zM43 199l-3 2m-1-1l-2 3 3-1zM53 199l-4 2m-1-1l-2 3 4 0zM62 201l-3 0m0-1l-3 1 3 1zM71 199l-2 2m-1-1l-1 3 3-1zM83 200l-6 1m0-1l-3 2 4 1zM91 202l-3-1m0-1l-2 0 2 2zM100 197l-3 5m-1-1l-1 4 3-2zM110 202l-3-1m0-1l-3 0 2 2zM119 201l-2 0m0-1l-2 1 2 1zM129 201l-3 0m0-1l-2 1 2 1zM139 202l-3-1m0-1l-3 0 3 2zM148 199l-2 2m-1-1l-1 3 3-1zM158 200l-3 1m0-1l-2 2 3 0zM166 199l-1 2m-1-1l0 3 2-1zM176 201l-1 0m0-1l-2 1 2 1zM187 201l-3 0m0-1l-2 1 3 1zM197 200l-4 1m0-1l-2 2 3 1zM205 199l-1 2m-1-1l-1 3 2-1zM215 200l-2 1m0-1l-2 2 3 0zM225 200l-2 1m-1-1l-2 2 3 0zM234 199l-2 2m-1-1l0 3 2-1zM244 198l-2 4m-1-1l-1 3 3-2zM254 197l-3 5m-1-1l0 4 2-2zM264 198l-4 4m-1-1l-1 3 3-1zM274 197l-4 6m-2-1l0 3 3-1zM283 195l-4 9m-1-1l0 4 3-2zM293 194l-4 11m-2-1l0 4 3-2zM303 193l-5 12m-2 0l0 4 4-3zM314 194l-7 11m-2-1l0 4 4-2zM325 195l-9 9m-2-1l-1 4 4-1zM334 196l-8 7m-1-1l-2 4 4-1zM346 199l-12 3m0-2l-3 3 4 1zM354 202l-9-1m0-2l-4 1 4 3zM364 203l-9-3m0-2l-4 1 3 3zM373 205l-9-6m1-2l-4 0 2 4zM381 207l-6-9m1-1l-4-2 1 4zM391 206l-7-7m2-1l-4-2 1 4zM400 207l-6-9m1-1l-3-2 0 4zM410 203l-6-3m1-1l-4 0 2 3zM419 203l-5-3m1-1l-4 0 2 3zM430 200l-7 1m0-1l-3 2 3 1zM439 199l-6 3m-1-2l-2 3 4 0zM449 200l-7 1m0-1l-3 2 4 1zM458 202l-6-2m1-1l-4 1 3 2zM467 206l-5-7m1-1l-4-2 1 4zM477 206l-6-7m2-1l-4-2 1 4zM486 204l-4-4m1-1l-4-1 1 3zM494 204l-2-3m1-1l-3-2 1 3zM505 202l-4-1m1-2l-3 1 2 2zM514 201l-2 0m-1-1l-2 1 3 1zM524 202l-3-1m0-1l-3 0 2 2zM531 200l0 1m-1-1l0 2 2-1zM545 201l-6 0m0-2l-3 2 3 2zM550 199l0 2m-1-1l0 3 2-2zM561 199l-2 2m-1 0l0 2 3-1zM571 202l-2-1m1-1l-3 0 2 2zM582 201l-4 0m0-1l-2 1 2 1zM591 201l-3 0m0-1l-2 1 3 1zM610 201l-2 0m0-1l-3 1 3 1zM618 199l-1 2m-1 0l0 2 2-1zM14 190l-3 2m-1-2l-2 3 3 0zM23 191l-2 0m0-1l-3 1 3 2zM31 190l0 1m-2 0l1 2 2-2zM42 192l-2-1m1-1l-3 0 2 2zM52 191l-2 0m0-1l-3 1 3 2zM62 192l-3-1m0-1l-3 1 3 2zM72 190l-4 2m0-2l-2 3 3 0zM79 189l-1 3m-1-1l1 3 2-2zM92 190l-5 2m-1-2l-2 3 3 0zM99 193l-1-2m1-1l-3 0 1 2zM110 192l-3-1m0-1l-3 1 3 2zM120 190l-3 2m-1-2l-2 3 3 0zM130 191l-4 0m0-1l-2 1 2 2zM138 191l-2 0m0-1l-2 1 2 2zM148 190l-2 1m-1-1l-1 3 3-1zM158 190l-3 1m0-1l-2 3 3 0zM168 190l-3 2m-1-2l-2 3 3 0zM178 190l-4 2m-1-2l-2 3 3 0zM187 189l-3 3m-1-1l-1 2 3 0zM196 192l-2-1m0-1l-2 1 2 2zM205 189l-2 2m-1 0l0 2 2-1zM215 190l-2 1m-1-1l-1 3 3-1zM225 190l-3 2m0-2l-2 3 3 0zM235 191l-3 0m0-1l-2 2 2 1zM245 190l-3 2m-1-2l-2 3 3 0zM254 189l-3 3m-1-1l-1 3 3-1zM264 187l-4 6m-1-1l0 3 3-1zM274 186l-5 8m-1-1l0 4 3-2zM285 186l-7 8m-1-1l-1 4 4-2zM294 185l-6 10m-1-1l0 4 3-3zM304 186l-6 8m-2-1l0 4 3-2zM316 186l-10 8m-1-1l-2 3 4 0zM325 185l-9 10m-2-2l-1 4 4-1zM336 187l-11 7m-1-2l-3 3 4 0zM346 189l-12 3m0-1l-3 2 4 1zM355 191l-11 0m0-2l-3 2 3 2zM364 194l-10-4m1-2l-4 1 2 3zM373 195l-9-5m1-2l-4 0 2 3zM383 197l-10-9m2-1l-4-2 1 4zM392 196l-8-7m1-1l-4-1 2 4zM402 197l-9-9m1-1l-4-2 1 4zM410 195l-6-5m1-2l-4-1 1 4zM421 193l-8-2m1-2l-4 1 3 3zM430 190l-7 2m-1-2l-3 2 4 1zM440 191l-8 1m0-2l-3 2 3 1zM449 192l-7-1m1-2l-4 1 3 3zM459 193l-7-2m0-2l-4 0 3 3zM468 194l-6-4m1-1l-4-1 2 4zM478 194l-7-4m1-1l-4 0 2 3zM486 194l-5-3m1-2l-3 0 2 3zM495 192l-3-1m0-1l-3 1 2 2zM505 190l-4 2m0-2l-2 2 3 1zM513 190l-2 1m0-1l-2 3 3-1zM524 190l-3 1m-1-1l-2 2 3 1zM533 189l-3 3m-1-1l-1 3 3-1zM543 192l-3-1m0-1l-3 1 3 2zM553 189l-4 3m-1-1l-1 2 3 0zM562 191l-3 0m0-1l-2 2 2 1zM572 191l-4 0m0-1l-2 2 3 1zM581 189l-3 3m-1-1l-1 3 3-1zM590 190l-1 1m-1-1l-1 3 2-1zM610 191l-2 0m-1-1l-2 2 3 0zM620 190l-3 1m-1-1l-2 2 3 1zM12 179l-1 3m-1-1l0 3 2-2zM23 181l-2 1m-1-2l-2 2 3 1zM32 184l-2-3m1-1l-2-1 0 3zM42 181l-2 1m0-2l-2 2 2 1zM52 182l-3 0m1-2l-3 1 2 2zM63 182l-5 0m1-2l-3 1 2 2zM71 183l-2-1m1-1l-3 0 2 2zM81 183l-3-1m1-2l-3 1 2 2zM91 182l-3 0m0-2l-3 1 2 2zM98 180l0 1m-1 0l0 2 2-1zM109 182l-1 0m0-2l-3 1 2 2zM120 181l-3 1m0-2l-3 2 3 1zM128 180l-1 1m-1 0l-1 2 3-1zM137 180l-1 1m-1 0l0 2 2-1zM147 180l-1 1m-1 0l0 2 2-1zM157 180l-2 2m-1-1l-1 3 3-1zM168 182l-3 0m0-2l-3 1 2 2zM177 180l-3 2m0-1l-2 2 3 0zM187 180l-3 2m-1-1l-2 2 3 0zM196 180l-2 2m-1-1l-1 2 2 0zM205 182l-1 0m0-1l-2 0 2 2zM214 183l-1-1m1-1l-2-1 0 2zM225 182l-2 0m0-2l-3 1 2 2zM235 180l-3 2m-1-1l-2 2 3 0zM246 180l-5 2m-1-1l-2 2 4 0zM254 179l-3 3m-1-1l-1 3 3-1zM265 179l-5 3m-1-1l-1 3 3 0zM273 177l-3 6m-1-1l0 4 3-2zM284 179l-5 3m-1-1l-1 3 3 0zM295 176l-7 8m-2-1l-1 4 4-1zM305 176l-8 9m-1-2l-2 4 4-1zM316 177l-10 7m-1-1l-2 4 4-1zM326 178l-11 6m-1-2l-2 4 4 0zM336 179l-12 4m0-1l-3 3 4 0zM345 179l-10 4m-1-2l-2 3 4 1zM356 182l-13-1m0-2l-3 2 3 2zM366 184l-13-4m0-1l-4 1 3 2zM375 185l-12-5m0-2l-4 0 3 4zM384 184l-11-3m0-2l-4 1 3 2zM393 186l-10-7m1-1l-4-1 2 4zM401 186l-8-7m1-1l-4-1 2 4zM411 184l-7-3m0-2l-4 1 3 3zM420 183l-6-2m0-1l-3 0 2 3zM429 184l-6-3m1-2l-4 0 2 3zM440 182l-8 0m0-2l-3 1 3 2zM451 182l-10 0m0-2l-4 2 4 2zM459 184l-7-3m0-2l-3 0 2 3zM468 181l-6 1m0-2l-4 2 4 1zM477 183l-5-2m0-1l-3 0 2 3zM485 183l-3-2m1-1l-3 0 2 3zM496 182l-5 0m0-2l-2 2 2 1zM504 183l-2-1m0-2l-2 0 1 3zM514 179l-3 3m-1-1l-1 3 3-1zM523 181l-2 1m0-2l-2 2 2 1zM532 181l-1 0m0-1l-2 2 2 1zM542 181l-2 1m0-2l-2 2 3 1zM552 181l-2 1m0-2l-2 2 2 1zM562 181l-2 1m0-2l-3 2 3 1zM611 181l-4 1m0-1l-2 2 3 0zM619 182l-2 0m1-1l-3 0 2 2zM13 170l-2 2m-1-1l0 3 2-1zM24 171l-4 1m0-1l-2 2 3 0zM33 172l-3 0m1-1l-3 1 2 1zM42 170l-2 2m-1-1l-1 3 3-1zM51 170l-1 2m-2 0l0 2 3-1zM61 172l-1 0m-1-1l-1 1 2 1zM71 172l-2 0m0-1l-2 1 2 1zM80 173l-1-1m0-1l-2 0 1 2zM90 172l-1 0m0-1l-3 1 2 1zM99 173l-1-1m1-1l-3 0 1 2zM107 170l0 2m-1 0l2 1 0-2zM119 170l-2 2m-1-1l-1 3 3-1zM128 171l-1 1m-1-1l-1 2 2 0zM137 170l-1 2m-1-1l1 3 1-2zM148 172l-2 0m0-1l-3 1 3 1zM158 172l-3 0m0-1l-2 1 2 1zM167 173l-2-1m1-1l-3 0 1 2zM177 170l-3 2m0-1l-1 3 2-1zM187 172l-3 0m0-1l-2 1 2 1zM195 173l-1-1m1-1l-3 0 2 2zM207 170l-4 2m-1-1l-2 3 3 0zM216 171l-3 1m-1-1l-1 2 2 0zM227 172l-5 0m0-1l-3 1 3 2zM235 169l-3 4m-1-1l-1 3 3-1zM244 170l-2 2m-1-1l-1 3 3-1zM256 169l-6 4m0-2l-2 3 3 0zM264 169l-4 4m-1-1l-1 3 3-1zM275 169l-5 4m-1-2l-2 3 4 0zM285 168l-6 5m-1-1l-2 3 4 0zM294 167l-5 7m-2-1l0 4 3-2zM305 168l-7 5m-1-1l-2 3 4 0zM316 167l-10 8m-1-2l-2 4 4-1zM327 169l-12 5m-1-2l-3 3 4 1zM337 169l-13 4m0-1l-3 2 4 1zM346 171l-12 2m0-2l-3 2 3 2zM355 172l-11 0m0-2l-3 2 3 2zM365 174l-12-3m1-2l-4 1 3 3zM375 175l-12-5m0-1l-4 0 3 3zM383 176l-10-6m1-2l-4 0 2 3zM393 175l-10-5m1-1l-4 0 2 3zM401 175l-7-4m1-2l-4 0 2 3zM411 174l-7-3m0-1l-4 0 3 3zM421 174l-9-3m1-2l-4 1 3 3zM429 173l-5-1m0-2l-3 0 2 3zM439 174l-6-3m1-1l-4 0 2 3zM448 173l-5-1m1-2l-3 1 2 2zM458 172l-6 0m0-2l-3 2 3 2zM467 173l-5-1m1-2l-3 1 2 2zM476 173l-4-1m1-1l-3 0 2 2zM485 172l-2 0m0-1l-2 0 1 2zM494 173l-2-1m1-1l-3 0 1 2zM505 171l-4 1m0-1l-3 2 3 1zM515 172l-4 0m0-1l-3 1 3 1zM524 172l-3 0m0-1l-3 1 3 1zM532 173l-1-1m1 0l-2-1 0 2zM589 170l0 2m-1-1l0 2 2-1zM601 171l-3 1m-1-1l-2 2 3 0zM611 171l-4 1m0-1l-2 2 2 0zM620 171l-3 1m-1-1l-2 2 3 0zM13 161l-2 1m0-1l-2 2 3 0zM24 162l-4 0m0-1l-3 2 3 1zM33 162l-3 0m0-1l-2 2 2 1zM43 162l-3 0m-1-1l-2 2 3 1zM51 163l-1 0m1-1l-3-1 2 2zM61 160l-2 2m-1 0l0 2 2-1zM72 164l-4-2m1-1l-3 0 2 2zM81 160l-3 3m-1-2l-1 3 3 0zM90 161l-2 1m-1-1l-1 3 3-1zM98 161l0 1m-1 0l0 2 2-2zM109 163l-1-1m0-1l-3 1 2 1zM119 162l-2 0m0-1l-2 2 3 0zM129 161l-2 1m-1-1l-1 2 2 0zM138 161l-1 1m-1-1l-1 2 2 0zM149 161l-3 1m-1-1l-2 2 3 1zM158 161l-3 1m0-1l-2 3 3-1zM167 160l-2 2m-1 0l-1 2 3-1zM176 161l-1 1m-1-1l-1 3 3-1zM187 162l-3 0m0-1l-2 1 2 1zM198 161l-5 2m0-2l-3 2 3 1zM205 161l-1 1m-1-1l-1 3 3-1zM215 161l-2 1m0-1l-2 2 3 0zM226 161l-4 1m0-1l-2 2 3 1zM235 161l-3 1m-1-1l-1 3 3 0zM245 159l-4 4m-1-1l-1 4 4-2zM254 160l-3 3m-1-1l-1 2 3 0zM265 160l-5 3m-1-1l-1 3 3-1zM274 160l-4 3m-1-2l-2 3 4 0zM285 158l-6 6m-1-1l-2 3 4-1zM296 158l-9 6m-1-1l-2 4 4-1zM305 159l-7 4m-1-1l-2 3 4 0zM316 158l-10 6m-1-1l-2 3 4 0zM325 159l-9 5m0-2l-3 3 4 0zM336 160l-12 4m0-2l-3 3 4 0zM345 160l-10 3m-1-1l-3 3 4 0zM356 161l-13 2m0-2l-3 2 3 2zM365 162l-11 1m0-2l-4 2 4 1zM374 165l-10-4m0-2l-4 1 3 3zM382 166l-8-6m1-1l-4-1 2 4zM391 164l-6-3m0-1l-4 0 3 3zM401 166l-7-5m1-2l-4 0 2 3zM410 165l-6-4m1-1l-4-1 2 4zM420 163l-6-1m0-2l-3 1 2 2zM429 164l-6-2m1-2l-4 1 3 2zM438 162l-5 0m0-1l-3 1 3 2zM448 164l-5-2m1-2l-4 0 2 3zM458 160l-6 3m-1-2l-2 3 4 1zM467 161l-4 1m-1-1l-2 2 3 1zM476 164l-4-2m1-1l-3 0 2 2zM485 162l-2 0m0-1l-2 2 2 0zM495 163l-3-1m0-1l-3 1 2 2zM502 164l0-1m1-1l-2-1 0 2zM513 163l-2-1m1-1l-3 0 2 2zM561 161l-1 1m-1-1l-1 2 2 0zM572 162l-3 0m0-1l-3 1 3 2zM592 163l-5-1m1-1l-3 1 2 2zM601 163l-3-1m0-1l-3 1 2 2zM610 162l-3 0m0-1l-2 2 3 1zM619 165l-2-3m1-1l-3-2 0 3zM13 154l-1-1m0-1l-2 0 1 2zM23 151l-2 2m-1-1l-2 2 3 0zM33 151l-3 2m-1-1l-2 2 3 0zM42 151l-2 2m-1-1l-1 2 3 0zM52 151l-2 2m-1-1l-1 2 2 0zM61 154l-2-1m1-1l-2-1 1 3zM71 152l-2 1m0-2l-3 2 3 1zM81 151l-3 2m0-1l-2 2 3 0zM90 152l-2 1m0-2l-2 2 3 1zM98 151l0 1m-1 0l0 2 2-1zM109 152l-2 1m0-2l-2 3 3 0zM120 154l-3-2m0-1l-3 1 2 2zM129 152l-2 1m-1-2l-2 2 3 1zM139 153l-3 0m0-2l-3 1 3 2zM149 152l-4 1m0-2l-2 2 3 1zM158 154l-3-2m1-1l-3 0 2 3zM168 151l-3 2m-1-1l-2 2 3 0zM177 153l-2 0m0-2l-3 1 2 2zM186 151l-2 2m-1-1l-1 2 3 0zM196 151l-2 2m-1-1l-1 2 2 0zM204 151l0 1m-1 0l0 2 2-2zM214 151l-1 1m-1 0l0 2 2-1zM225 152l-2 1m-1-2l-1 3 2 0zM235 153l-3 0m0-2l-2 2 2 1zM245 151l-4 2m0-1l-2 2 3 0zM255 151l-4 2m-1-1l-2 2 3 0zM264 151l-3 2m-1-1l-2 3 3-1zM273 149l-3 4m-1 0l0 3 3-2zM285 150l-6 3m-1-1l-2 3 4 0zM294 151l-5 2m-1-1l-1 3 3 0zM305 150l-7 4m-1-2l-2 3 4 0zM315 149l-8 5m-1-1l-2 3 4 0zM325 151l-9 2m0-1l-3 2 4 1zM335 151l-10 2m0-2l-3 3 4 1zM345 152l-10 1m0-2l-4 3 4 1zM355 153l-11-1m1-1l-4 1 3 2zM364 153l-9-1m0-2l-4 2 3 2zM374 154l-11-2m1-2l-4 1 3 3zM383 154l-9-2m1-2l-4 1 3 3zM390 155l-5-3m1-1l-4 0 2 2zM401 155l-7-4m1-1l-4 0 2 3zM410 154l-6-2m1-1l-3 0 2 3zM419 152l-5 1m0-2l-2 2 3 1zM429 154l-6-2m1-1l-4 1 3 2zM437 153l-2 0m0-2l-3 1 2 2zM447 153l-3 0m0-2l-2 2 2 1zM457 153l-4 0m0-2l-3 2 3 1zM466 151l-3 2m-1-1l-2 3 4-1zM476 153l-3-1m0-1l-3 1 2 2zM484 152l-1 1m0-2l-2 2 2 1zM494 153l-2 0m0-2l-2 2 2 1zM505 152l-4 1m0-2l-2 2 3 1zM514 151l-3 2m-1-1l-1 2 3 0zM552 152l-2 1m0-2l-2 2 2 1zM562 154l-3-2m1-1l-3 0 1 3zM573 152l-5 1m-1-2l-2 3 3 0zM582 154l-4-2m1-1l-3 1 2 2zM590 152l-1 1m0-2l-3 2 3 1zM600 152l-2 1m-1-2l-1 2 2 1zM610 153l-3 0m1-2l-3 1 2 2zM619 152l-1 1m-1-2l-2 2 3 1zM14 143l-3 0m0-1l-3 1 3 1zM23 142l-2 1m-1-1l-2 2 3 0zM33 141l-3 2m-1-1l-1 3 3-1zM43 142l-3 1m-1-1l-2 2 3 0zM51 141l-1 2m-1-1l-1 3 3-1zM61 143l-2 0m1-1l-3 1 2 1zM71 142l-2 1m-1-1l-2 2 3 0zM82 141l-4 2m-1-1l-2 3 3 0zM90 141l-2 2m-1-1l0 3 2-1zM101 142l-4 1m0-1l-2 2 3 0zM108 141l0 1m-2 0l1 3 2-2zM119 143l-2 0m0-1l-2 1 2 1zM129 141l-3 2m0-1l-2 2 3 0zM138 142l-2 1m0-1l-2 1 3 1zM147 141l-1 2m-1-1l0 2 2-1zM157 143l-1 0m0-1l-2 1 2 1zM168 142l-3 1m-1-1l-2 2 3 0zM177 141l-3 2m0-1l-2 2 3 0zM188 142l-4 1m-1-1l-2 2 3 1zM197 142l-3 1m-1-1l-2 2 3 0zM205 142l-1 1m-1-1l0 2 2-1zM216 143l-3 0m0-1l-2 1 2 1zM225 142l-2 1m-1-1l-2 2 3 0zM235 141l-3 2m-1-1l-1 3 3-1zM244 140l-2 3m-1 0l-1 3 3-2zM254 141l-2 2m-1-1l-1 2 2 0zM265 141l-5 2m0-1l-2 3 3 0zM274 141l-4 2m-1-1l-1 3 3-1zM284 143l-4 0m0-1l-3 1 3 1zM296 142l-8 1m0-1l-3 2 3 1zM304 142l-6 1m0-1l-3 2 4 1zM313 141l-5 3m0-2l-2 3 3 0zM323 140l-6 4m0-2l-2 3 3 0zM334 142l-7 1m-1-1l-3 2 4 1zM344 142l-8 1m-1-1l-3 2 4 1zM354 143l-8 0m0-2l-4 1 3 3zM363 141l-8 3m0-2l-3 3 4 0zM373 142l-9 1m0-2l-3 3 4 1zM382 144l-7-1m0-2l-3 1 3 2zM390 145l-5-3m1-1l-3-1 1 3zM400 145l-5-3m1-1l-4 0 2 3zM409 144l-4-1m0-2l-2 1 2 2zM419 145l-5-3m1-1l-3 0 1 3zM428 142l-4 1m0-1l-2 1 2 1zM437 144l-3-1m1-2l-3 1 1 2zM447 144l-4-1m1-2l-3 1 2 2zM456 143l-2 0m0-1l-3 0 2 2zM465 142l-2 1m0-1l-2 2 3 0zM475 143l-2 0m0-1l-2 1 2 1zM485 142l-3 1m0-1l-2 2 3 0zM494 142l-2 1m0-1l-2 2 3 0zM504 142l-2 1m0-1l-2 2 2 0zM552 141l-2 2m-1-1l-2 3 3-1zM562 142l-3 1m0-1l-2 2 3 0zM569 141l0 1m-1 1l2 2 0-3zM582 142l-4 1m0-1l-2 2 3 0zM592 144l-4-1m0-2l-3 1 2 2zM600 141l-2 2m-1-1l-1 3 2-1zM610 143l-3 0m0-1l-2 1 2 1zM620 142l-3 1m-1-1l-2 2 3 0zM12 134m0-1l-2-1 1 2zM23 133l-2 0m0-1l-3 1 3 1zM32 134l-1-1m0-1l-3 1 2 1zM43 133l-4 0m0-1l-2 1 2 2zM49 131l1 2m-2 0l2 2 1-2zM60 135l-1-1m1-1l-1-1-1 2zM67 133l1 0m0 1l3-1-3-1zM80 134l-1-1m0-1l-2 0 1 2zM87 133l1 0m-1 1l3 0-2-2zM100 133l-2 0m0-1l-2 2 2 0zM108 130l-1 4m-1-1l1 3 2-2zM120 133l-3 0m0-1l-3 1 3 1zM128 132l-1 1m-1-1l-1 2 3 0zM136 131l0 2m-1 0l1 2 1-2zM147 131l-1 2m-1 0l0 2 2-2zM156 132l0 1m-1-1l0 3 2-2zM165 132l0 1m-1 0l1 2 1-2zM177 133l-2 0m-1-1l-2 2 3 0zM185 135l0-1m1-1l-3-1 1 2zM196 134l-2-1m1-1l-3 1 2 1zM203 135l1-1m1 0l-1-3-2 2zM214 132l-1 1m-1-1l0 3 2-2zM225 132l-2 1m0-1l-2 2 2 0zM234 133l-1 0m0-1l-2 1 2 1zM241 132l1 1m-1 1l2 1 0-3zM253 132l-1 1m-1-1l-1 2 3 0zM262 131l-1 2m-1 0l0 2 2-1zM273 131l-3 3m0-2l-2 3 3 0zM284 132l-4 1m-1-1l-2 2 3 1zM294 134l-5-1m1-1l-3 1 2 2zM303 131l-4 3m-1-2l-2 3 4 0zM312 131l-3 3m-1-1l-1 3 3-1zM324 132l-7 2m0-2l-3 3 4 0zM334 133l-8 0m0-2l-3 2 3 2zM341 132l-3 2m-1-2l-2 3 3 0zM352 133l-5 0m0-1l-3 1 3 2zM361 132l-4 1m-1-1l-2 2 3 1zM371 135l-5-2m1-2l-3 1 2 2zM380 134l-4-1m0-2l-3 1 2 2zM390 134l-5-1m1-1l-3 0 2 2zM398 135l-2-2m1-1l-3 0 1 2zM408 134l-3-1m1-1l-3 0 2 2zM418 134l-3-1m0-1l-3 0 2 2zM427 132l-2 1m-1-1l-1 2 2 0zM436 134l-1-1m0 0l-2-1 1 2zM446 133l-1 0m-1-1l-2 1 3 1zM454 131l0 2m-1 0l0 2 2-2zM463 132l0 1m-1 0l1 2 1-2zM474 135l-1-2m1 0l-2-2 0 3zM480 133l2 0m0 1l3-1-3-1zM562 132l-3 1m0-1l-2 3 3 0zM571 132l-2 1m0-1l-2 2 3 0zM580 133l-1 0m0-1l-2 1 2 1zM590 132l-2 1m0-1l-1 3 2-1zM600 133l-2 0m0-1l-2 1 2 1zM13 122l-2 1m-1 0l0 2 2-1zM21 122l0 1m-1 0l1 2 1-2zM32 123l-1 0m-1-1l-1 2 2 0zM41 125l-1-1m1-1l-2-1 1 3zM49 125l1-1m1 0l-1-2-2 2zM61 124l-1 0m0-2l-2 1 2 2zM69 125l0-1m1 0l-1-2-1 2zM77 123l1 0m0 2l2-1-2-2zM89 125l-1-1m1-1l-2-1 1 3zM96 123l1 0m0 1l2 1-1-3zM106 121l1 3m-1 0l2 2 1-3zM119 124l-2 0m1-1l-3 0 2 2zM125 124l1 0m1 1l1-2-2 0zM138 123l-1 0m0-1l-2 2 2 1zM147 125l-1-1m1-1l-2-1 0 2zM157 124l-1 0m0-1l-2 0 2 2zM164 122l1 1m-1 1l2 2 0-3zM173 123l1 0m0 2l2-1-2-2zM186 124l-1 0m0-2l-2 1 2 2zM194 125l0-1m1 0l-1-2-1 2zM206 123l-2 0m-1-1l-1 2 2 1zM211 125l2-1m1 1l1-3-3 1zM225 122l-2 1m-1 0l-1 2 3-1zM233 122l0 1m-2 0l1 2 2-1zM243 125l-1-1m1 0l-2-2 0 2zM255 124l-4 0m0-2l-2 1 2 2zM263 123l-1 0m-1-1l-1 2 2 1zM273 123l-2 0m0-1l-2 2 2 1zM283 125l-3-2m1-1l-3 0 2 2zM293 123l-3 1m0-2l-3 2 3 1zM302 121l-2 3m-1-1l-1 3 3-1zM313 125l-5-2m1-1l-3 0 2 2zM321 122l-2 2m-1-1l-1 2 3-1zM332 122l-4 2m-1-1l-2 2 4 0zM342 123l-5 1m0-2l-3 2 3 1zM351 124l-4 0m1-2l-3 1 2 2zM361 124l-4-1m0-1l-3 1 3 2zM370 124l-4 0m0-2l-2 2 2 1zM380 124l-4 0m0-2l-2 1 2 2zM389 126l-3-3m1-1l-3-1 1 3zM398 125l-2-1m1-1l-3-1 1 3zM407 121l-1 3m-2-1l0 3 3-2zM417 124l-1 0m0-1l-2 0 1 2zM427 124l-2 0m0-1l-2 0 2 2zM433 125l1-1m1 1l1-3-2 1zM446 125l-2-1m1-1l-3-1 1 2zM452 122l2 1m-1 1l2 1 0-2zM465 124l-1 0m0-1l-2 0 1 2zM474 122l-1 1m-1 0l0 2 2-1zM491 125l1-1m1 1l0-3-2 1zM589 127l-1-4m2 0l-3-2 0 2zM10 113l1 1m-1 1l3 0-1-2zM19 114l2 0m0 1l2-2-3 0zM29 115l1-1m1 1l0-2-2 1zM38 114l2 0m0 1l2-2-3 0zM47 114l3 0m-1 1l3-1-2-1zM61 112l-2 2m-1-1l0 3 2-1zM70 115l-1-1m1-1l-3-1 1 3zM79 115l0-1m1 0l-2-2 0 3zM89 115l-1-1m1 0l-2-2 0 3zM99 114l-1 0m0-1l-2 1 2 1zM108 112l-1 2m-1 0l1 2 2-2zM117 112l0 2m-1 0l1 2 1-2zM124 112l3 2m-1 1l3 0-1-2zM138 115l-1-1m0-1l-2 0 1 2zM144 113l2 1m-1 1l3 0-2-2zM157 115l-1-1m0-1l-2 0 1 2zM163 113l2 1m-1 1l3 0-1-2zM176 114l-1 0m0-1l-2 1 2 1zM185 116l-1-2m2-1l-2-2-1 3zM195 113l-1 1m0-1l-1 2 2-1zM204 116l0-2m1-1l-2-1-1 2zM215 113l-1 1m-1-1l-1 2 2 0zM225 114l-2 0m0-1l-2 1 2 1zM234 115l-1-1m0-1l-2 0 1 2zM240 113l2 1m-1 1l3-1-2-1zM252 112l0 1m-1 1l1 2 1-3zM261 112l0 1m-1 1l2 1 0-2zM270 115l1-1m1 1l0-3-2 2zM282 114l-1 0m0-1l-2 0 2 2zM289 115l1-1m1 1l0-2-2 0zM300 111l0 3m-1 0l0 2 2-2zM311 112l-2 2m-1-1l0 3 2-1zM320 111l-1 3m-1 0l0 3 2-2zM330 115l-1-1m1-1l-3 0 1 2zM339 115l-1-1m1 0l-2-2 0 3zM351 114l-3 0m0-1l-3 1 3 1zM359 115l-1-1m1-1l-3 0 1 2zM370 113l-3 1m-1-1l-2 1 3 1zM379 114l-2 0m0-1l-2 0 2 2zM388 114l-1 0m0-1l-2 1 2 1zM397 116l-1-2m1-1l-2-2 0 3zM405 116l1-2m1 0l-1-3-2 2zM416 116l-1-2m1-1l-2-1 0 3zM424 112l1 2m-1 0l2 2 0-3zM435 116l0-2m1 0l-2-2-1 3zM443 115l1-1m0 1l2-2-3 0zM452 113l1 1m0 1l3 0-2-2zM465 113l-1 1m-1-1l-1 2 2 0zM471 113l2 1m-1 1l2 0-1-2zM9 106l2-2m1 1l1-2-3 0zM23 106l-2-2m1-1l-3-1 1 3zM30 107l0-3m2 0l-1-2-2 2zM39 103l1 1m-1 1l2 0-1-2zM49 106l1-1m1 0l-1-3-2 2zM60 103l0 1m-1-1l-1 3 2-2zM70 103l-1 1m0-1l-1 2 2 0zM77 106l1-1m1 0l1-2-3 1zM88 106l0-1m1 0l-1-2-1 1zM95 105l3-1m0 1l3-1-3-1zM109 105l-1-1m0-1l-2 0 1 2zM118 107l-1-3m1-1l-2-2-1 3zM126 106l1-2m1 1l-1-3-2 2zM136 106l0-1m1-1l-1-1-1 2zM147 105l-1-1m1-1l-3 1 2 1zM154 103l1 1m0 1l2 0-1-2zM164 102l1 2m-1 1l2 1 0-3zM177 105l-2-1m0-1l-2 0 1 2zM184 101l0 4m-1 0l2 2 1-2zM195 103l-1 1m-1-1l0 2 2 0zM203 103l0 1m-1 0l2 2 0-3zM212 105l1-1m0 1l2-1-3-1zM221 106l2-2m0 1l1-2-2 1zM230 104l2 0m0 1l3-1-3-1zM243 106l-1-1m1-1l-2-1 0 2zM249 105l3-1m0 1l2-2-3 0zM263 105l-1-1m0-1l-2 0 1 2zM269 105l1-1m1 1l1-1-2-1zM280 106l0-1m2 0l-1-2-2 2zM288 104l2 0m0 1l2-1-2-1zM301 106l-1-1m1-1l-2-1 0 2zM310 103l0 1m-1-1l0 3 2-2zM321 104l-2 0m0-1l-2 1 2 1zM328 102l1 2m-2 0l2 3 1-3zM339 106l-1-2m1 0l-2-2 0 3zM350 103l-2 1m0-1l-2 2 3 0zM359 104l-1 0m0-1l-2 2 2 0zM366 106l1-1m1 0l0-2-2 1zM378 104l-1 0m0-1l-2 1 2 1zM387 107l-1-3m1-1l-2-2 0 3zM397 105l-1 0m1-1l-2-1 0 2zM406 106l0-1m1-1l-2-1 0 2zM414 103l1 1m-1 1l3 0-2-2zM423 104l1 0m0 1l2 0-1-2zM433 105l1-1m1 1l1-2-2 0zM446 103l-2 1m0-1l-1 2 2 0zM454 102l0 2m-1-1l0 3 2-2zM10 94l1 0m-1 1l3 0-2-2zM18 97l3-3m1 1l1-3-3 1zM30 96l0-1m1 0l-1-2-1 2zM37 95l3-1m1 2l2-2-3-1zM49 96l1-1m1 0l-1-2-2 2zM58 93l1 1m-1 1l2 1 0-2zM67 96l2-1m1 0l0-2-2 1zM76 95l2 0m0 1l3-2-3-1zM90 94l-1 0m-1-1l-2 2 3 1zM97 96l1-1m0 0l1-2-2 1zM106 93l1 1m-1 1l2 1 0-2zM115 96l2-1m1 0l1-2-3 1zM128 96l-1-1m1-1l-3-1 1 3zM134 95l2 0m0 1l2-2-2-1zM147 95l-1 0m1-1l-3 0 2 2zM157 96l-1-1m1-1l-3-1 1 3zM163 95l2 0m0 1l2-2-2-1zM172 95l3-1m0 2l3-2-3-1zM185 96l-1-1m1-1l-2-1 0 2zM192 95l2 0m0 1l2-2-3-1zM202 95l1 0m1 1l2-2-3-1zM211 94l2 0m0 2l2-1-1-2zM222 96l1-1m0 1l1-3-2 1zM231 95l1 0m1 1l1-2-3 0zM240 95l2 0m0 1l2-2-3 0zM250 95l1 0m1 1l1-2-2 0zM260 95l1 0m0 1l2-2-2-1zM271 96l0-1m1 0l-1-2-1 2zM280 96l0-1m2 0l-1-2-2 2zM288 94l2 0m0 2l2-1-2-2zM298 95l2 0m0 1l2-2-2-1zM309 96l0-1m1 0l-1-2-1 2zM317 93l2 2m-1 1l3 0-1-3zM329 96l0-1m1 0l-2-2 0 2zM339 93l-1 1m-1 0l1 2 1-2zM349 94l-1 0m0-1l-2 2 3 0zM357 96l0-1m2 0l-1-2-2 2zM368 96l-1-1m1-1l-2-1 0 2zM378 96l-1-1m1-1l-2-1 0 2zM388 95l-1 0m0-1l-2 0 1 2zM395 97l1-3m1 1l0-3-2 2zM406 96l0-1m1-1l-2-1 0 2zM417 96l-1-1m0-1l-2-1 1 3zM426 96l-1-1m1-1l-2-1 0 3zM432 94l3 1m-1 1l3-1-2-2zM445 96l-1-1m1-1l-2-1 1 3zM454 93l0 1m-1 0l1 2 1-2zM9 86l2-1m1 1l1-3-2 1zM19 84l2 1m-1 1l3-1-2-1zM30 88l0-3m2 0l-1-3-2 2zM38 86l2-1m0 1l2-2-3 0zM49 83l1 2m-2 0l2 2 1-3zM60 86l-1-1m1 0l-1-2-1 3zM68 83l1 1m-1 1l2 1 0-2zM77 81l2 5m-1 0l2 2 0-3zM87 83l1 2m-1 1l3 0-1-2zM96 86l2-1m1 1l0-3-2 1zM106 85l1 0m0 1l2-2-2 0zM114 85l3 0m0 1l3-2-3 0zM124 86l3-1m0 1l2-2-3 0zM136 83l0 2m-1 0l1 2 1-2zM143 84l3 1m0 1l3-1-3-1zM155 86l0-1m2 0l-1-2-2 2zM166 88l-1-4m1 0l-2-2 0 3zM173 85l1 0m0 1l3-1-3-1zM182 84l2 1m0 1l2 0-1-2zM195 87l-1-2m1-1l-2-1 0 2zM202 84l1 1m0 1l3 0-2-2zM211 85l2 0m0 1l2-1-2-1zM220 87l3-3m1 2l2-3-4 0zM230 84l2 1m0 1l3 0-2-2zM242 83l0 2m-1 0l1 2 1-2zM253 86l-1-1m1-1l-3 0 1 2zM259 85l2 0m0 1l3-1-3-1zM272 87l-1-2m1-1l-2-1 0 3zM279 87l2-2m1 0l0-2-3 1zM289 87l1-2m1 1l0-3-2 2zM298 84l1 1m0 1l3-1-2-1zM307 84l2 1m0 1l3 0-2-2zM318 86l1-1m1 1l0-2-2 0zM326 86l3-1m0 1l2-2-3 0zM339 86l-1-1m1 0l-2-2 0 3zM348 87l0-2m1 0l-2-2 0 2zM355 85l2 0m0 1l3-1-3-1zM365 85l2 0m0 1l2-2-2 0zM375 86l1-1m1 1l1-2-2 0zM384 86l3-1m0 1l2-2-3 0zM395 83l1 2m-1 0l2 1 0-2zM404 85l1 0m0 1l2-2-2 0zM415 87l0-2m1 0l-1-3-1 3zM423 86l2-1m0 1l1-2-2 0zM434 86l0-1m1 0l0-2-2 2zM443 84l1 0m-1 1l2 1-1-2zM49 77l1-2m1 1l-1-3-2 2zM57 73l3 3m-1 1l3 0-1-3zM67 74l1 1m0 1l2 0-1-2zM78 77l0-1m2 0l-1-3-2 2zM87 77l1-1m1 0l0-2-2 1zM95 75l3 0m0 1l3-1-3-1zM107 77l0-2m2 0l-2-2-1 2zM118 74l-1 1m-1-1l0 3 2-2zM124 76l3-1m0 1l2-1-3-1zM135 76l1-1m0 1l2-1-3-1zM142 75l5 0m0 2l3-2-3-1zM154 77l1-2m1 1l0-2-2 1zM163 75l2 0m0 1l2-1-2-1zM172 76l3-1m0 1l3-1-3-1zM183 76l1-1m0 1l2-1-2-1zM192 74l2 1m-1 1l3 0-2-2zM201 76l2-1m1 1l2-1-3-1zM212 74l1 1m-1 1l3 1-1-3zM221 75l1 0m0 1l2-1-1-1zM231 74l1 1m0 1l2 0-1-2zM240 73l2 2m-1 1l3 1-1-3zM251 73l1 2m-2 0l2 2 1-3zM259 76l2-1m0 1l2-1-2-1zM269 74l2 1m-1 1l3 0-1-2zM277 76l4-1m0 1l3-2-3 0zM289 76l1-1m0 1l1-2-2 1zM299 77l1-1m1 0l-1-3-1 2zM308 76l1-1m1 1l1-2-3 1zM320 74l-1 1m-1-1l0 2 2-1zM327 73l2 2m-1 1l2 1 0-3zM337 76l1-1m1 1l1-2-3 1zM346 77l2-2m1 1l1-2-3 0zM355 77l3-2m1 1l1-3-3 1zM366 74l1 1m-1 1l2 0-1-2zM377 77l0-1m1 0l-1-3-1 3zM383 77l4-2m1 1l2-2-3-1zM394 74l2 1m-1 1l3 0-2-2zM404 76l1-1m1 1l1-2-2 1zM413 75l2 0m0 1l3-1-3-1zM423 78l2-3m1 1l1-3-3 1zM433 75l1 0m0 1l2 0-2-2zM442 74l2 1m-1 1l3 1-1-3zM67 64l2 2m-1 1l3 0-1-2zM76 66l3-1m0 2l2-2-2-1zM86 66l2-1m0 2l3-2-3-1zM96 65l1 0m0 1l2 0-1-2zM105 66l2-1m0 2l2-2-2-1zM115 66l2-1m0 2l2-2-2-1zM125 67l1-1m1 1l1-3-2 1zM133 66l4-1m0 2l2-2-3-1zM143 65l3 0m0 2l2-1-2-2zM154 64l1 1m-1 1l3 1-1-3zM163 64l2 1m-1 1l3 1-1-3zM173 67l2-1m0 0l1-2-2 1zM183 63l1 3m-1 0l3 1-1-2zM191 66l3-1m0 2l3-2-3-1zM201 64l3 2m0 1l2 0-1-3zM210 65l4 1m0 1l2-1-2-2zM221 67l2-2m1 1l1-2-3 0zM232 64l0 1m-1 1l2 1 0-3zM240 65l2 0m0 2l2-1-2-2zM253 66l-1 0m0-2l-2 1 2 2zM261 63l0 2m-1 1l2 2 0-3zM267 66l5-1m0 2l2-2-2-1zM279 67l1-1m2 0l0-2-3 1zM287 66l4-1m0 2l2-2-3-1zM299 64l0 1m0 1l2 1-1-3zM309 64l0 1m-1 0l2 2 0-2zM317 66l2-1m0 2l2-2-2-1zM327 64l2 1m-1 1l3 1-2-3zM335 66l4-1m0 2l2-3-3 0zM344 65l5 1m-1 1l3-1-2-2zM355 67l3-2m1 1l1-2-3 0zM364 66l3-1m1 2l2-2-3-1zM375 64l2 1m-1 1l2 1-1-3zM385 67l1-1m1 0l0-2-2 1zM395 64l1 1m-1 1l2 1-1-3zM405 68l1-2m1 0l-1-3-2 2zM412 65l4 0m0 2l3-2-3-1zM422 66l3-1m1 2l2-2-3-1zM432 67l2-2m1 2l2-3-3 0zM442 67l2-1m1 0l1-2-3 1zM76 57l3-1m0 1l2-3-3 0zM85 58l4-3m0 2l2-3-3 0zM95 57l3-1m1 1l1-2-2-1zM106 56l1 0m0 1l2-1-2-1zM117 57l0-1m1 1l-1-3-1 2zM124 57l3-1m0 1l2-2-3 0zM134 55l2 1m0 1l2-1-2-1zM143 57l3-1m1 1l2-2-3-1zM154 57l1-1m1 1l1-3-3 1zM162 56l3 0m0 1l3-1-2-2zM173 58l2-3m1 1l1-3-3 2zM183 58l2-3m1 1l0-3-3 2zM193 54l1 1m-1 1l1 2 1-3zM201 56l3 0m0 1l2-1-2-2zM211 55l2 1m0 1l3-1-2-1zM223 57l0-1m1 0l-2-2 0 3zM230 55l2 1m0 1l3 0-2-2zM243 54l-1 1m-1 0l0 2 2-1zM249 57l3-1m1 1l1-3-3 0zM258 55l4 1m0 1l3 0-3-2zM269 57l2-1m1 1l1-3-3 1zM280 57l0-1m1 1l0-3-2 2zM288 55l2 1m0 1l2-1-2-1zM298 56l2 0m0 1l2-1-2-1zM307 57l3-1m0 1l2-2-3 0zM317 56l2 0m0 1l2-2-2 0zM327 57l2-1m1 1l1-3-3 1zM337 57l1-1m1 1l0-3-2 1zM345 55l3 1m0 1l2-1-2-1zM355 57l3-1m0 1l2-2-3-1zM365 57l2-1m1 1l1-2-3 0zM374 56l3 0m0 1l2-1-2-2zM386 54l0 1m-1 0l1 2 1-2zM394 56l2 0m0 1l2-2-3 0zM405 54l0 1m-1 1l2 1 0-2zM415 57l0-1m1 0l-1-2-1 2zM422 55l3 1m0 1l2-1-2-1zM432 56l3 0m0 1l2-2-3 0zM441 55l3 1m0 1l3-1-2-1zM85 46l4 0m0 1l2-1-3-1zM96 45l2 1m-1 1l2 0-1-2zM105 46l2 0m0 1l3-1-2-1zM115 47l2-1m1 1l1-2-3 0zM127 45l0 1m-1-1l0 3 2-2zM134 46l2 0m0 1l2-1-2-1zM145 45l1 1m-1 1l2 1 0-3zM154 46l1 0m0 1l2 0-2-2zM165 48l0-2m1 1l0-3-2 2zM173 46l1 0m0 1l2-1-2-1zM182 47l2-1m1 1l1-2-2 0zM191 46l3 0m0 1l3-1-3-1zM202 45l1 1m0 1l2 0-1-2zM212 47l1-1m0 1l2-2-3 0zM221 46l2 0m0 1l2-1-2-1zM230 46l2 0m0 1l2-1-2-1zM240 45l2 1m0 1l2 0-1-2zM250 45l2 1m-1 1l3 0-2-2zM258 46l4 0m0 1l2-1-2-1zM268 45l3 1m0 1l2 0-1-2zM279 45l1 1m-1 1l3 0-1-2zM288 44l2 2m-1 1l3 2-1-3zM299 44l1 2m-1 0l2 2 0-3zM307 48l3-2m1 1l1-3-3 1zM318 45l1 1m-1 0l2 2 0-3zM326 45l3 1m-1 1l3 0-2-2zM336 46l2 0m1 1l2-1-3-1zM346 47l2-1m0 1l2-2-3 0zM356 46l1 0m0 1l2-1-2-1zM366 48l1-2m1 1l0-3-2 2zM375 46l1 0m0 1l2-1-2-1zM386 44l0 2m-1 0l1 2 1-2zM394 47l2-1m0 1l2-1-3-1zM403 47l3-1m0 1l2-1-3-1zM413 46l2 0m0 1l3-1-3-1zM423 46l1 0m0 1l2-1-2-1zM432 46l3 0m0 1l2-1-2-1zM85 34l4 3m-1 1l3 1-1-3zM96 36l1 0m0 2l3-2-3-1zM106 38l1-1m1 0l0-2-2 1zM115 37l2-1m0 2l2-3-3 0zM125 37l2-1m0 2l2-2-3-1zM134 34l3 3m-1 1l2 1 0-3zM153 37l2-1m1 2l2-3-3 0zM165 35l0 1m-1 0l2 2 0-2zM173 34l2 2m-1 1l2 1 0-2zM182 36l2 0m0 2l3-1-2-2zM191 37l3-1m0 2l3-2-3-1zM202 37l1-1m0 2l2-2-2-1zM210 36l3 0m0 2l3-2-3-1zM222 35l1 1m-1 1l2 1-1-3zM231 35l1 1m0 1l2 1-1-3zM241 34l1 3m-1 0l2 2 0-3zM250 35l2 1m-1 1l2 1-1-3zM258 36l4 0m0 2l2-1-2-2zM267 36l5 1m0 1l3-1-3-2zM279 36l1 0m0 1l2 0-1-2zM287 36l3 0m0 2l3-2-3-1zM297 34l4 3m-1 1l3 1-1-3zM308 35l1 1m-1 1l3 0-1-2zM316 38l3-2m1 1l2-2-3 0zM327 35l1 1m0 1l2 1-1-3zM336 35l2 2m0 1l3-1-2-2zM346 34l2 3m-1 1l3 0-1-2zM357 35l0 1m-1 0l2 2 0-3zM365 37l2-1m0 2l3-2-3-1zM374 36l3 0m0 2l2-2-2-1zM384 37l2-1m0 2l2-2-2-1zM394 36l2 0m-1 2l3-1-2-2zM404 37l1 0m1 1l1-3-2 1zM413 36l2 0m0 2l3-1-3-2zM424 34l1 3m-1 0l2 2 0-3zM615 37l2-1m0 2l2-2-2-1zM68 25l1 2m-1 0l2 2 0-3zM78 23l1 4m-2 0l2 3 1-3zM86 26l2 1m0 1l2 0-1-2zM95 25l3 2m-1 1l3 0-1-2zM105 28l2-1m1 1l2-2-3-1zM116 24l1 3m-1 0l2 2 0-3zM125 26l1 1m0 1l2 0-1-2zM134 26l2 1m0 1l2-1-2-1zM165 25l0 1m-1 1l2 2 0-3zM172 26l3 1m-1 1l3 0-2-2zM181 28l4-2m0 2l2-3-3 0zM193 28l1-1m1 1l0-3-2 1zM202 26l1 1m0 1l3-1-2-1zM213 25l0 1m-1 1l2 1 0-2zM221 26l2 1m-1 1l3-1-2-1zM230 26l2 1m0 1l3 0-2-2zM241 26l1 0m-1 1l2 1-1-2zM249 26l3 1m0 1l2-1-2-1zM261 25l0 1m-1 1l2 1 0-2zM269 26l1 1m0 1l3-1-2-1zM279 27l1 0m0 1l2-1-2-1zM288 27l2 0m0 1l2-2-2 0zM301 28l-1-1m1-1l-2-1 0 3zM308 26l1 0m-1 1l3 1-1-2zM319 28l0-1m1 0l-1-2-1 2zM328 28l1-1m1 0l-1-2-2 2zM339 29l-1-2m1 0l-1-3-1 3zM346 25l2 2m-1 1l3 1-1-3zM356 26l1 1m0 0l2 1-1-2zM364 26l3 1m0 1l3 0-2-2zM375 27l1 0m0 1l3-1-3-1zM384 26l3 1m-1 1l3-1-2-1zM394 26l2 1m0 1l2-1-2-1zM404 29l2-3m1 1l0-3-2 2zM412 28l4-2m0 2l3-2-3-1zM607 29l1-2m1 0l-1-2-2 2zM614 27l4 0m0 1l2-2-3-1zM76 17l2 0m0 1l3-1-3-1zM87 19l1-2m1 1l1-3-3 1zM96 16l1 1m0 1l2 0-1-2zM106 15l1 2m-1 1l3 1-1-3zM116 15l1 2m-1 0l2 2 0-3zM125 16l1 1m0 1l2 0-1-2zM135 18l1-1m0 1l2-2-3 0zM165 15l0 2m-1 0l1 2 1-2zM176 15l-1 2m-2 0l0 3 3-2zM187 17l-3 0m0-1l-2 1 2 1zM195 16l-1 1m0-1l-2 2 3 0zM204 15l0 2m-1-1l0 3 2-2zM211 18l2-1m0 1l2-2-3 0zM223 15l0 2m-1 0l1 2 1-2zM230 16l2 1m0 1l2 0-1-2zM240 17l2 0m0 1l2-1-3-1zM250 19l2-2m0 1l1-3-2 1zM259 17l2 0m0 1l3-1-3-1zM268 16l3 1m0 2l3-1-2-2zM279 16l1 1m0 1l2 0-1-2zM288 17l2 0m0 1l2-1-2-1zM300 19l0-1m1 0l-1-3-1 2zM307 17l2 0m1 1l2-1-3-1zM328 16l0 1m-1 0l2 2 0-3zM340 17l-1 0m0-1l-3 1 3 1zM348 19l0-1m1 0l-1-3-1 2zM356 18l1-1m1 1l1-2-2 0zM368 16l-1 1m0-1l-1 2 2 0zM375 16l1 1m0 1l2 0-1-2zM384 16l2 1m0 1l2 0-1-2zM394 17l2 0m0 1l2-1-2-1zM577 16l2 1m-1 1l2 0-1-2zM587 15l1 2m-1 1l3 1-1-3zM596 18l2-1m0 1l2-2-3 0zM606 17l1 0m0 1l2-1-2-1zM616 18l1-1m1 1l0-2-2 1zM136 9l0-1m1 0l0-2-2 1zM146 6l0 1m-1-1l0 3 2-2zM154 9l1-2m1 1l1-2-2 0zM185 6l0 1m-1-1l-1 3 2-1zM205 7l-1 0m0-1l-2 2 2 0zM212 6l1 1m-1 1l2 0 0-2zM222 6l0 1m0 1l2 1-1-3zM232 6l0 1m-1 1l2 1 0-2zM241 6l1 1m-1 1l2 1 0-3zM250 6l1 1m0 1l2 0-1-2zM263 7l-1 0m-1-1l-1 2 2 0zM272 6l-1 1m-1-1l0 3 2-1zM282 5l-2 2m0 0l-1 2 2-1zM289 9l1-1m1 0l0-2-2 1zM355 6l3 1m-1 1l3 1-2-3zM369 8l-1 0m0-2l-2 1 1 2zM569 6l0 1m-1 0l1 2 1-2zM580 6l-1 1m-1-1l0 3 2-1zM588 6l0 1m-1 0l2 2 0-2zM600 7l-2 0m0-1l-2 1 3 1zM609 5l-2 3m-1-1l0 3 3-2zM618 6l-1 1m-1-1l0 3 2-2zM146-5l0 3m-2 0l2 3 1-3zM156-4l0 1m-1 0l0 2 2-1zM162-2l3 0m1 1l2-2-3-1zM222-4l1 1m-1 1l1 2 1-3zM231-4l1 2m-1 0l3 1-1-2zM240-2l2 0m0 1l2-1-3-1zM252-4l0 2m-1-1l0 3 2-2zM260-1l1-1m1 1l0-3-2 1zM270-1l1-1m0 1l1-3-2 1zM279-1l1-1m1 1l1-2-3 0zM569 0l0-2m1 0l-1-2-1 2zM579-5l0 3m-1-1l0 3 2-2zM589-5l-1 3m-1 0l1 2 2-2zM599-4l-1 1m-1 0l0 2 2-1zM609-4l-1 1m-1 0l-1 2 3-1zM616-3l1 1m0 1l2-1-2-1z" fill="#23231a" stroke="#23231a" stroke-width="0.95" stroke-linejoin="round" opacity="0.78"/>
<path d="M33.5,114.3 C36,113.2 41.2,110.9 48.9,107.6 C56.7,104.3 67.3,98.8 79.8,94.4 C92.4,90 110.8,81.9 124,81.1 C137.3,80.4 146.8,87.4 159.3,90 C171.9,92.5 185.8,95.9 199.1,96.6 C212.3,97.3 226.3,93.6 238.8,94.4 C251.4,95.1 263.9,98.1 274.2,101 C284.5,104 286.7,108.7 300.7,112 C314.7,115.4 343.4,122 358.1,120.9 C372.8,119.8 379.5,110.9 389,105.4 C398.6,99.9 408.9,93.6 415.5,87.8 C422.2,81.9 427.7,76 428.8,70.1 C429.9,64.2 427.3,56.5 422.2,52.4 C417,48.4 410.7,45.8 397.9,45.8 C385,45.8 361.1,49.1 344.9,52.4 C328.7,55.7 312.5,61.3 300.7,65.7 C288.9,70.1 282.3,76.7 274.2,78.9 C266.1,81.1 260.9,81.9 252.1,78.9 C243.3,76 230,66 221.2,61.3 C212.3,56.5 202,54.6 199.1,50.2 C196.2,45.8 196.9,38.8 203.5,34.8 C210.1,30.7 227.1,28.1 238.8,25.9 C250.6,23.7 265.4,23.3 274.2,21.5 C283,19.7 290.4,17.8 291.9,14.9 C293.3,11.9 284.5,5.7 283,3.8" fill="none" stroke="#f0201c" stroke-width="2.4" stroke-linejoin="round"/>
<path d="M287.1,-2.3 L289,2.7 L292.8,5.4 L300.9,7.7 L302.5,12.4 L309.4,12.8 L317.1,12.4 L320.9,14.3 L315.2,19 L307.5,23.2 L299.8,25.9 L291.7,28.3 L297.8,27.1 L305.5,24.4 L315.2,22.5 L322.8,19.4 L330.5,15.5 L334.4,12 L338.2,8.9 L342.1,4.6 L340.9,10.1 L345.9,9.7 L353.6,7 L359.4,4.3 L367.1,6.2 L374.8,7.4 L384.4,8.1 L392.1,11.2 L399.8,14.3 L403.7,18.2 L409.4,22.9 L415.2,26.7 L421,29.8 L424,32.5 L426.7,36.8 L432.5,41.4 L435.2,44.9 L442.1,50 L447.1,52.7 L446,57.7 L447.9,63.5 L447.1,72.4 L446.8,79 L449.1,86.8 L453.7,93.3 L456.4,98.4 L461,105.7 L469.1,108.1 L474.1,113.1 L476.8,118.9 L479.5,122.8 L485.6,130.5 L486.4,134.4 L492.9,143.7 L495.2,145.6 L501.8,151 L503.7,149.1 L500.6,145.6 L496,138.3 L491,129 L485.2,122.4 L483.3,117.7 L490.2,119.7 L493.3,124.3 L498.7,131.7 L504.5,138.3 L509.5,142.9 L516,149.5 L519.1,157.2 L519.9,160.7 L521.8,165.4 L526.4,168.9 L534.5,172 L542.2,175.4 L549.9,178.2 L557.6,178.9 L562.2,177.4 L569.1,182.4 L574.9,185.9 L581.4,187.8 L588,189.4 L591.4,192.5 L595.3,197.1 L595.7,201.4 L599.1,202.9 L603.4,207.2 L608.4,208.4 L613.4,211.5 L616.8,211.1 L616.4,207.6 L619.9,205.3 L623.4,208.4 L625.7,210.7 L627.6,224.2 L626.8,227.3 L623,230.8 L621.5,234.3 L617.6,236.6 L616.8,240.9 L614.9,243.2 L616.1,248.3 L618,249.8 L616.1,253.3 L612.6,256.4 L612.6,262.2 L615.3,265.3 L618.8,269.9 L622.2,275.8 L624.1,280.4 L655.7,280.4 L655.7,-4.3 L287.1,-4.3 Z M562.2,-4.3 L561,1.5 L562.2,9.3 L567.2,12.8 L569.9,18.2 L576.8,18.6 L584.5,21.3 L592.2,24.4 L598,25.9 L605.7,26.3 L608.8,32.5 L611.4,36.4 L615.3,40.7 L619.9,39.1 L621.8,32.1 L620.3,29 L626.5,24 L629.5,20.9 L630.7,-4.3 Z M630.7,137.1 L616.8,135.6 L615.7,141.8 L612.6,142.1 L610.3,137.9 L606.8,132.8 L606.4,128.2 L602.6,123.9 L596.8,124.7 L592.2,122 L585.7,122 L581,122.8 L581.8,127 L577.6,127 L571,125.1 L563.3,125.1 L558.3,127.8 L552.6,130.9 L550.3,134.4 L550.3,140.6 L549.1,146 L548.7,153.4 L551,157.2 L554.5,163.8 L557.6,167.3 L561.4,169.3 L569.1,167.7 L573.7,167.7 L576.4,163.1 L577.6,158 L584.5,156.5 L590.3,156.5 L588.4,161.5 L587.2,168.5 L585.7,173.9 L584.5,178.2 L588.4,178.5 L596.1,178.2 L601.8,178.5 L604.5,181.6 L603.8,187.5 L603,195.2 L604.5,199.1 L608.4,203.3 L612.2,205.7 L617.2,203.7 L621.1,202.9 L626.8,206.4 L630.7,206.4 Z" fill="#d8d9dc" fill-rule="evenodd" stroke="#000" stroke-width="1.1" stroke-linejoin="round"/>
<path d="M598,154.9 L603.8,153.8 L609.5,150.3 L615.3,150.3 L624.9,153.4 L630.7,156.5 L630.7,160.3 L624.9,159.6 L615.3,155.3 L609.5,153 L601.8,154.9 Z" fill="#d8d9dc" stroke="#000" stroke-width="1"/>
<path d="M-75.4,-4.3 L222.8,-4.3 L219,-1.9 L209.3,0.4 L201.6,4.3 L195.1,7.6 L186.2,6.2 L179.3,8.1 L172.8,7.4 L168.2,10.1 L167,15.1 L163.9,18.2 L165.1,21.7 L162.4,25.6 L155.5,29 L154.3,33.7 L149.3,35.2 L145.8,39.9 L142.8,42.6 L141.2,39.1 L140.1,32.5 L139.3,25.6 L138.5,20.9 L143.1,16.7 L148.5,15.1 L154.3,9.3 L157.8,4.6 L163.2,1.2 L168.2,-2.3 L168.9,-4.3 L140.1,-4.3 L141.2,1.2 L136.2,6.2 L133.5,9.3 L125.8,11.2 L120.8,10.5 L113.9,8.9 L105.4,10.1 L97,10.1 L88.1,10.5 L83.1,12.8 L76.6,17.8 L71.6,20.9 L67.7,26.7 L65.4,28.3 L70,31.4 L76.6,29.8 L80.8,32.9 L83.5,37.6 L81.2,43 L80,50 L79.3,53.1 L74.7,56.9 L71.2,60.4 L66.2,65.8 L60.4,70.5 L52.3,74 L47.3,72.8 L42.7,75.9 L38.1,75.5 L32.3,77.5 L26.6,80.2 L21.9,83.3 L18.5,85.2 L11.2,82.9 L7.3,81.3 L0.8,83.3 L-75.4,83.3 Z" fill="#d8d9dc" stroke="#000" stroke-width="1.1" stroke-linejoin="round"/>
<path d="M-10.4,212.6 L-6.9,214.2 L-1.2,218.8 L-5.4,222.7 L-6.5,232.8 L-2.3,236.3 L-5.4,237.8 L-8.1,241.7 L-11.9,247.5 L-75.4,247.5 L-75.4,212.6 Z" fill="#d8d9dc" stroke="#000" stroke-width="1.1" stroke-linejoin="round"/>
<path d="M43.9,244.8 L47.7,241.3 L55,242.4 L56.6,248.6 L60.8,252.5 L65,248.6 L70,245.5 L78.5,248.6 L84.3,250.2 L92,253.3 L95.8,254.8 L100.8,258.7 L103.5,261.8 L107.7,263.4 L108.9,265.7 L105.1,266.8 L106.6,270.3 L109.3,271.5 L111.6,274.6 L114.3,276.9 L120.1,279.6 L118.9,282.3 L78.5,282.3 L82.3,275 L79.3,271.5 L74.7,271.1 L71.6,272.3 L69.6,268.8 L73.1,266.5 L71.6,261 L67.7,258.7 L62.7,257.2 L58.9,255.6 L53.9,254.8 L50.8,255.6 L48.1,251.4 L52.7,248.6 L47.3,247.1 Z" fill="#d8d9dc" stroke="#000" stroke-width="1.1" stroke-linejoin="round"/>
<path d="M42.7,75.9 L38.9,80.9 L38.9,82.1 L34.2,89.5 L37.7,96.1 L37.7,100.7 L36.6,103.4 L33.1,104.6 L27.3,106.5 L25.8,105 L26.9,101.1 L26.6,96.8 L27.7,94.5 L23.1,93 L20,91.4 L21.5,86.8 L18.5,85.2 L12.7,86 L7.7,88.7 L8.1,84 L10.4,82.5 L6.5,81.3 L0.8,84.8 L-2.3,87.5 L-75.4,87.5" fill="none" stroke="#000" stroke-width="1.1" stroke-linejoin="round"/>
<path d="M-1.5,95.3 L3.5,93.3 L11.2,94.9 L10.8,97.2 L3.5,99.5 L-0.8,103.8 L0.4,107.3 L3.8,111.2 L5.4,114.6 L8.9,117.4 L8.9,120.1 L10,124.3 L8.5,128.2 L6.2,130.9 L3.8,134.8 L0.4,139.8 L-2.3,142.9" fill="none" stroke="#000" stroke-width="1.1" stroke-linejoin="round"/>
<path d="M1.9,150.3 L4.2,144.5 L7.3,141.8 L9.2,142.9 L8.5,146.8 L5.8,153 L4.2,154.5 L2.3,151.4 Z" fill="#ebeae6" stroke="#000" stroke-width="1" stroke-linejoin="round"/>
<path d="M87.3,29.8 L90.8,34.5 L90.8,40.3 L92,46.1 L95.4,50 L90.8,49.2 L88.1,54.6 L92,60 L88.1,60 L85.8,60.4 L85.8,52.7 L87,44.2 L85,39.1 L85,32.9 Z" fill="#ebeae6" stroke="#000" stroke-width="1" stroke-linejoin="round"/>
<path d="M85,63.9 L88.5,67 L93.1,68.9 L98.9,68.2 L100.8,71.7 L95,73.6 L91.2,77.1 L85.4,74.7 L82,75.1 L78.5,79 L78.1,76.3 L80.4,72 L83.9,70.5 Z" fill="#ebeae6" stroke="#000" stroke-width="1" stroke-linejoin="round"/>
<path d="M82,79 L84.3,82.5 L85.8,87.5 L82.3,91.4 L82,96.4 L81.2,101.1 L78.1,103.8 L75,103.4 L73.1,105.3 L68.1,105.7 L66.2,106.9 L62.3,110 L59.6,106.9 L55.4,106.1 L50,107.7 L46.6,108.4 L47.3,112.7 L45,118.1 L42.3,119.3 L40.8,117.7 L39.2,113.1 L38.5,110.4 L43.5,108.1 L49.3,102.6 L55,102.2 L61.2,101.9 L65,97.2 L68.1,94.9 L73.1,93.3 L77,90.2 L78.5,86 L78.1,82.5 Z" fill="#ebeae6" stroke="#000" stroke-width="1" stroke-linejoin="round"/>
<path d="M49.6,111.5 L51.6,113.1 L56.2,110.8 L58.1,108.1 L53.5,106.9 L50.4,108.4 Z" fill="#ebeae6" stroke="#000" stroke-width="1" stroke-linejoin="round"/>
<path d="M3.8,168.1 L10,168.1 L9.6,173.9 L7.3,178.5 L7.7,183.6 L11.5,184.7 L17.3,185.9 L17.3,190.9 L14.2,189.4 L11.9,188.2 L8.1,185.9 L5,186.3 L3.8,183.6 L1.9,182.4 L0.8,177 L3.1,177 L2.7,171.6 Z" fill="#d8d9dc" stroke="#000" stroke-width="1" stroke-linejoin="round"/>
<path d="M18.1,191.3 L23.1,196 L21.2,200.6 L16.9,199.8 L14.2,203.7 L11.2,198.3 L8.9,194 L13.1,195.2 L16.9,196 Z" fill="#d8d9dc" stroke="#000" stroke-width="1" stroke-linejoin="round"/>
<path d="M22.7,201.8 L26.6,208 L26.6,212.6 L23.9,215.3 L21.9,218 L17.7,214.2 L12.7,210.7 L9.2,212.6 L11.5,208.4 L16.2,206.4 L20,204.9 Z" fill="#d8d9dc" stroke="#000" stroke-width="1" stroke-linejoin="round"/>
<path d="M1.5,237.4 L4.6,234.7 L13.1,236.3 L18.9,235.1 L21.5,233.5 L18.5,238.2 L14.2,238.6 L7.3,237.8 L3.5,239 L3.5,244 L8.5,243.2 L14.6,242.8 L10.4,245.9 L6.9,247.1 L11.2,256.8 L7.3,258.3 L5,250.2 L3.1,251 L3.1,261 L-0.4,261.4 L-0.4,253.3 L-3.1,250.2 L-0.8,243.2 Z" fill="#d8d9dc" stroke="#000" stroke-width="1" stroke-linejoin="round"/>
<path d="M31.2,231.2 L34.6,233.5 L32.7,236.6 L35,238.6 L32.3,239 L34.2,242.8 L30.8,241.3 L30,235.9 Z" fill="#d8d9dc" stroke="#000" stroke-width="1" stroke-linejoin="round"/>
<path d="M32.3,251.4 L41.9,251.4 L43.1,254.5 L34.2,253.7 Z" fill="#d8d9dc" stroke="#000" stroke-width="1" stroke-linejoin="round"/>
<path d="M24.6,252.1 L29.2,252.1 L28.9,254.5 L25.4,254.5 Z" fill="#d8d9dc" stroke="#000" stroke-width="1" stroke-linejoin="round"/>
<path d="M16.9,275.8 L22.7,272.7 L29.6,272.3 L22.7,275.8 L18.1,279.2 L15,279.6 Z" fill="#d8d9dc" stroke="#000" stroke-width="1" stroke-linejoin="round"/>
<path d="M0.8,272.7 L11.2,271.1 L13.1,272.7 L5.4,274.2 L0.8,273.8 Z" fill="#d8d9dc" stroke="#000" stroke-width="1" stroke-linejoin="round"/>
<path d="M110.8,261 L115.1,261 L118.9,259.1 L122,258.7 L123.1,256 L125.8,256.4 L124.7,261 L118.5,263.8 L113.1,263.8 Z" fill="#d8d9dc" stroke="#000" stroke-width="1" stroke-linejoin="round"/>
<path d="M120.1,250.2 L125.4,252.1 L128.5,257.2 L127,258.3 L122.8,252.5 Z" fill="#d8d9dc" stroke="#000" stroke-width="1" stroke-linejoin="round"/>
<path d="M134.7,260.3 L139.7,264.1 L137.4,266.5 L134.7,262.6 Z" fill="#d8d9dc" stroke="#000" stroke-width="1" stroke-linejoin="round"/>
<path d="M142,265.7 L145.8,268 L149.7,270.7 L145.8,271.9 L142,268.8 Z" fill="#d8d9dc" stroke="#000" stroke-width="1" stroke-linejoin="round"/>
<path d="M153.5,272.7 L157.4,275.4 L160.5,276.9 L156.2,278.1 L153.9,276.1 Z" fill="#d8d9dc" stroke="#000" stroke-width="1" stroke-linejoin="round"/>
<path d="M157.4,271.9 L160.5,274.6 L163.2,280.4 L160.8,278.5 L158.5,274.6 Z" fill="#d8d9dc" stroke="#000" stroke-width="1" stroke-linejoin="round"/>
<path d="M325.2,161.5 L329.4,164.2 L326.3,166.5 L324.4,163.4 Z" fill="#d8d9dc" stroke="#000" stroke-width="0.9"/>
<path d="M322.5,158.4 L324.8,159.2 L322.8,160 Z" fill="#d8d9dc" stroke="#000" stroke-width="0.9"/>
<path d="M315.9,156.1 L318.2,157.2 L316.3,157.2 Z" fill="#d8d9dc" stroke="#000" stroke-width="0.9"/>
<path d="M310.1,153.8 L312.1,154.1 L310.9,154.9 Z" fill="#d8d9dc" stroke="#000" stroke-width="0.9"/>
<path d="M176.6,26.7 L184.3,28.3 L203.6,34.5 L208.6,35.2 L222.8,38.7 L230.5,40.3 L240.1,39.5 L245.9,39.1 L257.4,37.6 L267.1,36.4 L272.8,34.9 L280.5,32.9 L285.5,31 L290.9,29" fill="none" stroke="#000" stroke-width="1.4" stroke-dasharray="3 2.5"/>
<path d="M384.4,8.1 L392.1,11.2 L399.8,14.3 L403.7,18.2 L409.4,22.9 L415.2,26.7 L421,29.8 L424,32.5 L426.7,36.8 L432.5,41.4 L435.2,44.9 L442.1,50" fill="none" stroke="#000" stroke-width="3.2" stroke-linejoin="round"/>
<rect x="13" y="11" width="30" height="27" fill="#d3d1d3" filter="url(#fblur)"/>
<path d="M100.8,71.7 L107.4,67.4 L113.1,64.7 L118.9,60.8 L124.7,56.9 L130.4,52.7 L136.2,48 L140.8,43.8" fill="none" stroke="#000" stroke-width="1.3" stroke-dasharray="2.5 2"/>
<path d="M39.2,125.5 L34.2,131.3 L31.6,137.1 L22.7,144.1 L15,145.6" fill="none" stroke="#000" stroke-width="1.3" stroke-dasharray="2 3"/>
</g>
<rect x="0" y="0" width="625" height="277" fill="none" stroke="#000" stroke-width="1.7"/>
<line x1="-6.5" y1="7.4" x2="0" y2="7.4" stroke="#000" stroke-width="1.6"/>
<line x1="-6.5" y1="84.8" x2="0" y2="84.8" stroke="#000" stroke-width="1.6"/>
<line x1="-6.5" y1="162.3" x2="0" y2="162.3" stroke="#000" stroke-width="1.6"/>
<line x1="-6.5" y1="239.7" x2="0" y2="239.7" stroke="#000" stroke-width="1.6"/>
<line x1="78.5" y1="277" x2="78.5" y2="283" stroke="#000" stroke-width="1.6"/>
<text x="78.5" y="305" text-anchor="middle" class="mpb">140°E</text>
<line x1="174.7" y1="277" x2="174.7" y2="283" stroke="#000" stroke-width="1.6"/>
<text x="174.7" y="305" text-anchor="middle" class="mpb">165°E</text>
<line x1="270.9" y1="277" x2="270.9" y2="283" stroke="#000" stroke-width="1.6"/>
<text x="270.9" y="305" text-anchor="middle" class="mpb">170°W</text>
<line x1="367.1" y1="277" x2="367.1" y2="283" stroke="#000" stroke-width="1.6"/>
<text x="367.1" y="305" text-anchor="middle" class="mpb">145°W</text>
<line x1="463.3" y1="277" x2="463.3" y2="283" stroke="#000" stroke-width="1.6"/>
<text x="463.3" y="305" text-anchor="middle" class="mpb">120°W</text>
<line x1="559.5" y1="277" x2="559.5" y2="283" stroke="#000" stroke-width="1.6"/>
<text x="559.5" y="305" text-anchor="middle" class="mpb">95°W</text>
<text x="606" y="77" text-anchor="end" class="pl">Summer 2021</text>
</g>
</svg>
</body></html>
